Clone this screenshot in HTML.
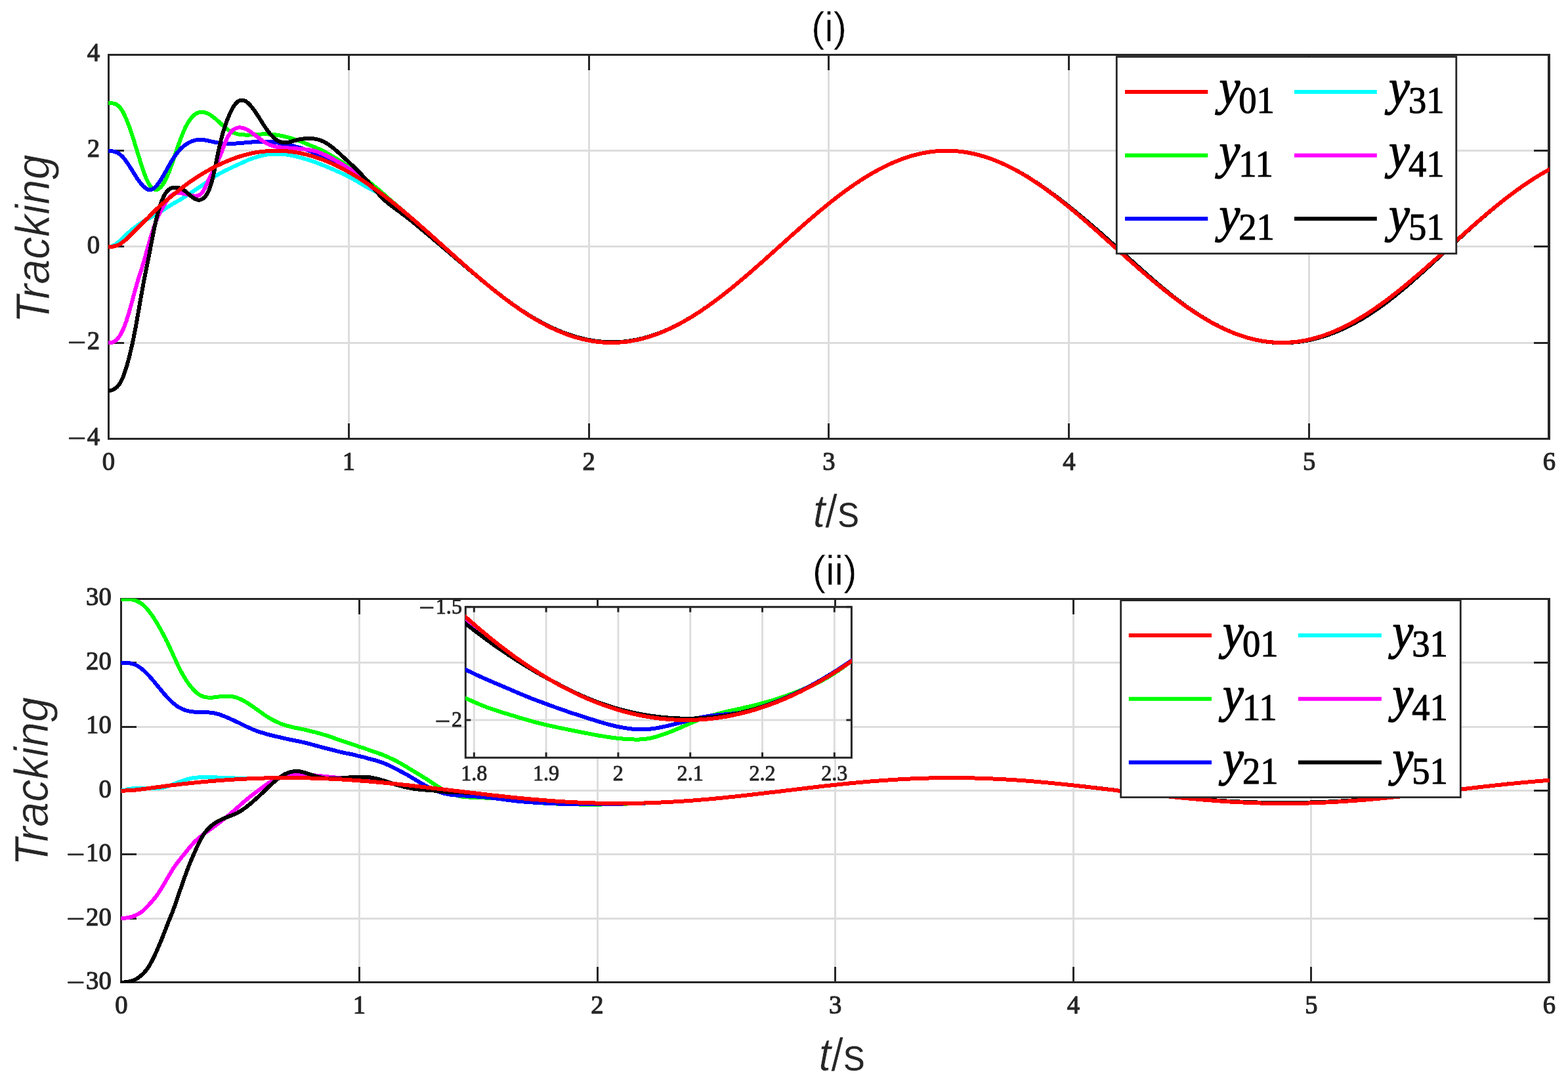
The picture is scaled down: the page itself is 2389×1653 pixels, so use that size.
<!DOCTYPE html>
<html lang="en"><head><meta charset="utf-8"><title>Tracking</title>
<style>html,body{margin:0;padding:0;background:#fff;}svg{display:block;}text{white-space:pre;}</style></head><body>
<svg xmlns="http://www.w3.org/2000/svg" width="2389" height="1653" viewBox="0 0 2389 1653">
<rect width="2389" height="1653" fill="#fff"/>
<defs>
<clipPath id="c1"><rect x="165.1" y="83.1" width="2195.7" height="585.5"/></clipPath>
<clipPath id="c2"><rect x="184.4" y="911.8000000000001" width="2176.5" height="585.4"/></clipPath>
<clipPath id="c3"><rect x="708.9" y="924.3000000000001" width="588.9" height="230.4"/></clipPath>
</defs>
<g id="ax1" shape-rendering="crispEdges">
<g stroke="#dddddd" stroke-width="3.0" fill="none">
<line x1="531.5" y1="83.5" x2="531.5" y2="668.5"/>
<line x1="897.5" y1="83.5" x2="897.5" y2="668.5"/>
<line x1="1262.5" y1="83.5" x2="1262.5" y2="668.5"/>
<line x1="1628.5" y1="83.5" x2="1628.5" y2="668.5"/>
<line x1="1994.5" y1="83.5" x2="1994.5" y2="668.5"/>
<line x1="165.5" y1="522.5" x2="2360.5" y2="522.5"/>
<line x1="165.5" y1="375.5" x2="2360.5" y2="375.5"/>
<line x1="165.5" y1="229.5" x2="2360.5" y2="229.5"/>
</g>
<g stroke="#262626" stroke-width="3.0" fill="none">
<line x1="531.5" y1="668.5" x2="531.5" y2="645.0"/>
<line x1="531.5" y1="83.5" x2="531.5" y2="107.0"/>
<line x1="897.5" y1="668.5" x2="897.5" y2="645.0"/>
<line x1="897.5" y1="83.5" x2="897.5" y2="107.0"/>
<line x1="1262.5" y1="668.5" x2="1262.5" y2="645.0"/>
<line x1="1262.5" y1="83.5" x2="1262.5" y2="107.0"/>
<line x1="1628.5" y1="668.5" x2="1628.5" y2="645.0"/>
<line x1="1628.5" y1="83.5" x2="1628.5" y2="107.0"/>
<line x1="1994.5" y1="668.5" x2="1994.5" y2="645.0"/>
<line x1="1994.5" y1="83.5" x2="1994.5" y2="107.0"/>
<line x1="165.5" y1="522.5" x2="189.0" y2="522.5"/>
<line x1="2360.5" y1="522.5" x2="2337.0" y2="522.5"/>
<line x1="165.5" y1="375.5" x2="189.0" y2="375.5"/>
<line x1="2360.5" y1="375.5" x2="2337.0" y2="375.5"/>
<line x1="165.5" y1="229.5" x2="189.0" y2="229.5"/>
<line x1="2360.5" y1="229.5" x2="2337.0" y2="229.5"/>
<rect x="165.5" y="83.5" width="2195.0" height="585.0"/>
<line x1="2358.5" y1="82.0" x2="2358.5" y2="670.0" stroke-width="1"/>
</g>
</g>
<g id="cv1" clip-path="url(#c1)" fill="none" stroke-width="6.0" stroke-linejoin="round" stroke-linecap="square" shape-rendering="crispEdges">
<polyline stroke="#00ff00" points="165.5,157.3 167.1,157.4 168.6,157.4 170.2,157.4 171.8,157.5 173.3,157.7 174.9,158.1 176.5,158.7 178.1,159.6 179.6,160.7 181.2,162.1 182.8,163.8 184.3,165.8 185.9,168.2 187.5,170.9 189.0,174.0 190.6,177.4 192.2,181.0 193.7,184.8 195.3,188.8 196.9,192.9 198.4,197.3 200.0,201.8 201.6,206.6 203.2,211.4 204.7,216.5 206.3,221.6 207.9,226.7 209.4,231.9 211.0,237.1 212.6,242.2 214.1,247.2 215.7,252.2 217.3,256.9 218.8,261.5 220.4,265.8 222.0,269.8 223.5,273.6 225.1,276.9 226.7,279.8 228.3,282.3 229.8,284.3 231.4,286.0 233.0,287.3 234.5,288.3 236.1,288.8 237.7,289.0 239.2,288.8 240.8,288.2 242.4,287.2 243.9,285.9 245.5,284.3 247.1,282.4 248.7,280.1 250.2,277.6 251.8,274.7 253.4,271.6 254.9,268.1 256.5,264.5 258.1,260.5 259.6,256.4 261.2,252.1 262.8,247.6 264.3,243.1 265.9,238.4 267.5,233.8 269.0,229.1 270.6,224.4 272.2,219.9 273.8,215.5 275.3,211.2 276.9,207.1 278.5,203.2 280.0,199.5 281.6,196.0 283.2,192.8 284.7,189.9 286.3,187.2 287.9,184.6 289.4,182.3 291.0,180.2 292.6,178.3 294.2,176.6 295.7,175.2 297.3,174.0 298.9,173.0 300.4,172.2 302.0,171.5 303.6,171.1 305.1,170.8 306.7,170.7 308.3,170.7 309.8,170.8 311.4,171.1 313.0,171.5 314.5,172.1 316.1,172.7 317.7,173.5 319.3,174.4 320.8,175.4 322.4,176.5 324.0,177.6 325.5,178.8 327.1,180.1 328.7,181.4 330.2,182.7 331.8,184.1 333.4,185.5 334.9,187.0 336.5,188.4 338.1,189.9 339.6,191.3 341.2,192.7 342.8,194.1 344.4,195.4 345.9,196.6 347.5,197.8 349.1,198.8 350.6,199.8 352.2,200.7 353.8,201.5 355.3,202.2 356.9,202.8 358.5,203.3 360.0,203.8 361.6,204.2 363.2,204.5 364.8,204.8 366.3,205.0 367.9,205.2 369.5,205.3 371.0,205.4 372.6,205.5 374.2,205.6 375.7,205.6 377.3,205.5 378.9,205.5 380.4,205.5 382.0,205.4 383.6,205.3 385.1,205.2 386.7,205.1 388.3,205.0 389.9,204.9 391.4,204.8 393.0,204.7 394.6,204.6 396.1,204.6 397.7,204.5 399.3,204.4 400.8,204.4 402.4,204.4 404.0,204.4 405.5,204.4 407.1,204.4 408.7,204.5 410.2,204.6 411.8,204.6 413.4,204.8 415.0,204.9 416.5,205.0 418.1,205.2 419.7,205.4 421.2,205.6 422.8,205.9 424.4,206.1 425.9,206.4 427.5,206.7 429.1,207.0 430.6,207.3 432.2,207.6 433.8,208.0 435.4,208.4 436.9,208.8 438.5,209.2 440.1,209.6 441.6,210.1 443.2,210.5 444.8,211.0 446.3,211.5 447.9,211.9 449.5,212.4 451.0,213.0 452.6,213.5 454.2,214.0 455.7,214.6 457.3,215.2 458.9,215.8 460.5,216.4 462.0,217.1 463.6,217.7 465.2,218.3 466.7,219.0 468.3,219.6 469.9,220.3 471.4,220.9 473.0,221.6 474.6,222.2 476.1,222.9 477.7,223.5 479.3,224.2 480.9,224.9 482.4,225.5 484.0,226.2 485.6,226.9 487.1,227.6 488.7,228.3 490.3,229.1 491.8,229.8 493.4,230.7 495.0,231.5 496.5,232.4 498.1,233.2 499.7,234.1 501.2,235.0 502.8,235.9 504.4,236.8 506.0,237.8 507.5,238.7 509.1,239.7 510.7,240.6 512.2,241.6 513.8,242.5 515.4,243.5 516.9,244.5 518.5,245.5 520.1,246.5 521.6,247.5 523.2,248.5 524.8,249.6 526.3,250.6 527.9,251.7 529.5,252.7 531.1,253.8 532.6,254.9 534.2,256.0 535.8,257.1 537.3,258.2 538.9,259.3 540.5,260.4 542.0,261.6 543.6,262.7 545.2,263.9 546.7,265.0 548.3,266.2 549.9,267.4 551.5,268.6 553.0,269.8 554.6,271.0 556.2,272.2 557.7,273.5 559.3,274.7 560.9,276.0 562.4,277.2 564.0,278.5 565.6,279.7 567.1,281.0 568.7,282.3 570.3,283.6 571.8,284.9 573.4,286.2 575.0,287.5 576.6,288.8 578.1,290.2 579.7,291.5 581.3,292.9 582.8,294.2 584.4,295.6 586.0,297.0 587.5,298.3 589.1,299.7 590.7,301.1 592.2,302.5 593.8,303.8 595.4,305.2 596.9,306.6 598.5,307.9 600.1,309.3 601.7,310.6 603.2,312.0 604.8,313.3 606.4,314.7 607.9,316.0 609.5,317.3 611.1,318.7 612.6,320.0 614.2,321.3 615.8,322.7 617.3,324.0 618.9,325.3 620.5,326.7 622.1,328.0 623.6,329.3 625.2,330.7 626.8,332.0 628.3,333.4 629.9,334.7 631.5,336.1 633.0,337.4 634.6,338.8 636.2,340.2 637.7,341.5 639.3,342.9 640.9,344.3 642.4,345.7 644.0,347.0 645.6,348.4 647.2,349.8 648.7,351.2 650.3,352.6 651.9,354.0 653.4,355.4 655.0,356.8 656.6,358.2 658.1,359.6 659.7,361.0 661.3,362.4 662.8,363.8 664.4,365.2 666.0,366.6 667.6,368.0 669.1,369.4 670.7,370.8 672.3,372.2 673.8,373.6 675.4,375.1 677.0,376.5 678.5,377.9 680.1,379.3 681.7,380.7 683.2,382.1 684.8,383.5 686.4,384.9 687.9,386.3 689.5,387.7 691.1,389.1 692.7,390.5 694.2,392.0 695.8,393.4 697.4,394.8 698.9,396.1 700.5,397.5 702.1,398.9 703.6,400.3 705.2,401.7 706.8,403.1 708.3,404.5 709.9,405.9 711.5,407.3 713.0,408.6 714.6,410.0 716.2,411.4 717.8,412.7 719.3,414.1 720.9,415.5 722.5,416.8 724.0,418.2 725.6,419.5 727.2,420.9 728.7,422.2 730.3,423.5 731.9,424.9 733.4,426.2 735.0,427.5 736.6,428.8 738.2,430.1 739.7,431.5 741.3,432.8 742.9,434.1 744.4,435.3 746.0,436.6 747.6,437.9 749.1,439.2 750.7,440.5 752.3,441.7 753.8,443.0 755.4,444.2 757.0,445.5 758.5,446.7 760.1,447.9 761.7,449.2 763.3,450.4 764.8,451.6 766.4,452.8 768.0,454.0 769.5,455.2 771.1,456.3 772.7,457.5 774.2,458.7 775.8,459.8 777.4,461.0 778.9,462.1 780.5,463.3 782.1,464.4 783.6,465.5 785.2,466.6 786.8,467.7 788.4,468.8 789.9,469.9 791.5,471.0 793.1,472.0 794.6,473.1 796.2,474.2 797.8,475.2 799.3,476.2 800.9,477.2 802.5,478.3 804.0,479.3 805.6,480.3 807.2,481.2 808.8,482.2 810.3,483.2 811.9,484.1 813.5,485.1 815.0,486.0 816.6,486.9 818.2,487.8 819.7,488.7 821.3,489.6 822.9,490.5 824.4,491.4 826.0,492.2 827.6,493.1 829.1,493.9 830.7,494.7 832.3,495.6 833.9,496.4 835.4,497.2 837.0,497.9 838.6,498.7 840.1,499.5 841.7,500.2 843.3,500.9 844.8,501.7 846.4,502.4 848.0,503.1 849.5,503.8 851.1,504.4 852.7,505.1 854.2,505.8 855.8,506.4 857.4,507.0 859.0,507.7 860.5,508.3 862.1,508.8 863.7,509.4 865.2,510.0 866.8,510.5 868.4,511.1 869.9,511.6 871.5,512.1 873.1,512.6 874.6,513.1 876.2,513.6 877.8,514.1 879.4,514.5 880.9,515.0 882.5,515.4 884.1,515.8 885.6,516.2 887.2,516.6 888.8,517.0 890.3,517.3 891.9,517.7 893.5,518.0 895.0,518.3 896.6,518.6 898.2,518.9 899.7,519.2 901.3,519.5 902.9,519.7 904.5,520.0 906.0,520.2 907.6,520.4 909.2,520.6 910.7,520.8 912.3,521.0 913.9,521.2 915.4,521.3 917.0,521.4 918.6,521.6 920.1,521.7 921.7,521.8 923.3,521.8 924.9,521.9 926.4,521.9 928.0,522.0 929.6,522.0 931.1,522.0 932.7,522.0 934.3,522.0 935.8,522.0 937.4,521.9 939.0,521.9 940.5,521.8 942.1,521.7 943.7,521.6 945.2,521.5 946.8,521.4 948.4,521.3 950.0,521.1 951.5,520.9 953.1,520.8 954.7,520.6 956.2,520.4 957.8,520.1 959.4,519.9 960.9,519.7 962.5,519.4 964.1,519.1 965.6,518.8 967.2,518.5 968.8,518.2 970.3,517.9 971.9,517.6 973.5,517.2 975.1,516.9 976.6,516.5 978.2,516.1 979.8,515.7 981.3,515.3 982.9,514.8 984.5,514.4 986.0,513.9 987.6,513.5 989.2,513.0 990.7,512.5 992.3,512.0 993.9,511.5 995.5,510.9 997.0,510.4 998.6,509.8 1000.2,509.2 1001.7,508.7 1003.3,508.1 1004.9,507.5 1006.4,506.8 1008.0,506.2 1009.6,505.6 1011.1,504.9 1012.7,504.2 1014.3,503.6 1015.8,502.9 1017.4,502.2 1019.0,501.4 1020.6,500.7 1022.1,500.0 1023.7,499.2 1025.3,498.5 1026.8,497.7 1028.4,496.9 1030.0,496.1 1031.5,495.3 1033.1,494.5 1034.7,493.7 1036.2,492.8 1037.8,492.0 1039.4,491.1 1040.9,490.2 1042.5,489.3 1044.1,488.4 1045.7,487.5 1047.2,486.6 1048.8,485.7 1050.4,484.8 1051.9,483.8 1053.5,482.9 1055.1,481.9 1056.6,480.9 1058.2,479.9 1059.8,478.9 1061.3,477.9 1062.9,476.9 1064.5,475.9 1066.1,474.9 1067.6,473.8 1069.2,472.8 1070.8,471.7 1072.3,470.6 1073.9,469.6 1075.5,468.5 1077.0,467.4 1078.6,466.3 1080.2,465.2 1081.7,464.0 1083.3,462.9 1084.9,461.8 1086.4,460.6 1088.0,459.5 1089.6,458.3 1091.2,457.2 1092.7,456.0 1094.3,454.8 1095.9,453.6 1097.4,452.4 1099.0,451.2 1100.6,450.0 1102.1,448.8 1103.7,447.5 1105.3,446.3 1106.8,445.1 1108.4,443.8 1110.0,442.6 1111.6,441.3 1113.1,440.1 1114.7,438.8 1116.3,437.5 1117.8,436.2 1119.4,434.9 1121.0,433.6 1122.5,432.3 1124.1,431.0 1125.7,429.7 1127.2,428.4 1128.8,427.1 1130.4,425.8 1131.9,424.5 1133.5,423.1 1135.1,421.8 1136.7,420.4 1138.2,419.1 1139.8,417.7 1141.4,416.4 1142.9,415.0 1144.5,413.7 1146.1,412.3 1147.6,410.9 1149.2,409.6 1150.8,408.2 1152.3,406.8 1153.9,405.4 1155.5,404.1 1157.0,402.7 1158.6,401.3 1160.2,399.9 1161.8,398.5 1163.3,397.1 1164.9,395.7 1166.5,394.3 1168.0,392.9 1169.6,391.5 1171.2,390.1 1172.7,388.7 1174.3,387.3 1175.9,385.9 1177.4,384.5 1179.0,383.1 1180.6,381.7 1182.2,380.3 1183.7,378.8 1185.3,377.4 1186.9,376.0 1188.4,374.6 1190.0,373.2 1191.6,371.8 1193.1,370.4 1194.7,369.0 1196.3,367.6 1197.8,366.2 1199.4,364.8 1201.0,363.3 1202.5,361.9 1204.1,360.5 1205.7,359.1 1207.3,357.7 1208.8,356.3 1210.4,354.9 1212.0,353.5 1213.5,352.2 1215.1,350.8 1216.7,349.4 1218.2,348.0 1219.8,346.6 1221.4,345.2 1222.9,343.8 1224.5,342.5 1226.1,341.1 1227.6,339.7 1229.2,338.4 1230.8,337.0 1232.4,335.6 1233.9,334.3 1235.5,332.9 1237.1,331.6 1238.6,330.3 1240.2,328.9 1241.8,327.6 1243.3,326.3 1244.9,324.9 1246.5,323.6 1248.0,322.3 1249.6,321.0 1251.2,319.7 1252.8,318.4 1254.3,317.1 1255.9,315.8 1257.5,314.5 1259.0,313.2 1260.6,312.0 1262.2,310.7 1263.7,309.4 1265.3,308.2 1266.9,306.9 1268.4,305.7 1270.0,304.5 1271.6,303.2 1273.1,302.0 1274.7,300.8 1276.3,299.6 1277.9,298.4 1279.4,297.2 1281.0,296.0 1282.6,294.8 1284.1,293.7 1285.7,292.5 1287.3,291.3 1288.8,290.2 1290.4,289.1 1292.0,287.9 1293.5,286.8 1295.1,285.7 1296.7,284.6 1298.3,283.5 1299.8,282.4 1301.4,281.3 1303.0,280.2 1304.5,279.2 1306.1,278.1 1307.7,277.1 1309.2,276.1 1310.8,275.0 1312.4,274.0 1313.9,273.0 1315.5,272.0 1317.1,271.0 1318.6,270.0 1320.2,269.1 1321.8,268.1 1323.4,267.2 1324.9,266.2 1326.5,265.3 1328.1,264.4 1329.6,263.5 1331.2,262.6 1332.8,261.7 1334.3,260.8 1335.9,260.0 1337.5,259.1 1339.0,258.3 1340.6,257.4 1342.2,256.6 1343.7,255.8 1345.3,255.0 1346.9,254.2 1348.5,253.4 1350.0,252.7 1351.6,251.9 1353.2,251.2 1354.7,250.4 1356.3,249.7 1357.9,249.0 1359.4,248.3 1361.0,247.6 1362.6,247.0 1364.1,246.3 1365.7,245.7 1367.3,245.0 1368.9,244.4 1370.4,243.8 1372.0,243.2 1373.6,242.6 1375.1,242.0 1376.7,241.5 1378.3,240.9 1379.8,240.4 1381.4,239.9 1383.0,239.3 1384.5,238.8 1386.1,238.4 1387.7,237.9 1389.2,237.4 1390.8,237.0 1392.4,236.5 1394.0,236.1 1395.5,235.7 1397.1,235.3 1398.7,234.9 1400.2,234.6 1401.8,234.2 1403.4,233.9 1404.9,233.5 1406.5,233.2 1408.1,232.9 1409.6,232.6 1411.2,232.4 1412.8,232.1 1414.3,231.9 1415.9,231.6 1417.5,231.4 1419.1,231.2 1420.6,231.0 1422.2,230.8 1423.8,230.6 1425.3,230.5 1426.9,230.3 1428.5,230.2 1430.0,230.1 1431.6,230.0 1433.2,229.9 1434.7,229.8 1436.3,229.8 1437.9,229.7 1439.5,229.7 1441.0,229.7 1442.6,229.7 1444.2,229.7 1445.7,229.7 1447.3,229.7 1448.9,229.8 1450.4,229.9 1452.0,229.9 1453.6,230.0 1455.1,230.1 1456.7,230.2 1458.3,230.4 1459.8,230.5 1461.4,230.7 1463.0,230.8 1464.6,231.0 1466.1,231.2 1467.7,231.4 1469.3,231.7 1470.8,231.9 1472.4,232.1 1474.0,232.4 1475.5,232.7 1477.1,233.0 1478.7,233.3 1480.2,233.6 1481.8,233.9 1483.4,234.3 1485.0,234.6 1486.5,235.0 1488.1,235.4 1489.7,235.8 1491.2,236.2 1492.8,236.6 1494.4,237.1 1495.9,237.5 1497.5,238.0 1499.1,238.5 1500.6,238.9 1502.2,239.4 1503.8,240.0 1505.3,240.5 1506.9,241.0 1508.5,241.6 1510.1,242.1 1511.6,242.7 1513.2,243.3 1514.8,243.9 1516.3,244.5 1517.9,245.1 1519.5,245.8 1521.0,246.4 1522.6,247.1 1524.2,247.8 1525.7,248.4 1527.3,249.1 1528.9,249.9 1530.4,250.6 1532.0,251.3 1533.6,252.0 1535.2,252.8 1536.7,253.6 1538.3,254.4 1539.9,255.1 1541.4,255.9 1543.0,256.8 1544.6,257.6 1546.1,258.4 1547.7,259.3 1549.3,260.1 1550.8,261.0 1552.4,261.9 1554.0,262.7 1555.6,263.6 1557.1,264.6 1558.7,265.5 1560.3,266.4 1561.8,267.3 1563.4,268.3 1565.0,269.3 1566.5,270.2 1568.1,271.2 1569.7,272.2 1571.2,273.2 1572.8,274.2 1574.4,275.2 1575.9,276.2 1577.5,277.3 1579.1,278.3 1580.7,279.4 1582.2,280.5 1583.8,281.5 1585.4,282.6 1586.9,283.7 1588.5,284.8 1590.1,285.9 1591.6,287.0 1593.2,288.1 1594.8,289.3 1596.3,290.4 1597.9,291.6 1599.5,292.7 1601.0,293.9 1602.6,295.1 1604.2,296.2 1605.8,297.4 1607.3,298.6 1608.9,299.8 1610.5,301.0 1612.0,302.2 1613.6,303.5 1615.2,304.7 1616.7,305.9 1618.3,307.2 1619.9,308.4 1621.4,309.7 1623.0,310.9 1624.6,312.2 1626.2,313.5 1627.7,314.8 1629.3,316.0 1630.9,317.3 1632.4,318.6 1634.0,319.9 1635.6,321.2 1637.1,322.5 1638.7,323.9 1640.3,325.2 1641.8,326.5 1643.4,327.8 1645.0,329.2 1646.5,330.5 1648.1,331.8 1649.7,333.2 1651.3,334.5 1652.8,335.9 1654.4,337.3 1656.0,338.6 1657.5,340.0 1659.1,341.4 1660.7,342.7 1662.2,344.1 1663.8,345.5 1665.4,346.9 1666.9,348.2 1668.5,349.6 1670.1,351.0 1671.7,352.4 1673.2,353.8 1674.8,355.2 1676.4,356.6 1677.9,358.0 1679.5,359.4 1681.1,360.8 1682.6,362.2 1684.2,363.6 1685.8,365.0 1687.3,366.4 1688.9,367.8 1690.5,369.2 1692.0,370.7 1693.6,372.1 1695.2,373.5 1696.8,374.9 1698.3,376.3 1699.9,377.7 1701.5,379.1 1703.0,380.5 1704.6,381.9 1706.2,383.3 1707.7,384.8 1709.3,386.2 1710.9,387.6 1712.4,389.0 1714.0,390.4 1715.6,391.8 1717.1,393.2 1718.7,394.6 1720.3,396.0 1721.9,397.4 1723.4,398.8 1725.0,400.2 1726.6,401.5 1728.1,402.9 1729.7,404.3 1731.3,405.7 1732.8,407.1 1734.4,408.5 1736.0,409.8 1737.5,411.2 1739.1,412.6 1740.7,413.9 1742.3,415.3 1743.8,416.6 1745.4,418.0 1747.0,419.4 1748.5,420.7 1750.1,422.0 1751.7,423.4 1753.2,424.7 1754.8,426.0 1756.4,427.4 1757.9,428.7 1759.5,430.0 1761.1,431.3 1762.6,432.6 1764.2,433.9 1765.8,435.2 1767.4,436.5 1768.9,437.7 1770.5,439.0 1772.1,440.3 1773.6,441.6 1775.2,442.8 1776.8,444.1 1778.3,445.3 1779.9,446.5 1781.5,447.8 1783.0,449.0 1784.6,450.2 1786.2,451.4 1787.7,452.6 1789.3,453.8 1790.9,455.0 1792.5,456.2 1794.0,457.4 1795.6,458.5 1797.2,459.7 1798.7,460.9 1800.3,462.0 1801.9,463.1 1803.4,464.3 1805.0,465.4 1806.6,466.5 1808.1,467.6 1809.7,468.7 1811.3,469.8 1812.9,470.8 1814.4,471.9 1816.0,473.0 1817.6,474.0 1819.1,475.1 1820.7,476.1 1822.3,477.1 1823.8,478.1 1825.4,479.1 1827.0,480.1 1828.5,481.1 1830.1,482.1 1831.7,483.0 1833.2,484.0 1834.8,484.9 1836.4,485.9 1838.0,486.8 1839.5,487.7 1841.1,488.6 1842.7,489.5 1844.2,490.4 1845.8,491.3 1847.4,492.1 1848.9,493.0 1850.5,493.8 1852.1,494.6 1853.6,495.5 1855.2,496.3 1856.8,497.1 1858.3,497.8 1859.9,498.6 1861.5,499.4 1863.1,500.1 1864.6,500.9 1866.2,501.6 1867.8,502.3 1869.3,503.0 1870.9,503.7 1872.5,504.4 1874.0,505.0 1875.6,505.7 1877.2,506.3 1878.7,507.0 1880.3,507.6 1881.9,508.2 1883.5,508.8 1885.0,509.4 1886.6,509.9 1888.2,510.5 1889.7,511.0 1891.3,511.6 1892.9,512.1 1894.4,512.6 1896.0,513.1 1897.6,513.5 1899.1,514.0 1900.7,514.5 1902.3,514.9 1903.8,515.3 1905.4,515.8 1907.0,516.2 1908.6,516.5 1910.1,516.9 1911.7,517.3 1913.3,517.6 1914.8,518.0 1916.4,518.3 1918.0,518.6 1919.5,518.9 1921.1,519.2 1922.7,519.5 1924.2,519.7 1925.8,520.0 1927.4,520.2 1929.0,520.4 1930.5,520.6 1932.1,520.8 1933.7,521.0 1935.2,521.1 1936.8,521.3 1938.4,521.4 1939.9,521.5 1941.5,521.6 1943.1,521.7 1944.6,521.8 1946.2,521.9 1947.8,521.9 1949.3,522.0 1950.9,522.0 1952.5,522.0 1954.1,522.0 1955.6,522.0 1957.2,522.0 1958.8,521.9 1960.3,521.9 1961.9,521.8 1963.5,521.7 1965.0,521.6 1966.6,521.5 1968.2,521.4 1969.7,521.3 1971.3,521.1 1972.9,521.0 1974.4,520.8 1976.0,520.6 1977.6,520.4 1979.2,520.2 1980.7,519.9 1982.3,519.7 1983.9,519.4 1985.4,519.2 1987.0,518.9 1988.6,518.6 1990.1,518.3 1991.7,517.9 1993.3,517.6 1994.8,517.3 1996.4,516.9 1998.0,516.5 1999.6,516.1 2001.1,515.7 2002.7,515.3 2004.3,514.9 2005.8,514.4 2007.4,514.0 2009.0,513.5 2010.5,513.0 2012.1,512.5 2013.7,512.0 2015.2,511.5 2016.8,511.0 2018.4,510.4 2019.9,509.9 2021.5,509.3 2023.1,508.7 2024.7,508.1 2026.2,507.5 2027.8,506.9 2029.4,506.3 2030.9,505.6 2032.5,505.0 2034.1,504.3 2035.6,503.6 2037.2,503.0 2038.8,502.2 2040.3,501.5 2041.9,500.8 2043.5,500.1 2045.0,499.3 2046.6,498.6 2048.2,497.8 2049.8,497.0 2051.3,496.2 2052.9,495.4 2054.5,494.6 2056.0,493.8 2057.6,492.9 2059.2,492.1 2060.7,491.2 2062.3,490.3 2063.9,489.5 2065.4,488.6 2067.0,487.7 2068.6,486.7 2070.2,485.8 2071.7,484.9 2073.3,483.9 2074.9,483.0 2076.4,482.0 2078.0,481.0 2079.6,480.1 2081.1,479.1 2082.7,478.1 2084.3,477.1 2085.8,476.0 2087.4,475.0 2089.0,474.0 2090.5,472.9 2092.1,471.8 2093.7,470.8 2095.3,469.7 2096.8,468.6 2098.4,467.5 2100.0,466.4 2101.5,465.3 2103.1,464.2 2104.7,463.1 2106.2,461.9 2107.8,460.8 2109.4,459.6 2110.9,458.5 2112.5,457.3 2114.1,456.1 2115.7,454.9 2117.2,453.8 2118.8,452.6 2120.4,451.4 2121.9,450.1 2123.5,448.9 2125.1,447.7 2126.6,446.5 2128.2,445.2 2129.8,444.0 2131.3,442.7 2132.9,441.5 2134.5,440.2 2136.0,438.9 2137.6,437.7 2139.2,436.4 2140.8,435.1 2142.3,433.8 2143.9,432.5 2145.5,431.2 2147.0,429.9 2148.6,428.6 2150.2,427.3 2151.7,425.9 2153.3,424.6 2154.9,423.3 2156.4,421.9 2158.0,420.6 2159.6,419.3 2161.1,417.9 2162.7,416.6 2164.3,415.2 2165.9,413.8 2167.4,412.5 2169.0,411.1 2170.6,409.7 2172.1,408.4 2173.7,407.0 2175.3,405.6 2176.8,404.2 2178.4,402.8 2180.0,401.5 2181.5,400.1 2183.1,398.7 2184.7,397.3 2186.3,395.9 2187.8,394.5 2189.4,393.1 2191.0,391.7 2192.5,390.3 2194.1,388.9 2195.7,387.5 2197.2,386.1 2198.8,384.7 2200.4,383.2 2201.9,381.8 2203.5,380.4 2205.1,379.0 2206.6,377.6 2208.2,376.2 2209.8,374.8 2211.4,373.4 2212.9,372.0 2214.5,370.6 2216.1,369.1 2217.6,367.7 2219.2,366.3 2220.8,364.9 2222.3,363.5 2223.9,362.1 2225.5,360.7 2227.0,359.3 2228.6,357.9 2230.2,356.5 2231.7,355.1 2233.3,353.7 2234.9,352.3 2236.5,350.9 2238.0,349.5 2239.6,348.2 2241.2,346.8 2242.7,345.4 2244.3,344.0 2245.9,342.6 2247.4,341.3 2249.0,339.9 2250.6,338.5 2252.1,337.2 2253.7,335.8 2255.3,334.5 2256.9,333.1 2258.4,331.8 2260.0,330.4 2261.6,329.1 2263.1,327.7 2264.7,326.4 2266.3,325.1 2267.8,323.8 2269.4,322.5 2271.0,321.1 2272.5,319.8 2274.1,318.5 2275.7,317.2 2277.2,316.0 2278.8,314.7 2280.4,313.4 2282.0,312.1 2283.5,310.9 2285.1,309.6 2286.7,308.3 2288.2,307.1 2289.8,305.8 2291.4,304.6 2292.9,303.4 2294.5,302.2 2296.1,300.9 2297.6,299.7 2299.2,298.5 2300.8,297.3 2302.4,296.2 2303.9,295.0 2305.5,293.8 2307.1,292.6 2308.6,291.5 2310.2,290.3 2311.8,289.2 2313.3,288.1 2314.9,286.9 2316.5,285.8 2318.0,284.7 2319.6,283.6 2321.2,282.5 2322.7,281.5 2324.3,280.4 2325.9,279.3 2327.5,278.3 2329.0,277.2 2330.6,276.2 2332.2,275.2 2333.7,274.1 2335.3,273.1 2336.9,272.1 2338.4,271.1 2340.0,270.2 2341.6,269.2 2343.1,268.2 2344.7,267.3 2346.3,266.3 2347.8,265.4 2349.4,264.5 2351.0,263.6 2352.6,262.7 2354.1,261.8 2355.7,260.9 2357.3,260.1 2358.8,259.2 2360.4,258.4"/>
<polyline stroke="#0000ff" points="165.5,230.1 167.1,230.1 168.6,230.2 170.2,230.3 171.8,230.5 173.3,230.7 174.9,231.1 176.5,231.7 178.1,232.4 179.6,233.2 181.2,234.1 182.8,235.3 184.3,236.6 185.9,238.0 187.5,239.6 189.0,241.5 190.6,243.5 192.2,245.6 193.7,247.9 195.3,250.1 196.9,252.5 198.4,254.9 200.0,257.4 201.6,260.0 203.2,262.6 204.7,265.1 206.3,267.6 207.9,270.1 209.4,272.5 211.0,274.7 212.6,276.9 214.1,278.9 215.7,280.8 217.3,282.5 218.8,284.1 220.4,285.5 222.0,286.8 223.5,287.8 225.1,288.6 226.7,289.0 228.3,289.1 229.8,288.9 231.4,288.5 233.0,287.7 234.5,286.7 236.1,285.4 237.7,283.8 239.2,282.0 240.8,280.0 242.4,277.9 243.9,275.6 245.5,273.1 247.1,270.6 248.7,267.9 250.2,265.2 251.8,262.4 253.4,259.6 254.9,256.7 256.5,253.9 258.1,251.2 259.6,248.4 261.2,245.8 262.8,243.3 264.3,240.8 265.9,238.5 267.5,236.3 269.0,234.1 270.6,232.2 272.2,230.3 273.8,228.5 275.3,226.8 276.9,225.3 278.5,223.8 280.0,222.5 281.6,221.3 283.2,220.2 284.7,219.2 286.3,218.2 287.9,217.4 289.4,216.6 291.0,215.8 292.6,215.2 294.2,214.6 295.7,214.1 297.3,213.7 298.9,213.3 300.4,213.1 302.0,212.9 303.6,212.8 305.1,212.8 306.7,212.8 308.3,212.9 309.8,213.1 311.4,213.3 313.0,213.6 314.5,213.8 316.1,214.2 317.7,214.5 319.3,214.9 320.8,215.2 322.4,215.6 324.0,215.9 325.5,216.3 327.1,216.6 328.7,216.9 330.2,217.2 331.8,217.5 333.4,217.7 334.9,218.0 336.5,218.2 338.1,218.3 339.6,218.5 341.2,218.6 342.8,218.7 344.4,218.8 345.9,218.8 347.5,218.9 349.1,218.9 350.6,218.9 352.2,218.8 353.8,218.8 355.3,218.7 356.9,218.7 358.5,218.6 360.0,218.5 361.6,218.4 363.2,218.3 364.8,218.1 366.3,218.0 367.9,217.9 369.5,217.7 371.0,217.6 372.6,217.4 374.2,217.3 375.7,217.1 377.3,217.0 378.9,216.9 380.4,216.7 382.0,216.6 383.6,216.5 385.1,216.4 386.7,216.3 388.3,216.2 389.9,216.1 391.4,216.1 393.0,216.0 394.6,215.9 396.1,215.9 397.7,215.9 399.3,215.8 400.8,215.8 402.4,215.8 404.0,215.8 405.5,215.8 407.1,215.9 408.7,215.9 410.2,216.0 411.8,216.1 413.4,216.2 415.0,216.3 416.5,216.5 418.1,216.7 419.7,216.9 421.2,217.1 422.8,217.4 424.4,217.7 425.9,218.0 427.5,218.3 429.1,218.6 430.6,218.9 432.2,219.3 433.8,219.6 435.4,219.9 436.9,220.3 438.5,220.6 440.1,220.9 441.6,221.3 443.2,221.6 444.8,221.9 446.3,222.3 447.9,222.7 449.5,223.1 451.0,223.5 452.6,223.9 454.2,224.3 455.7,224.7 457.3,225.2 458.9,225.7 460.5,226.1 462.0,226.6 463.6,227.1 465.2,227.6 466.7,228.2 468.3,228.7 469.9,229.3 471.4,229.8 473.0,230.4 474.6,231.1 476.1,231.8 477.7,232.6 479.3,233.4 480.9,234.3 482.4,235.3 484.0,236.4 485.6,237.4 487.1,238.4 488.7,239.4 490.3,240.4 491.8,241.2 493.4,242.1 495.0,242.8 496.5,243.6 498.1,244.3 499.7,245.0 501.2,245.7 502.8,246.4 504.4,247.2 506.0,247.9 507.5,248.7 509.1,249.4 510.7,250.2 512.2,251.0 513.8,251.8 515.4,252.6 516.9,253.4 518.5,254.3 520.1,255.1 521.6,256.0 523.2,256.9 524.8,257.8 526.3,258.7 527.9,259.6 529.5,260.5 531.1,261.5 532.6,262.4 534.2,263.3 535.8,264.3 537.3,265.3 538.9,266.2 540.5,267.2 542.0,268.2 543.6,269.2 545.2,270.2 546.7,271.2 548.3,272.2 549.9,273.3 551.5,274.3 553.0,275.3 554.6,276.4 556.2,277.4 557.7,278.5 559.3,279.5 560.9,280.6 562.4,281.7 564.0,282.7 565.6,283.8 567.1,284.9 568.7,286.0 570.3,287.2 571.8,288.3 573.4,289.4 575.0,290.6 576.6,291.7 578.1,292.9 579.7,294.0 581.3,295.2 582.8,296.4 584.4,297.6 586.0,298.8 587.5,300.0 589.1,301.2 590.7,302.4 592.2,303.6 593.8,304.8 595.4,306.1 596.9,307.3 598.5,308.6 600.1,309.8 601.7,311.1 603.2,312.4 604.8,313.6 606.4,314.9 607.9,316.2 609.5,317.5 611.1,318.8 612.6,320.1 614.2,321.4 615.8,322.7 617.3,324.0 618.9,325.3 620.5,326.7 622.1,328.0 623.6,329.3 625.2,330.7 626.8,332.0 628.3,333.4 629.9,334.7 631.5,336.1 633.0,337.4 634.6,338.8 636.2,340.2 637.7,341.5 639.3,342.9 640.9,344.3 642.4,345.7 644.0,347.0 645.6,348.4 647.2,349.8 648.7,351.2 650.3,352.6 651.9,354.0 653.4,355.4 655.0,356.8 656.6,358.2 658.1,359.6 659.7,361.0 661.3,362.4 662.8,363.8 664.4,365.2 666.0,366.6 667.6,368.0 669.1,369.4 670.7,370.8 672.3,372.2 673.8,373.6 675.4,375.1 677.0,376.5 678.5,377.9 680.1,379.3 681.7,380.7 683.2,382.1 684.8,383.5 686.4,384.9 687.9,386.3 689.5,387.7 691.1,389.1 692.7,390.5 694.2,392.0 695.8,393.4 697.4,394.8 698.9,396.1 700.5,397.5 702.1,398.9 703.6,400.3 705.2,401.7 706.8,403.1 708.3,404.5 709.9,405.9 711.5,407.3 713.0,408.6 714.6,410.0 716.2,411.4 717.8,412.7 719.3,414.1 720.9,415.5 722.5,416.8 724.0,418.2 725.6,419.5 727.2,420.9 728.7,422.2 730.3,423.5 731.9,424.9 733.4,426.2 735.0,427.5 736.6,428.8 738.2,430.1 739.7,431.5 741.3,432.8 742.9,434.1 744.4,435.3 746.0,436.6 747.6,437.9 749.1,439.2 750.7,440.5 752.3,441.7 753.8,443.0 755.4,444.2 757.0,445.5 758.5,446.7 760.1,447.9 761.7,449.2 763.3,450.4 764.8,451.6 766.4,452.8 768.0,454.0 769.5,455.2 771.1,456.3 772.7,457.5 774.2,458.7 775.8,459.8 777.4,461.0 778.9,462.1 780.5,463.3 782.1,464.4 783.6,465.5 785.2,466.6 786.8,467.7 788.4,468.8 789.9,469.9 791.5,471.0 793.1,472.0 794.6,473.1 796.2,474.2 797.8,475.2 799.3,476.2 800.9,477.2 802.5,478.3 804.0,479.3 805.6,480.3 807.2,481.2 808.8,482.2 810.3,483.2 811.9,484.1 813.5,485.1 815.0,486.0 816.6,486.9 818.2,487.8 819.7,488.7 821.3,489.6 822.9,490.5 824.4,491.4 826.0,492.2 827.6,493.1 829.1,493.9 830.7,494.7 832.3,495.6 833.9,496.4 835.4,497.2 837.0,497.9 838.6,498.7 840.1,499.5 841.7,500.2 843.3,500.9 844.8,501.7 846.4,502.4 848.0,503.1 849.5,503.8 851.1,504.4 852.7,505.1 854.2,505.8 855.8,506.4 857.4,507.0 859.0,507.7 860.5,508.3 862.1,508.8 863.7,509.4 865.2,510.0 866.8,510.5 868.4,511.1 869.9,511.6 871.5,512.1 873.1,512.6 874.6,513.1 876.2,513.6 877.8,514.1 879.4,514.5 880.9,515.0 882.5,515.4 884.1,515.8 885.6,516.2 887.2,516.6 888.8,517.0 890.3,517.3 891.9,517.7 893.5,518.0 895.0,518.3 896.6,518.6 898.2,518.9 899.7,519.2 901.3,519.5 902.9,519.7 904.5,520.0 906.0,520.2 907.6,520.4 909.2,520.6 910.7,520.8 912.3,521.0 913.9,521.2 915.4,521.3 917.0,521.4 918.6,521.6 920.1,521.7 921.7,521.8 923.3,521.8 924.9,521.9 926.4,521.9 928.0,522.0 929.6,522.0 931.1,522.0 932.7,522.0 934.3,522.0 935.8,522.0 937.4,521.9 939.0,521.9 940.5,521.8 942.1,521.7 943.7,521.6 945.2,521.5 946.8,521.4 948.4,521.3 950.0,521.1 951.5,520.9 953.1,520.8 954.7,520.6 956.2,520.4 957.8,520.1 959.4,519.9 960.9,519.7 962.5,519.4 964.1,519.1 965.6,518.8 967.2,518.5 968.8,518.2 970.3,517.9 971.9,517.6 973.5,517.2 975.1,516.9 976.6,516.5 978.2,516.1 979.8,515.7 981.3,515.3 982.9,514.8 984.5,514.4 986.0,513.9 987.6,513.5 989.2,513.0 990.7,512.5 992.3,512.0 993.9,511.5 995.5,510.9 997.0,510.4 998.6,509.8 1000.2,509.2 1001.7,508.7 1003.3,508.1 1004.9,507.5 1006.4,506.8 1008.0,506.2 1009.6,505.6 1011.1,504.9 1012.7,504.2 1014.3,503.6 1015.8,502.9 1017.4,502.2 1019.0,501.4 1020.6,500.7 1022.1,500.0 1023.7,499.2 1025.3,498.5 1026.8,497.7 1028.4,496.9 1030.0,496.1 1031.5,495.3 1033.1,494.5 1034.7,493.7 1036.2,492.8 1037.8,492.0 1039.4,491.1 1040.9,490.2 1042.5,489.3 1044.1,488.4 1045.7,487.5 1047.2,486.6 1048.8,485.7 1050.4,484.8 1051.9,483.8 1053.5,482.9 1055.1,481.9 1056.6,480.9 1058.2,479.9 1059.8,478.9 1061.3,477.9 1062.9,476.9 1064.5,475.9 1066.1,474.9 1067.6,473.8 1069.2,472.8 1070.8,471.7 1072.3,470.6 1073.9,469.6 1075.5,468.5 1077.0,467.4 1078.6,466.3 1080.2,465.2 1081.7,464.0 1083.3,462.9 1084.9,461.8 1086.4,460.6 1088.0,459.5 1089.6,458.3 1091.2,457.2 1092.7,456.0 1094.3,454.8 1095.9,453.6 1097.4,452.4 1099.0,451.2 1100.6,450.0 1102.1,448.8 1103.7,447.5 1105.3,446.3 1106.8,445.1 1108.4,443.8 1110.0,442.6 1111.6,441.3 1113.1,440.1 1114.7,438.8 1116.3,437.5 1117.8,436.2 1119.4,434.9 1121.0,433.6 1122.5,432.3 1124.1,431.0 1125.7,429.7 1127.2,428.4 1128.8,427.1 1130.4,425.8 1131.9,424.5 1133.5,423.1 1135.1,421.8 1136.7,420.4 1138.2,419.1 1139.8,417.7 1141.4,416.4 1142.9,415.0 1144.5,413.7 1146.1,412.3 1147.6,410.9 1149.2,409.6 1150.8,408.2 1152.3,406.8 1153.9,405.4 1155.5,404.1 1157.0,402.7 1158.6,401.3 1160.2,399.9 1161.8,398.5 1163.3,397.1 1164.9,395.7 1166.5,394.3 1168.0,392.9 1169.6,391.5 1171.2,390.1 1172.7,388.7 1174.3,387.3 1175.9,385.9 1177.4,384.5 1179.0,383.1 1180.6,381.7 1182.2,380.3 1183.7,378.8 1185.3,377.4 1186.9,376.0 1188.4,374.6 1190.0,373.2 1191.6,371.8 1193.1,370.4 1194.7,369.0 1196.3,367.6 1197.8,366.2 1199.4,364.8 1201.0,363.3 1202.5,361.9 1204.1,360.5 1205.7,359.1 1207.3,357.7 1208.8,356.3 1210.4,354.9 1212.0,353.5 1213.5,352.2 1215.1,350.8 1216.7,349.4 1218.2,348.0 1219.8,346.6 1221.4,345.2 1222.9,343.8 1224.5,342.5 1226.1,341.1 1227.6,339.7 1229.2,338.4 1230.8,337.0 1232.4,335.6 1233.9,334.3 1235.5,332.9 1237.1,331.6 1238.6,330.3 1240.2,328.9 1241.8,327.6 1243.3,326.3 1244.9,324.9 1246.5,323.6 1248.0,322.3 1249.6,321.0 1251.2,319.7 1252.8,318.4 1254.3,317.1 1255.9,315.8 1257.5,314.5 1259.0,313.2 1260.6,312.0 1262.2,310.7 1263.7,309.4 1265.3,308.2 1266.9,306.9 1268.4,305.7 1270.0,304.5 1271.6,303.2 1273.1,302.0 1274.7,300.8 1276.3,299.6 1277.9,298.4 1279.4,297.2 1281.0,296.0 1282.6,294.8 1284.1,293.7 1285.7,292.5 1287.3,291.3 1288.8,290.2 1290.4,289.1 1292.0,287.9 1293.5,286.8 1295.1,285.7 1296.7,284.6 1298.3,283.5 1299.8,282.4 1301.4,281.3 1303.0,280.2 1304.5,279.2 1306.1,278.1 1307.7,277.1 1309.2,276.1 1310.8,275.0 1312.4,274.0 1313.9,273.0 1315.5,272.0 1317.1,271.0 1318.6,270.0 1320.2,269.1 1321.8,268.1 1323.4,267.2 1324.9,266.2 1326.5,265.3 1328.1,264.4 1329.6,263.5 1331.2,262.6 1332.8,261.7 1334.3,260.8 1335.9,260.0 1337.5,259.1 1339.0,258.3 1340.6,257.4 1342.2,256.6 1343.7,255.8 1345.3,255.0 1346.9,254.2 1348.5,253.4 1350.0,252.7 1351.6,251.9 1353.2,251.2 1354.7,250.4 1356.3,249.7 1357.9,249.0 1359.4,248.3 1361.0,247.6 1362.6,247.0 1364.1,246.3 1365.7,245.7 1367.3,245.0 1368.9,244.4 1370.4,243.8 1372.0,243.2 1373.6,242.6 1375.1,242.0 1376.7,241.5 1378.3,240.9 1379.8,240.4 1381.4,239.9 1383.0,239.3 1384.5,238.8 1386.1,238.4 1387.7,237.9 1389.2,237.4 1390.8,237.0 1392.4,236.5 1394.0,236.1 1395.5,235.7 1397.1,235.3 1398.7,234.9 1400.2,234.6 1401.8,234.2 1403.4,233.9 1404.9,233.5 1406.5,233.2 1408.1,232.9 1409.6,232.6 1411.2,232.4 1412.8,232.1 1414.3,231.9 1415.9,231.6 1417.5,231.4 1419.1,231.2 1420.6,231.0 1422.2,230.8 1423.8,230.6 1425.3,230.5 1426.9,230.3 1428.5,230.2 1430.0,230.1 1431.6,230.0 1433.2,229.9 1434.7,229.8 1436.3,229.8 1437.9,229.7 1439.5,229.7 1441.0,229.7 1442.6,229.7 1444.2,229.7 1445.7,229.7 1447.3,229.7 1448.9,229.8 1450.4,229.9 1452.0,229.9 1453.6,230.0 1455.1,230.1 1456.7,230.2 1458.3,230.4 1459.8,230.5 1461.4,230.7 1463.0,230.8 1464.6,231.0 1466.1,231.2 1467.7,231.4 1469.3,231.7 1470.8,231.9 1472.4,232.1 1474.0,232.4 1475.5,232.7 1477.1,233.0 1478.7,233.3 1480.2,233.6 1481.8,233.9 1483.4,234.3 1485.0,234.6 1486.5,235.0 1488.1,235.4 1489.7,235.8 1491.2,236.2 1492.8,236.6 1494.4,237.1 1495.9,237.5 1497.5,238.0 1499.1,238.5 1500.6,238.9 1502.2,239.4 1503.8,240.0 1505.3,240.5 1506.9,241.0 1508.5,241.6 1510.1,242.1 1511.6,242.7 1513.2,243.3 1514.8,243.9 1516.3,244.5 1517.9,245.1 1519.5,245.8 1521.0,246.4 1522.6,247.1 1524.2,247.8 1525.7,248.4 1527.3,249.1 1528.9,249.9 1530.4,250.6 1532.0,251.3 1533.6,252.0 1535.2,252.8 1536.7,253.6 1538.3,254.4 1539.9,255.1 1541.4,255.9 1543.0,256.8 1544.6,257.6 1546.1,258.4 1547.7,259.3 1549.3,260.1 1550.8,261.0 1552.4,261.9 1554.0,262.7 1555.6,263.6 1557.1,264.6 1558.7,265.5 1560.3,266.4 1561.8,267.3 1563.4,268.3 1565.0,269.3 1566.5,270.2 1568.1,271.2 1569.7,272.2 1571.2,273.2 1572.8,274.2 1574.4,275.2 1575.9,276.2 1577.5,277.3 1579.1,278.3 1580.7,279.4 1582.2,280.5 1583.8,281.5 1585.4,282.6 1586.9,283.7 1588.5,284.8 1590.1,285.9 1591.6,287.0 1593.2,288.1 1594.8,289.3 1596.3,290.4 1597.9,291.6 1599.5,292.7 1601.0,293.9 1602.6,295.1 1604.2,296.2 1605.8,297.4 1607.3,298.6 1608.9,299.8 1610.5,301.0 1612.0,302.2 1613.6,303.5 1615.2,304.7 1616.7,305.9 1618.3,307.2 1619.9,308.4 1621.4,309.7 1623.0,310.9 1624.6,312.2 1626.2,313.5 1627.7,314.8 1629.3,316.0 1630.9,317.3 1632.4,318.6 1634.0,319.9 1635.6,321.2 1637.1,322.5 1638.7,323.9 1640.3,325.2 1641.8,326.5 1643.4,327.8 1645.0,329.2 1646.5,330.5 1648.1,331.8 1649.7,333.2 1651.3,334.5 1652.8,335.9 1654.4,337.3 1656.0,338.6 1657.5,340.0 1659.1,341.4 1660.7,342.7 1662.2,344.1 1663.8,345.5 1665.4,346.9 1666.9,348.2 1668.5,349.6 1670.1,351.0 1671.7,352.4 1673.2,353.8 1674.8,355.2 1676.4,356.6 1677.9,358.0 1679.5,359.4 1681.1,360.8 1682.6,362.2 1684.2,363.6 1685.8,365.0 1687.3,366.4 1688.9,367.8 1690.5,369.2 1692.0,370.7 1693.6,372.1 1695.2,373.5 1696.8,374.9 1698.3,376.3 1699.9,377.7 1701.5,379.1 1703.0,380.5 1704.6,381.9 1706.2,383.3 1707.7,384.8 1709.3,386.2 1710.9,387.6 1712.4,389.0 1714.0,390.4 1715.6,391.8 1717.1,393.2 1718.7,394.6 1720.3,396.0 1721.9,397.4 1723.4,398.8 1725.0,400.2 1726.6,401.5 1728.1,402.9 1729.7,404.3 1731.3,405.7 1732.8,407.1 1734.4,408.5 1736.0,409.8 1737.5,411.2 1739.1,412.6 1740.7,413.9 1742.3,415.3 1743.8,416.6 1745.4,418.0 1747.0,419.4 1748.5,420.7 1750.1,422.0 1751.7,423.4 1753.2,424.7 1754.8,426.0 1756.4,427.4 1757.9,428.7 1759.5,430.0 1761.1,431.3 1762.6,432.6 1764.2,433.9 1765.8,435.2 1767.4,436.5 1768.9,437.7 1770.5,439.0 1772.1,440.3 1773.6,441.6 1775.2,442.8 1776.8,444.1 1778.3,445.3 1779.9,446.5 1781.5,447.8 1783.0,449.0 1784.6,450.2 1786.2,451.4 1787.7,452.6 1789.3,453.8 1790.9,455.0 1792.5,456.2 1794.0,457.4 1795.6,458.5 1797.2,459.7 1798.7,460.9 1800.3,462.0 1801.9,463.1 1803.4,464.3 1805.0,465.4 1806.6,466.5 1808.1,467.6 1809.7,468.7 1811.3,469.8 1812.9,470.8 1814.4,471.9 1816.0,473.0 1817.6,474.0 1819.1,475.1 1820.7,476.1 1822.3,477.1 1823.8,478.1 1825.4,479.1 1827.0,480.1 1828.5,481.1 1830.1,482.1 1831.7,483.0 1833.2,484.0 1834.8,484.9 1836.4,485.9 1838.0,486.8 1839.5,487.7 1841.1,488.6 1842.7,489.5 1844.2,490.4 1845.8,491.3 1847.4,492.1 1848.9,493.0 1850.5,493.8 1852.1,494.6 1853.6,495.5 1855.2,496.3 1856.8,497.1 1858.3,497.8 1859.9,498.6 1861.5,499.4 1863.1,500.1 1864.6,500.9 1866.2,501.6 1867.8,502.3 1869.3,503.0 1870.9,503.7 1872.5,504.4 1874.0,505.0 1875.6,505.7 1877.2,506.3 1878.7,507.0 1880.3,507.6 1881.9,508.2 1883.5,508.8 1885.0,509.4 1886.6,509.9 1888.2,510.5 1889.7,511.0 1891.3,511.6 1892.9,512.1 1894.4,512.6 1896.0,513.1 1897.6,513.5 1899.1,514.0 1900.7,514.5 1902.3,514.9 1903.8,515.3 1905.4,515.8 1907.0,516.2 1908.6,516.5 1910.1,516.9 1911.7,517.3 1913.3,517.6 1914.8,518.0 1916.4,518.3 1918.0,518.6 1919.5,518.9 1921.1,519.2 1922.7,519.5 1924.2,519.7 1925.8,520.0 1927.4,520.2 1929.0,520.4 1930.5,520.6 1932.1,520.8 1933.7,521.0 1935.2,521.1 1936.8,521.3 1938.4,521.4 1939.9,521.5 1941.5,521.6 1943.1,521.7 1944.6,521.8 1946.2,521.9 1947.8,521.9 1949.3,522.0 1950.9,522.0 1952.5,522.0 1954.1,522.0 1955.6,522.0 1957.2,522.0 1958.8,521.9 1960.3,521.9 1961.9,521.8 1963.5,521.7 1965.0,521.6 1966.6,521.5 1968.2,521.4 1969.7,521.3 1971.3,521.1 1972.9,521.0 1974.4,520.8 1976.0,520.6 1977.6,520.4 1979.2,520.2 1980.7,519.9 1982.3,519.7 1983.9,519.4 1985.4,519.2 1987.0,518.9 1988.6,518.6 1990.1,518.3 1991.7,517.9 1993.3,517.6 1994.8,517.3 1996.4,516.9 1998.0,516.5 1999.6,516.1 2001.1,515.7 2002.7,515.3 2004.3,514.9 2005.8,514.4 2007.4,514.0 2009.0,513.5 2010.5,513.0 2012.1,512.5 2013.7,512.0 2015.2,511.5 2016.8,511.0 2018.4,510.4 2019.9,509.9 2021.5,509.3 2023.1,508.7 2024.7,508.1 2026.2,507.5 2027.8,506.9 2029.4,506.3 2030.9,505.6 2032.5,505.0 2034.1,504.3 2035.6,503.6 2037.2,503.0 2038.8,502.2 2040.3,501.5 2041.9,500.8 2043.5,500.1 2045.0,499.3 2046.6,498.6 2048.2,497.8 2049.8,497.0 2051.3,496.2 2052.9,495.4 2054.5,494.6 2056.0,493.8 2057.6,492.9 2059.2,492.1 2060.7,491.2 2062.3,490.3 2063.9,489.5 2065.4,488.6 2067.0,487.7 2068.6,486.7 2070.2,485.8 2071.7,484.9 2073.3,483.9 2074.9,483.0 2076.4,482.0 2078.0,481.0 2079.6,480.1 2081.1,479.1 2082.7,478.1 2084.3,477.1 2085.8,476.0 2087.4,475.0 2089.0,474.0 2090.5,472.9 2092.1,471.8 2093.7,470.8 2095.3,469.7 2096.8,468.6 2098.4,467.5 2100.0,466.4 2101.5,465.3 2103.1,464.2 2104.7,463.1 2106.2,461.9 2107.8,460.8 2109.4,459.6 2110.9,458.5 2112.5,457.3 2114.1,456.1 2115.7,454.9 2117.2,453.8 2118.8,452.6 2120.4,451.4 2121.9,450.1 2123.5,448.9 2125.1,447.7 2126.6,446.5 2128.2,445.2 2129.8,444.0 2131.3,442.7 2132.9,441.5 2134.5,440.2 2136.0,438.9 2137.6,437.7 2139.2,436.4 2140.8,435.1 2142.3,433.8 2143.9,432.5 2145.5,431.2 2147.0,429.9 2148.6,428.6 2150.2,427.3 2151.7,425.9 2153.3,424.6 2154.9,423.3 2156.4,421.9 2158.0,420.6 2159.6,419.3 2161.1,417.9 2162.7,416.6 2164.3,415.2 2165.9,413.8 2167.4,412.5 2169.0,411.1 2170.6,409.7 2172.1,408.4 2173.7,407.0 2175.3,405.6 2176.8,404.2 2178.4,402.8 2180.0,401.5 2181.5,400.1 2183.1,398.7 2184.7,397.3 2186.3,395.9 2187.8,394.5 2189.4,393.1 2191.0,391.7 2192.5,390.3 2194.1,388.9 2195.7,387.5 2197.2,386.1 2198.8,384.7 2200.4,383.2 2201.9,381.8 2203.5,380.4 2205.1,379.0 2206.6,377.6 2208.2,376.2 2209.8,374.8 2211.4,373.4 2212.9,372.0 2214.5,370.6 2216.1,369.1 2217.6,367.7 2219.2,366.3 2220.8,364.9 2222.3,363.5 2223.9,362.1 2225.5,360.7 2227.0,359.3 2228.6,357.9 2230.2,356.5 2231.7,355.1 2233.3,353.7 2234.9,352.3 2236.5,350.9 2238.0,349.5 2239.6,348.2 2241.2,346.8 2242.7,345.4 2244.3,344.0 2245.9,342.6 2247.4,341.3 2249.0,339.9 2250.6,338.5 2252.1,337.2 2253.7,335.8 2255.3,334.5 2256.9,333.1 2258.4,331.8 2260.0,330.4 2261.6,329.1 2263.1,327.7 2264.7,326.4 2266.3,325.1 2267.8,323.8 2269.4,322.5 2271.0,321.1 2272.5,319.8 2274.1,318.5 2275.7,317.2 2277.2,316.0 2278.8,314.7 2280.4,313.4 2282.0,312.1 2283.5,310.9 2285.1,309.6 2286.7,308.3 2288.2,307.1 2289.8,305.8 2291.4,304.6 2292.9,303.4 2294.5,302.2 2296.1,300.9 2297.6,299.7 2299.2,298.5 2300.8,297.3 2302.4,296.2 2303.9,295.0 2305.5,293.8 2307.1,292.6 2308.6,291.5 2310.2,290.3 2311.8,289.2 2313.3,288.1 2314.9,286.9 2316.5,285.8 2318.0,284.7 2319.6,283.6 2321.2,282.5 2322.7,281.5 2324.3,280.4 2325.9,279.3 2327.5,278.3 2329.0,277.2 2330.6,276.2 2332.2,275.2 2333.7,274.1 2335.3,273.1 2336.9,272.1 2338.4,271.1 2340.0,270.2 2341.6,269.2 2343.1,268.2 2344.7,267.3 2346.3,266.3 2347.8,265.4 2349.4,264.5 2351.0,263.6 2352.6,262.7 2354.1,261.8 2355.7,260.9 2357.3,260.1 2358.8,259.2 2360.4,258.4"/>
<polyline stroke="#00ffff" points="165.5,375.9 167.1,375.9 168.6,375.7 170.2,375.2 171.8,374.6 173.3,373.8 174.9,372.9 176.5,372.0 178.1,370.8 179.6,369.5 181.2,368.1 182.8,366.6 184.3,365.1 185.9,363.6 187.5,362.1 189.0,360.6 190.6,359.2 192.2,357.8 193.7,356.3 195.3,354.8 196.9,353.4 198.4,351.9 200.0,350.6 201.6,349.3 203.2,348.1 204.7,346.9 206.3,345.7 207.9,344.6 209.4,343.5 211.0,342.4 212.6,341.3 214.1,340.2 215.7,339.2 217.3,338.2 218.8,337.2 220.4,336.3 222.0,335.4 223.5,334.6 225.1,333.8 226.7,332.9 228.3,332.0 229.8,331.1 231.4,330.2 233.0,329.4 234.5,328.6 236.1,327.7 237.7,326.9 239.2,326.0 240.8,325.0 242.4,324.1 243.9,323.1 245.5,322.1 247.1,321.1 248.7,320.1 250.2,319.0 251.8,318.0 253.4,317.0 254.9,315.9 256.5,314.9 258.1,313.9 259.6,312.8 261.2,311.9 262.8,310.9 264.3,310.0 265.9,309.1 267.5,308.2 269.0,307.4 270.6,306.5 272.2,305.7 273.8,304.8 275.3,303.9 276.9,302.9 278.5,301.9 280.0,300.9 281.6,299.9 283.2,298.9 284.7,297.8 286.3,296.8 287.9,295.7 289.4,294.7 291.0,293.6 292.6,292.6 294.2,291.5 295.7,290.5 297.3,289.4 298.9,288.4 300.4,287.3 302.0,286.3 303.6,285.3 305.1,284.2 306.7,283.2 308.3,282.1 309.8,281.1 311.4,280.0 313.0,278.9 314.5,277.8 316.1,276.7 317.7,275.6 319.3,274.5 320.8,273.4 322.4,272.3 324.0,271.2 325.5,270.1 327.1,269.1 328.7,268.0 330.2,267.1 331.8,266.1 333.4,265.2 334.9,264.3 336.5,263.4 338.1,262.6 339.6,261.8 341.2,261.0 342.8,260.2 344.4,259.4 345.9,258.7 347.5,257.9 349.1,257.1 350.6,256.4 352.2,255.6 353.8,254.9 355.3,254.1 356.9,253.4 358.5,252.7 360.0,252.0 361.6,251.2 363.2,250.5 364.8,249.8 366.3,249.1 367.9,248.4 369.5,247.7 371.0,247.0 372.6,246.3 374.2,245.6 375.7,244.9 377.3,244.2 378.9,243.5 380.4,242.9 382.0,242.3 383.6,241.7 385.1,241.2 386.7,240.6 388.3,240.1 389.9,239.6 391.4,239.1 393.0,238.6 394.6,238.2 396.1,237.8 397.7,237.4 399.3,237.0 400.8,236.7 402.4,236.3 404.0,236.0 405.5,235.8 407.1,235.5 408.7,235.3 410.2,235.1 411.8,235.0 413.4,234.8 415.0,234.7 416.5,234.6 418.1,234.5 419.7,234.5 421.2,234.5 422.8,234.5 424.4,234.5 425.9,234.5 427.5,234.6 429.1,234.7 430.6,234.8 432.2,235.0 433.8,235.2 435.4,235.4 436.9,235.6 438.5,235.9 440.1,236.1 441.6,236.4 443.2,236.7 444.8,237.0 446.3,237.3 447.9,237.7 449.5,238.0 451.0,238.4 452.6,238.8 454.2,239.2 455.7,239.6 457.3,240.0 458.9,240.4 460.5,240.9 462.0,241.3 463.6,241.8 465.2,242.3 466.7,242.7 468.3,243.2 469.9,243.7 471.4,244.2 473.0,244.7 474.6,245.2 476.1,245.7 477.7,246.3 479.3,246.8 480.9,247.4 482.4,248.0 484.0,248.6 485.6,249.2 487.1,249.8 488.7,250.4 490.3,251.0 491.8,251.6 493.4,252.2 495.0,252.8 496.5,253.5 498.1,254.1 499.7,254.8 501.2,255.4 502.8,256.1 504.4,256.8 506.0,257.5 507.5,258.2 509.1,258.9 510.7,259.6 512.2,260.3 513.8,261.0 515.4,261.7 516.9,262.4 518.5,263.1 520.1,263.8 521.6,264.5 523.2,265.2 524.8,265.9 526.3,266.7 527.9,267.4 529.5,268.2 531.1,269.0 532.6,269.8 534.2,270.7 535.8,271.6 537.3,272.4 538.9,273.3 540.5,274.2 542.0,275.2 543.6,276.1 545.2,277.0 546.7,278.0 548.3,278.9 549.9,279.8 551.5,280.8 553.0,281.7 554.6,282.6 556.2,283.5 557.7,284.4 559.3,285.3 560.9,286.1 562.4,287.0 564.0,287.8 565.6,288.6 567.1,289.3 568.7,290.1 570.3,290.9 571.8,291.7 573.4,292.5 575.0,293.4 576.6,294.2 578.1,295.1 579.7,295.9 581.3,296.8 582.8,297.8 584.4,298.7 586.0,299.7 587.5,300.7 589.1,301.8 590.7,302.9 592.2,304.0 593.8,305.1 595.4,306.3 596.9,307.4 598.5,308.6 600.1,309.9 601.7,311.1 603.2,312.4 604.8,313.6 606.4,314.9 607.9,316.2 609.5,317.5 611.1,318.8 612.6,320.1 614.2,321.4 615.8,322.7 617.3,324.0 618.9,325.3 620.5,326.7 622.1,328.0 623.6,329.3 625.2,330.7 626.8,332.0 628.3,333.4 629.9,334.7 631.5,336.1 633.0,337.4 634.6,338.8 636.2,340.2 637.7,341.5 639.3,342.9 640.9,344.3 642.4,345.7 644.0,347.0 645.6,348.4 647.2,349.8 648.7,351.2 650.3,352.6 651.9,354.0 653.4,355.4 655.0,356.8 656.6,358.2 658.1,359.6 659.7,361.0 661.3,362.4 662.8,363.8 664.4,365.2 666.0,366.6 667.6,368.0 669.1,369.4 670.7,370.8 672.3,372.2 673.8,373.6 675.4,375.1 677.0,376.5 678.5,377.9 680.1,379.3 681.7,380.7 683.2,382.1 684.8,383.5 686.4,384.9 687.9,386.3 689.5,387.7 691.1,389.1 692.7,390.5 694.2,392.0 695.8,393.4 697.4,394.8 698.9,396.1 700.5,397.5 702.1,398.9 703.6,400.3 705.2,401.7 706.8,403.1 708.3,404.5 709.9,405.9 711.5,407.3 713.0,408.6 714.6,410.0 716.2,411.4 717.8,412.7 719.3,414.1 720.9,415.5 722.5,416.8 724.0,418.2 725.6,419.5 727.2,420.9 728.7,422.2 730.3,423.5 731.9,424.9 733.4,426.2 735.0,427.5 736.6,428.8 738.2,430.1 739.7,431.5 741.3,432.8 742.9,434.1 744.4,435.3 746.0,436.6 747.6,437.9 749.1,439.2 750.7,440.5 752.3,441.7 753.8,443.0 755.4,444.2 757.0,445.5 758.5,446.7 760.1,447.9 761.7,449.2 763.3,450.4 764.8,451.6 766.4,452.8 768.0,454.0 769.5,455.2 771.1,456.3 772.7,457.5 774.2,458.7 775.8,459.8 777.4,461.0 778.9,462.1 780.5,463.3 782.1,464.4 783.6,465.5 785.2,466.6 786.8,467.7 788.4,468.8 789.9,469.9 791.5,471.0 793.1,472.0 794.6,473.1 796.2,474.2 797.8,475.2 799.3,476.2 800.9,477.2 802.5,478.3 804.0,479.3 805.6,480.3 807.2,481.2 808.8,482.2 810.3,483.2 811.9,484.1 813.5,485.1 815.0,486.0 816.6,486.9 818.2,487.8 819.7,488.7 821.3,489.6 822.9,490.5 824.4,491.4 826.0,492.2 827.6,493.1 829.1,493.9 830.7,494.7 832.3,495.6 833.9,496.4 835.4,497.2 837.0,497.9 838.6,498.7 840.1,499.5 841.7,500.2 843.3,500.9 844.8,501.7 846.4,502.4 848.0,503.1 849.5,503.8 851.1,504.4 852.7,505.1 854.2,505.8 855.8,506.4 857.4,507.0 859.0,507.7 860.5,508.3 862.1,508.8 863.7,509.4 865.2,510.0 866.8,510.5 868.4,511.1 869.9,511.6 871.5,512.1 873.1,512.6 874.6,513.1 876.2,513.6 877.8,514.1 879.4,514.5 880.9,515.0 882.5,515.4 884.1,515.8 885.6,516.2 887.2,516.6 888.8,517.0 890.3,517.3 891.9,517.7 893.5,518.0 895.0,518.3 896.6,518.6 898.2,518.9 899.7,519.2 901.3,519.5 902.9,519.7 904.5,520.0 906.0,520.2 907.6,520.4 909.2,520.6 910.7,520.8 912.3,521.0 913.9,521.2 915.4,521.3 917.0,521.4 918.6,521.6 920.1,521.7 921.7,521.8 923.3,521.8 924.9,521.9 926.4,521.9 928.0,522.0 929.6,522.0 931.1,522.0 932.7,522.0 934.3,522.0 935.8,522.0 937.4,521.9 939.0,521.9 940.5,521.8 942.1,521.7 943.7,521.6 945.2,521.5 946.8,521.4 948.4,521.3 950.0,521.1 951.5,520.9 953.1,520.8 954.7,520.6 956.2,520.4 957.8,520.1 959.4,519.9 960.9,519.7 962.5,519.4 964.1,519.1 965.6,518.8 967.2,518.5 968.8,518.2 970.3,517.9 971.9,517.6 973.5,517.2 975.1,516.9 976.6,516.5 978.2,516.1 979.8,515.7 981.3,515.3 982.9,514.8 984.5,514.4 986.0,513.9 987.6,513.5 989.2,513.0 990.7,512.5 992.3,512.0 993.9,511.5 995.5,510.9 997.0,510.4 998.6,509.8 1000.2,509.2 1001.7,508.7 1003.3,508.1 1004.9,507.5 1006.4,506.8 1008.0,506.2 1009.6,505.6 1011.1,504.9 1012.7,504.2 1014.3,503.6 1015.8,502.9 1017.4,502.2 1019.0,501.4 1020.6,500.7 1022.1,500.0 1023.7,499.2 1025.3,498.5 1026.8,497.7 1028.4,496.9 1030.0,496.1 1031.5,495.3 1033.1,494.5 1034.7,493.7 1036.2,492.8 1037.8,492.0 1039.4,491.1 1040.9,490.2 1042.5,489.3 1044.1,488.4 1045.7,487.5 1047.2,486.6 1048.8,485.7 1050.4,484.8 1051.9,483.8 1053.5,482.9 1055.1,481.9 1056.6,480.9 1058.2,479.9 1059.8,478.9 1061.3,477.9 1062.9,476.9 1064.5,475.9 1066.1,474.9 1067.6,473.8 1069.2,472.8 1070.8,471.7 1072.3,470.6 1073.9,469.6 1075.5,468.5 1077.0,467.4 1078.6,466.3 1080.2,465.2 1081.7,464.0 1083.3,462.9 1084.9,461.8 1086.4,460.6 1088.0,459.5 1089.6,458.3 1091.2,457.2 1092.7,456.0 1094.3,454.8 1095.9,453.6 1097.4,452.4 1099.0,451.2 1100.6,450.0 1102.1,448.8 1103.7,447.5 1105.3,446.3 1106.8,445.1 1108.4,443.8 1110.0,442.6 1111.6,441.3 1113.1,440.1 1114.7,438.8 1116.3,437.5 1117.8,436.2 1119.4,434.9 1121.0,433.6 1122.5,432.3 1124.1,431.0 1125.7,429.7 1127.2,428.4 1128.8,427.1 1130.4,425.8 1131.9,424.5 1133.5,423.1 1135.1,421.8 1136.7,420.4 1138.2,419.1 1139.8,417.7 1141.4,416.4 1142.9,415.0 1144.5,413.7 1146.1,412.3 1147.6,410.9 1149.2,409.6 1150.8,408.2 1152.3,406.8 1153.9,405.4 1155.5,404.1 1157.0,402.7 1158.6,401.3 1160.2,399.9 1161.8,398.5 1163.3,397.1 1164.9,395.7 1166.5,394.3 1168.0,392.9 1169.6,391.5 1171.2,390.1 1172.7,388.7 1174.3,387.3 1175.9,385.9 1177.4,384.5 1179.0,383.1 1180.6,381.7 1182.2,380.3 1183.7,378.8 1185.3,377.4 1186.9,376.0 1188.4,374.6 1190.0,373.2 1191.6,371.8 1193.1,370.4 1194.7,369.0 1196.3,367.6 1197.8,366.2 1199.4,364.8 1201.0,363.3 1202.5,361.9 1204.1,360.5 1205.7,359.1 1207.3,357.7 1208.8,356.3 1210.4,354.9 1212.0,353.5 1213.5,352.2 1215.1,350.8 1216.7,349.4 1218.2,348.0 1219.8,346.6 1221.4,345.2 1222.9,343.8 1224.5,342.5 1226.1,341.1 1227.6,339.7 1229.2,338.4 1230.8,337.0 1232.4,335.6 1233.9,334.3 1235.5,332.9 1237.1,331.6 1238.6,330.3 1240.2,328.9 1241.8,327.6 1243.3,326.3 1244.9,324.9 1246.5,323.6 1248.0,322.3 1249.6,321.0 1251.2,319.7 1252.8,318.4 1254.3,317.1 1255.9,315.8 1257.5,314.5 1259.0,313.2 1260.6,312.0 1262.2,310.7 1263.7,309.4 1265.3,308.2 1266.9,306.9 1268.4,305.7 1270.0,304.5 1271.6,303.2 1273.1,302.0 1274.7,300.8 1276.3,299.6 1277.9,298.4 1279.4,297.2 1281.0,296.0 1282.6,294.8 1284.1,293.7 1285.7,292.5 1287.3,291.3 1288.8,290.2 1290.4,289.1 1292.0,287.9 1293.5,286.8 1295.1,285.7 1296.7,284.6 1298.3,283.5 1299.8,282.4 1301.4,281.3 1303.0,280.2 1304.5,279.2 1306.1,278.1 1307.7,277.1 1309.2,276.1 1310.8,275.0 1312.4,274.0 1313.9,273.0 1315.5,272.0 1317.1,271.0 1318.6,270.0 1320.2,269.1 1321.8,268.1 1323.4,267.2 1324.9,266.2 1326.5,265.3 1328.1,264.4 1329.6,263.5 1331.2,262.6 1332.8,261.7 1334.3,260.8 1335.9,260.0 1337.5,259.1 1339.0,258.3 1340.6,257.4 1342.2,256.6 1343.7,255.8 1345.3,255.0 1346.9,254.2 1348.5,253.4 1350.0,252.7 1351.6,251.9 1353.2,251.2 1354.7,250.4 1356.3,249.7 1357.9,249.0 1359.4,248.3 1361.0,247.6 1362.6,247.0 1364.1,246.3 1365.7,245.7 1367.3,245.0 1368.9,244.4 1370.4,243.8 1372.0,243.2 1373.6,242.6 1375.1,242.0 1376.7,241.5 1378.3,240.9 1379.8,240.4 1381.4,239.9 1383.0,239.3 1384.5,238.8 1386.1,238.4 1387.7,237.9 1389.2,237.4 1390.8,237.0 1392.4,236.5 1394.0,236.1 1395.5,235.7 1397.1,235.3 1398.7,234.9 1400.2,234.6 1401.8,234.2 1403.4,233.9 1404.9,233.5 1406.5,233.2 1408.1,232.9 1409.6,232.6 1411.2,232.4 1412.8,232.1 1414.3,231.9 1415.9,231.6 1417.5,231.4 1419.1,231.2 1420.6,231.0 1422.2,230.8 1423.8,230.6 1425.3,230.5 1426.9,230.3 1428.5,230.2 1430.0,230.1 1431.6,230.0 1433.2,229.9 1434.7,229.8 1436.3,229.8 1437.9,229.7 1439.5,229.7 1441.0,229.7 1442.6,229.7 1444.2,229.7 1445.7,229.7 1447.3,229.7 1448.9,229.8 1450.4,229.9 1452.0,229.9 1453.6,230.0 1455.1,230.1 1456.7,230.2 1458.3,230.4 1459.8,230.5 1461.4,230.7 1463.0,230.8 1464.6,231.0 1466.1,231.2 1467.7,231.4 1469.3,231.7 1470.8,231.9 1472.4,232.1 1474.0,232.4 1475.5,232.7 1477.1,233.0 1478.7,233.3 1480.2,233.6 1481.8,233.9 1483.4,234.3 1485.0,234.6 1486.5,235.0 1488.1,235.4 1489.7,235.8 1491.2,236.2 1492.8,236.6 1494.4,237.1 1495.9,237.5 1497.5,238.0 1499.1,238.5 1500.6,238.9 1502.2,239.4 1503.8,240.0 1505.3,240.5 1506.9,241.0 1508.5,241.6 1510.1,242.1 1511.6,242.7 1513.2,243.3 1514.8,243.9 1516.3,244.5 1517.9,245.1 1519.5,245.8 1521.0,246.4 1522.6,247.1 1524.2,247.8 1525.7,248.4 1527.3,249.1 1528.9,249.9 1530.4,250.6 1532.0,251.3 1533.6,252.0 1535.2,252.8 1536.7,253.6 1538.3,254.4 1539.9,255.1 1541.4,255.9 1543.0,256.8 1544.6,257.6 1546.1,258.4 1547.7,259.3 1549.3,260.1 1550.8,261.0 1552.4,261.9 1554.0,262.7 1555.6,263.6 1557.1,264.6 1558.7,265.5 1560.3,266.4 1561.8,267.3 1563.4,268.3 1565.0,269.3 1566.5,270.2 1568.1,271.2 1569.7,272.2 1571.2,273.2 1572.8,274.2 1574.4,275.2 1575.9,276.2 1577.5,277.3 1579.1,278.3 1580.7,279.4 1582.2,280.5 1583.8,281.5 1585.4,282.6 1586.9,283.7 1588.5,284.8 1590.1,285.9 1591.6,287.0 1593.2,288.1 1594.8,289.3 1596.3,290.4 1597.9,291.6 1599.5,292.7 1601.0,293.9 1602.6,295.1 1604.2,296.2 1605.8,297.4 1607.3,298.6 1608.9,299.8 1610.5,301.0 1612.0,302.2 1613.6,303.5 1615.2,304.7 1616.7,305.9 1618.3,307.2 1619.9,308.4 1621.4,309.7 1623.0,310.9 1624.6,312.2 1626.2,313.5 1627.7,314.8 1629.3,316.0 1630.9,317.3 1632.4,318.6 1634.0,319.9 1635.6,321.2 1637.1,322.5 1638.7,323.9 1640.3,325.2 1641.8,326.5 1643.4,327.8 1645.0,329.2 1646.5,330.5 1648.1,331.8 1649.7,333.2 1651.3,334.5 1652.8,335.9 1654.4,337.3 1656.0,338.6 1657.5,340.0 1659.1,341.4 1660.7,342.7 1662.2,344.1 1663.8,345.5 1665.4,346.9 1666.9,348.2 1668.5,349.6 1670.1,351.0 1671.7,352.4 1673.2,353.8 1674.8,355.2 1676.4,356.6 1677.9,358.0 1679.5,359.4 1681.1,360.8 1682.6,362.2 1684.2,363.6 1685.8,365.0 1687.3,366.4 1688.9,367.8 1690.5,369.2 1692.0,370.7 1693.6,372.1 1695.2,373.5 1696.8,374.9 1698.3,376.3 1699.9,377.7 1701.5,379.1 1703.0,380.5 1704.6,381.9 1706.2,383.3 1707.7,384.8 1709.3,386.2 1710.9,387.6 1712.4,389.0 1714.0,390.4 1715.6,391.8 1717.1,393.2 1718.7,394.6 1720.3,396.0 1721.9,397.4 1723.4,398.8 1725.0,400.2 1726.6,401.5 1728.1,402.9 1729.7,404.3 1731.3,405.7 1732.8,407.1 1734.4,408.5 1736.0,409.8 1737.5,411.2 1739.1,412.6 1740.7,413.9 1742.3,415.3 1743.8,416.6 1745.4,418.0 1747.0,419.4 1748.5,420.7 1750.1,422.0 1751.7,423.4 1753.2,424.7 1754.8,426.0 1756.4,427.4 1757.9,428.7 1759.5,430.0 1761.1,431.3 1762.6,432.6 1764.2,433.9 1765.8,435.2 1767.4,436.5 1768.9,437.7 1770.5,439.0 1772.1,440.3 1773.6,441.6 1775.2,442.8 1776.8,444.1 1778.3,445.3 1779.9,446.5 1781.5,447.8 1783.0,449.0 1784.6,450.2 1786.2,451.4 1787.7,452.6 1789.3,453.8 1790.9,455.0 1792.5,456.2 1794.0,457.4 1795.6,458.5 1797.2,459.7 1798.7,460.9 1800.3,462.0 1801.9,463.1 1803.4,464.3 1805.0,465.4 1806.6,466.5 1808.1,467.6 1809.7,468.7 1811.3,469.8 1812.9,470.8 1814.4,471.9 1816.0,473.0 1817.6,474.0 1819.1,475.1 1820.7,476.1 1822.3,477.1 1823.8,478.1 1825.4,479.1 1827.0,480.1 1828.5,481.1 1830.1,482.1 1831.7,483.0 1833.2,484.0 1834.8,484.9 1836.4,485.9 1838.0,486.8 1839.5,487.7 1841.1,488.6 1842.7,489.5 1844.2,490.4 1845.8,491.3 1847.4,492.1 1848.9,493.0 1850.5,493.8 1852.1,494.6 1853.6,495.5 1855.2,496.3 1856.8,497.1 1858.3,497.8 1859.9,498.6 1861.5,499.4 1863.1,500.1 1864.6,500.9 1866.2,501.6 1867.8,502.3 1869.3,503.0 1870.9,503.7 1872.5,504.4 1874.0,505.0 1875.6,505.7 1877.2,506.3 1878.7,507.0 1880.3,507.6 1881.9,508.2 1883.5,508.8 1885.0,509.4 1886.6,509.9 1888.2,510.5 1889.7,511.0 1891.3,511.6 1892.9,512.1 1894.4,512.6 1896.0,513.1 1897.6,513.5 1899.1,514.0 1900.7,514.5 1902.3,514.9 1903.8,515.3 1905.4,515.8 1907.0,516.2 1908.6,516.5 1910.1,516.9 1911.7,517.3 1913.3,517.6 1914.8,518.0 1916.4,518.3 1918.0,518.6 1919.5,518.9 1921.1,519.2 1922.7,519.5 1924.2,519.7 1925.8,520.0 1927.4,520.2 1929.0,520.4 1930.5,520.6 1932.1,520.8 1933.7,521.0 1935.2,521.1 1936.8,521.3 1938.4,521.4 1939.9,521.5 1941.5,521.6 1943.1,521.7 1944.6,521.8 1946.2,521.9 1947.8,521.9 1949.3,522.0 1950.9,522.0 1952.5,522.0 1954.1,522.0 1955.6,522.0 1957.2,522.0 1958.8,521.9 1960.3,521.9 1961.9,521.8 1963.5,521.7 1965.0,521.6 1966.6,521.5 1968.2,521.4 1969.7,521.3 1971.3,521.1 1972.9,521.0 1974.4,520.8 1976.0,520.6 1977.6,520.4 1979.2,520.2 1980.7,519.9 1982.3,519.7 1983.9,519.4 1985.4,519.2 1987.0,518.9 1988.6,518.6 1990.1,518.3 1991.7,517.9 1993.3,517.6 1994.8,517.3 1996.4,516.9 1998.0,516.5 1999.6,516.1 2001.1,515.7 2002.7,515.3 2004.3,514.9 2005.8,514.4 2007.4,514.0 2009.0,513.5 2010.5,513.0 2012.1,512.5 2013.7,512.0 2015.2,511.5 2016.8,511.0 2018.4,510.4 2019.9,509.9 2021.5,509.3 2023.1,508.7 2024.7,508.1 2026.2,507.5 2027.8,506.9 2029.4,506.3 2030.9,505.6 2032.5,505.0 2034.1,504.3 2035.6,503.6 2037.2,503.0 2038.8,502.2 2040.3,501.5 2041.9,500.8 2043.5,500.1 2045.0,499.3 2046.6,498.6 2048.2,497.8 2049.8,497.0 2051.3,496.2 2052.9,495.4 2054.5,494.6 2056.0,493.8 2057.6,492.9 2059.2,492.1 2060.7,491.2 2062.3,490.3 2063.9,489.5 2065.4,488.6 2067.0,487.7 2068.6,486.7 2070.2,485.8 2071.7,484.9 2073.3,483.9 2074.9,483.0 2076.4,482.0 2078.0,481.0 2079.6,480.1 2081.1,479.1 2082.7,478.1 2084.3,477.1 2085.8,476.0 2087.4,475.0 2089.0,474.0 2090.5,472.9 2092.1,471.8 2093.7,470.8 2095.3,469.7 2096.8,468.6 2098.4,467.5 2100.0,466.4 2101.5,465.3 2103.1,464.2 2104.7,463.1 2106.2,461.9 2107.8,460.8 2109.4,459.6 2110.9,458.5 2112.5,457.3 2114.1,456.1 2115.7,454.9 2117.2,453.8 2118.8,452.6 2120.4,451.4 2121.9,450.1 2123.5,448.9 2125.1,447.7 2126.6,446.5 2128.2,445.2 2129.8,444.0 2131.3,442.7 2132.9,441.5 2134.5,440.2 2136.0,438.9 2137.6,437.7 2139.2,436.4 2140.8,435.1 2142.3,433.8 2143.9,432.5 2145.5,431.2 2147.0,429.9 2148.6,428.6 2150.2,427.3 2151.7,425.9 2153.3,424.6 2154.9,423.3 2156.4,421.9 2158.0,420.6 2159.6,419.3 2161.1,417.9 2162.7,416.6 2164.3,415.2 2165.9,413.8 2167.4,412.5 2169.0,411.1 2170.6,409.7 2172.1,408.4 2173.7,407.0 2175.3,405.6 2176.8,404.2 2178.4,402.8 2180.0,401.5 2181.5,400.1 2183.1,398.7 2184.7,397.3 2186.3,395.9 2187.8,394.5 2189.4,393.1 2191.0,391.7 2192.5,390.3 2194.1,388.9 2195.7,387.5 2197.2,386.1 2198.8,384.7 2200.4,383.2 2201.9,381.8 2203.5,380.4 2205.1,379.0 2206.6,377.6 2208.2,376.2 2209.8,374.8 2211.4,373.4 2212.9,372.0 2214.5,370.6 2216.1,369.1 2217.6,367.7 2219.2,366.3 2220.8,364.9 2222.3,363.5 2223.9,362.1 2225.5,360.7 2227.0,359.3 2228.6,357.9 2230.2,356.5 2231.7,355.1 2233.3,353.7 2234.9,352.3 2236.5,350.9 2238.0,349.5 2239.6,348.2 2241.2,346.8 2242.7,345.4 2244.3,344.0 2245.9,342.6 2247.4,341.3 2249.0,339.9 2250.6,338.5 2252.1,337.2 2253.7,335.8 2255.3,334.5 2256.9,333.1 2258.4,331.8 2260.0,330.4 2261.6,329.1 2263.1,327.7 2264.7,326.4 2266.3,325.1 2267.8,323.8 2269.4,322.5 2271.0,321.1 2272.5,319.8 2274.1,318.5 2275.7,317.2 2277.2,316.0 2278.8,314.7 2280.4,313.4 2282.0,312.1 2283.5,310.9 2285.1,309.6 2286.7,308.3 2288.2,307.1 2289.8,305.8 2291.4,304.6 2292.9,303.4 2294.5,302.2 2296.1,300.9 2297.6,299.7 2299.2,298.5 2300.8,297.3 2302.4,296.2 2303.9,295.0 2305.5,293.8 2307.1,292.6 2308.6,291.5 2310.2,290.3 2311.8,289.2 2313.3,288.1 2314.9,286.9 2316.5,285.8 2318.0,284.7 2319.6,283.6 2321.2,282.5 2322.7,281.5 2324.3,280.4 2325.9,279.3 2327.5,278.3 2329.0,277.2 2330.6,276.2 2332.2,275.2 2333.7,274.1 2335.3,273.1 2336.9,272.1 2338.4,271.1 2340.0,270.2 2341.6,269.2 2343.1,268.2 2344.7,267.3 2346.3,266.3 2347.8,265.4 2349.4,264.5 2351.0,263.6 2352.6,262.7 2354.1,261.8 2355.7,260.9 2357.3,260.1 2358.8,259.2 2360.4,258.4"/>
<polyline stroke="#ff00ff" points="165.5,522.3 167.1,522.3 168.6,522.2 170.2,521.9 171.8,521.4 173.3,520.7 174.9,519.8 176.5,518.7 178.1,517.2 179.6,515.4 181.2,513.4 182.8,511.0 184.3,508.4 185.9,505.4 187.5,502.1 189.0,498.4 190.6,494.4 192.2,490.1 193.7,485.4 195.3,480.4 196.9,475.0 198.4,469.5 200.0,463.8 201.6,457.9 203.2,452.1 204.7,446.2 206.3,440.5 207.9,434.9 209.4,429.5 211.0,424.3 212.6,419.3 214.1,414.4 215.7,409.5 217.3,404.5 218.8,399.4 220.4,394.0 222.0,388.4 223.5,382.7 225.1,377.0 226.7,371.5 228.3,366.2 229.8,360.9 231.4,355.8 233.0,350.8 234.5,345.9 236.1,341.4 237.7,337.2 239.2,333.4 240.8,330.0 242.4,326.7 243.9,323.6 245.5,320.7 247.1,317.8 248.7,315.0 250.2,312.3 251.8,309.7 253.4,307.2 254.9,304.9 256.5,302.8 258.1,301.0 259.6,299.3 261.2,297.9 262.8,296.8 264.3,295.8 265.9,295.1 267.5,294.6 269.0,294.3 270.6,294.1 272.2,294.0 273.8,294.0 275.3,294.2 276.9,294.4 278.5,294.7 280.0,295.0 281.6,295.3 283.2,295.7 284.7,296.1 286.3,296.5 287.9,296.9 289.4,297.3 291.0,297.6 292.6,298.0 294.2,298.3 295.7,298.5 297.3,298.6 298.9,298.6 300.4,298.4 302.0,298.0 303.6,297.3 305.1,296.2 306.7,294.8 308.3,293.0 309.8,290.7 311.4,288.1 313.0,285.0 314.5,281.7 316.1,278.2 317.7,274.7 319.3,271.3 320.8,268.0 322.4,264.8 324.0,261.6 325.5,258.4 327.1,255.3 328.7,252.1 330.2,248.8 331.8,245.5 333.4,242.0 334.9,238.4 336.5,234.6 338.1,230.6 339.6,226.4 341.2,222.2 342.8,218.1 344.4,214.3 345.9,210.8 347.5,207.7 349.1,205.1 350.6,202.8 352.2,200.8 353.8,199.2 355.3,197.8 356.9,196.7 358.5,195.9 360.0,195.2 361.6,194.8 363.2,194.5 364.8,194.4 366.3,194.4 367.9,194.6 369.5,194.9 371.0,195.3 372.6,195.8 374.2,196.4 375.7,197.2 377.3,198.0 378.9,198.9 380.4,199.9 382.0,201.0 383.6,202.1 385.1,203.2 386.7,204.4 388.3,205.6 389.9,206.8 391.4,208.0 393.0,209.3 394.6,210.5 396.1,211.7 397.7,212.9 399.3,214.0 400.8,215.1 402.4,216.1 404.0,217.1 405.5,218.0 407.1,218.8 408.7,219.6 410.2,220.3 411.8,221.0 413.4,221.6 415.0,222.1 416.5,222.6 418.1,223.0 419.7,223.4 421.2,223.7 422.8,223.9 424.4,224.2 425.9,224.4 427.5,224.5 429.1,224.7 430.6,224.8 432.2,225.0 433.8,225.1 435.4,225.2 436.9,225.3 438.5,225.4 440.1,225.5 441.6,225.6 443.2,225.7 444.8,225.8 446.3,225.9 447.9,226.0 449.5,226.1 451.0,226.2 452.6,226.4 454.2,226.5 455.7,226.6 457.3,226.8 458.9,226.9 460.5,227.1 462.0,227.2 463.6,227.4 465.2,227.6 466.7,227.8 468.3,228.0 469.9,228.2 471.4,228.4 473.0,228.6 474.6,228.9 476.1,229.2 477.7,229.5 479.3,229.9 480.9,230.4 482.4,230.9 484.0,231.4 485.6,232.0 487.1,232.7 488.7,233.3 490.3,234.0 491.8,234.7 493.4,235.4 495.0,236.1 496.5,236.8 498.1,237.5 499.7,238.3 501.2,239.1 502.8,239.9 504.4,240.7 506.0,241.5 507.5,242.3 509.1,243.2 510.7,244.1 512.2,244.9 513.8,245.8 515.4,246.7 516.9,247.7 518.5,248.6 520.1,249.5 521.6,250.4 523.2,251.4 524.8,252.3 526.3,253.3 527.9,254.3 529.5,255.2 531.1,256.2 532.6,257.2 534.2,258.2 535.8,259.2 537.3,260.3 538.9,261.3 540.5,262.3 542.0,263.4 543.6,264.5 545.2,265.6 546.7,266.8 548.3,268.0 549.9,269.2 551.5,270.5 553.0,271.9 554.6,273.3 556.2,274.8 557.7,276.4 559.3,278.0 560.9,279.6 562.4,281.2 564.0,282.8 565.6,284.4 567.1,286.0 568.7,287.5 570.3,289.0 571.8,290.4 573.4,291.7 575.0,293.0 576.6,294.3 578.1,295.5 579.7,296.6 581.3,297.7 582.8,298.8 584.4,299.9 586.0,301.0 587.5,302.0 589.1,303.0 590.7,304.1 592.2,305.1 593.8,306.1 595.4,307.2 596.9,308.3 598.5,309.4 600.1,310.5 601.7,311.6 603.2,312.7 604.8,313.9 606.4,315.1 607.9,316.3 609.5,317.6 611.1,318.8 612.6,320.1 614.2,321.4 615.8,322.7 617.3,324.0 618.9,325.3 620.5,326.7 622.1,328.0 623.6,329.3 625.2,330.7 626.8,332.0 628.3,333.4 629.9,334.7 631.5,336.1 633.0,337.4 634.6,338.8 636.2,340.2 637.7,341.5 639.3,342.9 640.9,344.3 642.4,345.7 644.0,347.0 645.6,348.4 647.2,349.8 648.7,351.2 650.3,352.6 651.9,354.0 653.4,355.4 655.0,356.8 656.6,358.2 658.1,359.6 659.7,361.0 661.3,362.4 662.8,363.8 664.4,365.2 666.0,366.6 667.6,368.0 669.1,369.4 670.7,370.8 672.3,372.2 673.8,373.6 675.4,375.1 677.0,376.5 678.5,377.9 680.1,379.3 681.7,380.7 683.2,382.1 684.8,383.5 686.4,384.9 687.9,386.3 689.5,387.7 691.1,389.1 692.7,390.5 694.2,392.0 695.8,393.4 697.4,394.8 698.9,396.1 700.5,397.5 702.1,398.9 703.6,400.3 705.2,401.7 706.8,403.1 708.3,404.5 709.9,405.9 711.5,407.3 713.0,408.6 714.6,410.0 716.2,411.4 717.8,412.7 719.3,414.1 720.9,415.5 722.5,416.8 724.0,418.2 725.6,419.5 727.2,420.9 728.7,422.2 730.3,423.5 731.9,424.9 733.4,426.2 735.0,427.5 736.6,428.8 738.2,430.1 739.7,431.5 741.3,432.8 742.9,434.1 744.4,435.3 746.0,436.6 747.6,437.9 749.1,439.2 750.7,440.5 752.3,441.7 753.8,443.0 755.4,444.2 757.0,445.5 758.5,446.7 760.1,447.9 761.7,449.2 763.3,450.4 764.8,451.6 766.4,452.8 768.0,454.0 769.5,455.2 771.1,456.3 772.7,457.5 774.2,458.7 775.8,459.8 777.4,461.0 778.9,462.1 780.5,463.3 782.1,464.4 783.6,465.5 785.2,466.6 786.8,467.7 788.4,468.8 789.9,469.9 791.5,471.0 793.1,472.0 794.6,473.1 796.2,474.2 797.8,475.2 799.3,476.2 800.9,477.2 802.5,478.3 804.0,479.3 805.6,480.3 807.2,481.2 808.8,482.2 810.3,483.2 811.9,484.1 813.5,485.1 815.0,486.0 816.6,486.9 818.2,487.8 819.7,488.7 821.3,489.6 822.9,490.5 824.4,491.4 826.0,492.2 827.6,493.1 829.1,493.9 830.7,494.7 832.3,495.6 833.9,496.4 835.4,497.2 837.0,497.9 838.6,498.7 840.1,499.5 841.7,500.2 843.3,500.9 844.8,501.7 846.4,502.4 848.0,503.1 849.5,503.8 851.1,504.4 852.7,505.1 854.2,505.8 855.8,506.4 857.4,507.0 859.0,507.7 860.5,508.3 862.1,508.8 863.7,509.4 865.2,510.0 866.8,510.5 868.4,511.1 869.9,511.6 871.5,512.1 873.1,512.6 874.6,513.1 876.2,513.6 877.8,514.1 879.4,514.5 880.9,515.0 882.5,515.4 884.1,515.8 885.6,516.2 887.2,516.6 888.8,517.0 890.3,517.3 891.9,517.7 893.5,518.0 895.0,518.3 896.6,518.6 898.2,518.9 899.7,519.2 901.3,519.5 902.9,519.7 904.5,520.0 906.0,520.2 907.6,520.4 909.2,520.6 910.7,520.8 912.3,521.0 913.9,521.2 915.4,521.3 917.0,521.4 918.6,521.6 920.1,521.7 921.7,521.8 923.3,521.8 924.9,521.9 926.4,521.9 928.0,522.0 929.6,522.0 931.1,522.0 932.7,522.0 934.3,522.0 935.8,522.0 937.4,521.9 939.0,521.9 940.5,521.8 942.1,521.7 943.7,521.6 945.2,521.5 946.8,521.4 948.4,521.3 950.0,521.1 951.5,520.9 953.1,520.8 954.7,520.6 956.2,520.4 957.8,520.1 959.4,519.9 960.9,519.7 962.5,519.4 964.1,519.1 965.6,518.8 967.2,518.5 968.8,518.2 970.3,517.9 971.9,517.6 973.5,517.2 975.1,516.9 976.6,516.5 978.2,516.1 979.8,515.7 981.3,515.3 982.9,514.8 984.5,514.4 986.0,513.9 987.6,513.5 989.2,513.0 990.7,512.5 992.3,512.0 993.9,511.5 995.5,510.9 997.0,510.4 998.6,509.8 1000.2,509.2 1001.7,508.7 1003.3,508.1 1004.9,507.5 1006.4,506.8 1008.0,506.2 1009.6,505.6 1011.1,504.9 1012.7,504.2 1014.3,503.6 1015.8,502.9 1017.4,502.2 1019.0,501.4 1020.6,500.7 1022.1,500.0 1023.7,499.2 1025.3,498.5 1026.8,497.7 1028.4,496.9 1030.0,496.1 1031.5,495.3 1033.1,494.5 1034.7,493.7 1036.2,492.8 1037.8,492.0 1039.4,491.1 1040.9,490.2 1042.5,489.3 1044.1,488.4 1045.7,487.5 1047.2,486.6 1048.8,485.7 1050.4,484.8 1051.9,483.8 1053.5,482.9 1055.1,481.9 1056.6,480.9 1058.2,479.9 1059.8,478.9 1061.3,477.9 1062.9,476.9 1064.5,475.9 1066.1,474.9 1067.6,473.8 1069.2,472.8 1070.8,471.7 1072.3,470.6 1073.9,469.6 1075.5,468.5 1077.0,467.4 1078.6,466.3 1080.2,465.2 1081.7,464.0 1083.3,462.9 1084.9,461.8 1086.4,460.6 1088.0,459.5 1089.6,458.3 1091.2,457.2 1092.7,456.0 1094.3,454.8 1095.9,453.6 1097.4,452.4 1099.0,451.2 1100.6,450.0 1102.1,448.8 1103.7,447.5 1105.3,446.3 1106.8,445.1 1108.4,443.8 1110.0,442.6 1111.6,441.3 1113.1,440.1 1114.7,438.8 1116.3,437.5 1117.8,436.2 1119.4,434.9 1121.0,433.6 1122.5,432.3 1124.1,431.0 1125.7,429.7 1127.2,428.4 1128.8,427.1 1130.4,425.8 1131.9,424.5 1133.5,423.1 1135.1,421.8 1136.7,420.4 1138.2,419.1 1139.8,417.7 1141.4,416.4 1142.9,415.0 1144.5,413.7 1146.1,412.3 1147.6,410.9 1149.2,409.6 1150.8,408.2 1152.3,406.8 1153.9,405.4 1155.5,404.1 1157.0,402.7 1158.6,401.3 1160.2,399.9 1161.8,398.5 1163.3,397.1 1164.9,395.7 1166.5,394.3 1168.0,392.9 1169.6,391.5 1171.2,390.1 1172.7,388.7 1174.3,387.3 1175.9,385.9 1177.4,384.5 1179.0,383.1 1180.6,381.7 1182.2,380.3 1183.7,378.8 1185.3,377.4 1186.9,376.0 1188.4,374.6 1190.0,373.2 1191.6,371.8 1193.1,370.4 1194.7,369.0 1196.3,367.6 1197.8,366.2 1199.4,364.8 1201.0,363.3 1202.5,361.9 1204.1,360.5 1205.7,359.1 1207.3,357.7 1208.8,356.3 1210.4,354.9 1212.0,353.5 1213.5,352.2 1215.1,350.8 1216.7,349.4 1218.2,348.0 1219.8,346.6 1221.4,345.2 1222.9,343.8 1224.5,342.5 1226.1,341.1 1227.6,339.7 1229.2,338.4 1230.8,337.0 1232.4,335.6 1233.9,334.3 1235.5,332.9 1237.1,331.6 1238.6,330.3 1240.2,328.9 1241.8,327.6 1243.3,326.3 1244.9,324.9 1246.5,323.6 1248.0,322.3 1249.6,321.0 1251.2,319.7 1252.8,318.4 1254.3,317.1 1255.9,315.8 1257.5,314.5 1259.0,313.2 1260.6,312.0 1262.2,310.7 1263.7,309.4 1265.3,308.2 1266.9,306.9 1268.4,305.7 1270.0,304.5 1271.6,303.2 1273.1,302.0 1274.7,300.8 1276.3,299.6 1277.9,298.4 1279.4,297.2 1281.0,296.0 1282.6,294.8 1284.1,293.7 1285.7,292.5 1287.3,291.3 1288.8,290.2 1290.4,289.1 1292.0,287.9 1293.5,286.8 1295.1,285.7 1296.7,284.6 1298.3,283.5 1299.8,282.4 1301.4,281.3 1303.0,280.2 1304.5,279.2 1306.1,278.1 1307.7,277.1 1309.2,276.1 1310.8,275.0 1312.4,274.0 1313.9,273.0 1315.5,272.0 1317.1,271.0 1318.6,270.0 1320.2,269.1 1321.8,268.1 1323.4,267.2 1324.9,266.2 1326.5,265.3 1328.1,264.4 1329.6,263.5 1331.2,262.6 1332.8,261.7 1334.3,260.8 1335.9,260.0 1337.5,259.1 1339.0,258.3 1340.6,257.4 1342.2,256.6 1343.7,255.8 1345.3,255.0 1346.9,254.2 1348.5,253.4 1350.0,252.7 1351.6,251.9 1353.2,251.2 1354.7,250.4 1356.3,249.7 1357.9,249.0 1359.4,248.3 1361.0,247.6 1362.6,247.0 1364.1,246.3 1365.7,245.7 1367.3,245.0 1368.9,244.4 1370.4,243.8 1372.0,243.2 1373.6,242.6 1375.1,242.0 1376.7,241.5 1378.3,240.9 1379.8,240.4 1381.4,239.9 1383.0,239.3 1384.5,238.8 1386.1,238.4 1387.7,237.9 1389.2,237.4 1390.8,237.0 1392.4,236.5 1394.0,236.1 1395.5,235.7 1397.1,235.3 1398.7,234.9 1400.2,234.6 1401.8,234.2 1403.4,233.9 1404.9,233.5 1406.5,233.2 1408.1,232.9 1409.6,232.6 1411.2,232.4 1412.8,232.1 1414.3,231.9 1415.9,231.6 1417.5,231.4 1419.1,231.2 1420.6,231.0 1422.2,230.8 1423.8,230.6 1425.3,230.5 1426.9,230.3 1428.5,230.2 1430.0,230.1 1431.6,230.0 1433.2,229.9 1434.7,229.8 1436.3,229.8 1437.9,229.7 1439.5,229.7 1441.0,229.7 1442.6,229.7 1444.2,229.7 1445.7,229.7 1447.3,229.7 1448.9,229.8 1450.4,229.9 1452.0,229.9 1453.6,230.0 1455.1,230.1 1456.7,230.2 1458.3,230.4 1459.8,230.5 1461.4,230.7 1463.0,230.8 1464.6,231.0 1466.1,231.2 1467.7,231.4 1469.3,231.7 1470.8,231.9 1472.4,232.1 1474.0,232.4 1475.5,232.7 1477.1,233.0 1478.7,233.3 1480.2,233.6 1481.8,233.9 1483.4,234.3 1485.0,234.6 1486.5,235.0 1488.1,235.4 1489.7,235.8 1491.2,236.2 1492.8,236.6 1494.4,237.1 1495.9,237.5 1497.5,238.0 1499.1,238.5 1500.6,238.9 1502.2,239.4 1503.8,240.0 1505.3,240.5 1506.9,241.0 1508.5,241.6 1510.1,242.1 1511.6,242.7 1513.2,243.3 1514.8,243.9 1516.3,244.5 1517.9,245.1 1519.5,245.8 1521.0,246.4 1522.6,247.1 1524.2,247.8 1525.7,248.4 1527.3,249.1 1528.9,249.9 1530.4,250.6 1532.0,251.3 1533.6,252.0 1535.2,252.8 1536.7,253.6 1538.3,254.4 1539.9,255.1 1541.4,255.9 1543.0,256.8 1544.6,257.6 1546.1,258.4 1547.7,259.3 1549.3,260.1 1550.8,261.0 1552.4,261.9 1554.0,262.7 1555.6,263.6 1557.1,264.6 1558.7,265.5 1560.3,266.4 1561.8,267.3 1563.4,268.3 1565.0,269.3 1566.5,270.2 1568.1,271.2 1569.7,272.2 1571.2,273.2 1572.8,274.2 1574.4,275.2 1575.9,276.2 1577.5,277.3 1579.1,278.3 1580.7,279.4 1582.2,280.5 1583.8,281.5 1585.4,282.6 1586.9,283.7 1588.5,284.8 1590.1,285.9 1591.6,287.0 1593.2,288.1 1594.8,289.3 1596.3,290.4 1597.9,291.6 1599.5,292.7 1601.0,293.9 1602.6,295.1 1604.2,296.2 1605.8,297.4 1607.3,298.6 1608.9,299.8 1610.5,301.0 1612.0,302.2 1613.6,303.5 1615.2,304.7 1616.7,305.9 1618.3,307.2 1619.9,308.4 1621.4,309.7 1623.0,310.9 1624.6,312.2 1626.2,313.5 1627.7,314.8 1629.3,316.0 1630.9,317.3 1632.4,318.6 1634.0,319.9 1635.6,321.2 1637.1,322.5 1638.7,323.9 1640.3,325.2 1641.8,326.5 1643.4,327.8 1645.0,329.2 1646.5,330.5 1648.1,331.8 1649.7,333.2 1651.3,334.5 1652.8,335.9 1654.4,337.3 1656.0,338.6 1657.5,340.0 1659.1,341.4 1660.7,342.7 1662.2,344.1 1663.8,345.5 1665.4,346.9 1666.9,348.2 1668.5,349.6 1670.1,351.0 1671.7,352.4 1673.2,353.8 1674.8,355.2 1676.4,356.6 1677.9,358.0 1679.5,359.4 1681.1,360.8 1682.6,362.2 1684.2,363.6 1685.8,365.0 1687.3,366.4 1688.9,367.8 1690.5,369.2 1692.0,370.7 1693.6,372.1 1695.2,373.5 1696.8,374.9 1698.3,376.3 1699.9,377.7 1701.5,379.1 1703.0,380.5 1704.6,381.9 1706.2,383.3 1707.7,384.8 1709.3,386.2 1710.9,387.6 1712.4,389.0 1714.0,390.4 1715.6,391.8 1717.1,393.2 1718.7,394.6 1720.3,396.0 1721.9,397.4 1723.4,398.8 1725.0,400.2 1726.6,401.5 1728.1,402.9 1729.7,404.3 1731.3,405.7 1732.8,407.1 1734.4,408.5 1736.0,409.8 1737.5,411.2 1739.1,412.6 1740.7,413.9 1742.3,415.3 1743.8,416.6 1745.4,418.0 1747.0,419.4 1748.5,420.7 1750.1,422.0 1751.7,423.4 1753.2,424.7 1754.8,426.0 1756.4,427.4 1757.9,428.7 1759.5,430.0 1761.1,431.3 1762.6,432.6 1764.2,433.9 1765.8,435.2 1767.4,436.5 1768.9,437.7 1770.5,439.0 1772.1,440.3 1773.6,441.6 1775.2,442.8 1776.8,444.1 1778.3,445.3 1779.9,446.5 1781.5,447.8 1783.0,449.0 1784.6,450.2 1786.2,451.4 1787.7,452.6 1789.3,453.8 1790.9,455.0 1792.5,456.2 1794.0,457.4 1795.6,458.5 1797.2,459.7 1798.7,460.9 1800.3,462.0 1801.9,463.1 1803.4,464.3 1805.0,465.4 1806.6,466.5 1808.1,467.6 1809.7,468.7 1811.3,469.8 1812.9,470.8 1814.4,471.9 1816.0,473.0 1817.6,474.0 1819.1,475.1 1820.7,476.1 1822.3,477.1 1823.8,478.1 1825.4,479.1 1827.0,480.1 1828.5,481.1 1830.1,482.1 1831.7,483.0 1833.2,484.0 1834.8,484.9 1836.4,485.9 1838.0,486.8 1839.5,487.7 1841.1,488.6 1842.7,489.5 1844.2,490.4 1845.8,491.3 1847.4,492.1 1848.9,493.0 1850.5,493.8 1852.1,494.6 1853.6,495.5 1855.2,496.3 1856.8,497.1 1858.3,497.8 1859.9,498.6 1861.5,499.4 1863.1,500.1 1864.6,500.9 1866.2,501.6 1867.8,502.3 1869.3,503.0 1870.9,503.7 1872.5,504.4 1874.0,505.0 1875.6,505.7 1877.2,506.3 1878.7,507.0 1880.3,507.6 1881.9,508.2 1883.5,508.8 1885.0,509.4 1886.6,509.9 1888.2,510.5 1889.7,511.0 1891.3,511.6 1892.9,512.1 1894.4,512.6 1896.0,513.1 1897.6,513.5 1899.1,514.0 1900.7,514.5 1902.3,514.9 1903.8,515.3 1905.4,515.8 1907.0,516.2 1908.6,516.5 1910.1,516.9 1911.7,517.3 1913.3,517.6 1914.8,518.0 1916.4,518.3 1918.0,518.6 1919.5,518.9 1921.1,519.2 1922.7,519.5 1924.2,519.7 1925.8,520.0 1927.4,520.2 1929.0,520.4 1930.5,520.6 1932.1,520.8 1933.7,521.0 1935.2,521.1 1936.8,521.3 1938.4,521.4 1939.9,521.5 1941.5,521.6 1943.1,521.7 1944.6,521.8 1946.2,521.9 1947.8,521.9 1949.3,522.0 1950.9,522.0 1952.5,522.0 1954.1,522.0 1955.6,522.0 1957.2,522.0 1958.8,521.9 1960.3,521.9 1961.9,521.8 1963.5,521.7 1965.0,521.6 1966.6,521.5 1968.2,521.4 1969.7,521.3 1971.3,521.1 1972.9,521.0 1974.4,520.8 1976.0,520.6 1977.6,520.4 1979.2,520.2 1980.7,519.9 1982.3,519.7 1983.9,519.4 1985.4,519.2 1987.0,518.9 1988.6,518.6 1990.1,518.3 1991.7,517.9 1993.3,517.6 1994.8,517.3 1996.4,516.9 1998.0,516.5 1999.6,516.1 2001.1,515.7 2002.7,515.3 2004.3,514.9 2005.8,514.4 2007.4,514.0 2009.0,513.5 2010.5,513.0 2012.1,512.5 2013.7,512.0 2015.2,511.5 2016.8,511.0 2018.4,510.4 2019.9,509.9 2021.5,509.3 2023.1,508.7 2024.7,508.1 2026.2,507.5 2027.8,506.9 2029.4,506.3 2030.9,505.6 2032.5,505.0 2034.1,504.3 2035.6,503.6 2037.2,503.0 2038.8,502.2 2040.3,501.5 2041.9,500.8 2043.5,500.1 2045.0,499.3 2046.6,498.6 2048.2,497.8 2049.8,497.0 2051.3,496.2 2052.9,495.4 2054.5,494.6 2056.0,493.8 2057.6,492.9 2059.2,492.1 2060.7,491.2 2062.3,490.3 2063.9,489.5 2065.4,488.6 2067.0,487.7 2068.6,486.7 2070.2,485.8 2071.7,484.9 2073.3,483.9 2074.9,483.0 2076.4,482.0 2078.0,481.0 2079.6,480.1 2081.1,479.1 2082.7,478.1 2084.3,477.1 2085.8,476.0 2087.4,475.0 2089.0,474.0 2090.5,472.9 2092.1,471.8 2093.7,470.8 2095.3,469.7 2096.8,468.6 2098.4,467.5 2100.0,466.4 2101.5,465.3 2103.1,464.2 2104.7,463.1 2106.2,461.9 2107.8,460.8 2109.4,459.6 2110.9,458.5 2112.5,457.3 2114.1,456.1 2115.7,454.9 2117.2,453.8 2118.8,452.6 2120.4,451.4 2121.9,450.1 2123.5,448.9 2125.1,447.7 2126.6,446.5 2128.2,445.2 2129.8,444.0 2131.3,442.7 2132.9,441.5 2134.5,440.2 2136.0,438.9 2137.6,437.7 2139.2,436.4 2140.8,435.1 2142.3,433.8 2143.9,432.5 2145.5,431.2 2147.0,429.9 2148.6,428.6 2150.2,427.3 2151.7,425.9 2153.3,424.6 2154.9,423.3 2156.4,421.9 2158.0,420.6 2159.6,419.3 2161.1,417.9 2162.7,416.6 2164.3,415.2 2165.9,413.8 2167.4,412.5 2169.0,411.1 2170.6,409.7 2172.1,408.4 2173.7,407.0 2175.3,405.6 2176.8,404.2 2178.4,402.8 2180.0,401.5 2181.5,400.1 2183.1,398.7 2184.7,397.3 2186.3,395.9 2187.8,394.5 2189.4,393.1 2191.0,391.7 2192.5,390.3 2194.1,388.9 2195.7,387.5 2197.2,386.1 2198.8,384.7 2200.4,383.2 2201.9,381.8 2203.5,380.4 2205.1,379.0 2206.6,377.6 2208.2,376.2 2209.8,374.8 2211.4,373.4 2212.9,372.0 2214.5,370.6 2216.1,369.1 2217.6,367.7 2219.2,366.3 2220.8,364.9 2222.3,363.5 2223.9,362.1 2225.5,360.7 2227.0,359.3 2228.6,357.9 2230.2,356.5 2231.7,355.1 2233.3,353.7 2234.9,352.3 2236.5,350.9 2238.0,349.5 2239.6,348.2 2241.2,346.8 2242.7,345.4 2244.3,344.0 2245.9,342.6 2247.4,341.3 2249.0,339.9 2250.6,338.5 2252.1,337.2 2253.7,335.8 2255.3,334.5 2256.9,333.1 2258.4,331.8 2260.0,330.4 2261.6,329.1 2263.1,327.7 2264.7,326.4 2266.3,325.1 2267.8,323.8 2269.4,322.5 2271.0,321.1 2272.5,319.8 2274.1,318.5 2275.7,317.2 2277.2,316.0 2278.8,314.7 2280.4,313.4 2282.0,312.1 2283.5,310.9 2285.1,309.6 2286.7,308.3 2288.2,307.1 2289.8,305.8 2291.4,304.6 2292.9,303.4 2294.5,302.2 2296.1,300.9 2297.6,299.7 2299.2,298.5 2300.8,297.3 2302.4,296.2 2303.9,295.0 2305.5,293.8 2307.1,292.6 2308.6,291.5 2310.2,290.3 2311.8,289.2 2313.3,288.1 2314.9,286.9 2316.5,285.8 2318.0,284.7 2319.6,283.6 2321.2,282.5 2322.7,281.5 2324.3,280.4 2325.9,279.3 2327.5,278.3 2329.0,277.2 2330.6,276.2 2332.2,275.2 2333.7,274.1 2335.3,273.1 2336.9,272.1 2338.4,271.1 2340.0,270.2 2341.6,269.2 2343.1,268.2 2344.7,267.3 2346.3,266.3 2347.8,265.4 2349.4,264.5 2351.0,263.6 2352.6,262.7 2354.1,261.8 2355.7,260.9 2357.3,260.1 2358.8,259.2 2360.4,258.4"/>
<polyline stroke="#000000" points="165.5,595.0 167.1,595.0 168.6,594.8 170.2,594.5 171.8,593.9 173.3,593.1 174.9,592.1 176.5,591.0 178.1,589.7 179.6,588.1 181.2,586.2 182.8,583.9 184.3,581.2 185.9,578.0 187.5,574.2 189.0,570.1 190.6,565.6 192.2,560.8 193.7,555.6 195.3,549.9 196.9,543.9 198.4,537.5 200.0,530.9 201.6,523.9 203.2,516.5 204.7,508.7 206.3,500.5 207.9,491.9 209.4,483.1 211.0,474.1 212.6,465.1 214.1,456.1 215.7,447.3 217.3,438.7 218.8,430.3 220.4,422.2 222.0,414.4 223.5,406.7 225.1,399.0 226.7,391.1 228.3,382.9 229.8,374.6 231.4,366.4 233.0,358.4 234.5,350.5 236.1,343.0 237.7,336.0 239.2,329.4 240.8,323.3 242.4,317.8 243.9,312.8 245.5,308.3 247.1,304.3 248.7,300.8 250.2,297.7 251.8,295.1 253.4,292.8 254.9,290.9 256.5,289.4 258.1,288.1 259.6,287.2 261.2,286.5 262.8,286.0 264.3,285.7 265.9,285.6 267.5,285.6 269.0,285.7 270.6,285.9 272.2,286.2 273.8,286.6 275.3,287.2 276.9,287.8 278.5,288.6 280.0,289.6 281.6,290.7 283.2,291.9 284.7,293.2 286.3,294.6 287.9,296.0 289.4,297.4 291.0,298.7 292.6,300.0 294.2,301.2 295.7,302.2 297.3,303.1 298.9,303.8 300.4,304.3 302.0,304.6 303.6,304.6 305.1,304.5 306.7,304.0 308.3,303.3 309.8,302.3 311.4,301.0 313.0,299.2 314.5,297.0 316.1,294.4 317.7,291.2 319.3,287.4 320.8,283.0 322.4,277.8 324.0,271.9 325.5,265.2 327.1,258.0 328.7,250.5 330.2,242.8 331.8,235.1 333.4,227.7 334.9,220.7 336.5,214.1 338.1,208.0 339.6,202.4 341.2,197.2 342.8,192.4 344.4,187.9 345.9,183.6 347.5,179.6 349.1,175.8 350.6,172.2 352.2,168.9 353.8,165.9 355.3,163.2 356.9,160.7 358.5,158.6 360.0,156.8 361.6,155.4 363.2,154.2 364.8,153.4 366.3,152.8 367.9,152.5 369.5,152.6 371.0,152.8 372.6,153.4 374.2,154.2 375.7,155.2 377.3,156.4 378.9,157.8 380.4,159.4 382.0,161.2 383.6,163.1 385.1,165.1 386.7,167.2 388.3,169.5 389.9,171.7 391.4,174.1 393.0,176.5 394.6,179.0 396.1,181.4 397.7,183.9 399.3,186.4 400.8,188.9 402.4,191.3 404.0,193.6 405.5,195.9 407.1,198.1 408.7,200.2 410.2,202.2 411.8,204.2 413.4,206.0 415.0,207.7 416.5,209.3 418.1,210.7 419.7,212.0 421.2,213.2 422.8,214.2 424.4,215.1 425.9,215.8 427.5,216.3 429.1,216.8 430.6,217.1 432.2,217.3 433.8,217.3 435.4,217.3 436.9,217.2 438.5,216.9 440.1,216.6 441.6,216.3 443.2,215.9 444.8,215.4 446.3,215.0 447.9,214.5 449.5,214.0 451.0,213.6 452.6,213.2 454.2,212.8 455.7,212.4 457.3,212.1 458.9,211.9 460.5,211.7 462.0,211.5 463.6,211.4 465.2,211.3 466.7,211.2 468.3,211.1 469.9,211.1 471.4,211.1 473.0,211.1 474.6,211.2 476.1,211.2 477.7,211.4 479.3,211.5 480.9,211.8 482.4,212.1 484.0,212.5 485.6,212.9 487.1,213.4 488.7,213.9 490.3,214.6 491.8,215.3 493.4,216.0 495.0,216.9 496.5,217.7 498.1,218.7 499.7,219.7 501.2,220.7 502.8,221.8 504.4,223.0 506.0,224.2 507.5,225.4 509.1,226.7 510.7,228.0 512.2,229.4 513.8,230.8 515.4,232.2 516.9,233.6 518.5,235.1 520.1,236.5 521.6,238.0 523.2,239.4 524.8,240.8 526.3,242.3 527.9,243.7 529.5,245.2 531.1,246.6 532.6,248.1 534.2,249.6 535.8,251.0 537.3,252.5 538.9,254.1 540.5,255.6 542.0,257.2 543.6,258.7 545.2,260.3 546.7,261.9 548.3,263.4 549.9,265.0 551.5,266.7 553.0,268.3 554.6,270.0 556.2,271.7 557.7,273.4 559.3,275.2 560.9,277.0 562.4,278.8 564.0,280.6 565.6,282.4 567.1,284.3 568.7,286.1 570.3,288.0 571.8,289.8 573.4,291.6 575.0,293.4 576.6,295.2 578.1,296.9 579.7,298.6 581.3,300.2 582.8,301.8 584.4,303.4 586.0,304.9 587.5,306.3 589.1,307.7 590.7,309.0 592.2,310.3 593.8,311.6 595.4,312.8 596.9,313.9 598.5,315.1 600.1,316.3 601.7,317.4 603.2,318.6 604.8,319.8 606.4,320.9 607.9,322.1 609.5,323.2 611.1,324.4 612.6,325.6 614.2,326.8 615.8,327.9 617.3,329.1 618.9,330.3 620.5,331.5 622.1,332.8 623.6,334.0 625.2,335.2 626.8,336.5 628.3,337.8 629.9,339.1 631.5,340.3 633.0,341.6 634.6,342.9 636.2,344.2 637.7,345.5 639.3,346.8 640.9,348.1 642.4,349.4 644.0,350.7 645.6,352.0 647.2,353.3 648.7,354.7 650.3,356.0 651.9,357.3 653.4,358.6 655.0,359.9 656.6,361.3 658.1,362.6 659.7,363.9 661.3,365.2 662.8,366.6 664.4,367.9 666.0,369.2 667.6,370.6 669.1,371.9 670.7,373.2 672.3,374.5 673.8,375.9 675.4,377.2 677.0,378.5 678.5,379.9 680.1,381.2 681.7,382.5 683.2,383.9 684.8,385.2 686.4,386.6 687.9,387.9 689.5,389.2 691.1,390.6 692.7,391.9 694.2,393.2 695.8,394.6 697.4,395.9 698.9,397.2 700.5,398.6 702.1,399.9 703.6,401.2 705.2,402.6 706.8,403.9 708.3,405.2 709.9,406.6 711.5,407.9 713.0,409.2 714.6,410.6 716.2,411.9 717.8,413.2 719.3,414.5 720.9,415.9 722.5,417.2 724.0,418.5 725.6,419.8 727.2,421.1 728.7,422.4 730.3,423.7 731.9,425.1 733.4,426.4 735.0,427.7 736.6,428.9 738.2,430.2 739.7,431.5 741.3,432.8 742.9,434.1 744.4,435.4 746.0,436.6 747.6,437.9 749.1,439.2 750.7,440.4 752.3,441.7 753.8,442.9 755.4,444.2 757.0,445.4 758.5,446.6 760.1,447.8 761.7,449.1 763.3,450.3 764.8,451.5 766.4,452.7 768.0,453.9 769.5,455.0 771.1,456.2 772.7,457.4 774.2,458.5 775.8,459.7 777.4,460.8 778.9,462.0 780.5,463.1 782.1,464.2 783.6,465.3 785.2,466.4 786.8,467.5 788.4,468.6 789.9,469.7 791.5,470.8 793.1,471.8 794.6,472.9 796.2,473.9 797.8,474.9 799.3,475.9 800.9,477.0 802.5,478.0 804.0,478.9 805.6,479.9 807.2,480.9 808.8,481.9 810.3,482.8 811.9,483.8 813.5,484.7 815.0,485.6 816.6,486.5 818.2,487.4 819.7,488.3 821.3,489.2 822.9,490.0 824.4,490.9 826.0,491.8 827.6,492.6 829.1,493.4 830.7,494.2 832.3,495.0 833.9,495.8 835.4,496.6 837.0,497.4 838.6,498.1 840.1,498.9 841.7,499.6 843.3,500.3 844.8,501.0 846.4,501.7 848.0,502.4 849.5,503.1 851.1,503.8 852.7,504.4 854.2,505.1 855.8,505.7 857.4,506.3 859.0,506.9 860.5,507.5 862.1,508.1 863.7,508.7 865.2,509.2 866.8,509.8 868.4,510.3 869.9,510.8 871.5,511.3 873.1,511.8 874.6,512.3 876.2,512.8 877.8,513.2 879.4,513.7 880.9,514.1 882.5,514.5 884.1,514.9 885.6,515.3 887.2,515.7 888.8,516.1 890.3,516.5 891.9,516.8 893.5,517.1 895.0,517.5 896.6,517.8 898.2,518.1 899.7,518.3 901.3,518.6 902.9,518.9 904.5,519.1 906.0,519.3 907.6,519.6 909.2,519.8 910.7,520.0 912.3,520.1 913.9,520.3 915.4,520.5 917.0,520.6 918.6,520.7 920.1,520.8 921.7,520.9 923.3,521.0 924.9,521.1 926.4,521.2 928.0,521.2 929.6,521.2 931.1,521.3 932.7,521.3 934.3,521.3 935.8,521.2 937.4,521.2 939.0,521.2 940.5,521.1 942.1,521.0 943.7,520.9 945.2,520.9 946.8,520.7 948.4,520.6 950.0,520.5 951.5,520.3 953.1,520.2 954.7,520.0 956.2,519.8 957.8,519.6 959.4,519.4 960.9,519.1 962.5,518.9 964.1,518.6 965.6,518.3 967.2,518.1 968.8,517.8 970.3,517.4 971.9,517.1 973.5,516.8 975.1,516.4 976.6,516.1 978.2,515.7 979.8,515.3 981.3,514.9 982.9,514.5 984.5,514.0 986.0,513.6 987.6,513.1 989.2,512.7 990.7,512.2 992.3,511.7 993.9,511.2 995.5,510.6 997.0,510.1 998.6,509.6 1000.2,509.0 1001.7,508.4 1003.3,507.8 1004.9,507.2 1006.4,506.6 1008.0,506.0 1009.6,505.4 1011.1,504.7 1012.7,504.1 1014.3,503.4 1015.8,502.7 1017.4,502.0 1019.0,501.3 1020.6,500.6 1022.1,499.8 1023.7,499.1 1025.3,498.3 1026.8,497.6 1028.4,496.8 1030.0,496.0 1031.5,495.2 1033.1,494.4 1034.7,493.6 1036.2,492.7 1037.8,491.9 1039.4,491.0 1040.9,490.2 1042.5,489.3 1044.1,488.4 1045.7,487.5 1047.2,486.6 1048.8,485.6 1050.4,484.7 1051.9,483.8 1053.5,482.8 1055.1,481.9 1056.6,480.9 1058.2,479.9 1059.8,478.9 1061.3,477.9 1062.9,476.9 1064.5,475.9 1066.1,474.8 1067.6,473.8 1069.2,472.8 1070.8,471.7 1072.3,470.6 1073.9,469.5 1075.5,468.5 1077.0,467.4 1078.6,466.3 1080.2,465.2 1081.7,464.0 1083.3,462.9 1084.9,461.8 1086.4,460.6 1088.0,459.5 1089.6,458.3 1091.2,457.1 1092.7,456.0 1094.3,454.8 1095.9,453.6 1097.4,452.4 1099.0,451.2 1100.6,450.0 1102.1,448.8 1103.7,447.5 1105.3,446.3 1106.8,445.1 1108.4,443.8 1110.0,442.6 1111.6,441.3 1113.1,440.1 1114.7,438.8 1116.3,437.5 1117.8,436.2 1119.4,434.9 1121.0,433.6 1122.5,432.3 1124.1,431.0 1125.7,429.7 1127.2,428.4 1128.8,427.1 1130.4,425.8 1131.9,424.5 1133.5,423.1 1135.1,421.8 1136.7,420.4 1138.2,419.1 1139.8,417.7 1141.4,416.4 1142.9,415.0 1144.5,413.7 1146.1,412.3 1147.6,410.9 1149.2,409.6 1150.8,408.2 1152.3,406.8 1153.9,405.4 1155.5,404.1 1157.0,402.7 1158.6,401.3 1160.2,399.9 1161.8,398.5 1163.3,397.1 1164.9,395.7 1166.5,394.3 1168.0,392.9 1169.6,391.5 1171.2,390.1 1172.7,388.7 1174.3,387.3 1175.9,385.9 1177.4,384.5 1179.0,383.1 1180.6,381.7 1182.2,380.3 1183.7,378.8 1185.3,377.4 1186.9,376.0 1188.4,374.6 1190.0,373.2 1191.6,371.8 1193.1,370.4 1194.7,369.0 1196.3,367.6 1197.8,366.2 1199.4,364.8 1201.0,363.3 1202.5,361.9 1204.1,360.5 1205.7,359.1 1207.3,357.7 1208.8,356.3 1210.4,354.9 1212.0,353.5 1213.5,352.2 1215.1,350.8 1216.7,349.4 1218.2,348.0 1219.8,346.6 1221.4,345.2 1222.9,343.8 1224.5,342.5 1226.1,341.1 1227.6,339.7 1229.2,338.4 1230.8,337.0 1232.4,335.6 1233.9,334.3 1235.5,332.9 1237.1,331.6 1238.6,330.3 1240.2,328.9 1241.8,327.6 1243.3,326.3 1244.9,324.9 1246.5,323.6 1248.0,322.3 1249.6,321.0 1251.2,319.7 1252.8,318.4 1254.3,317.1 1255.9,315.8 1257.5,314.5 1259.0,313.2 1260.6,312.0 1262.2,310.7 1263.7,309.4 1265.3,308.2 1266.9,306.9 1268.4,305.7 1270.0,304.5 1271.6,303.2 1273.1,302.0 1274.7,300.8 1276.3,299.6 1277.9,298.4 1279.4,297.2 1281.0,296.0 1282.6,294.8 1284.1,293.7 1285.7,292.5 1287.3,291.3 1288.8,290.2 1290.4,289.1 1292.0,287.9 1293.5,286.8 1295.1,285.7 1296.7,284.6 1298.3,283.5 1299.8,282.4 1301.4,281.3 1303.0,280.2 1304.5,279.2 1306.1,278.1 1307.7,277.1 1309.2,276.1 1310.8,275.0 1312.4,274.0 1313.9,273.0 1315.5,272.0 1317.1,271.0 1318.6,270.0 1320.2,269.1 1321.8,268.1 1323.4,267.2 1324.9,266.2 1326.5,265.3 1328.1,264.4 1329.6,263.5 1331.2,262.6 1332.8,261.7 1334.3,260.8 1335.9,260.0 1337.5,259.1 1339.0,258.3 1340.6,257.4 1342.2,256.6 1343.7,255.8 1345.3,255.0 1346.9,254.2 1348.5,253.4 1350.0,252.7 1351.6,251.9 1353.2,251.2 1354.7,250.4 1356.3,249.7 1357.9,249.0 1359.4,248.3 1361.0,247.6 1362.6,247.0 1364.1,246.3 1365.7,245.7 1367.3,245.0 1368.9,244.4 1370.4,243.8 1372.0,243.2 1373.6,242.6 1375.1,242.0 1376.7,241.5 1378.3,240.9 1379.8,240.4 1381.4,239.9 1383.0,239.3 1384.5,238.8 1386.1,238.4 1387.7,237.9 1389.2,237.4 1390.8,237.0 1392.4,236.5 1394.0,236.1 1395.5,235.7 1397.1,235.3 1398.7,234.9 1400.2,234.6 1401.8,234.2 1403.4,233.9 1404.9,233.5 1406.5,233.2 1408.1,232.9 1409.6,232.6 1411.2,232.4 1412.8,232.1 1414.3,231.9 1415.9,231.6 1417.5,231.4 1419.1,231.2 1420.6,231.0 1422.2,230.8 1423.8,230.6 1425.3,230.5 1426.9,230.3 1428.5,230.2 1430.0,230.1 1431.6,230.0 1433.2,229.9 1434.7,229.8 1436.3,229.8 1437.9,229.7 1439.5,229.7 1441.0,229.7 1442.6,229.7 1444.2,229.7 1445.7,229.7 1447.3,229.7 1448.9,229.8 1450.4,229.9 1452.0,229.9 1453.6,230.0 1455.1,230.1 1456.7,230.2 1458.3,230.4 1459.8,230.5 1461.4,230.7 1463.0,230.8 1464.6,231.0 1466.1,231.2 1467.7,231.4 1469.3,231.7 1470.8,231.9 1472.4,232.1 1474.0,232.4 1475.5,232.7 1477.1,233.0 1478.7,233.3 1480.2,233.6 1481.8,233.9 1483.4,234.3 1485.0,234.6 1486.5,235.0 1488.1,235.4 1489.7,235.8 1491.2,236.2 1492.8,236.6 1494.4,237.1 1495.9,237.5 1497.5,238.0 1499.1,238.4 1500.6,238.9 1502.2,239.4 1503.8,239.9 1505.3,240.5 1506.9,241.0 1508.5,241.6 1510.1,242.1 1511.6,242.7 1513.2,243.3 1514.8,243.9 1516.3,244.5 1517.9,245.1 1519.5,245.8 1521.0,246.4 1522.6,247.1 1524.2,247.7 1525.7,248.4 1527.3,249.1 1528.9,249.8 1530.4,250.5 1532.0,251.3 1533.6,252.0 1535.2,252.8 1536.7,253.5 1538.3,254.3 1539.9,255.1 1541.4,255.9 1543.0,256.7 1544.6,257.5 1546.1,258.4 1547.7,259.2 1549.3,260.1 1550.8,260.9 1552.4,261.8 1554.0,262.7 1555.6,263.6 1557.1,264.5 1558.7,265.4 1560.3,266.3 1561.8,267.2 1563.4,268.2 1565.0,269.1 1566.5,270.1 1568.1,271.1 1569.7,272.0 1571.2,273.0 1572.8,274.0 1574.4,275.0 1575.9,276.1 1577.5,277.1 1579.1,278.1 1580.7,279.2 1582.2,280.2 1583.8,281.3 1585.4,282.3 1586.9,283.4 1588.5,284.5 1590.1,285.6 1591.6,286.7 1593.2,287.8 1594.8,288.9 1596.3,290.0 1597.9,291.2 1599.5,292.3 1601.0,293.4 1602.6,294.6 1604.2,295.7 1605.8,296.9 1607.3,298.1 1608.9,299.2 1610.5,300.4 1612.0,301.6 1613.6,302.8 1615.2,304.0 1616.7,305.2 1618.3,306.4 1619.9,307.6 1621.4,308.9 1623.0,310.1 1624.6,311.3 1626.2,312.6 1627.7,313.8 1629.3,315.1 1630.9,316.3 1632.4,317.6 1634.0,318.8 1635.6,320.1 1637.1,321.4 1638.7,322.7 1640.3,324.0 1641.8,325.2 1643.4,326.5 1645.0,327.8 1646.5,329.1 1648.1,330.4 1649.7,331.8 1651.3,333.1 1652.8,334.4 1654.4,335.7 1656.0,337.0 1657.5,338.4 1659.1,339.7 1660.7,341.0 1662.2,342.4 1663.8,343.7 1665.4,345.1 1666.9,346.4 1668.5,347.8 1670.1,349.1 1671.7,350.5 1673.2,351.9 1674.8,353.2 1676.4,354.6 1677.9,356.0 1679.5,357.4 1681.1,358.8 1682.6,360.1 1684.2,361.5 1685.8,362.9 1687.3,364.3 1688.9,365.7 1690.5,367.1 1692.0,368.5 1693.6,369.9 1695.2,371.3 1696.8,372.7 1698.3,374.1 1699.9,375.5 1701.5,376.9 1703.0,378.3 1704.6,379.7 1706.2,381.2 1707.7,382.6 1709.3,384.0 1710.9,385.4 1712.4,386.8 1714.0,388.2 1715.6,389.6 1717.1,391.1 1718.7,392.5 1720.3,393.9 1721.9,395.3 1723.4,396.7 1725.0,398.1 1726.6,399.6 1728.1,401.0 1729.7,402.4 1731.3,403.8 1732.8,405.2 1734.4,406.6 1736.0,408.0 1737.5,409.4 1739.1,410.8 1740.7,412.2 1742.3,413.6 1743.8,415.0 1745.4,416.4 1747.0,417.7 1748.5,419.1 1750.1,420.5 1751.7,421.9 1753.2,423.2 1754.8,424.6 1756.4,426.0 1757.9,427.3 1759.5,428.7 1761.1,430.0 1762.6,431.4 1764.2,432.7 1765.8,434.0 1767.4,435.3 1768.9,436.7 1770.5,438.0 1772.1,439.3 1773.6,440.6 1775.2,441.9 1776.8,443.1 1778.3,444.4 1779.9,445.7 1781.5,447.0 1783.0,448.2 1784.6,449.5 1786.2,450.7 1787.7,451.9 1789.3,453.2 1790.9,454.4 1792.5,455.6 1794.0,456.8 1795.6,458.0 1797.2,459.2 1798.7,460.3 1800.3,461.5 1801.9,462.7 1803.4,463.8 1805.0,465.0 1806.6,466.1 1808.1,467.2 1809.7,468.3 1811.3,469.4 1812.9,470.5 1814.4,471.6 1816.0,472.7 1817.6,473.7 1819.1,474.8 1820.7,475.8 1822.3,476.9 1823.8,477.9 1825.4,478.9 1827.0,479.9 1828.5,480.9 1830.1,481.9 1831.7,482.9 1833.2,483.9 1834.8,484.8 1836.4,485.7 1838.0,486.7 1839.5,487.6 1841.1,488.5 1842.7,489.4 1844.2,490.3 1845.8,491.2 1847.4,492.0 1848.9,492.9 1850.5,493.7 1852.1,494.6 1853.6,495.4 1855.2,496.2 1856.8,497.0 1858.3,497.8 1859.9,498.6 1861.5,499.3 1863.1,500.1 1864.6,500.8 1866.2,501.6 1867.8,502.3 1869.3,503.0 1870.9,503.7 1872.5,504.3 1874.0,505.0 1875.6,505.7 1877.2,506.3 1878.7,506.9 1880.3,507.6 1881.9,508.2 1883.5,508.8 1885.0,509.4 1886.6,509.9 1888.2,510.5 1889.7,511.0 1891.3,511.6 1892.9,512.1 1894.4,512.6 1896.0,513.1 1897.6,513.6 1899.1,514.0 1900.7,514.5 1902.3,514.9 1903.8,515.4 1905.4,515.8 1907.0,516.2 1908.6,516.6 1910.1,517.0 1911.7,517.3 1913.3,517.7 1914.8,518.0 1916.4,518.3 1918.0,518.7 1919.5,519.0 1921.1,519.2 1922.7,519.5 1924.2,519.8 1925.8,520.0 1927.4,520.3 1929.0,520.5 1930.5,520.7 1932.1,520.9 1933.7,521.1 1935.2,521.2 1936.8,521.4 1938.4,521.5 1939.9,521.7 1941.5,521.8 1943.1,521.9 1944.6,522.0 1946.2,522.1 1947.8,522.1 1949.3,522.2 1950.9,522.2 1952.5,522.2 1954.1,522.2 1955.6,522.2 1957.2,522.2 1958.8,522.2 1960.3,522.2 1961.9,522.1 1963.5,522.0 1965.0,522.0 1966.6,521.9 1968.2,521.8 1969.7,521.6 1971.3,521.5 1972.9,521.4 1974.4,521.2 1976.0,521.0 1977.6,520.9 1979.2,520.7 1980.7,520.5 1982.3,520.2 1983.9,520.0 1985.4,519.8 1987.0,519.5 1988.6,519.2 1990.1,519.0 1991.7,518.7 1993.3,518.4 1994.8,518.0 1996.4,517.7 1998.0,517.4 1999.6,517.0 2001.1,516.6 2002.7,516.3 2004.3,515.9 2005.8,515.5 2007.4,515.1 2009.0,514.6 2010.5,514.2 2012.1,513.7 2013.7,513.3 2015.2,512.8 2016.8,512.3 2018.4,511.8 2019.9,511.3 2021.5,510.8 2023.1,510.2 2024.7,509.7 2026.2,509.1 2027.8,508.5 2029.4,508.0 2030.9,507.4 2032.5,506.8 2034.1,506.1 2035.6,505.5 2037.2,504.9 2038.8,504.2 2040.3,503.6 2041.9,502.9 2043.5,502.2 2045.0,501.5 2046.6,500.8 2048.2,500.0 2049.8,499.3 2051.3,498.6 2052.9,497.8 2054.5,497.0 2056.0,496.2 2057.6,495.5 2059.2,494.6 2060.7,493.8 2062.3,493.0 2063.9,492.2 2065.4,491.3 2067.0,490.4 2068.6,489.6 2070.2,488.7 2071.7,487.8 2073.3,486.9 2074.9,486.0 2076.4,485.0 2078.0,484.1 2079.6,483.1 2081.1,482.2 2082.7,481.2 2084.3,480.2 2085.8,479.2 2087.4,478.2 2089.0,477.2 2090.5,476.1 2092.1,475.1 2093.7,474.0 2095.3,473.0 2096.8,471.9 2098.4,470.8 2100.0,469.7 2101.5,468.6 2103.1,467.5 2104.7,466.3 2106.2,465.2 2107.8,464.1 2109.4,462.9 2110.9,461.7 2112.5,460.6 2114.1,459.4 2115.7,458.2 2117.2,457.0 2118.8,455.8 2120.4,454.5 2121.9,453.3 2123.5,452.1 2125.1,450.8 2126.6,449.6 2128.2,448.3 2129.8,447.0 2131.3,445.7 2132.9,444.5 2134.5,443.2 2136.0,441.9 2137.6,440.5 2139.2,439.2 2140.8,437.9 2142.3,436.6 2143.9,435.2 2145.5,433.9 2147.0,432.5 2148.6,431.2 2150.2,429.8 2151.7,428.5 2153.3,427.1 2154.9,425.7 2156.4,424.3 2158.0,422.9 2159.6,421.5 2161.1,420.1 2162.7,418.7 2164.3,417.3 2165.9,415.9 2167.4,414.5 2169.0,413.1 2170.6,411.7 2172.1,410.3 2173.7,408.8 2175.3,407.4 2176.8,406.0 2178.4,404.6 2180.0,403.1 2181.5,401.7 2183.1,400.2 2184.7,398.8 2186.3,397.4 2187.8,395.9 2189.4,394.5 2191.0,393.0 2192.5,391.6 2194.1,390.1 2195.7,388.7 2197.2,387.2 2198.8,385.8 2200.4,384.3 2201.9,382.9 2203.5,381.4 2205.1,380.0 2206.6,378.6 2208.2,377.1 2209.8,375.7 2211.4,374.2 2212.9,372.8 2214.5,371.3 2216.1,369.9 2217.6,368.4 2219.2,367.0 2220.8,365.6 2222.3,364.1 2223.9,362.7 2225.5,361.3 2227.0,359.9 2228.6,358.4 2230.2,357.0 2231.7,355.6 2233.3,354.2 2234.9,352.8 2236.5,351.3 2238.0,349.9 2239.6,348.5 2241.2,347.1 2242.7,345.7 2244.3,344.3 2245.9,342.9 2247.4,341.6 2249.0,340.2 2250.6,338.8 2252.1,337.4 2253.7,336.0 2255.3,334.7 2256.9,333.3 2258.4,332.0 2260.0,330.6 2261.6,329.2 2263.1,327.9 2264.7,326.6 2266.3,325.2 2267.8,323.9 2269.4,322.6 2271.0,321.3 2272.5,319.9 2274.1,318.6 2275.7,317.3 2277.2,316.0 2278.8,314.8 2280.4,313.5 2282.0,312.2 2283.5,310.9 2285.1,309.7 2286.7,308.4 2288.2,307.1 2289.8,305.9 2291.4,304.7 2292.9,303.4 2294.5,302.2 2296.1,301.0 2297.6,299.8 2299.2,298.6 2300.8,297.4 2302.4,296.2 2303.9,295.0 2305.5,293.8 2307.1,292.7 2308.6,291.5 2310.2,290.4 2311.8,289.2 2313.3,288.1 2314.9,287.0 2316.5,285.8 2318.0,284.7 2319.6,283.6 2321.2,282.5 2322.7,281.5 2324.3,280.4 2325.9,279.3 2327.5,278.3 2329.0,277.2 2330.6,276.2 2332.2,275.2 2333.7,274.1 2335.3,273.1 2336.9,272.1 2338.4,271.1 2340.0,270.2 2341.6,269.2 2343.1,268.2 2344.7,267.3 2346.3,266.3 2347.8,265.4 2349.4,264.5 2351.0,263.6 2352.6,262.7 2354.1,261.8 2355.7,260.9 2357.3,260.1 2358.8,259.2 2360.4,258.4"/>
<polyline stroke="#ff0000" points="165.5,375.9 167.1,375.9 168.6,375.9 170.2,375.8 171.8,375.6 173.3,375.3 174.9,375.0 176.5,374.6 178.1,374.1 179.6,373.5 181.2,372.7 182.8,371.8 184.3,370.8 185.9,369.7 187.5,368.5 189.0,367.3 190.6,366.1 192.2,364.8 193.7,363.3 195.3,361.8 196.9,360.2 198.4,358.6 200.0,357.0 201.6,355.4 203.2,353.8 204.7,352.2 206.3,350.7 207.9,349.1 209.4,347.5 211.0,346.0 212.6,344.4 214.1,342.9 215.7,341.3 217.3,339.8 218.8,338.3 220.4,336.7 222.0,335.3 223.5,333.7 225.1,332.2 226.7,330.6 228.3,328.9 229.8,327.2 231.4,325.6 233.0,324.0 234.5,322.5 236.1,320.9 237.7,319.4 239.2,317.9 240.8,316.5 242.4,315.0 243.9,313.6 245.5,312.2 247.1,310.8 248.7,309.5 250.2,308.2 251.8,306.8 253.4,305.5 254.9,304.2 256.5,302.9 258.1,301.6 259.6,300.3 261.2,299.1 262.8,297.8 264.3,296.5 265.9,295.2 267.5,294.0 269.0,292.7 270.6,291.5 272.2,290.2 273.8,289.0 275.3,287.7 276.9,286.5 278.5,285.3 280.0,284.0 281.6,282.9 283.2,281.7 284.7,280.5 286.3,279.4 287.9,278.2 289.4,277.1 291.0,276.0 292.6,274.9 294.2,273.8 295.7,272.8 297.3,271.7 298.9,270.7 300.4,269.7 302.0,268.7 303.6,267.7 305.1,266.7 306.7,265.8 308.3,264.8 309.8,263.9 311.4,263.0 313.0,262.0 314.5,261.1 316.1,260.2 317.7,259.4 319.3,258.5 320.8,257.6 322.4,256.8 324.0,256.0 325.5,255.1 327.1,254.3 328.7,253.5 330.2,252.7 331.8,252.0 333.4,251.2 334.9,250.5 336.5,249.7 338.1,249.0 339.6,248.3 341.2,247.6 342.8,246.9 344.4,246.2 345.9,245.6 347.5,244.9 349.1,244.3 350.6,243.7 352.2,243.0 353.8,242.4 355.3,241.8 356.9,241.3 358.5,240.7 360.0,240.1 361.6,239.6 363.2,239.1 364.8,238.6 366.3,238.0 367.9,237.6 369.5,237.1 371.0,236.6 372.6,236.2 374.2,235.8 375.7,235.3 377.3,234.9 378.9,234.6 380.4,234.2 382.0,233.8 383.6,233.5 385.1,233.2 386.7,232.9 388.3,232.6 389.9,232.3 391.4,232.1 393.0,231.8 394.6,231.6 396.1,231.4 397.7,231.2 399.3,231.0 400.8,230.8 402.4,230.6 404.0,230.5 405.5,230.3 407.1,230.2 408.7,230.1 410.2,230.0 411.8,229.9 413.4,229.8 415.0,229.8 416.5,229.7 418.1,229.7 419.7,229.7 421.2,229.7 422.8,229.7 424.4,229.7 425.9,229.7 427.5,229.8 429.1,229.9 430.6,229.9 432.2,230.0 433.8,230.1 435.4,230.3 436.9,230.4 438.5,230.5 440.1,230.7 441.6,230.9 443.2,231.0 444.8,231.2 446.3,231.5 447.9,231.7 449.5,231.9 451.0,232.2 452.6,232.4 454.2,232.7 455.7,233.0 457.3,233.3 458.9,233.6 460.5,234.0 462.0,234.3 463.6,234.7 465.2,235.1 466.7,235.4 468.3,235.8 469.9,236.3 471.4,236.7 473.0,237.1 474.6,237.6 476.1,238.0 477.7,238.5 479.3,239.0 480.9,239.5 482.4,240.0 484.0,240.5 485.6,241.1 487.1,241.6 488.7,242.2 490.3,242.8 491.8,243.4 493.4,244.0 495.0,244.6 496.5,245.2 498.1,245.9 499.7,246.5 501.2,247.2 502.8,247.8 504.4,248.5 506.0,249.2 507.5,249.9 509.1,250.7 510.7,251.4 512.2,252.1 513.8,252.9 515.4,253.7 516.9,254.4 518.5,255.2 520.1,256.0 521.6,256.9 523.2,257.7 524.8,258.5 526.3,259.4 527.9,260.2 529.5,261.1 531.1,262.0 532.6,262.9 534.2,263.8 535.8,264.7 537.3,265.6 538.9,266.5 540.5,267.5 542.0,268.4 543.6,269.4 545.2,270.3 546.7,271.3 548.3,272.3 549.9,273.3 551.5,274.3 553.0,275.3 554.6,276.4 556.2,277.4 557.7,278.5 559.3,279.5 560.9,280.6 562.4,281.7 564.0,282.7 565.6,283.8 567.1,284.9 568.7,286.0 570.3,287.2 571.8,288.3 573.4,289.4 575.0,290.6 576.6,291.7 578.1,292.9 579.7,294.0 581.3,295.2 582.8,296.4 584.4,297.6 586.0,298.8 587.5,300.0 589.1,301.2 590.7,302.4 592.2,303.6 593.8,304.8 595.4,306.1 596.9,307.3 598.5,308.6 600.1,309.8 601.7,311.1 603.2,312.4 604.8,313.6 606.4,314.9 607.9,316.2 609.5,317.5 611.1,318.8 612.6,320.1 614.2,321.4 615.8,322.7 617.3,324.0 618.9,325.3 620.5,326.7 622.1,328.0 623.6,329.3 625.2,330.7 626.8,332.0 628.3,333.4 629.9,334.7 631.5,336.1 633.0,337.4 634.6,338.8 636.2,340.2 637.7,341.5 639.3,342.9 640.9,344.3 642.4,345.7 644.0,347.0 645.6,348.4 647.2,349.8 648.7,351.2 650.3,352.6 651.9,354.0 653.4,355.4 655.0,356.8 656.6,358.2 658.1,359.6 659.7,361.0 661.3,362.4 662.8,363.8 664.4,365.2 666.0,366.6 667.6,368.0 669.1,369.4 670.7,370.8 672.3,372.2 673.8,373.6 675.4,375.1 677.0,376.5 678.5,377.9 680.1,379.3 681.7,380.7 683.2,382.1 684.8,383.5 686.4,384.9 687.9,386.3 689.5,387.7 691.1,389.1 692.7,390.5 694.2,392.0 695.8,393.4 697.4,394.8 698.9,396.1 700.5,397.5 702.1,398.9 703.6,400.3 705.2,401.7 706.8,403.1 708.3,404.5 709.9,405.9 711.5,407.3 713.0,408.6 714.6,410.0 716.2,411.4 717.8,412.7 719.3,414.1 720.9,415.5 722.5,416.8 724.0,418.2 725.6,419.5 727.2,420.9 728.7,422.2 730.3,423.5 731.9,424.9 733.4,426.2 735.0,427.5 736.6,428.8 738.2,430.1 739.7,431.5 741.3,432.8 742.9,434.1 744.4,435.3 746.0,436.6 747.6,437.9 749.1,439.2 750.7,440.5 752.3,441.7 753.8,443.0 755.4,444.2 757.0,445.5 758.5,446.7 760.1,447.9 761.7,449.2 763.3,450.4 764.8,451.6 766.4,452.8 768.0,454.0 769.5,455.2 771.1,456.3 772.7,457.5 774.2,458.7 775.8,459.8 777.4,461.0 778.9,462.1 780.5,463.3 782.1,464.4 783.6,465.5 785.2,466.6 786.8,467.7 788.4,468.8 789.9,469.9 791.5,471.0 793.1,472.0 794.6,473.1 796.2,474.2 797.8,475.2 799.3,476.2 800.9,477.2 802.5,478.3 804.0,479.3 805.6,480.3 807.2,481.2 808.8,482.2 810.3,483.2 811.9,484.1 813.5,485.1 815.0,486.0 816.6,486.9 818.2,487.8 819.7,488.7 821.3,489.6 822.9,490.5 824.4,491.4 826.0,492.2 827.6,493.1 829.1,493.9 830.7,494.7 832.3,495.6 833.9,496.4 835.4,497.2 837.0,497.9 838.6,498.7 840.1,499.5 841.7,500.2 843.3,500.9 844.8,501.7 846.4,502.4 848.0,503.1 849.5,503.8 851.1,504.4 852.7,505.1 854.2,505.8 855.8,506.4 857.4,507.0 859.0,507.7 860.5,508.3 862.1,508.8 863.7,509.4 865.2,510.0 866.8,510.5 868.4,511.1 869.9,511.6 871.5,512.1 873.1,512.6 874.6,513.1 876.2,513.6 877.8,514.1 879.4,514.5 880.9,515.0 882.5,515.4 884.1,515.8 885.6,516.2 887.2,516.6 888.8,517.0 890.3,517.3 891.9,517.7 893.5,518.0 895.0,518.3 896.6,518.6 898.2,518.9 899.7,519.2 901.3,519.5 902.9,519.7 904.5,520.0 906.0,520.2 907.6,520.4 909.2,520.6 910.7,520.8 912.3,521.0 913.9,521.2 915.4,521.3 917.0,521.4 918.6,521.6 920.1,521.7 921.7,521.8 923.3,521.8 924.9,521.9 926.4,521.9 928.0,522.0 929.6,522.0 931.1,522.0 932.7,522.0 934.3,522.0 935.8,522.0 937.4,521.9 939.0,521.9 940.5,521.8 942.1,521.7 943.7,521.6 945.2,521.5 946.8,521.4 948.4,521.3 950.0,521.1 951.5,520.9 953.1,520.8 954.7,520.6 956.2,520.4 957.8,520.1 959.4,519.9 960.9,519.7 962.5,519.4 964.1,519.1 965.6,518.8 967.2,518.5 968.8,518.2 970.3,517.9 971.9,517.6 973.5,517.2 975.1,516.9 976.6,516.5 978.2,516.1 979.8,515.7 981.3,515.3 982.9,514.8 984.5,514.4 986.0,513.9 987.6,513.5 989.2,513.0 990.7,512.5 992.3,512.0 993.9,511.5 995.5,510.9 997.0,510.4 998.6,509.8 1000.2,509.2 1001.7,508.7 1003.3,508.1 1004.9,507.5 1006.4,506.8 1008.0,506.2 1009.6,505.6 1011.1,504.9 1012.7,504.2 1014.3,503.6 1015.8,502.9 1017.4,502.2 1019.0,501.4 1020.6,500.7 1022.1,500.0 1023.7,499.2 1025.3,498.5 1026.8,497.7 1028.4,496.9 1030.0,496.1 1031.5,495.3 1033.1,494.5 1034.7,493.7 1036.2,492.8 1037.8,492.0 1039.4,491.1 1040.9,490.2 1042.5,489.3 1044.1,488.4 1045.7,487.5 1047.2,486.6 1048.8,485.7 1050.4,484.8 1051.9,483.8 1053.5,482.9 1055.1,481.9 1056.6,480.9 1058.2,479.9 1059.8,478.9 1061.3,477.9 1062.9,476.9 1064.5,475.9 1066.1,474.9 1067.6,473.8 1069.2,472.8 1070.8,471.7 1072.3,470.6 1073.9,469.6 1075.5,468.5 1077.0,467.4 1078.6,466.3 1080.2,465.2 1081.7,464.0 1083.3,462.9 1084.9,461.8 1086.4,460.6 1088.0,459.5 1089.6,458.3 1091.2,457.2 1092.7,456.0 1094.3,454.8 1095.9,453.6 1097.4,452.4 1099.0,451.2 1100.6,450.0 1102.1,448.8 1103.7,447.5 1105.3,446.3 1106.8,445.1 1108.4,443.8 1110.0,442.6 1111.6,441.3 1113.1,440.1 1114.7,438.8 1116.3,437.5 1117.8,436.2 1119.4,434.9 1121.0,433.6 1122.5,432.3 1124.1,431.0 1125.7,429.7 1127.2,428.4 1128.8,427.1 1130.4,425.8 1131.9,424.5 1133.5,423.1 1135.1,421.8 1136.7,420.4 1138.2,419.1 1139.8,417.7 1141.4,416.4 1142.9,415.0 1144.5,413.7 1146.1,412.3 1147.6,410.9 1149.2,409.6 1150.8,408.2 1152.3,406.8 1153.9,405.4 1155.5,404.1 1157.0,402.7 1158.6,401.3 1160.2,399.9 1161.8,398.5 1163.3,397.1 1164.9,395.7 1166.5,394.3 1168.0,392.9 1169.6,391.5 1171.2,390.1 1172.7,388.7 1174.3,387.3 1175.9,385.9 1177.4,384.5 1179.0,383.1 1180.6,381.7 1182.2,380.3 1183.7,378.8 1185.3,377.4 1186.9,376.0 1188.4,374.6 1190.0,373.2 1191.6,371.8 1193.1,370.4 1194.7,369.0 1196.3,367.6 1197.8,366.2 1199.4,364.8 1201.0,363.3 1202.5,361.9 1204.1,360.5 1205.7,359.1 1207.3,357.7 1208.8,356.3 1210.4,354.9 1212.0,353.5 1213.5,352.2 1215.1,350.8 1216.7,349.4 1218.2,348.0 1219.8,346.6 1221.4,345.2 1222.9,343.8 1224.5,342.5 1226.1,341.1 1227.6,339.7 1229.2,338.4 1230.8,337.0 1232.4,335.6 1233.9,334.3 1235.5,332.9 1237.1,331.6 1238.6,330.3 1240.2,328.9 1241.8,327.6 1243.3,326.3 1244.9,324.9 1246.5,323.6 1248.0,322.3 1249.6,321.0 1251.2,319.7 1252.8,318.4 1254.3,317.1 1255.9,315.8 1257.5,314.5 1259.0,313.2 1260.6,312.0 1262.2,310.7 1263.7,309.4 1265.3,308.2 1266.9,306.9 1268.4,305.7 1270.0,304.5 1271.6,303.2 1273.1,302.0 1274.7,300.8 1276.3,299.6 1277.9,298.4 1279.4,297.2 1281.0,296.0 1282.6,294.8 1284.1,293.7 1285.7,292.5 1287.3,291.3 1288.8,290.2 1290.4,289.1 1292.0,287.9 1293.5,286.8 1295.1,285.7 1296.7,284.6 1298.3,283.5 1299.8,282.4 1301.4,281.3 1303.0,280.2 1304.5,279.2 1306.1,278.1 1307.7,277.1 1309.2,276.1 1310.8,275.0 1312.4,274.0 1313.9,273.0 1315.5,272.0 1317.1,271.0 1318.6,270.0 1320.2,269.1 1321.8,268.1 1323.4,267.2 1324.9,266.2 1326.5,265.3 1328.1,264.4 1329.6,263.5 1331.2,262.6 1332.8,261.7 1334.3,260.8 1335.9,260.0 1337.5,259.1 1339.0,258.3 1340.6,257.4 1342.2,256.6 1343.7,255.8 1345.3,255.0 1346.9,254.2 1348.5,253.4 1350.0,252.7 1351.6,251.9 1353.2,251.2 1354.7,250.4 1356.3,249.7 1357.9,249.0 1359.4,248.3 1361.0,247.6 1362.6,247.0 1364.1,246.3 1365.7,245.7 1367.3,245.0 1368.9,244.4 1370.4,243.8 1372.0,243.2 1373.6,242.6 1375.1,242.0 1376.7,241.5 1378.3,240.9 1379.8,240.4 1381.4,239.9 1383.0,239.3 1384.5,238.8 1386.1,238.4 1387.7,237.9 1389.2,237.4 1390.8,237.0 1392.4,236.5 1394.0,236.1 1395.5,235.7 1397.1,235.3 1398.7,234.9 1400.2,234.6 1401.8,234.2 1403.4,233.9 1404.9,233.5 1406.5,233.2 1408.1,232.9 1409.6,232.6 1411.2,232.4 1412.8,232.1 1414.3,231.9 1415.9,231.6 1417.5,231.4 1419.1,231.2 1420.6,231.0 1422.2,230.8 1423.8,230.6 1425.3,230.5 1426.9,230.3 1428.5,230.2 1430.0,230.1 1431.6,230.0 1433.2,229.9 1434.7,229.8 1436.3,229.8 1437.9,229.7 1439.5,229.7 1441.0,229.7 1442.6,229.7 1444.2,229.7 1445.7,229.7 1447.3,229.7 1448.9,229.8 1450.4,229.9 1452.0,229.9 1453.6,230.0 1455.1,230.1 1456.7,230.2 1458.3,230.4 1459.8,230.5 1461.4,230.7 1463.0,230.8 1464.6,231.0 1466.1,231.2 1467.7,231.4 1469.3,231.7 1470.8,231.9 1472.4,232.1 1474.0,232.4 1475.5,232.7 1477.1,233.0 1478.7,233.3 1480.2,233.6 1481.8,233.9 1483.4,234.3 1485.0,234.6 1486.5,235.0 1488.1,235.4 1489.7,235.8 1491.2,236.2 1492.8,236.6 1494.4,237.1 1495.9,237.5 1497.5,238.0 1499.1,238.5 1500.6,238.9 1502.2,239.4 1503.8,240.0 1505.3,240.5 1506.9,241.0 1508.5,241.6 1510.1,242.1 1511.6,242.7 1513.2,243.3 1514.8,243.9 1516.3,244.5 1517.9,245.1 1519.5,245.8 1521.0,246.4 1522.6,247.1 1524.2,247.8 1525.7,248.4 1527.3,249.1 1528.9,249.9 1530.4,250.6 1532.0,251.3 1533.6,252.0 1535.2,252.8 1536.7,253.6 1538.3,254.4 1539.9,255.1 1541.4,255.9 1543.0,256.8 1544.6,257.6 1546.1,258.4 1547.7,259.3 1549.3,260.1 1550.8,261.0 1552.4,261.9 1554.0,262.7 1555.6,263.6 1557.1,264.6 1558.7,265.5 1560.3,266.4 1561.8,267.3 1563.4,268.3 1565.0,269.3 1566.5,270.2 1568.1,271.2 1569.7,272.2 1571.2,273.2 1572.8,274.2 1574.4,275.2 1575.9,276.2 1577.5,277.3 1579.1,278.3 1580.7,279.4 1582.2,280.5 1583.8,281.5 1585.4,282.6 1586.9,283.7 1588.5,284.8 1590.1,285.9 1591.6,287.0 1593.2,288.1 1594.8,289.3 1596.3,290.4 1597.9,291.6 1599.5,292.7 1601.0,293.9 1602.6,295.1 1604.2,296.2 1605.8,297.4 1607.3,298.6 1608.9,299.8 1610.5,301.0 1612.0,302.2 1613.6,303.5 1615.2,304.7 1616.7,305.9 1618.3,307.2 1619.9,308.4 1621.4,309.7 1623.0,310.9 1624.6,312.2 1626.2,313.5 1627.7,314.8 1629.3,316.0 1630.9,317.3 1632.4,318.6 1634.0,319.9 1635.6,321.2 1637.1,322.5 1638.7,323.9 1640.3,325.2 1641.8,326.5 1643.4,327.8 1645.0,329.2 1646.5,330.5 1648.1,331.8 1649.7,333.2 1651.3,334.5 1652.8,335.9 1654.4,337.3 1656.0,338.6 1657.5,340.0 1659.1,341.4 1660.7,342.7 1662.2,344.1 1663.8,345.5 1665.4,346.9 1666.9,348.2 1668.5,349.6 1670.1,351.0 1671.7,352.4 1673.2,353.8 1674.8,355.2 1676.4,356.6 1677.9,358.0 1679.5,359.4 1681.1,360.8 1682.6,362.2 1684.2,363.6 1685.8,365.0 1687.3,366.4 1688.9,367.8 1690.5,369.2 1692.0,370.7 1693.6,372.1 1695.2,373.5 1696.8,374.9 1698.3,376.3 1699.9,377.7 1701.5,379.1 1703.0,380.5 1704.6,381.9 1706.2,383.3 1707.7,384.8 1709.3,386.2 1710.9,387.6 1712.4,389.0 1714.0,390.4 1715.6,391.8 1717.1,393.2 1718.7,394.6 1720.3,396.0 1721.9,397.4 1723.4,398.8 1725.0,400.2 1726.6,401.5 1728.1,402.9 1729.7,404.3 1731.3,405.7 1732.8,407.1 1734.4,408.5 1736.0,409.8 1737.5,411.2 1739.1,412.6 1740.7,413.9 1742.3,415.3 1743.8,416.6 1745.4,418.0 1747.0,419.4 1748.5,420.7 1750.1,422.0 1751.7,423.4 1753.2,424.7 1754.8,426.0 1756.4,427.4 1757.9,428.7 1759.5,430.0 1761.1,431.3 1762.6,432.6 1764.2,433.9 1765.8,435.2 1767.4,436.5 1768.9,437.7 1770.5,439.0 1772.1,440.3 1773.6,441.6 1775.2,442.8 1776.8,444.1 1778.3,445.3 1779.9,446.5 1781.5,447.8 1783.0,449.0 1784.6,450.2 1786.2,451.4 1787.7,452.6 1789.3,453.8 1790.9,455.0 1792.5,456.2 1794.0,457.4 1795.6,458.5 1797.2,459.7 1798.7,460.9 1800.3,462.0 1801.9,463.1 1803.4,464.3 1805.0,465.4 1806.6,466.5 1808.1,467.6 1809.7,468.7 1811.3,469.8 1812.9,470.8 1814.4,471.9 1816.0,473.0 1817.6,474.0 1819.1,475.1 1820.7,476.1 1822.3,477.1 1823.8,478.1 1825.4,479.1 1827.0,480.1 1828.5,481.1 1830.1,482.1 1831.7,483.0 1833.2,484.0 1834.8,484.9 1836.4,485.9 1838.0,486.8 1839.5,487.7 1841.1,488.6 1842.7,489.5 1844.2,490.4 1845.8,491.3 1847.4,492.1 1848.9,493.0 1850.5,493.8 1852.1,494.6 1853.6,495.5 1855.2,496.3 1856.8,497.1 1858.3,497.8 1859.9,498.6 1861.5,499.4 1863.1,500.1 1864.6,500.9 1866.2,501.6 1867.8,502.3 1869.3,503.0 1870.9,503.7 1872.5,504.4 1874.0,505.0 1875.6,505.7 1877.2,506.3 1878.7,507.0 1880.3,507.6 1881.9,508.2 1883.5,508.8 1885.0,509.4 1886.6,509.9 1888.2,510.5 1889.7,511.0 1891.3,511.6 1892.9,512.1 1894.4,512.6 1896.0,513.1 1897.6,513.5 1899.1,514.0 1900.7,514.5 1902.3,514.9 1903.8,515.3 1905.4,515.8 1907.0,516.2 1908.6,516.5 1910.1,516.9 1911.7,517.3 1913.3,517.6 1914.8,518.0 1916.4,518.3 1918.0,518.6 1919.5,518.9 1921.1,519.2 1922.7,519.5 1924.2,519.7 1925.8,520.0 1927.4,520.2 1929.0,520.4 1930.5,520.6 1932.1,520.8 1933.7,521.0 1935.2,521.1 1936.8,521.3 1938.4,521.4 1939.9,521.5 1941.5,521.6 1943.1,521.7 1944.6,521.8 1946.2,521.9 1947.8,521.9 1949.3,522.0 1950.9,522.0 1952.5,522.0 1954.1,522.0 1955.6,522.0 1957.2,522.0 1958.8,521.9 1960.3,521.9 1961.9,521.8 1963.5,521.7 1965.0,521.6 1966.6,521.5 1968.2,521.4 1969.7,521.3 1971.3,521.1 1972.9,521.0 1974.4,520.8 1976.0,520.6 1977.6,520.4 1979.2,520.2 1980.7,519.9 1982.3,519.7 1983.9,519.4 1985.4,519.2 1987.0,518.9 1988.6,518.6 1990.1,518.3 1991.7,517.9 1993.3,517.6 1994.8,517.3 1996.4,516.9 1998.0,516.5 1999.6,516.1 2001.1,515.7 2002.7,515.3 2004.3,514.9 2005.8,514.4 2007.4,514.0 2009.0,513.5 2010.5,513.0 2012.1,512.5 2013.7,512.0 2015.2,511.5 2016.8,511.0 2018.4,510.4 2019.9,509.9 2021.5,509.3 2023.1,508.7 2024.7,508.1 2026.2,507.5 2027.8,506.9 2029.4,506.3 2030.9,505.6 2032.5,505.0 2034.1,504.3 2035.6,503.6 2037.2,503.0 2038.8,502.2 2040.3,501.5 2041.9,500.8 2043.5,500.1 2045.0,499.3 2046.6,498.6 2048.2,497.8 2049.8,497.0 2051.3,496.2 2052.9,495.4 2054.5,494.6 2056.0,493.8 2057.6,492.9 2059.2,492.1 2060.7,491.2 2062.3,490.3 2063.9,489.5 2065.4,488.6 2067.0,487.7 2068.6,486.7 2070.2,485.8 2071.7,484.9 2073.3,483.9 2074.9,483.0 2076.4,482.0 2078.0,481.0 2079.6,480.1 2081.1,479.1 2082.7,478.1 2084.3,477.1 2085.8,476.0 2087.4,475.0 2089.0,474.0 2090.5,472.9 2092.1,471.8 2093.7,470.8 2095.3,469.7 2096.8,468.6 2098.4,467.5 2100.0,466.4 2101.5,465.3 2103.1,464.2 2104.7,463.1 2106.2,461.9 2107.8,460.8 2109.4,459.6 2110.9,458.5 2112.5,457.3 2114.1,456.1 2115.7,454.9 2117.2,453.8 2118.8,452.6 2120.4,451.4 2121.9,450.1 2123.5,448.9 2125.1,447.7 2126.6,446.5 2128.2,445.2 2129.8,444.0 2131.3,442.7 2132.9,441.5 2134.5,440.2 2136.0,438.9 2137.6,437.7 2139.2,436.4 2140.8,435.1 2142.3,433.8 2143.9,432.5 2145.5,431.2 2147.0,429.9 2148.6,428.6 2150.2,427.3 2151.7,425.9 2153.3,424.6 2154.9,423.3 2156.4,421.9 2158.0,420.6 2159.6,419.3 2161.1,417.9 2162.7,416.6 2164.3,415.2 2165.9,413.8 2167.4,412.5 2169.0,411.1 2170.6,409.7 2172.1,408.4 2173.7,407.0 2175.3,405.6 2176.8,404.2 2178.4,402.8 2180.0,401.5 2181.5,400.1 2183.1,398.7 2184.7,397.3 2186.3,395.9 2187.8,394.5 2189.4,393.1 2191.0,391.7 2192.5,390.3 2194.1,388.9 2195.7,387.5 2197.2,386.1 2198.8,384.7 2200.4,383.2 2201.9,381.8 2203.5,380.4 2205.1,379.0 2206.6,377.6 2208.2,376.2 2209.8,374.8 2211.4,373.4 2212.9,372.0 2214.5,370.6 2216.1,369.1 2217.6,367.7 2219.2,366.3 2220.8,364.9 2222.3,363.5 2223.9,362.1 2225.5,360.7 2227.0,359.3 2228.6,357.9 2230.2,356.5 2231.7,355.1 2233.3,353.7 2234.9,352.3 2236.5,350.9 2238.0,349.5 2239.6,348.2 2241.2,346.8 2242.7,345.4 2244.3,344.0 2245.9,342.6 2247.4,341.3 2249.0,339.9 2250.6,338.5 2252.1,337.2 2253.7,335.8 2255.3,334.5 2256.9,333.1 2258.4,331.8 2260.0,330.4 2261.6,329.1 2263.1,327.7 2264.7,326.4 2266.3,325.1 2267.8,323.8 2269.4,322.5 2271.0,321.1 2272.5,319.8 2274.1,318.5 2275.7,317.2 2277.2,316.0 2278.8,314.7 2280.4,313.4 2282.0,312.1 2283.5,310.9 2285.1,309.6 2286.7,308.3 2288.2,307.1 2289.8,305.8 2291.4,304.6 2292.9,303.4 2294.5,302.2 2296.1,300.9 2297.6,299.7 2299.2,298.5 2300.8,297.3 2302.4,296.2 2303.9,295.0 2305.5,293.8 2307.1,292.6 2308.6,291.5 2310.2,290.3 2311.8,289.2 2313.3,288.1 2314.9,286.9 2316.5,285.8 2318.0,284.7 2319.6,283.6 2321.2,282.5 2322.7,281.5 2324.3,280.4 2325.9,279.3 2327.5,278.3 2329.0,277.2 2330.6,276.2 2332.2,275.2 2333.7,274.1 2335.3,273.1 2336.9,272.1 2338.4,271.1 2340.0,270.2 2341.6,269.2 2343.1,268.2 2344.7,267.3 2346.3,266.3 2347.8,265.4 2349.4,264.5 2351.0,263.6 2352.6,262.7 2354.1,261.8 2355.7,260.9 2357.3,260.1 2358.8,259.2 2360.4,258.4"/>
</g>
<text transform="translate(152.0,677.8) scale(0.960,1.000)" text-anchor="end" font-family="'Liberation Serif','DejaVu Serif',serif" font-size="40.3" fill="#262626" stroke="#262626" stroke-width="1.2" stroke-linejoin="round">4</text>
<text transform="translate(102.9,680.8) scale(1.239,1.000)" text-anchor="start" font-family="'Liberation Serif','DejaVu Serif',serif" font-size="40.3" fill="#262626" stroke="#262626" stroke-width="0.9" stroke-linejoin="round">−</text>
<text transform="translate(152.0,531.6) scale(0.960,1.000)" text-anchor="end" font-family="'Liberation Serif','DejaVu Serif',serif" font-size="40.3" fill="#262626" stroke="#262626" stroke-width="1.2" stroke-linejoin="round">2</text>
<text transform="translate(102.9,534.6) scale(1.239,1.000)" text-anchor="start" font-family="'Liberation Serif','DejaVu Serif',serif" font-size="40.3" fill="#262626" stroke="#262626" stroke-width="0.9" stroke-linejoin="round">−</text>
<text transform="translate(152.0,385.5) scale(0.960,1.000)" text-anchor="end" font-family="'Liberation Serif','DejaVu Serif',serif" font-size="40.3" fill="#262626" stroke="#262626" stroke-width="1.2" stroke-linejoin="round">0</text>
<text transform="translate(152.0,239.3) scale(0.960,1.000)" text-anchor="end" font-family="'Liberation Serif','DejaVu Serif',serif" font-size="40.3" fill="#262626" stroke="#262626" stroke-width="1.2" stroke-linejoin="round">2</text>
<text transform="translate(152.0,93.1) scale(0.960,1.000)" text-anchor="end" font-family="'Liberation Serif','DejaVu Serif',serif" font-size="40.3" fill="#262626" stroke="#262626" stroke-width="1.2" stroke-linejoin="round">4</text>
<text transform="translate(165.5,716.0) scale(0.960,1.000)" text-anchor="middle" font-family="'Liberation Serif','DejaVu Serif',serif" font-size="40.3" fill="#262626" stroke="#262626" stroke-width="1.2" stroke-linejoin="round">0</text>
<text transform="translate(531.3,716.0) scale(0.960,1.000)" text-anchor="middle" font-family="'Liberation Serif','DejaVu Serif',serif" font-size="40.3" fill="#262626" stroke="#262626" stroke-width="1.2" stroke-linejoin="round">1</text>
<text transform="translate(897.1,716.0) scale(0.960,1.000)" text-anchor="middle" font-family="'Liberation Serif','DejaVu Serif',serif" font-size="40.3" fill="#262626" stroke="#262626" stroke-width="1.2" stroke-linejoin="round">2</text>
<text transform="translate(1263.0,716.0) scale(0.960,1.000)" text-anchor="middle" font-family="'Liberation Serif','DejaVu Serif',serif" font-size="40.3" fill="#262626" stroke="#262626" stroke-width="1.2" stroke-linejoin="round">3</text>
<text transform="translate(1628.8,716.0) scale(0.960,1.000)" text-anchor="middle" font-family="'Liberation Serif','DejaVu Serif',serif" font-size="40.3" fill="#262626" stroke="#262626" stroke-width="1.2" stroke-linejoin="round">4</text>
<text transform="translate(1994.6,716.0) scale(0.960,1.000)" text-anchor="middle" font-family="'Liberation Serif','DejaVu Serif',serif" font-size="40.3" fill="#262626" stroke="#262626" stroke-width="1.2" stroke-linejoin="round">5</text>
<text transform="translate(2360.4,716.0) scale(0.960,1.000)" text-anchor="middle" font-family="'Liberation Serif','DejaVu Serif',serif" font-size="40.3" fill="#262626" stroke="#262626" stroke-width="1.2" stroke-linejoin="round">6</text>
<text transform="translate(1263.0,62.7) scale(0.960,1.000)" text-anchor="middle" font-family="'Liberation Sans','DejaVu Sans',sans-serif" font-size="63.6" fill="#000" stroke="#fff" stroke-width="0.6" stroke-linejoin="round">(i)</text>
<text transform="translate(1274.1,803.0) scale(0.950,1.000)" text-anchor="middle" font-family="'Liberation Sans','DejaVu Sans',sans-serif" font-size="70.6" fill="#262626" stroke="#fff" stroke-width="0.7" stroke-linejoin="round"><tspan font-style="italic">t</tspan>/s</text>
<text transform="translate(75.4,364.0) rotate(-90) scale(0.955,1.000)" text-anchor="middle" font-family="'Liberation Sans','DejaVu Sans',sans-serif" font-size="71.6" font-style="italic" fill="#262626" stroke="#fff" stroke-width="0.7" stroke-linejoin="round">Tracking</text>
<rect x="1701.3" y="86.5" width="517.5" height="299.8" fill="#fff" stroke="#262626" stroke-width="2.8"/>
<line x1="1714" y1="140.0" x2="1840.3" y2="140.0" stroke="#ff0000" stroke-width="5.9"/>
<text transform="translate(1857.4,159.4) scale(0.930,1.000)" text-anchor="start" font-family="'Liberation Serif','DejaVu Serif',serif" font-size="77" font-style="italic" fill="#000" stroke="#000" stroke-width="1.3" stroke-linejoin="round">y</text>
<text transform="translate(1887.3,172.0) scale(0.950,1.000)" text-anchor="start" font-family="'Liberation Serif','DejaVu Serif',serif" font-size="57.5" fill="#000" stroke="#000" stroke-width="1.1" stroke-linejoin="round">01</text>
<line x1="1714" y1="236.7" x2="1840.3" y2="236.7" stroke="#00ff00" stroke-width="5.9"/>
<text transform="translate(1857.4,256.1) scale(0.930,1.000)" text-anchor="start" font-family="'Liberation Serif','DejaVu Serif',serif" font-size="77" font-style="italic" fill="#000" stroke="#000" stroke-width="1.3" stroke-linejoin="round">y</text>
<text transform="translate(1887.3,268.7) scale(0.950,1.000)" text-anchor="start" font-family="'Liberation Serif','DejaVu Serif',serif" font-size="57.5" fill="#000" stroke="#000" stroke-width="1.1" stroke-linejoin="round">11</text>
<line x1="1714" y1="333.2" x2="1840.3" y2="333.2" stroke="#0000ff" stroke-width="5.9"/>
<text transform="translate(1857.4,352.6) scale(0.930,1.000)" text-anchor="start" font-family="'Liberation Serif','DejaVu Serif',serif" font-size="77" font-style="italic" fill="#000" stroke="#000" stroke-width="1.3" stroke-linejoin="round">y</text>
<text transform="translate(1887.3,365.2) scale(0.950,1.000)" text-anchor="start" font-family="'Liberation Serif','DejaVu Serif',serif" font-size="57.5" fill="#000" stroke="#000" stroke-width="1.1" stroke-linejoin="round">21</text>
<line x1="1972" y1="140.0" x2="2097.8" y2="140.0" stroke="#00ffff" stroke-width="5.9"/>
<text transform="translate(2116.1,159.4) scale(0.930,1.000)" text-anchor="start" font-family="'Liberation Serif','DejaVu Serif',serif" font-size="77" font-style="italic" fill="#000" stroke="#000" stroke-width="1.3" stroke-linejoin="round">y</text>
<text transform="translate(2146.0,172.0) scale(0.950,1.000)" text-anchor="start" font-family="'Liberation Serif','DejaVu Serif',serif" font-size="57.5" fill="#000" stroke="#000" stroke-width="1.1" stroke-linejoin="round">31</text>
<line x1="1972" y1="236.7" x2="2097.8" y2="236.7" stroke="#ff00ff" stroke-width="5.9"/>
<text transform="translate(2116.1,256.1) scale(0.930,1.000)" text-anchor="start" font-family="'Liberation Serif','DejaVu Serif',serif" font-size="77" font-style="italic" fill="#000" stroke="#000" stroke-width="1.3" stroke-linejoin="round">y</text>
<text transform="translate(2146.0,268.7) scale(0.950,1.000)" text-anchor="start" font-family="'Liberation Serif','DejaVu Serif',serif" font-size="57.5" fill="#000" stroke="#000" stroke-width="1.1" stroke-linejoin="round">41</text>
<line x1="1972" y1="333.2" x2="2097.8" y2="333.2" stroke="#000000" stroke-width="5.9"/>
<text transform="translate(2116.1,352.6) scale(0.930,1.000)" text-anchor="start" font-family="'Liberation Serif','DejaVu Serif',serif" font-size="77" font-style="italic" fill="#000" stroke="#000" stroke-width="1.3" stroke-linejoin="round">y</text>
<text transform="translate(2146.0,365.2) scale(0.950,1.000)" text-anchor="start" font-family="'Liberation Serif','DejaVu Serif',serif" font-size="57.5" fill="#000" stroke="#000" stroke-width="1.1" stroke-linejoin="round">51</text>
<g id="ax2" shape-rendering="crispEdges">
<g stroke="#dddddd" stroke-width="3.0" fill="none">
<line x1="547.5" y1="912.5" x2="547.5" y2="1496.5"/>
<line x1="910.5" y1="912.5" x2="910.5" y2="1496.5"/>
<line x1="1272.5" y1="912.5" x2="1272.5" y2="1496.5"/>
<line x1="1635.5" y1="912.5" x2="1635.5" y2="1496.5"/>
<line x1="1997.5" y1="912.5" x2="1997.5" y2="1496.5"/>
<line x1="184.5" y1="1399.5" x2="2360.5" y2="1399.5"/>
<line x1="184.5" y1="1301.5" x2="2360.5" y2="1301.5"/>
<line x1="184.5" y1="1204.5" x2="2360.5" y2="1204.5"/>
<line x1="184.5" y1="1107.5" x2="2360.5" y2="1107.5"/>
<line x1="184.5" y1="1009.5" x2="2360.5" y2="1009.5"/>
</g>
<g stroke="#262626" stroke-width="3.0" fill="none">
<line x1="547.5" y1="1496.5" x2="547.5" y2="1473.0"/>
<line x1="547.5" y1="912.5" x2="547.5" y2="936.0"/>
<line x1="910.5" y1="1496.5" x2="910.5" y2="1473.0"/>
<line x1="910.5" y1="912.5" x2="910.5" y2="936.0"/>
<line x1="1272.5" y1="1496.5" x2="1272.5" y2="1473.0"/>
<line x1="1272.5" y1="912.5" x2="1272.5" y2="936.0"/>
<line x1="1635.5" y1="1496.5" x2="1635.5" y2="1473.0"/>
<line x1="1635.5" y1="912.5" x2="1635.5" y2="936.0"/>
<line x1="1997.5" y1="1496.5" x2="1997.5" y2="1473.0"/>
<line x1="1997.5" y1="912.5" x2="1997.5" y2="936.0"/>
<line x1="184.5" y1="1399.5" x2="208.0" y2="1399.5"/>
<line x1="2360.5" y1="1399.5" x2="2337.0" y2="1399.5"/>
<line x1="184.5" y1="1301.5" x2="208.0" y2="1301.5"/>
<line x1="2360.5" y1="1301.5" x2="2337.0" y2="1301.5"/>
<line x1="184.5" y1="1204.5" x2="208.0" y2="1204.5"/>
<line x1="2360.5" y1="1204.5" x2="2337.0" y2="1204.5"/>
<line x1="184.5" y1="1107.5" x2="208.0" y2="1107.5"/>
<line x1="2360.5" y1="1107.5" x2="2337.0" y2="1107.5"/>
<line x1="184.5" y1="1009.5" x2="208.0" y2="1009.5"/>
<line x1="2360.5" y1="1009.5" x2="2337.0" y2="1009.5"/>
<rect x="184.5" y="912.5" width="2176.0" height="584.0"/>
<line x1="2358.5" y1="911.0" x2="2358.5" y2="1498.0" stroke-width="1"/>
</g>
</g>
<g id="cv2" clip-path="url(#c2)" fill="none" stroke-width="6.0" stroke-linejoin="round" stroke-linecap="square" shape-rendering="crispEdges">
<polyline stroke="#00ff00" points="184.8,912.5 186.4,912.5 187.9,912.5 189.5,912.5 191.0,912.5 192.6,912.6 194.1,912.7 195.7,912.8 197.2,913.0 198.8,913.2 200.4,913.4 201.9,913.7 203.5,914.0 205.0,914.5 206.6,915.0 208.1,915.6 209.7,916.3 211.2,917.0 212.8,917.9 214.3,918.9 215.9,920.0 217.5,921.2 219.0,922.6 220.6,924.0 222.1,925.6 223.7,927.3 225.2,929.1 226.8,931.0 228.3,933.0 229.9,935.1 231.5,937.3 233.0,939.6 234.6,941.9 236.1,944.4 237.7,946.9 239.2,949.4 240.8,952.1 242.3,954.8 243.9,957.5 245.5,960.3 247.0,963.2 248.6,966.1 250.1,969.0 251.7,972.1 253.2,975.2 254.8,978.3 256.3,981.5 257.9,984.8 259.4,988.1 261.0,991.5 262.6,994.9 264.1,998.3 265.7,1001.7 267.2,1005.1 268.8,1008.5 270.3,1011.8 271.9,1015.0 273.4,1018.2 275.0,1021.3 276.6,1024.3 278.1,1027.1 279.7,1029.8 281.2,1032.5 282.8,1035.0 284.3,1037.4 285.9,1039.6 287.4,1041.8 289.0,1043.9 290.6,1045.9 292.1,1047.7 293.7,1049.5 295.2,1051.2 296.8,1052.8 298.3,1054.3 299.9,1055.6 301.4,1056.8 303.0,1057.9 304.5,1058.9 306.1,1059.7 307.7,1060.4 309.2,1061.0 310.8,1061.5 312.3,1061.9 313.9,1062.2 315.4,1062.4 317.0,1062.6 318.5,1062.7 320.1,1062.7 321.7,1062.7 323.2,1062.6 324.8,1062.5 326.3,1062.3 327.9,1062.2 329.4,1062.0 331.0,1061.8 332.5,1061.6 334.1,1061.4 335.7,1061.2 337.2,1061.0 338.8,1060.8 340.3,1060.7 341.9,1060.6 343.4,1060.5 345.0,1060.5 346.5,1060.5 348.1,1060.6 349.6,1060.6 351.2,1060.8 352.8,1061.0 354.3,1061.3 355.9,1061.6 357.4,1062.0 359.0,1062.4 360.5,1062.9 362.1,1063.4 363.6,1064.0 365.2,1064.7 366.8,1065.4 368.3,1066.1 369.9,1066.9 371.4,1067.8 373.0,1068.6 374.5,1069.5 376.1,1070.5 377.6,1071.4 379.2,1072.5 380.8,1073.5 382.3,1074.5 383.9,1075.6 385.4,1076.7 387.0,1077.8 388.5,1078.9 390.1,1080.0 391.6,1081.1 393.2,1082.2 394.7,1083.3 396.3,1084.4 397.9,1085.5 399.4,1086.6 401.0,1087.7 402.5,1088.8 404.1,1089.8 405.6,1090.9 407.2,1091.9 408.7,1092.8 410.3,1093.8 411.9,1094.7 413.4,1095.6 415.0,1096.5 416.5,1097.3 418.1,1098.1 419.6,1098.9 421.2,1099.6 422.7,1100.3 424.3,1101.0 425.9,1101.7 427.4,1102.3 429.0,1102.9 430.5,1103.5 432.1,1104.0 433.6,1104.6 435.2,1105.0 436.7,1105.5 438.3,1106.0 439.8,1106.4 441.4,1106.8 443.0,1107.2 444.5,1107.5 446.1,1107.9 447.6,1108.2 449.2,1108.6 450.7,1108.9 452.3,1109.2 453.8,1109.6 455.4,1109.9 457.0,1110.2 458.5,1110.5 460.1,1110.9 461.6,1111.2 463.2,1111.5 464.7,1111.9 466.3,1112.2 467.8,1112.6 469.4,1113.0 471.0,1113.3 472.5,1113.7 474.1,1114.1 475.6,1114.5 477.2,1114.9 478.7,1115.2 480.3,1115.6 481.8,1116.1 483.4,1116.5 485.0,1116.9 486.5,1117.3 488.1,1117.8 489.6,1118.2 491.2,1118.7 492.7,1119.1 494.3,1119.6 495.8,1120.1 497.4,1120.6 498.9,1121.1 500.5,1121.6 502.1,1122.1 503.6,1122.6 505.2,1123.2 506.7,1123.7 508.3,1124.2 509.8,1124.8 511.4,1125.3 512.9,1125.9 514.5,1126.4 516.1,1127.0 517.6,1127.5 519.2,1128.1 520.7,1128.6 522.3,1129.1 523.8,1129.7 525.4,1130.2 526.9,1130.7 528.5,1131.2 530.1,1131.7 531.6,1132.2 533.2,1132.7 534.7,1133.2 536.3,1133.7 537.8,1134.2 539.4,1134.7 540.9,1135.3 542.5,1135.9 544.0,1136.5 545.6,1137.0 547.2,1137.6 548.7,1138.1 550.3,1138.6 551.8,1139.1 553.4,1139.6 554.9,1140.1 556.5,1140.6 558.0,1141.2 559.6,1141.7 561.2,1142.3 562.7,1142.8 564.3,1143.3 565.8,1143.8 567.4,1144.4 568.9,1144.9 570.5,1145.4 572.0,1146.0 573.6,1146.5 575.2,1147.0 576.7,1147.6 578.3,1148.2 579.8,1148.8 581.4,1149.3 582.9,1150.0 584.5,1150.6 586.0,1151.2 587.6,1151.9 589.1,1152.5 590.7,1153.2 592.3,1153.9 593.8,1154.6 595.4,1155.3 596.9,1156.0 598.5,1156.8 600.0,1157.6 601.6,1158.3 603.1,1159.1 604.7,1159.9 606.3,1160.8 607.8,1161.6 609.4,1162.5 610.9,1163.4 612.5,1164.2 614.0,1165.2 615.6,1166.1 617.1,1167.0 618.7,1167.9 620.3,1168.9 621.8,1169.8 623.4,1170.8 624.9,1171.7 626.5,1172.7 628.0,1173.6 629.6,1174.5 631.1,1175.5 632.7,1176.4 634.2,1177.3 635.8,1178.3 637.4,1179.2 638.9,1180.1 640.5,1181.1 642.0,1182.0 643.6,1183.0 645.1,1184.0 646.7,1185.0 648.2,1185.9 649.8,1186.9 651.4,1188.0 652.9,1189.0 654.5,1190.0 656.0,1191.0 657.6,1192.0 659.1,1193.1 660.7,1194.1 662.2,1195.1 663.8,1196.1 665.4,1197.1 666.9,1198.1 668.5,1199.1 670.0,1200.1 671.6,1201.0 673.1,1202.0 674.7,1202.9 676.2,1203.8 677.8,1204.6 679.3,1205.5 680.9,1206.3 682.5,1207.0 684.0,1207.8 685.6,1208.5 687.1,1209.1 688.7,1209.7 690.2,1210.3 691.8,1210.8 693.3,1211.3 694.9,1211.7 696.5,1212.1 698.0,1212.5 699.6,1212.8 701.1,1213.1 702.7,1213.3 704.2,1213.6 705.8,1213.8 707.3,1214.0 708.9,1214.1 710.5,1214.3 712.0,1214.4 713.6,1214.5 715.1,1214.6 716.7,1214.7 718.2,1214.8 719.8,1214.9 721.3,1215.0 722.9,1215.0 724.4,1215.1 726.0,1215.1 727.6,1215.1 729.1,1215.2 730.7,1215.2 732.2,1215.3 733.8,1215.3 735.3,1215.4 736.9,1215.4 738.4,1215.5 740.0,1215.5 741.6,1215.6 743.1,1215.7 744.7,1215.7 746.2,1215.8 747.8,1215.9 749.3,1216.0 750.9,1216.1 752.4,1216.2 754.0,1216.4 755.6,1216.5 757.1,1216.6 758.7,1216.8 760.2,1216.9 761.8,1217.1 763.3,1217.2 764.9,1217.4 766.4,1217.6 768.0,1217.7 769.5,1217.9 771.1,1218.1 772.7,1218.2 774.2,1218.4 775.8,1218.6 777.3,1218.7 778.9,1218.9 780.4,1219.1 782.0,1219.3 783.5,1219.5 785.1,1219.7 786.7,1219.9 788.2,1220.1 789.8,1220.2 791.3,1220.4 792.9,1220.6 794.4,1220.8 796.0,1221.0 797.5,1221.2 799.1,1221.3 800.7,1221.5 802.2,1221.6 803.8,1221.8 805.3,1221.9 806.9,1222.1 808.4,1222.2 810.0,1222.3 811.5,1222.4 813.1,1222.6 814.6,1222.7 816.2,1222.8 817.8,1222.9 819.3,1223.0 820.9,1223.1 822.4,1223.2 824.0,1223.3 825.5,1223.4 827.1,1223.5 828.6,1223.6 830.2,1223.6 831.8,1223.7 833.3,1223.8 834.9,1223.9 836.4,1224.0 838.0,1224.1 839.5,1224.1 841.1,1224.2 842.6,1224.3 844.2,1224.3 845.8,1224.4 847.3,1224.5 848.9,1224.5 850.4,1224.6 852.0,1224.7 853.5,1224.7 855.1,1224.8 856.6,1224.8 858.2,1224.9 859.7,1224.9 861.3,1225.0 862.9,1225.0 864.4,1225.1 866.0,1225.1 867.5,1225.2 869.1,1225.2 870.6,1225.2 872.2,1225.3 873.7,1225.3 875.3,1225.3 876.9,1225.4 878.4,1225.4 880.0,1225.4 881.5,1225.5 883.1,1225.5 884.6,1225.5 886.2,1225.5 887.7,1225.5 889.3,1225.5 890.9,1225.6 892.4,1225.6 894.0,1225.6 895.5,1225.6 897.1,1225.6 898.6,1225.6 900.2,1225.6 901.7,1225.6 903.3,1225.6 904.8,1225.6 906.4,1225.6 908.0,1225.6 909.5,1225.6 911.1,1225.5 912.6,1225.5 914.2,1225.5 915.7,1225.5 917.3,1225.5 918.8,1225.4 920.4,1225.4 922.0,1225.4 923.5,1225.4 925.1,1225.3 926.6,1225.3 928.2,1225.3 929.7,1225.2 931.3,1225.2 932.8,1225.1 934.4,1225.1 936.0,1225.1 937.5,1225.0 939.1,1225.0 940.6,1224.9 942.2,1224.9 943.7,1224.9 945.3,1224.8 946.8,1224.8 948.4,1224.7 949.9,1224.7 951.5,1224.6 953.1,1224.6 954.6,1224.5 956.2,1224.5 957.7,1224.4 959.3,1224.4 960.8,1224.3 962.4,1224.3 963.9,1224.2 965.5,1224.2 967.1,1224.1 968.6,1224.1 970.2,1224.0 971.7,1224.0 973.3,1223.9 974.8,1223.8 976.4,1223.8 977.9,1223.7 979.5,1223.7 981.1,1223.6 982.6,1223.6 984.2,1223.5 985.7,1223.4 987.3,1223.4 988.8,1223.3 990.4,1223.3 991.9,1223.2 993.5,1223.1 995.0,1223.1 996.6,1223.0 998.2,1222.9 999.7,1222.9 1001.3,1222.8 1002.8,1222.7 1004.4,1222.7 1005.9,1222.6 1007.5,1222.5 1009.0,1222.4 1010.6,1222.4 1012.2,1222.3 1013.7,1222.2 1015.3,1222.1 1016.8,1222.0 1018.4,1222.0 1019.9,1221.9 1021.5,1221.8 1023.0,1221.7 1024.6,1221.6 1026.2,1221.5 1027.7,1221.4 1029.3,1221.3 1030.8,1221.2 1032.4,1221.1 1033.9,1221.0 1035.5,1220.9 1037.0,1220.8 1038.6,1220.7 1040.2,1220.6 1041.7,1220.5 1043.3,1220.4 1044.8,1220.3 1046.4,1220.2 1047.9,1220.1 1049.5,1220.0 1051.0,1219.9 1052.6,1219.7 1054.1,1219.6 1055.7,1219.5 1057.3,1219.4 1058.8,1219.3 1060.4,1219.1 1061.9,1219.0 1063.5,1218.9 1065.0,1218.8 1066.6,1218.6 1068.1,1218.5 1069.7,1218.4 1071.3,1218.2 1072.8,1218.1 1074.4,1218.0 1075.9,1217.8 1077.5,1217.7 1079.0,1217.6 1080.6,1217.4 1082.1,1217.3 1083.7,1217.1 1085.3,1217.0 1086.8,1216.8 1088.4,1216.7 1089.9,1216.6 1091.5,1216.4 1093.0,1216.3 1094.6,1216.1 1096.1,1216.0 1097.7,1215.8 1099.2,1215.6 1100.8,1215.5 1102.4,1215.3 1103.9,1215.2 1105.5,1215.0 1107.0,1214.9 1108.6,1214.7 1110.1,1214.5 1111.7,1214.4 1113.2,1214.2 1114.8,1214.1 1116.4,1213.9 1117.9,1213.7 1119.5,1213.6 1121.0,1213.4 1122.6,1213.2 1124.1,1213.1 1125.7,1212.9 1127.2,1212.7 1128.8,1212.5 1130.4,1212.4 1131.9,1212.2 1133.5,1212.0 1135.0,1211.9 1136.6,1211.7 1138.1,1211.5 1139.7,1211.3 1141.2,1211.2 1142.8,1211.0 1144.3,1210.8 1145.9,1210.6 1147.5,1210.4 1149.0,1210.3 1150.6,1210.1 1152.1,1209.9 1153.7,1209.7 1155.2,1209.5 1156.8,1209.4 1158.3,1209.2 1159.9,1209.0 1161.5,1208.8 1163.0,1208.6 1164.6,1208.4 1166.1,1208.3 1167.7,1208.1 1169.2,1207.9 1170.8,1207.7 1172.3,1207.5 1173.9,1207.3 1175.5,1207.1 1177.0,1207.0 1178.6,1206.8 1180.1,1206.6 1181.7,1206.4 1183.2,1206.2 1184.8,1206.0 1186.3,1205.8 1187.9,1205.7 1189.4,1205.5 1191.0,1205.3 1192.6,1205.1 1194.1,1204.9 1195.7,1204.7 1197.2,1204.5 1198.8,1204.3 1200.3,1204.1 1201.9,1204.0 1203.4,1203.8 1205.0,1203.6 1206.6,1203.4 1208.1,1203.2 1209.7,1203.0 1211.2,1202.8 1212.8,1202.6 1214.3,1202.5 1215.9,1202.3 1217.4,1202.1 1219.0,1201.9 1220.6,1201.7 1222.1,1201.5 1223.7,1201.3 1225.2,1201.2 1226.8,1201.0 1228.3,1200.8 1229.9,1200.6 1231.4,1200.4 1233.0,1200.2 1234.5,1200.0 1236.1,1199.9 1237.7,1199.7 1239.2,1199.5 1240.8,1199.3 1242.3,1199.1 1243.9,1199.0 1245.4,1198.8 1247.0,1198.6 1248.5,1198.4 1250.1,1198.2 1251.7,1198.1 1253.2,1197.9 1254.8,1197.7 1256.3,1197.5 1257.9,1197.4 1259.4,1197.2 1261.0,1197.0 1262.5,1196.8 1264.1,1196.7 1265.7,1196.5 1267.2,1196.3 1268.8,1196.2 1270.3,1196.0 1271.9,1195.8 1273.4,1195.6 1275.0,1195.5 1276.5,1195.3 1278.1,1195.1 1279.6,1195.0 1281.2,1194.8 1282.8,1194.7 1284.3,1194.5 1285.9,1194.3 1287.4,1194.2 1289.0,1194.0 1290.5,1193.9 1292.1,1193.7 1293.6,1193.5 1295.2,1193.4 1296.8,1193.2 1298.3,1193.1 1299.9,1192.9 1301.4,1192.8 1303.0,1192.6 1304.5,1192.5 1306.1,1192.3 1307.6,1192.2 1309.2,1192.0 1310.8,1191.9 1312.3,1191.8 1313.9,1191.6 1315.4,1191.5 1317.0,1191.3 1318.5,1191.2 1320.1,1191.1 1321.6,1190.9 1323.2,1190.8 1324.7,1190.7 1326.3,1190.5 1327.9,1190.4 1329.4,1190.3 1331.0,1190.1 1332.5,1190.0 1334.1,1189.9 1335.6,1189.8 1337.2,1189.6 1338.7,1189.5 1340.3,1189.4 1341.9,1189.3 1343.4,1189.2 1345.0,1189.0 1346.5,1188.9 1348.1,1188.8 1349.6,1188.7 1351.2,1188.6 1352.7,1188.5 1354.3,1188.4 1355.9,1188.3 1357.4,1188.2 1359.0,1188.1 1360.5,1188.0 1362.1,1187.9 1363.6,1187.8 1365.2,1187.7 1366.7,1187.6 1368.3,1187.5 1369.8,1187.4 1371.4,1187.3 1373.0,1187.2 1374.5,1187.1 1376.1,1187.1 1377.6,1187.0 1379.2,1186.9 1380.7,1186.8 1382.3,1186.7 1383.8,1186.7 1385.4,1186.6 1387.0,1186.5 1388.5,1186.4 1390.1,1186.4 1391.6,1186.3 1393.2,1186.2 1394.7,1186.2 1396.3,1186.1 1397.8,1186.0 1399.4,1186.0 1401.0,1185.9 1402.5,1185.9 1404.1,1185.8 1405.6,1185.8 1407.2,1185.7 1408.7,1185.7 1410.3,1185.6 1411.8,1185.6 1413.4,1185.5 1414.9,1185.5 1416.5,1185.4 1418.1,1185.4 1419.6,1185.4 1421.2,1185.3 1422.7,1185.3 1424.3,1185.3 1425.8,1185.2 1427.4,1185.2 1428.9,1185.2 1430.5,1185.2 1432.1,1185.1 1433.6,1185.1 1435.2,1185.1 1436.7,1185.1 1438.3,1185.1 1439.8,1185.1 1441.4,1185.0 1442.9,1185.0 1444.5,1185.0 1446.1,1185.0 1447.6,1185.0 1449.2,1185.0 1450.7,1185.0 1452.3,1185.0 1453.8,1185.0 1455.4,1185.0 1456.9,1185.0 1458.5,1185.0 1460.0,1185.0 1461.6,1185.1 1463.2,1185.1 1464.7,1185.1 1466.3,1185.1 1467.8,1185.1 1469.4,1185.1 1470.9,1185.2 1472.5,1185.2 1474.0,1185.2 1475.6,1185.2 1477.2,1185.3 1478.7,1185.3 1480.3,1185.3 1481.8,1185.4 1483.4,1185.4 1484.9,1185.5 1486.5,1185.5 1488.0,1185.5 1489.6,1185.6 1491.2,1185.6 1492.7,1185.7 1494.3,1185.7 1495.8,1185.8 1497.4,1185.8 1498.9,1185.9 1500.5,1185.9 1502.0,1186.0 1503.6,1186.1 1505.1,1186.1 1506.7,1186.2 1508.3,1186.2 1509.8,1186.3 1511.4,1186.4 1512.9,1186.5 1514.5,1186.5 1516.0,1186.6 1517.6,1186.7 1519.1,1186.8 1520.7,1186.8 1522.3,1186.9 1523.8,1187.0 1525.4,1187.1 1526.9,1187.2 1528.5,1187.2 1530.0,1187.3 1531.6,1187.4 1533.1,1187.5 1534.7,1187.6 1536.3,1187.7 1537.8,1187.8 1539.4,1187.9 1540.9,1188.0 1542.5,1188.1 1544.0,1188.2 1545.6,1188.3 1547.1,1188.4 1548.7,1188.5 1550.3,1188.6 1551.8,1188.7 1553.4,1188.8 1554.9,1189.0 1556.5,1189.1 1558.0,1189.2 1559.6,1189.3 1561.1,1189.4 1562.7,1189.5 1564.2,1189.7 1565.8,1189.8 1567.4,1189.9 1568.9,1190.0 1570.5,1190.2 1572.0,1190.3 1573.6,1190.4 1575.1,1190.5 1576.7,1190.7 1578.2,1190.8 1579.8,1190.9 1581.4,1191.1 1582.9,1191.2 1584.5,1191.4 1586.0,1191.5 1587.6,1191.6 1589.1,1191.8 1590.7,1191.9 1592.2,1192.1 1593.8,1192.2 1595.4,1192.4 1596.9,1192.5 1598.5,1192.7 1600.0,1192.8 1601.6,1193.0 1603.1,1193.1 1604.7,1193.3 1606.2,1193.4 1607.8,1193.6 1609.3,1193.7 1610.9,1193.9 1612.5,1194.0 1614.0,1194.2 1615.6,1194.4 1617.1,1194.5 1618.7,1194.7 1620.2,1194.9 1621.8,1195.0 1623.3,1195.2 1624.9,1195.3 1626.5,1195.5 1628.0,1195.7 1629.6,1195.8 1631.1,1196.0 1632.7,1196.2 1634.2,1196.4 1635.8,1196.5 1637.3,1196.7 1638.9,1196.9 1640.5,1197.0 1642.0,1197.2 1643.6,1197.4 1645.1,1197.6 1646.7,1197.7 1648.2,1197.9 1649.8,1198.1 1651.3,1198.3 1652.9,1198.5 1654.4,1198.6 1656.0,1198.8 1657.6,1199.0 1659.1,1199.2 1660.7,1199.4 1662.2,1199.5 1663.8,1199.7 1665.3,1199.9 1666.9,1200.1 1668.4,1200.3 1670.0,1200.5 1671.6,1200.6 1673.1,1200.8 1674.7,1201.0 1676.2,1201.2 1677.8,1201.4 1679.3,1201.6 1680.9,1201.7 1682.4,1201.9 1684.0,1202.1 1685.6,1202.3 1687.1,1202.5 1688.7,1202.7 1690.2,1202.9 1691.8,1203.1 1693.3,1203.2 1694.9,1203.4 1696.4,1203.6 1698.0,1203.8 1699.5,1204.0 1701.1,1204.2 1702.7,1204.4 1704.2,1204.6 1705.8,1204.7 1707.3,1204.9 1708.9,1205.1 1710.4,1205.3 1712.0,1205.5 1713.5,1205.7 1715.1,1205.9 1716.7,1206.1 1718.2,1206.2 1719.8,1206.4 1721.3,1206.6 1722.9,1206.8 1724.4,1207.0 1726.0,1207.2 1727.5,1207.4 1729.1,1207.6 1730.7,1207.7 1732.2,1207.9 1733.8,1208.1 1735.3,1208.3 1736.9,1208.5 1738.4,1208.7 1740.0,1208.8 1741.5,1209.0 1743.1,1209.2 1744.6,1209.4 1746.2,1209.6 1747.8,1209.8 1749.3,1209.9 1750.9,1210.1 1752.4,1210.3 1754.0,1210.5 1755.5,1210.7 1757.1,1210.8 1758.6,1211.0 1760.2,1211.2 1761.8,1211.4 1763.3,1211.5 1764.9,1211.7 1766.4,1211.9 1768.0,1212.1 1769.5,1212.2 1771.1,1212.4 1772.6,1212.6 1774.2,1212.8 1775.8,1212.9 1777.3,1213.1 1778.9,1213.3 1780.4,1213.4 1782.0,1213.6 1783.5,1213.8 1785.1,1213.9 1786.6,1214.1 1788.2,1214.3 1789.7,1214.4 1791.3,1214.6 1792.9,1214.7 1794.4,1214.9 1796.0,1215.1 1797.5,1215.2 1799.1,1215.4 1800.6,1215.5 1802.2,1215.7 1803.7,1215.8 1805.3,1216.0 1806.9,1216.1 1808.4,1216.3 1810.0,1216.4 1811.5,1216.6 1813.1,1216.7 1814.6,1216.9 1816.2,1217.0 1817.7,1217.2 1819.3,1217.3 1820.9,1217.4 1822.4,1217.6 1824.0,1217.7 1825.5,1217.9 1827.1,1218.0 1828.6,1218.1 1830.2,1218.3 1831.7,1218.4 1833.3,1218.5 1834.8,1218.7 1836.4,1218.8 1838.0,1218.9 1839.5,1219.0 1841.1,1219.2 1842.6,1219.3 1844.2,1219.4 1845.7,1219.5 1847.3,1219.7 1848.8,1219.8 1850.4,1219.9 1852.0,1220.0 1853.5,1220.1 1855.1,1220.2 1856.6,1220.3 1858.2,1220.4 1859.7,1220.6 1861.3,1220.7 1862.8,1220.8 1864.4,1220.9 1866.0,1221.0 1867.5,1221.1 1869.1,1221.2 1870.6,1221.3 1872.2,1221.4 1873.7,1221.5 1875.3,1221.5 1876.8,1221.6 1878.4,1221.7 1879.9,1221.8 1881.5,1221.9 1883.1,1222.0 1884.6,1222.1 1886.2,1222.1 1887.7,1222.2 1889.3,1222.3 1890.8,1222.4 1892.4,1222.4 1893.9,1222.5 1895.5,1222.6 1897.1,1222.7 1898.6,1222.7 1900.2,1222.8 1901.7,1222.9 1903.3,1222.9 1904.8,1223.0 1906.4,1223.0 1907.9,1223.1 1909.5,1223.2 1911.1,1223.2 1912.6,1223.3 1914.2,1223.3 1915.7,1223.4 1917.3,1223.4 1918.8,1223.4 1920.4,1223.5 1921.9,1223.5 1923.5,1223.6 1925.0,1223.6 1926.6,1223.6 1928.2,1223.7 1929.7,1223.7 1931.3,1223.7 1932.8,1223.8 1934.4,1223.8 1935.9,1223.8 1937.5,1223.8 1939.0,1223.9 1940.6,1223.9 1942.2,1223.9 1943.7,1223.9 1945.3,1223.9 1946.8,1223.9 1948.4,1224.0 1949.9,1224.0 1951.5,1224.0 1953.0,1224.0 1954.6,1224.0 1956.2,1224.0 1957.7,1224.0 1959.3,1224.0 1960.8,1224.0 1962.4,1224.0 1963.9,1224.0 1965.5,1224.0 1967.0,1223.9 1968.6,1223.9 1970.1,1223.9 1971.7,1223.9 1973.3,1223.9 1974.8,1223.9 1976.4,1223.8 1977.9,1223.8 1979.5,1223.8 1981.0,1223.8 1982.6,1223.7 1984.1,1223.7 1985.7,1223.7 1987.3,1223.6 1988.8,1223.6 1990.4,1223.6 1991.9,1223.5 1993.5,1223.5 1995.0,1223.4 1996.6,1223.4 1998.1,1223.4 1999.7,1223.3 2001.3,1223.3 2002.8,1223.2 2004.4,1223.1 2005.9,1223.1 2007.5,1223.0 2009.0,1223.0 2010.6,1222.9 2012.1,1222.9 2013.7,1222.8 2015.2,1222.7 2016.8,1222.7 2018.4,1222.6 2019.9,1222.5 2021.5,1222.4 2023.0,1222.4 2024.6,1222.3 2026.1,1222.2 2027.7,1222.1 2029.2,1222.1 2030.8,1222.0 2032.4,1221.9 2033.9,1221.8 2035.5,1221.7 2037.0,1221.6 2038.6,1221.5 2040.1,1221.4 2041.7,1221.4 2043.2,1221.3 2044.8,1221.2 2046.4,1221.1 2047.9,1221.0 2049.5,1220.9 2051.0,1220.8 2052.6,1220.7 2054.1,1220.5 2055.7,1220.4 2057.2,1220.3 2058.8,1220.2 2060.3,1220.1 2061.9,1220.0 2063.5,1219.9 2065.0,1219.8 2066.6,1219.6 2068.1,1219.5 2069.7,1219.4 2071.2,1219.3 2072.8,1219.2 2074.3,1219.0 2075.9,1218.9 2077.5,1218.8 2079.0,1218.7 2080.6,1218.5 2082.1,1218.4 2083.7,1218.3 2085.2,1218.1 2086.8,1218.0 2088.3,1217.9 2089.9,1217.7 2091.5,1217.6 2093.0,1217.4 2094.6,1217.3 2096.1,1217.2 2097.7,1217.0 2099.2,1216.9 2100.8,1216.7 2102.3,1216.6 2103.9,1216.4 2105.5,1216.3 2107.0,1216.1 2108.6,1216.0 2110.1,1215.8 2111.7,1215.7 2113.2,1215.5 2114.8,1215.4 2116.3,1215.2 2117.9,1215.0 2119.4,1214.9 2121.0,1214.7 2122.6,1214.6 2124.1,1214.4 2125.7,1214.2 2127.2,1214.1 2128.8,1213.9 2130.3,1213.7 2131.9,1213.6 2133.4,1213.4 2135.0,1213.2 2136.6,1213.1 2138.1,1212.9 2139.7,1212.7 2141.2,1212.6 2142.8,1212.4 2144.3,1212.2 2145.9,1212.1 2147.4,1211.9 2149.0,1211.7 2150.6,1211.5 2152.1,1211.4 2153.7,1211.2 2155.2,1211.0 2156.8,1210.8 2158.3,1210.6 2159.9,1210.5 2161.4,1210.3 2163.0,1210.1 2164.5,1209.9 2166.1,1209.7 2167.7,1209.6 2169.2,1209.4 2170.8,1209.2 2172.3,1209.0 2173.9,1208.8 2175.4,1208.7 2177.0,1208.5 2178.5,1208.3 2180.1,1208.1 2181.7,1207.9 2183.2,1207.7 2184.8,1207.5 2186.3,1207.4 2187.9,1207.2 2189.4,1207.0 2191.0,1206.8 2192.5,1206.6 2194.1,1206.4 2195.7,1206.2 2197.2,1206.0 2198.8,1205.9 2200.3,1205.7 2201.9,1205.5 2203.4,1205.3 2205.0,1205.1 2206.5,1204.9 2208.1,1204.7 2209.6,1204.5 2211.2,1204.4 2212.8,1204.2 2214.3,1204.0 2215.9,1203.8 2217.4,1203.6 2219.0,1203.4 2220.5,1203.2 2222.1,1203.0 2223.6,1202.9 2225.2,1202.7 2226.8,1202.5 2228.3,1202.3 2229.9,1202.1 2231.4,1201.9 2233.0,1201.7 2234.5,1201.5 2236.1,1201.4 2237.6,1201.2 2239.2,1201.0 2240.8,1200.8 2242.3,1200.6 2243.9,1200.4 2245.4,1200.3 2247.0,1200.1 2248.5,1199.9 2250.1,1199.7 2251.6,1199.5 2253.2,1199.3 2254.7,1199.2 2256.3,1199.0 2257.9,1198.8 2259.4,1198.6 2261.0,1198.4 2262.5,1198.3 2264.1,1198.1 2265.6,1197.9 2267.2,1197.7 2268.7,1197.6 2270.3,1197.4 2271.9,1197.2 2273.4,1197.0 2275.0,1196.9 2276.5,1196.7 2278.1,1196.5 2279.6,1196.3 2281.2,1196.2 2282.7,1196.0 2284.3,1195.8 2285.9,1195.7 2287.4,1195.5 2289.0,1195.3 2290.5,1195.2 2292.1,1195.0 2293.6,1194.8 2295.2,1194.7 2296.7,1194.5 2298.3,1194.4 2299.8,1194.2 2301.4,1194.0 2303.0,1193.9 2304.5,1193.7 2306.1,1193.6 2307.6,1193.4 2309.2,1193.3 2310.7,1193.1 2312.3,1192.9 2313.8,1192.8 2315.4,1192.6 2317.0,1192.5 2318.5,1192.4 2320.1,1192.2 2321.6,1192.1 2323.2,1191.9 2324.7,1191.8 2326.3,1191.6 2327.8,1191.5 2329.4,1191.4 2331.0,1191.2 2332.5,1191.1 2334.1,1190.9 2335.6,1190.8 2337.2,1190.7 2338.7,1190.5 2340.3,1190.4 2341.8,1190.3 2343.4,1190.2 2344.9,1190.0 2346.5,1189.9 2348.1,1189.8 2349.6,1189.7 2351.2,1189.5 2352.7,1189.4 2354.3,1189.3 2355.8,1189.2 2357.4,1189.1 2358.9,1188.9 2360.5,1188.8"/>
<polyline stroke="#0000ff" points="184.8,1009.7 186.4,1009.7 187.9,1009.7 189.5,1009.7 191.0,1009.7 192.6,1009.8 194.1,1009.9 195.7,1010.0 197.2,1010.3 198.8,1010.5 200.4,1010.9 201.9,1011.3 203.5,1011.8 205.0,1012.4 206.6,1013.1 208.1,1013.9 209.7,1014.7 211.2,1015.7 212.8,1016.7 214.3,1017.8 215.9,1019.0 217.5,1020.3 219.0,1021.6 220.6,1023.0 222.1,1024.5 223.7,1026.1 225.2,1027.7 226.8,1029.4 228.3,1031.1 229.9,1032.9 231.5,1034.6 233.0,1036.5 234.6,1038.3 236.1,1040.2 237.7,1042.1 239.2,1043.9 240.8,1045.8 242.3,1047.7 243.9,1049.6 245.5,1051.5 247.0,1053.4 248.6,1055.2 250.1,1057.0 251.7,1058.8 253.2,1060.5 254.8,1062.2 256.3,1063.9 257.9,1065.5 259.4,1067.0 261.0,1068.5 262.6,1070.0 264.1,1071.3 265.7,1072.6 267.2,1073.8 268.8,1075.0 270.3,1076.1 271.9,1077.1 273.4,1078.0 275.0,1078.8 276.6,1079.6 278.1,1080.4 279.7,1081.0 281.2,1081.6 282.8,1082.1 284.3,1082.6 285.9,1083.0 287.4,1083.4 289.0,1083.7 290.6,1084.0 292.1,1084.2 293.7,1084.4 295.2,1084.5 296.8,1084.6 298.3,1084.7 299.9,1084.8 301.4,1084.8 303.0,1084.9 304.5,1084.9 306.1,1084.9 307.7,1085.0 309.2,1085.0 310.8,1085.0 312.3,1085.1 313.9,1085.2 315.4,1085.2 317.0,1085.3 318.5,1085.5 320.1,1085.6 321.7,1085.8 323.2,1086.0 324.8,1086.3 326.3,1086.5 327.9,1086.9 329.4,1087.2 331.0,1087.6 332.5,1088.0 334.1,1088.5 335.7,1089.0 337.2,1089.6 338.8,1090.1 340.3,1090.7 341.9,1091.3 343.4,1092.0 345.0,1092.6 346.5,1093.3 348.1,1094.0 349.6,1094.7 351.2,1095.4 352.8,1096.1 354.3,1096.8 355.9,1097.5 357.4,1098.2 359.0,1098.9 360.5,1099.7 362.1,1100.4 363.6,1101.2 365.2,1101.9 366.8,1102.7 368.3,1103.5 369.9,1104.2 371.4,1105.0 373.0,1105.7 374.5,1106.5 376.1,1107.2 377.6,1107.9 379.2,1108.6 380.8,1109.3 382.3,1110.0 383.9,1110.7 385.4,1111.4 387.0,1112.0 388.5,1112.6 390.1,1113.2 391.6,1113.8 393.2,1114.3 394.7,1114.8 396.3,1115.4 397.9,1115.9 399.4,1116.3 401.0,1116.8 402.5,1117.3 404.1,1117.7 405.6,1118.1 407.2,1118.6 408.7,1119.0 410.3,1119.4 411.9,1119.8 413.4,1120.2 415.0,1120.6 416.5,1120.9 418.1,1121.3 419.6,1121.7 421.2,1122.1 422.7,1122.4 424.3,1122.8 425.9,1123.2 427.4,1123.5 429.0,1123.9 430.5,1124.3 432.1,1124.6 433.6,1125.0 435.2,1125.3 436.7,1125.7 438.3,1126.0 439.8,1126.3 441.4,1126.7 443.0,1127.0 444.5,1127.3 446.1,1127.6 447.6,1127.9 449.2,1128.2 450.7,1128.5 452.3,1128.8 453.8,1129.2 455.4,1129.5 457.0,1129.8 458.5,1130.2 460.1,1130.5 461.6,1130.9 463.2,1131.2 464.7,1131.6 466.3,1132.0 467.8,1132.4 469.4,1132.8 471.0,1133.2 472.5,1133.6 474.1,1134.0 475.6,1134.4 477.2,1134.9 478.7,1135.3 480.3,1135.7 481.8,1136.1 483.4,1136.5 485.0,1137.0 486.5,1137.4 488.1,1137.8 489.6,1138.2 491.2,1138.6 492.7,1139.0 494.3,1139.4 495.8,1139.8 497.4,1140.2 498.9,1140.6 500.5,1141.0 502.1,1141.4 503.6,1141.8 505.2,1142.2 506.7,1142.6 508.3,1143.0 509.8,1143.4 511.4,1143.8 512.9,1144.2 514.5,1144.6 516.1,1145.0 517.6,1145.4 519.2,1145.7 520.7,1146.1 522.3,1146.5 523.8,1146.8 525.4,1147.2 526.9,1147.5 528.5,1147.7 530.1,1148.0 531.6,1148.3 533.2,1148.6 534.7,1148.8 536.3,1149.2 537.8,1149.5 539.4,1149.9 540.9,1150.3 542.5,1150.8 544.0,1151.2 545.6,1151.7 547.2,1152.0 548.7,1152.4 550.3,1152.7 551.8,1153.0 553.4,1153.4 554.9,1153.7 556.5,1154.1 558.0,1154.6 559.6,1155.1 561.2,1155.6 562.7,1156.0 564.3,1156.5 565.8,1156.9 567.4,1157.3 568.9,1157.6 570.5,1158.0 572.0,1158.4 573.6,1158.8 575.2,1159.3 576.7,1159.8 578.3,1160.3 579.8,1160.8 581.4,1161.4 582.9,1162.0 584.5,1162.6 586.0,1163.2 587.6,1163.9 589.1,1164.6 590.7,1165.3 592.3,1166.0 593.8,1166.7 595.4,1167.5 596.9,1168.2 598.5,1169.0 600.0,1169.8 601.6,1170.6 603.1,1171.3 604.7,1172.1 606.3,1172.9 607.8,1173.8 609.4,1174.6 610.9,1175.4 612.5,1176.2 614.0,1177.1 615.6,1177.9 617.1,1178.8 618.7,1179.6 620.3,1180.5 621.8,1181.3 623.4,1182.2 624.9,1183.1 626.5,1184.0 628.0,1185.0 629.6,1185.9 631.1,1186.8 632.7,1187.8 634.2,1188.7 635.8,1189.6 637.4,1190.6 638.9,1191.5 640.5,1192.4 642.0,1193.3 643.6,1194.2 645.1,1195.1 646.7,1196.0 648.2,1196.8 649.8,1197.6 651.4,1198.5 652.9,1199.2 654.5,1200.0 656.0,1200.8 657.6,1201.5 659.1,1202.2 660.7,1202.9 662.2,1203.6 663.8,1204.3 665.4,1204.9 666.9,1205.5 668.5,1206.1 670.0,1206.7 671.6,1207.2 673.1,1207.7 674.7,1208.2 676.2,1208.6 677.8,1209.0 679.3,1209.4 680.9,1209.7 682.5,1210.0 684.0,1210.2 685.6,1210.5 687.1,1210.7 688.7,1210.9 690.2,1211.1 691.8,1211.2 693.3,1211.4 694.9,1211.5 696.5,1211.7 698.0,1211.8 699.6,1211.9 701.1,1212.0 702.7,1212.1 704.2,1212.2 705.8,1212.3 707.3,1212.4 708.9,1212.5 710.5,1212.6 712.0,1212.7 713.6,1212.8 715.1,1212.9 716.7,1213.0 718.2,1213.1 719.8,1213.2 721.3,1213.3 722.9,1213.4 724.4,1213.4 726.0,1213.5 727.6,1213.6 729.1,1213.7 730.7,1213.8 732.2,1213.9 733.8,1214.1 735.3,1214.2 736.9,1214.3 738.4,1214.4 740.0,1214.6 741.6,1214.8 743.1,1214.9 744.7,1215.1 746.2,1215.3 747.8,1215.4 749.3,1215.6 750.9,1215.8 752.4,1216.0 754.0,1216.2 755.6,1216.4 757.1,1216.6 758.7,1216.8 760.2,1217.0 761.8,1217.2 763.3,1217.4 764.9,1217.7 766.4,1217.9 768.0,1218.1 769.5,1218.3 771.1,1218.5 772.7,1218.7 774.2,1218.9 775.8,1219.1 777.3,1219.3 778.9,1219.5 780.4,1219.7 782.0,1219.9 783.5,1220.0 785.1,1220.2 786.7,1220.4 788.2,1220.6 789.8,1220.7 791.3,1220.9 792.9,1221.1 794.4,1221.2 796.0,1221.4 797.5,1221.5 799.1,1221.6 800.7,1221.7 802.2,1221.9 803.8,1222.0 805.3,1222.1 806.9,1222.2 808.4,1222.3 810.0,1222.4 811.5,1222.5 813.1,1222.6 814.6,1222.7 816.2,1222.8 817.8,1222.9 819.3,1223.0 820.9,1223.1 822.4,1223.2 824.0,1223.3 825.5,1223.4 827.1,1223.4 828.6,1223.5 830.2,1223.6 831.8,1223.7 833.3,1223.8 834.9,1223.8 836.4,1223.9 838.0,1224.0 839.5,1224.1 841.1,1224.1 842.6,1224.2 844.2,1224.3 845.8,1224.3 847.3,1224.4 848.9,1224.4 850.4,1224.5 852.0,1224.5 853.5,1224.6 855.1,1224.7 856.6,1224.7 858.2,1224.8 859.7,1224.8 861.3,1224.8 862.9,1224.9 864.4,1224.9 866.0,1225.0 867.5,1225.0 869.1,1225.0 870.6,1225.1 872.2,1225.1 873.7,1225.1 875.3,1225.2 876.9,1225.2 878.4,1225.2 880.0,1225.2 881.5,1225.3 883.1,1225.3 884.6,1225.3 886.2,1225.3 887.7,1225.3 889.3,1225.3 890.9,1225.4 892.4,1225.4 894.0,1225.4 895.5,1225.4 897.1,1225.4 898.6,1225.4 900.2,1225.4 901.7,1225.4 903.3,1225.4 904.8,1225.4 906.4,1225.3 908.0,1225.3 909.5,1225.3 911.1,1225.3 912.6,1225.3 914.2,1225.3 915.7,1225.2 917.3,1225.2 918.8,1225.2 920.4,1225.2 922.0,1225.1 923.5,1225.1 925.1,1225.1 926.6,1225.0 928.2,1225.0 929.7,1225.0 931.3,1224.9 932.8,1224.9 934.4,1224.9 936.0,1224.8 937.5,1224.8 939.1,1224.8 940.6,1224.7 942.2,1224.7 943.7,1224.7 945.3,1224.6 946.8,1224.6 948.4,1224.5 949.9,1224.5 951.5,1224.4 953.1,1224.4 954.6,1224.4 956.2,1224.3 957.7,1224.3 959.3,1224.2 960.8,1224.2 962.4,1224.1 963.9,1224.1 965.5,1224.0 967.1,1224.0 968.6,1224.0 970.2,1223.9 971.7,1223.9 973.3,1223.8 974.8,1223.8 976.4,1223.7 977.9,1223.7 979.5,1223.6 981.1,1223.6 982.6,1223.5 984.2,1223.4 985.7,1223.4 987.3,1223.3 988.8,1223.3 990.4,1223.2 991.9,1223.2 993.5,1223.1 995.0,1223.0 996.6,1223.0 998.2,1222.9 999.7,1222.8 1001.3,1222.8 1002.8,1222.7 1004.4,1222.6 1005.9,1222.6 1007.5,1222.5 1009.0,1222.4 1010.6,1222.4 1012.2,1222.3 1013.7,1222.2 1015.3,1222.1 1016.8,1222.0 1018.4,1222.0 1019.9,1221.9 1021.5,1221.8 1023.0,1221.7 1024.6,1221.6 1026.2,1221.5 1027.7,1221.4 1029.3,1221.3 1030.8,1221.2 1032.4,1221.1 1033.9,1221.0 1035.5,1220.9 1037.0,1220.8 1038.6,1220.7 1040.2,1220.6 1041.7,1220.5 1043.3,1220.4 1044.8,1220.3 1046.4,1220.2 1047.9,1220.1 1049.5,1220.0 1051.0,1219.9 1052.6,1219.7 1054.1,1219.6 1055.7,1219.5 1057.3,1219.4 1058.8,1219.3 1060.4,1219.1 1061.9,1219.0 1063.5,1218.9 1065.0,1218.8 1066.6,1218.6 1068.1,1218.5 1069.7,1218.4 1071.3,1218.2 1072.8,1218.1 1074.4,1218.0 1075.9,1217.8 1077.5,1217.7 1079.0,1217.6 1080.6,1217.4 1082.1,1217.3 1083.7,1217.1 1085.3,1217.0 1086.8,1216.8 1088.4,1216.7 1089.9,1216.6 1091.5,1216.4 1093.0,1216.3 1094.6,1216.1 1096.1,1216.0 1097.7,1215.8 1099.2,1215.6 1100.8,1215.5 1102.4,1215.3 1103.9,1215.2 1105.5,1215.0 1107.0,1214.9 1108.6,1214.7 1110.1,1214.5 1111.7,1214.4 1113.2,1214.2 1114.8,1214.1 1116.4,1213.9 1117.9,1213.7 1119.5,1213.6 1121.0,1213.4 1122.6,1213.2 1124.1,1213.1 1125.7,1212.9 1127.2,1212.7 1128.8,1212.5 1130.4,1212.4 1131.9,1212.2 1133.5,1212.0 1135.0,1211.9 1136.6,1211.7 1138.1,1211.5 1139.7,1211.3 1141.2,1211.2 1142.8,1211.0 1144.3,1210.8 1145.9,1210.6 1147.5,1210.4 1149.0,1210.3 1150.6,1210.1 1152.1,1209.9 1153.7,1209.7 1155.2,1209.5 1156.8,1209.4 1158.3,1209.2 1159.9,1209.0 1161.5,1208.8 1163.0,1208.6 1164.6,1208.4 1166.1,1208.3 1167.7,1208.1 1169.2,1207.9 1170.8,1207.7 1172.3,1207.5 1173.9,1207.3 1175.5,1207.1 1177.0,1207.0 1178.6,1206.8 1180.1,1206.6 1181.7,1206.4 1183.2,1206.2 1184.8,1206.0 1186.3,1205.8 1187.9,1205.7 1189.4,1205.5 1191.0,1205.3 1192.6,1205.1 1194.1,1204.9 1195.7,1204.7 1197.2,1204.5 1198.8,1204.3 1200.3,1204.1 1201.9,1204.0 1203.4,1203.8 1205.0,1203.6 1206.6,1203.4 1208.1,1203.2 1209.7,1203.0 1211.2,1202.8 1212.8,1202.6 1214.3,1202.5 1215.9,1202.3 1217.4,1202.1 1219.0,1201.9 1220.6,1201.7 1222.1,1201.5 1223.7,1201.3 1225.2,1201.2 1226.8,1201.0 1228.3,1200.8 1229.9,1200.6 1231.4,1200.4 1233.0,1200.2 1234.5,1200.0 1236.1,1199.9 1237.7,1199.7 1239.2,1199.5 1240.8,1199.3 1242.3,1199.1 1243.9,1199.0 1245.4,1198.8 1247.0,1198.6 1248.5,1198.4 1250.1,1198.2 1251.7,1198.1 1253.2,1197.9 1254.8,1197.7 1256.3,1197.5 1257.9,1197.4 1259.4,1197.2 1261.0,1197.0 1262.5,1196.8 1264.1,1196.7 1265.7,1196.5 1267.2,1196.3 1268.8,1196.2 1270.3,1196.0 1271.9,1195.8 1273.4,1195.6 1275.0,1195.5 1276.5,1195.3 1278.1,1195.1 1279.6,1195.0 1281.2,1194.8 1282.8,1194.7 1284.3,1194.5 1285.9,1194.3 1287.4,1194.2 1289.0,1194.0 1290.5,1193.9 1292.1,1193.7 1293.6,1193.5 1295.2,1193.4 1296.8,1193.2 1298.3,1193.1 1299.9,1192.9 1301.4,1192.8 1303.0,1192.6 1304.5,1192.5 1306.1,1192.3 1307.6,1192.2 1309.2,1192.0 1310.8,1191.9 1312.3,1191.8 1313.9,1191.6 1315.4,1191.5 1317.0,1191.3 1318.5,1191.2 1320.1,1191.1 1321.6,1190.9 1323.2,1190.8 1324.7,1190.7 1326.3,1190.5 1327.9,1190.4 1329.4,1190.3 1331.0,1190.1 1332.5,1190.0 1334.1,1189.9 1335.6,1189.8 1337.2,1189.6 1338.7,1189.5 1340.3,1189.4 1341.9,1189.3 1343.4,1189.2 1345.0,1189.0 1346.5,1188.9 1348.1,1188.8 1349.6,1188.7 1351.2,1188.6 1352.7,1188.5 1354.3,1188.4 1355.9,1188.3 1357.4,1188.2 1359.0,1188.1 1360.5,1188.0 1362.1,1187.9 1363.6,1187.8 1365.2,1187.7 1366.7,1187.6 1368.3,1187.5 1369.8,1187.4 1371.4,1187.3 1373.0,1187.2 1374.5,1187.1 1376.1,1187.1 1377.6,1187.0 1379.2,1186.9 1380.7,1186.8 1382.3,1186.7 1383.8,1186.7 1385.4,1186.6 1387.0,1186.5 1388.5,1186.4 1390.1,1186.4 1391.6,1186.3 1393.2,1186.2 1394.7,1186.2 1396.3,1186.1 1397.8,1186.0 1399.4,1186.0 1401.0,1185.9 1402.5,1185.9 1404.1,1185.8 1405.6,1185.8 1407.2,1185.7 1408.7,1185.7 1410.3,1185.6 1411.8,1185.6 1413.4,1185.5 1414.9,1185.5 1416.5,1185.4 1418.1,1185.4 1419.6,1185.4 1421.2,1185.3 1422.7,1185.3 1424.3,1185.3 1425.8,1185.2 1427.4,1185.2 1428.9,1185.2 1430.5,1185.2 1432.1,1185.1 1433.6,1185.1 1435.2,1185.1 1436.7,1185.1 1438.3,1185.1 1439.8,1185.1 1441.4,1185.0 1442.9,1185.0 1444.5,1185.0 1446.1,1185.0 1447.6,1185.0 1449.2,1185.0 1450.7,1185.0 1452.3,1185.0 1453.8,1185.0 1455.4,1185.0 1456.9,1185.0 1458.5,1185.0 1460.0,1185.0 1461.6,1185.1 1463.2,1185.1 1464.7,1185.1 1466.3,1185.1 1467.8,1185.1 1469.4,1185.1 1470.9,1185.2 1472.5,1185.2 1474.0,1185.2 1475.6,1185.2 1477.2,1185.3 1478.7,1185.3 1480.3,1185.3 1481.8,1185.4 1483.4,1185.4 1484.9,1185.5 1486.5,1185.5 1488.0,1185.5 1489.6,1185.6 1491.2,1185.6 1492.7,1185.7 1494.3,1185.7 1495.8,1185.8 1497.4,1185.8 1498.9,1185.9 1500.5,1185.9 1502.0,1186.0 1503.6,1186.1 1505.1,1186.1 1506.7,1186.2 1508.3,1186.2 1509.8,1186.3 1511.4,1186.4 1512.9,1186.5 1514.5,1186.5 1516.0,1186.6 1517.6,1186.7 1519.1,1186.8 1520.7,1186.8 1522.3,1186.9 1523.8,1187.0 1525.4,1187.1 1526.9,1187.2 1528.5,1187.2 1530.0,1187.3 1531.6,1187.4 1533.1,1187.5 1534.7,1187.6 1536.3,1187.7 1537.8,1187.8 1539.4,1187.9 1540.9,1188.0 1542.5,1188.1 1544.0,1188.2 1545.6,1188.3 1547.1,1188.4 1548.7,1188.5 1550.3,1188.6 1551.8,1188.7 1553.4,1188.8 1554.9,1189.0 1556.5,1189.1 1558.0,1189.2 1559.6,1189.3 1561.1,1189.4 1562.7,1189.5 1564.2,1189.7 1565.8,1189.8 1567.4,1189.9 1568.9,1190.0 1570.5,1190.2 1572.0,1190.3 1573.6,1190.4 1575.1,1190.5 1576.7,1190.7 1578.2,1190.8 1579.8,1190.9 1581.4,1191.1 1582.9,1191.2 1584.5,1191.4 1586.0,1191.5 1587.6,1191.6 1589.1,1191.8 1590.7,1191.9 1592.2,1192.1 1593.8,1192.2 1595.4,1192.4 1596.9,1192.5 1598.5,1192.7 1600.0,1192.8 1601.6,1193.0 1603.1,1193.1 1604.7,1193.3 1606.2,1193.4 1607.8,1193.6 1609.3,1193.7 1610.9,1193.9 1612.5,1194.0 1614.0,1194.2 1615.6,1194.4 1617.1,1194.5 1618.7,1194.7 1620.2,1194.9 1621.8,1195.0 1623.3,1195.2 1624.9,1195.3 1626.5,1195.5 1628.0,1195.7 1629.6,1195.8 1631.1,1196.0 1632.7,1196.2 1634.2,1196.4 1635.8,1196.5 1637.3,1196.7 1638.9,1196.9 1640.5,1197.0 1642.0,1197.2 1643.6,1197.4 1645.1,1197.6 1646.7,1197.7 1648.2,1197.9 1649.8,1198.1 1651.3,1198.3 1652.9,1198.5 1654.4,1198.6 1656.0,1198.8 1657.6,1199.0 1659.1,1199.2 1660.7,1199.4 1662.2,1199.5 1663.8,1199.7 1665.3,1199.9 1666.9,1200.1 1668.4,1200.3 1670.0,1200.5 1671.6,1200.6 1673.1,1200.8 1674.7,1201.0 1676.2,1201.2 1677.8,1201.4 1679.3,1201.6 1680.9,1201.7 1682.4,1201.9 1684.0,1202.1 1685.6,1202.3 1687.1,1202.5 1688.7,1202.7 1690.2,1202.9 1691.8,1203.1 1693.3,1203.2 1694.9,1203.4 1696.4,1203.6 1698.0,1203.8 1699.5,1204.0 1701.1,1204.2 1702.7,1204.4 1704.2,1204.6 1705.8,1204.7 1707.3,1204.9 1708.9,1205.1 1710.4,1205.3 1712.0,1205.5 1713.5,1205.7 1715.1,1205.9 1716.7,1206.1 1718.2,1206.2 1719.8,1206.4 1721.3,1206.6 1722.9,1206.8 1724.4,1207.0 1726.0,1207.2 1727.5,1207.4 1729.1,1207.6 1730.7,1207.7 1732.2,1207.9 1733.8,1208.1 1735.3,1208.3 1736.9,1208.5 1738.4,1208.7 1740.0,1208.8 1741.5,1209.0 1743.1,1209.2 1744.6,1209.4 1746.2,1209.6 1747.8,1209.8 1749.3,1209.9 1750.9,1210.1 1752.4,1210.3 1754.0,1210.5 1755.5,1210.7 1757.1,1210.8 1758.6,1211.0 1760.2,1211.2 1761.8,1211.4 1763.3,1211.5 1764.9,1211.7 1766.4,1211.9 1768.0,1212.1 1769.5,1212.2 1771.1,1212.4 1772.6,1212.6 1774.2,1212.8 1775.8,1212.9 1777.3,1213.1 1778.9,1213.3 1780.4,1213.4 1782.0,1213.6 1783.5,1213.8 1785.1,1213.9 1786.6,1214.1 1788.2,1214.3 1789.7,1214.4 1791.3,1214.6 1792.9,1214.7 1794.4,1214.9 1796.0,1215.1 1797.5,1215.2 1799.1,1215.4 1800.6,1215.5 1802.2,1215.7 1803.7,1215.8 1805.3,1216.0 1806.9,1216.1 1808.4,1216.3 1810.0,1216.4 1811.5,1216.6 1813.1,1216.7 1814.6,1216.9 1816.2,1217.0 1817.7,1217.2 1819.3,1217.3 1820.9,1217.4 1822.4,1217.6 1824.0,1217.7 1825.5,1217.9 1827.1,1218.0 1828.6,1218.1 1830.2,1218.3 1831.7,1218.4 1833.3,1218.5 1834.8,1218.7 1836.4,1218.8 1838.0,1218.9 1839.5,1219.0 1841.1,1219.2 1842.6,1219.3 1844.2,1219.4 1845.7,1219.5 1847.3,1219.7 1848.8,1219.8 1850.4,1219.9 1852.0,1220.0 1853.5,1220.1 1855.1,1220.2 1856.6,1220.3 1858.2,1220.4 1859.7,1220.6 1861.3,1220.7 1862.8,1220.8 1864.4,1220.9 1866.0,1221.0 1867.5,1221.1 1869.1,1221.2 1870.6,1221.3 1872.2,1221.4 1873.7,1221.5 1875.3,1221.5 1876.8,1221.6 1878.4,1221.7 1879.9,1221.8 1881.5,1221.9 1883.1,1222.0 1884.6,1222.1 1886.2,1222.1 1887.7,1222.2 1889.3,1222.3 1890.8,1222.4 1892.4,1222.4 1893.9,1222.5 1895.5,1222.6 1897.1,1222.7 1898.6,1222.7 1900.2,1222.8 1901.7,1222.9 1903.3,1222.9 1904.8,1223.0 1906.4,1223.0 1907.9,1223.1 1909.5,1223.2 1911.1,1223.2 1912.6,1223.3 1914.2,1223.3 1915.7,1223.4 1917.3,1223.4 1918.8,1223.4 1920.4,1223.5 1921.9,1223.5 1923.5,1223.6 1925.0,1223.6 1926.6,1223.6 1928.2,1223.7 1929.7,1223.7 1931.3,1223.7 1932.8,1223.8 1934.4,1223.8 1935.9,1223.8 1937.5,1223.8 1939.0,1223.9 1940.6,1223.9 1942.2,1223.9 1943.7,1223.9 1945.3,1223.9 1946.8,1223.9 1948.4,1224.0 1949.9,1224.0 1951.5,1224.0 1953.0,1224.0 1954.6,1224.0 1956.2,1224.0 1957.7,1224.0 1959.3,1224.0 1960.8,1224.0 1962.4,1224.0 1963.9,1224.0 1965.5,1224.0 1967.0,1223.9 1968.6,1223.9 1970.1,1223.9 1971.7,1223.9 1973.3,1223.9 1974.8,1223.9 1976.4,1223.8 1977.9,1223.8 1979.5,1223.8 1981.0,1223.8 1982.6,1223.7 1984.1,1223.7 1985.7,1223.7 1987.3,1223.6 1988.8,1223.6 1990.4,1223.6 1991.9,1223.5 1993.5,1223.5 1995.0,1223.4 1996.6,1223.4 1998.1,1223.4 1999.7,1223.3 2001.3,1223.3 2002.8,1223.2 2004.4,1223.1 2005.9,1223.1 2007.5,1223.0 2009.0,1223.0 2010.6,1222.9 2012.1,1222.9 2013.7,1222.8 2015.2,1222.7 2016.8,1222.7 2018.4,1222.6 2019.9,1222.5 2021.5,1222.4 2023.0,1222.4 2024.6,1222.3 2026.1,1222.2 2027.7,1222.1 2029.2,1222.1 2030.8,1222.0 2032.4,1221.9 2033.9,1221.8 2035.5,1221.7 2037.0,1221.6 2038.6,1221.5 2040.1,1221.4 2041.7,1221.4 2043.2,1221.3 2044.8,1221.2 2046.4,1221.1 2047.9,1221.0 2049.5,1220.9 2051.0,1220.8 2052.6,1220.7 2054.1,1220.5 2055.7,1220.4 2057.2,1220.3 2058.8,1220.2 2060.3,1220.1 2061.9,1220.0 2063.5,1219.9 2065.0,1219.8 2066.6,1219.6 2068.1,1219.5 2069.7,1219.4 2071.2,1219.3 2072.8,1219.2 2074.3,1219.0 2075.9,1218.9 2077.5,1218.8 2079.0,1218.7 2080.6,1218.5 2082.1,1218.4 2083.7,1218.3 2085.2,1218.1 2086.8,1218.0 2088.3,1217.9 2089.9,1217.7 2091.5,1217.6 2093.0,1217.4 2094.6,1217.3 2096.1,1217.2 2097.7,1217.0 2099.2,1216.9 2100.8,1216.7 2102.3,1216.6 2103.9,1216.4 2105.5,1216.3 2107.0,1216.1 2108.6,1216.0 2110.1,1215.8 2111.7,1215.7 2113.2,1215.5 2114.8,1215.4 2116.3,1215.2 2117.9,1215.0 2119.4,1214.9 2121.0,1214.7 2122.6,1214.6 2124.1,1214.4 2125.7,1214.2 2127.2,1214.1 2128.8,1213.9 2130.3,1213.7 2131.9,1213.6 2133.4,1213.4 2135.0,1213.2 2136.6,1213.1 2138.1,1212.9 2139.7,1212.7 2141.2,1212.6 2142.8,1212.4 2144.3,1212.2 2145.9,1212.1 2147.4,1211.9 2149.0,1211.7 2150.6,1211.5 2152.1,1211.4 2153.7,1211.2 2155.2,1211.0 2156.8,1210.8 2158.3,1210.6 2159.9,1210.5 2161.4,1210.3 2163.0,1210.1 2164.5,1209.9 2166.1,1209.7 2167.7,1209.6 2169.2,1209.4 2170.8,1209.2 2172.3,1209.0 2173.9,1208.8 2175.4,1208.7 2177.0,1208.5 2178.5,1208.3 2180.1,1208.1 2181.7,1207.9 2183.2,1207.7 2184.8,1207.5 2186.3,1207.4 2187.9,1207.2 2189.4,1207.0 2191.0,1206.8 2192.5,1206.6 2194.1,1206.4 2195.7,1206.2 2197.2,1206.0 2198.8,1205.9 2200.3,1205.7 2201.9,1205.5 2203.4,1205.3 2205.0,1205.1 2206.5,1204.9 2208.1,1204.7 2209.6,1204.5 2211.2,1204.4 2212.8,1204.2 2214.3,1204.0 2215.9,1203.8 2217.4,1203.6 2219.0,1203.4 2220.5,1203.2 2222.1,1203.0 2223.6,1202.9 2225.2,1202.7 2226.8,1202.5 2228.3,1202.3 2229.9,1202.1 2231.4,1201.9 2233.0,1201.7 2234.5,1201.5 2236.1,1201.4 2237.6,1201.2 2239.2,1201.0 2240.8,1200.8 2242.3,1200.6 2243.9,1200.4 2245.4,1200.3 2247.0,1200.1 2248.5,1199.9 2250.1,1199.7 2251.6,1199.5 2253.2,1199.3 2254.7,1199.2 2256.3,1199.0 2257.9,1198.8 2259.4,1198.6 2261.0,1198.4 2262.5,1198.3 2264.1,1198.1 2265.6,1197.9 2267.2,1197.7 2268.7,1197.6 2270.3,1197.4 2271.9,1197.2 2273.4,1197.0 2275.0,1196.9 2276.5,1196.7 2278.1,1196.5 2279.6,1196.3 2281.2,1196.2 2282.7,1196.0 2284.3,1195.8 2285.9,1195.7 2287.4,1195.5 2289.0,1195.3 2290.5,1195.2 2292.1,1195.0 2293.6,1194.8 2295.2,1194.7 2296.7,1194.5 2298.3,1194.4 2299.8,1194.2 2301.4,1194.0 2303.0,1193.9 2304.5,1193.7 2306.1,1193.6 2307.6,1193.4 2309.2,1193.3 2310.7,1193.1 2312.3,1192.9 2313.8,1192.8 2315.4,1192.6 2317.0,1192.5 2318.5,1192.4 2320.1,1192.2 2321.6,1192.1 2323.2,1191.9 2324.7,1191.8 2326.3,1191.6 2327.8,1191.5 2329.4,1191.4 2331.0,1191.2 2332.5,1191.1 2334.1,1190.9 2335.6,1190.8 2337.2,1190.7 2338.7,1190.5 2340.3,1190.4 2341.8,1190.3 2343.4,1190.2 2344.9,1190.0 2346.5,1189.9 2348.1,1189.8 2349.6,1189.7 2351.2,1189.5 2352.7,1189.4 2354.3,1189.3 2355.8,1189.2 2357.4,1189.1 2358.9,1188.9 2360.5,1188.8"/>
<polyline stroke="#00ffff" points="184.8,1204.5 186.4,1204.4 187.9,1204.1 189.5,1203.9 191.0,1203.5 192.6,1203.1 194.1,1202.7 195.7,1202.3 197.2,1202.0 198.8,1201.7 200.4,1201.4 201.9,1201.3 203.5,1201.1 205.0,1201.0 206.6,1201.0 208.1,1200.9 209.7,1200.9 211.2,1200.9 212.8,1200.9 214.3,1200.9 215.9,1200.9 217.5,1200.9 219.0,1200.8 220.6,1200.8 222.1,1200.8 223.7,1200.8 225.2,1200.8 226.8,1200.8 228.3,1200.7 229.9,1200.7 231.5,1200.7 233.0,1200.7 234.6,1200.7 236.1,1200.7 237.7,1200.7 239.2,1200.7 240.8,1200.7 242.3,1200.6 243.9,1200.5 245.5,1200.3 247.0,1200.1 248.6,1199.8 250.1,1199.5 251.7,1199.1 253.2,1198.7 254.8,1198.2 256.3,1197.7 257.9,1197.2 259.4,1196.6 261.0,1196.0 262.6,1195.4 264.1,1194.8 265.7,1194.2 267.2,1193.6 268.8,1193.0 270.3,1192.4 271.9,1191.8 273.4,1191.2 275.0,1190.6 276.6,1190.1 278.1,1189.5 279.7,1189.0 281.2,1188.5 282.8,1188.0 284.3,1187.5 285.9,1187.1 287.4,1186.7 289.0,1186.3 290.6,1185.9 292.1,1185.6 293.7,1185.3 295.2,1185.1 296.8,1184.9 298.3,1184.7 299.9,1184.6 301.4,1184.5 303.0,1184.4 304.5,1184.3 306.1,1184.2 307.7,1184.2 309.2,1184.2 310.8,1184.1 312.3,1184.1 313.9,1184.1 315.4,1184.1 317.0,1184.1 318.5,1184.1 320.1,1184.2 321.7,1184.2 323.2,1184.2 324.8,1184.3 326.3,1184.3 327.9,1184.4 329.4,1184.4 331.0,1184.5 332.5,1184.5 334.1,1184.6 335.7,1184.6 337.2,1184.7 338.8,1184.8 340.3,1184.8 341.9,1184.9 343.4,1185.0 345.0,1185.0 346.5,1185.1 348.1,1185.2 349.6,1185.2 351.2,1185.3 352.8,1185.3 354.3,1185.4 355.9,1185.4 357.4,1185.5 359.0,1185.5 360.5,1185.6 362.1,1185.6 363.6,1185.6 365.2,1185.6 366.8,1185.7 368.3,1185.7 369.9,1185.7 371.4,1185.7 373.0,1185.7 374.5,1185.7 376.1,1185.8 377.6,1185.8 379.2,1185.8 380.8,1185.8 382.3,1185.8 383.9,1185.8 385.4,1185.7 387.0,1185.7 388.5,1185.7 390.1,1185.7 391.6,1185.7 393.2,1185.6 394.7,1185.6 396.3,1185.6 397.9,1185.6 399.4,1185.5 401.0,1185.5 402.5,1185.5 404.1,1185.4 405.6,1185.4 407.2,1185.4 408.7,1185.3 410.3,1185.3 411.9,1185.3 413.4,1185.2 415.0,1185.2 416.5,1185.2 418.1,1185.2 419.6,1185.1 421.2,1185.1 422.7,1185.1 424.3,1185.1 425.9,1185.1 427.4,1185.1 429.0,1185.0 430.5,1185.0 432.1,1185.0 433.6,1185.0 435.2,1185.0 436.7,1185.0 438.3,1185.0 439.8,1185.0 441.4,1185.0 443.0,1185.0 444.5,1185.0 446.1,1185.0 447.6,1185.0 449.2,1185.1 450.7,1185.1 452.3,1185.1 453.8,1185.1 455.4,1185.1 457.0,1185.1 458.5,1185.2 460.1,1185.2 461.6,1185.2 463.2,1185.3 464.7,1185.3 466.3,1185.3 467.8,1185.3 469.4,1185.4 471.0,1185.4 472.5,1185.5 474.1,1185.5 475.6,1185.5 477.2,1185.6 478.7,1185.6 480.3,1185.7 481.8,1185.7 483.4,1185.8 485.0,1185.8 486.5,1185.9 488.1,1185.9 489.6,1186.0 491.2,1186.1 492.7,1186.1 494.3,1186.2 495.8,1186.3 497.4,1186.3 498.9,1186.4 500.5,1186.5 502.1,1186.5 503.6,1186.6 505.2,1186.7 506.7,1186.8 508.3,1186.8 509.8,1186.9 511.4,1187.0 512.9,1187.1 514.5,1187.2 516.1,1187.3 517.6,1187.3 519.2,1187.4 520.7,1187.5 522.3,1187.6 523.8,1187.7 525.4,1187.8 526.9,1187.9 528.5,1188.0 530.1,1188.1 531.6,1188.2 533.2,1188.3 534.7,1188.4 536.3,1188.5 537.8,1188.6 539.4,1188.7 540.9,1188.9 542.5,1189.0 544.0,1189.1 545.6,1189.2 547.2,1189.3 548.7,1189.4 550.3,1189.6 551.8,1189.7 553.4,1189.8 554.9,1189.9 556.5,1190.1 558.0,1190.2 559.6,1190.3 561.2,1190.4 562.7,1190.6 564.3,1190.7 565.8,1190.8 567.4,1191.0 568.9,1191.1 570.5,1191.2 572.0,1191.4 573.6,1191.5 575.2,1191.7 576.7,1191.8 578.3,1191.9 579.8,1192.1 581.4,1192.2 582.9,1192.4 584.5,1192.5 586.0,1192.7 587.6,1192.8 589.1,1193.0 590.7,1193.1 592.3,1193.3 593.8,1193.4 595.4,1193.6 596.9,1193.7 598.5,1193.9 600.0,1194.1 601.6,1194.2 603.1,1194.4 604.7,1194.5 606.3,1194.7 607.8,1194.9 609.4,1195.0 610.9,1195.2 612.5,1195.4 614.0,1195.5 615.6,1195.7 617.1,1195.9 618.7,1196.0 620.3,1196.2 621.8,1196.4 623.4,1196.5 624.9,1196.7 626.5,1196.9 628.0,1197.1 629.6,1197.2 631.1,1197.4 632.7,1197.6 634.2,1197.8 635.8,1197.9 637.4,1198.1 638.9,1198.3 640.5,1198.5 642.0,1198.7 643.6,1198.8 645.1,1199.0 646.7,1199.2 648.2,1199.4 649.8,1199.6 651.4,1199.7 652.9,1199.9 654.5,1200.1 656.0,1200.3 657.6,1200.5 659.1,1200.7 660.7,1200.8 662.2,1201.0 663.8,1201.2 665.4,1201.4 666.9,1201.6 668.5,1201.8 670.0,1202.0 671.6,1202.1 673.1,1202.3 674.7,1202.5 676.2,1202.7 677.8,1202.9 679.3,1203.1 680.9,1203.3 682.5,1203.5 684.0,1203.6 685.6,1203.8 687.1,1204.0 688.7,1204.2 690.2,1204.4 691.8,1204.6 693.3,1204.8 694.9,1205.0 696.5,1205.1 698.0,1205.3 699.6,1205.5 701.1,1205.7 702.7,1205.9 704.2,1206.1 705.8,1206.3 707.3,1206.5 708.9,1206.6 710.5,1206.8 712.0,1207.0 713.6,1207.2 715.1,1207.4 716.7,1207.6 718.2,1207.8 719.8,1207.9 721.3,1208.1 722.9,1208.3 724.4,1208.5 726.0,1208.7 727.6,1208.9 729.1,1209.1 730.7,1209.2 732.2,1209.4 733.8,1209.6 735.3,1209.8 736.9,1210.0 738.4,1210.1 740.0,1210.3 741.6,1210.5 743.1,1210.7 744.7,1210.9 746.2,1211.0 747.8,1211.2 749.3,1211.4 750.9,1211.6 752.4,1211.7 754.0,1211.9 755.6,1212.1 757.1,1212.3 758.7,1212.4 760.2,1212.6 761.8,1212.8 763.3,1212.9 764.9,1213.1 766.4,1213.3 768.0,1213.4 769.5,1213.6 771.1,1213.8 772.7,1213.9 774.2,1214.1 775.8,1214.3 777.3,1214.4 778.9,1214.6 780.4,1214.8 782.0,1214.9 783.5,1215.1 785.1,1215.2 786.7,1215.4 788.2,1215.5 789.8,1215.7 791.3,1215.9 792.9,1216.0 794.4,1216.2 796.0,1216.3 797.5,1216.5 799.1,1216.6 800.7,1216.7 802.2,1216.9 803.8,1217.0 805.3,1217.2 806.9,1217.3 808.4,1217.5 810.0,1217.6 811.5,1217.7 813.1,1217.9 814.6,1218.0 816.2,1218.2 817.8,1218.3 819.3,1218.4 820.9,1218.5 822.4,1218.7 824.0,1218.8 825.5,1218.9 827.1,1219.1 828.6,1219.2 830.2,1219.3 831.8,1219.4 833.3,1219.5 834.9,1219.7 836.4,1219.8 838.0,1219.9 839.5,1220.0 841.1,1220.1 842.6,1220.2 844.2,1220.3 845.8,1220.5 847.3,1220.6 848.9,1220.7 850.4,1220.8 852.0,1220.9 853.5,1221.0 855.1,1221.1 856.6,1221.2 858.2,1221.3 859.7,1221.4 861.3,1221.5 862.9,1221.6 864.4,1221.6 866.0,1221.7 867.5,1221.8 869.1,1221.9 870.6,1222.0 872.2,1222.1 873.7,1222.2 875.3,1222.2 876.9,1222.3 878.4,1222.4 880.0,1222.5 881.5,1222.5 883.1,1222.6 884.6,1222.7 886.2,1222.7 887.7,1222.8 889.3,1222.9 890.9,1222.9 892.4,1223.0 894.0,1223.0 895.5,1223.1 897.1,1223.2 898.6,1223.2 900.2,1223.3 901.7,1223.3 903.3,1223.4 904.8,1223.4 906.4,1223.5 908.0,1223.5 909.5,1223.5 911.1,1223.6 912.6,1223.6 914.2,1223.6 915.7,1223.7 917.3,1223.7 918.8,1223.7 920.4,1223.8 922.0,1223.8 923.5,1223.8 925.1,1223.8 926.6,1223.9 928.2,1223.9 929.7,1223.9 931.3,1223.9 932.8,1223.9 934.4,1224.0 936.0,1224.0 937.5,1224.0 939.1,1224.0 940.6,1224.0 942.2,1224.0 943.7,1224.0 945.3,1224.0 946.8,1224.0 948.4,1224.0 949.9,1224.0 951.5,1224.0 953.1,1224.0 954.6,1223.9 956.2,1223.9 957.7,1223.9 959.3,1223.9 960.8,1223.9 962.4,1223.9 963.9,1223.8 965.5,1223.8 967.1,1223.8 968.6,1223.8 970.2,1223.7 971.7,1223.7 973.3,1223.7 974.8,1223.6 976.4,1223.6 977.9,1223.6 979.5,1223.5 981.1,1223.5 982.6,1223.4 984.2,1223.4 985.7,1223.3 987.3,1223.3 988.8,1223.2 990.4,1223.2 991.9,1223.1 993.5,1223.1 995.0,1223.0 996.6,1223.0 998.2,1222.9 999.7,1222.8 1001.3,1222.8 1002.8,1222.7 1004.4,1222.6 1005.9,1222.6 1007.5,1222.5 1009.0,1222.4 1010.6,1222.4 1012.2,1222.3 1013.7,1222.2 1015.3,1222.1 1016.8,1222.0 1018.4,1222.0 1019.9,1221.9 1021.5,1221.8 1023.0,1221.7 1024.6,1221.6 1026.2,1221.5 1027.7,1221.4 1029.3,1221.3 1030.8,1221.2 1032.4,1221.1 1033.9,1221.0 1035.5,1220.9 1037.0,1220.8 1038.6,1220.7 1040.2,1220.6 1041.7,1220.5 1043.3,1220.4 1044.8,1220.3 1046.4,1220.2 1047.9,1220.1 1049.5,1220.0 1051.0,1219.9 1052.6,1219.7 1054.1,1219.6 1055.7,1219.5 1057.3,1219.4 1058.8,1219.3 1060.4,1219.1 1061.9,1219.0 1063.5,1218.9 1065.0,1218.8 1066.6,1218.6 1068.1,1218.5 1069.7,1218.4 1071.3,1218.2 1072.8,1218.1 1074.4,1218.0 1075.9,1217.8 1077.5,1217.7 1079.0,1217.6 1080.6,1217.4 1082.1,1217.3 1083.7,1217.1 1085.3,1217.0 1086.8,1216.8 1088.4,1216.7 1089.9,1216.6 1091.5,1216.4 1093.0,1216.3 1094.6,1216.1 1096.1,1216.0 1097.7,1215.8 1099.2,1215.6 1100.8,1215.5 1102.4,1215.3 1103.9,1215.2 1105.5,1215.0 1107.0,1214.9 1108.6,1214.7 1110.1,1214.5 1111.7,1214.4 1113.2,1214.2 1114.8,1214.1 1116.4,1213.9 1117.9,1213.7 1119.5,1213.6 1121.0,1213.4 1122.6,1213.2 1124.1,1213.1 1125.7,1212.9 1127.2,1212.7 1128.8,1212.5 1130.4,1212.4 1131.9,1212.2 1133.5,1212.0 1135.0,1211.9 1136.6,1211.7 1138.1,1211.5 1139.7,1211.3 1141.2,1211.2 1142.8,1211.0 1144.3,1210.8 1145.9,1210.6 1147.5,1210.4 1149.0,1210.3 1150.6,1210.1 1152.1,1209.9 1153.7,1209.7 1155.2,1209.5 1156.8,1209.4 1158.3,1209.2 1159.9,1209.0 1161.5,1208.8 1163.0,1208.6 1164.6,1208.4 1166.1,1208.3 1167.7,1208.1 1169.2,1207.9 1170.8,1207.7 1172.3,1207.5 1173.9,1207.3 1175.5,1207.1 1177.0,1207.0 1178.6,1206.8 1180.1,1206.6 1181.7,1206.4 1183.2,1206.2 1184.8,1206.0 1186.3,1205.8 1187.9,1205.7 1189.4,1205.5 1191.0,1205.3 1192.6,1205.1 1194.1,1204.9 1195.7,1204.7 1197.2,1204.5 1198.8,1204.3 1200.3,1204.1 1201.9,1204.0 1203.4,1203.8 1205.0,1203.6 1206.6,1203.4 1208.1,1203.2 1209.7,1203.0 1211.2,1202.8 1212.8,1202.6 1214.3,1202.5 1215.9,1202.3 1217.4,1202.1 1219.0,1201.9 1220.6,1201.7 1222.1,1201.5 1223.7,1201.3 1225.2,1201.2 1226.8,1201.0 1228.3,1200.8 1229.9,1200.6 1231.4,1200.4 1233.0,1200.2 1234.5,1200.0 1236.1,1199.9 1237.7,1199.7 1239.2,1199.5 1240.8,1199.3 1242.3,1199.1 1243.9,1199.0 1245.4,1198.8 1247.0,1198.6 1248.5,1198.4 1250.1,1198.2 1251.7,1198.1 1253.2,1197.9 1254.8,1197.7 1256.3,1197.5 1257.9,1197.4 1259.4,1197.2 1261.0,1197.0 1262.5,1196.8 1264.1,1196.7 1265.7,1196.5 1267.2,1196.3 1268.8,1196.2 1270.3,1196.0 1271.9,1195.8 1273.4,1195.6 1275.0,1195.5 1276.5,1195.3 1278.1,1195.1 1279.6,1195.0 1281.2,1194.8 1282.8,1194.7 1284.3,1194.5 1285.9,1194.3 1287.4,1194.2 1289.0,1194.0 1290.5,1193.9 1292.1,1193.7 1293.6,1193.5 1295.2,1193.4 1296.8,1193.2 1298.3,1193.1 1299.9,1192.9 1301.4,1192.8 1303.0,1192.6 1304.5,1192.5 1306.1,1192.3 1307.6,1192.2 1309.2,1192.0 1310.8,1191.9 1312.3,1191.8 1313.9,1191.6 1315.4,1191.5 1317.0,1191.3 1318.5,1191.2 1320.1,1191.1 1321.6,1190.9 1323.2,1190.8 1324.7,1190.7 1326.3,1190.5 1327.9,1190.4 1329.4,1190.3 1331.0,1190.1 1332.5,1190.0 1334.1,1189.9 1335.6,1189.8 1337.2,1189.6 1338.7,1189.5 1340.3,1189.4 1341.9,1189.3 1343.4,1189.2 1345.0,1189.0 1346.5,1188.9 1348.1,1188.8 1349.6,1188.7 1351.2,1188.6 1352.7,1188.5 1354.3,1188.4 1355.9,1188.3 1357.4,1188.2 1359.0,1188.1 1360.5,1188.0 1362.1,1187.9 1363.6,1187.8 1365.2,1187.7 1366.7,1187.6 1368.3,1187.5 1369.8,1187.4 1371.4,1187.3 1373.0,1187.2 1374.5,1187.1 1376.1,1187.1 1377.6,1187.0 1379.2,1186.9 1380.7,1186.8 1382.3,1186.7 1383.8,1186.7 1385.4,1186.6 1387.0,1186.5 1388.5,1186.4 1390.1,1186.4 1391.6,1186.3 1393.2,1186.2 1394.7,1186.2 1396.3,1186.1 1397.8,1186.0 1399.4,1186.0 1401.0,1185.9 1402.5,1185.9 1404.1,1185.8 1405.6,1185.8 1407.2,1185.7 1408.7,1185.7 1410.3,1185.6 1411.8,1185.6 1413.4,1185.5 1414.9,1185.5 1416.5,1185.4 1418.1,1185.4 1419.6,1185.4 1421.2,1185.3 1422.7,1185.3 1424.3,1185.3 1425.8,1185.2 1427.4,1185.2 1428.9,1185.2 1430.5,1185.2 1432.1,1185.1 1433.6,1185.1 1435.2,1185.1 1436.7,1185.1 1438.3,1185.1 1439.8,1185.1 1441.4,1185.0 1442.9,1185.0 1444.5,1185.0 1446.1,1185.0 1447.6,1185.0 1449.2,1185.0 1450.7,1185.0 1452.3,1185.0 1453.8,1185.0 1455.4,1185.0 1456.9,1185.0 1458.5,1185.0 1460.0,1185.0 1461.6,1185.1 1463.2,1185.1 1464.7,1185.1 1466.3,1185.1 1467.8,1185.1 1469.4,1185.1 1470.9,1185.2 1472.5,1185.2 1474.0,1185.2 1475.6,1185.2 1477.2,1185.3 1478.7,1185.3 1480.3,1185.3 1481.8,1185.4 1483.4,1185.4 1484.9,1185.5 1486.5,1185.5 1488.0,1185.5 1489.6,1185.6 1491.2,1185.6 1492.7,1185.7 1494.3,1185.7 1495.8,1185.8 1497.4,1185.8 1498.9,1185.9 1500.5,1185.9 1502.0,1186.0 1503.6,1186.1 1505.1,1186.1 1506.7,1186.2 1508.3,1186.2 1509.8,1186.3 1511.4,1186.4 1512.9,1186.5 1514.5,1186.5 1516.0,1186.6 1517.6,1186.7 1519.1,1186.8 1520.7,1186.8 1522.3,1186.9 1523.8,1187.0 1525.4,1187.1 1526.9,1187.2 1528.5,1187.2 1530.0,1187.3 1531.6,1187.4 1533.1,1187.5 1534.7,1187.6 1536.3,1187.7 1537.8,1187.8 1539.4,1187.9 1540.9,1188.0 1542.5,1188.1 1544.0,1188.2 1545.6,1188.3 1547.1,1188.4 1548.7,1188.5 1550.3,1188.6 1551.8,1188.7 1553.4,1188.8 1554.9,1189.0 1556.5,1189.1 1558.0,1189.2 1559.6,1189.3 1561.1,1189.4 1562.7,1189.5 1564.2,1189.7 1565.8,1189.8 1567.4,1189.9 1568.9,1190.0 1570.5,1190.2 1572.0,1190.3 1573.6,1190.4 1575.1,1190.5 1576.7,1190.7 1578.2,1190.8 1579.8,1190.9 1581.4,1191.1 1582.9,1191.2 1584.5,1191.4 1586.0,1191.5 1587.6,1191.6 1589.1,1191.8 1590.7,1191.9 1592.2,1192.1 1593.8,1192.2 1595.4,1192.4 1596.9,1192.5 1598.5,1192.7 1600.0,1192.8 1601.6,1193.0 1603.1,1193.1 1604.7,1193.3 1606.2,1193.4 1607.8,1193.6 1609.3,1193.7 1610.9,1193.9 1612.5,1194.0 1614.0,1194.2 1615.6,1194.4 1617.1,1194.5 1618.7,1194.7 1620.2,1194.9 1621.8,1195.0 1623.3,1195.2 1624.9,1195.3 1626.5,1195.5 1628.0,1195.7 1629.6,1195.8 1631.1,1196.0 1632.7,1196.2 1634.2,1196.4 1635.8,1196.5 1637.3,1196.7 1638.9,1196.9 1640.5,1197.0 1642.0,1197.2 1643.6,1197.4 1645.1,1197.6 1646.7,1197.7 1648.2,1197.9 1649.8,1198.1 1651.3,1198.3 1652.9,1198.5 1654.4,1198.6 1656.0,1198.8 1657.6,1199.0 1659.1,1199.2 1660.7,1199.4 1662.2,1199.5 1663.8,1199.7 1665.3,1199.9 1666.9,1200.1 1668.4,1200.3 1670.0,1200.5 1671.6,1200.6 1673.1,1200.8 1674.7,1201.0 1676.2,1201.2 1677.8,1201.4 1679.3,1201.6 1680.9,1201.7 1682.4,1201.9 1684.0,1202.1 1685.6,1202.3 1687.1,1202.5 1688.7,1202.7 1690.2,1202.9 1691.8,1203.1 1693.3,1203.2 1694.9,1203.4 1696.4,1203.6 1698.0,1203.8 1699.5,1204.0 1701.1,1204.2 1702.7,1204.4 1704.2,1204.6 1705.8,1204.7 1707.3,1204.9 1708.9,1205.1 1710.4,1205.3 1712.0,1205.5 1713.5,1205.7 1715.1,1205.9 1716.7,1206.1 1718.2,1206.2 1719.8,1206.4 1721.3,1206.6 1722.9,1206.8 1724.4,1207.0 1726.0,1207.2 1727.5,1207.4 1729.1,1207.6 1730.7,1207.7 1732.2,1207.9 1733.8,1208.1 1735.3,1208.3 1736.9,1208.5 1738.4,1208.7 1740.0,1208.8 1741.5,1209.0 1743.1,1209.2 1744.6,1209.4 1746.2,1209.6 1747.8,1209.8 1749.3,1209.9 1750.9,1210.1 1752.4,1210.3 1754.0,1210.5 1755.5,1210.7 1757.1,1210.8 1758.6,1211.0 1760.2,1211.2 1761.8,1211.4 1763.3,1211.5 1764.9,1211.7 1766.4,1211.9 1768.0,1212.1 1769.5,1212.2 1771.1,1212.4 1772.6,1212.6 1774.2,1212.8 1775.8,1212.9 1777.3,1213.1 1778.9,1213.3 1780.4,1213.4 1782.0,1213.6 1783.5,1213.8 1785.1,1213.9 1786.6,1214.1 1788.2,1214.3 1789.7,1214.4 1791.3,1214.6 1792.9,1214.7 1794.4,1214.9 1796.0,1215.1 1797.5,1215.2 1799.1,1215.4 1800.6,1215.5 1802.2,1215.7 1803.7,1215.8 1805.3,1216.0 1806.9,1216.1 1808.4,1216.3 1810.0,1216.4 1811.5,1216.6 1813.1,1216.7 1814.6,1216.9 1816.2,1217.0 1817.7,1217.2 1819.3,1217.3 1820.9,1217.4 1822.4,1217.6 1824.0,1217.7 1825.5,1217.9 1827.1,1218.0 1828.6,1218.1 1830.2,1218.3 1831.7,1218.4 1833.3,1218.5 1834.8,1218.7 1836.4,1218.8 1838.0,1218.9 1839.5,1219.0 1841.1,1219.2 1842.6,1219.3 1844.2,1219.4 1845.7,1219.5 1847.3,1219.7 1848.8,1219.8 1850.4,1219.9 1852.0,1220.0 1853.5,1220.1 1855.1,1220.2 1856.6,1220.3 1858.2,1220.4 1859.7,1220.6 1861.3,1220.7 1862.8,1220.8 1864.4,1220.9 1866.0,1221.0 1867.5,1221.1 1869.1,1221.2 1870.6,1221.3 1872.2,1221.4 1873.7,1221.5 1875.3,1221.5 1876.8,1221.6 1878.4,1221.7 1879.9,1221.8 1881.5,1221.9 1883.1,1222.0 1884.6,1222.1 1886.2,1222.1 1887.7,1222.2 1889.3,1222.3 1890.8,1222.4 1892.4,1222.4 1893.9,1222.5 1895.5,1222.6 1897.1,1222.7 1898.6,1222.7 1900.2,1222.8 1901.7,1222.9 1903.3,1222.9 1904.8,1223.0 1906.4,1223.0 1907.9,1223.1 1909.5,1223.2 1911.1,1223.2 1912.6,1223.3 1914.2,1223.3 1915.7,1223.4 1917.3,1223.4 1918.8,1223.4 1920.4,1223.5 1921.9,1223.5 1923.5,1223.6 1925.0,1223.6 1926.6,1223.6 1928.2,1223.7 1929.7,1223.7 1931.3,1223.7 1932.8,1223.8 1934.4,1223.8 1935.9,1223.8 1937.5,1223.8 1939.0,1223.9 1940.6,1223.9 1942.2,1223.9 1943.7,1223.9 1945.3,1223.9 1946.8,1223.9 1948.4,1224.0 1949.9,1224.0 1951.5,1224.0 1953.0,1224.0 1954.6,1224.0 1956.2,1224.0 1957.7,1224.0 1959.3,1224.0 1960.8,1224.0 1962.4,1224.0 1963.9,1224.0 1965.5,1224.0 1967.0,1223.9 1968.6,1223.9 1970.1,1223.9 1971.7,1223.9 1973.3,1223.9 1974.8,1223.9 1976.4,1223.8 1977.9,1223.8 1979.5,1223.8 1981.0,1223.8 1982.6,1223.7 1984.1,1223.7 1985.7,1223.7 1987.3,1223.6 1988.8,1223.6 1990.4,1223.6 1991.9,1223.5 1993.5,1223.5 1995.0,1223.4 1996.6,1223.4 1998.1,1223.4 1999.7,1223.3 2001.3,1223.3 2002.8,1223.2 2004.4,1223.1 2005.9,1223.1 2007.5,1223.0 2009.0,1223.0 2010.6,1222.9 2012.1,1222.9 2013.7,1222.8 2015.2,1222.7 2016.8,1222.7 2018.4,1222.6 2019.9,1222.5 2021.5,1222.4 2023.0,1222.4 2024.6,1222.3 2026.1,1222.2 2027.7,1222.1 2029.2,1222.1 2030.8,1222.0 2032.4,1221.9 2033.9,1221.8 2035.5,1221.7 2037.0,1221.6 2038.6,1221.5 2040.1,1221.4 2041.7,1221.4 2043.2,1221.3 2044.8,1221.2 2046.4,1221.1 2047.9,1221.0 2049.5,1220.9 2051.0,1220.8 2052.6,1220.7 2054.1,1220.5 2055.7,1220.4 2057.2,1220.3 2058.8,1220.2 2060.3,1220.1 2061.9,1220.0 2063.5,1219.9 2065.0,1219.8 2066.6,1219.6 2068.1,1219.5 2069.7,1219.4 2071.2,1219.3 2072.8,1219.2 2074.3,1219.0 2075.9,1218.9 2077.5,1218.8 2079.0,1218.7 2080.6,1218.5 2082.1,1218.4 2083.7,1218.3 2085.2,1218.1 2086.8,1218.0 2088.3,1217.9 2089.9,1217.7 2091.5,1217.6 2093.0,1217.4 2094.6,1217.3 2096.1,1217.2 2097.7,1217.0 2099.2,1216.9 2100.8,1216.7 2102.3,1216.6 2103.9,1216.4 2105.5,1216.3 2107.0,1216.1 2108.6,1216.0 2110.1,1215.8 2111.7,1215.7 2113.2,1215.5 2114.8,1215.4 2116.3,1215.2 2117.9,1215.0 2119.4,1214.9 2121.0,1214.7 2122.6,1214.6 2124.1,1214.4 2125.7,1214.2 2127.2,1214.1 2128.8,1213.9 2130.3,1213.7 2131.9,1213.6 2133.4,1213.4 2135.0,1213.2 2136.6,1213.1 2138.1,1212.9 2139.7,1212.7 2141.2,1212.6 2142.8,1212.4 2144.3,1212.2 2145.9,1212.1 2147.4,1211.9 2149.0,1211.7 2150.6,1211.5 2152.1,1211.4 2153.7,1211.2 2155.2,1211.0 2156.8,1210.8 2158.3,1210.6 2159.9,1210.5 2161.4,1210.3 2163.0,1210.1 2164.5,1209.9 2166.1,1209.7 2167.7,1209.6 2169.2,1209.4 2170.8,1209.2 2172.3,1209.0 2173.9,1208.8 2175.4,1208.7 2177.0,1208.5 2178.5,1208.3 2180.1,1208.1 2181.7,1207.9 2183.2,1207.7 2184.8,1207.5 2186.3,1207.4 2187.9,1207.2 2189.4,1207.0 2191.0,1206.8 2192.5,1206.6 2194.1,1206.4 2195.7,1206.2 2197.2,1206.0 2198.8,1205.9 2200.3,1205.7 2201.9,1205.5 2203.4,1205.3 2205.0,1205.1 2206.5,1204.9 2208.1,1204.7 2209.6,1204.5 2211.2,1204.4 2212.8,1204.2 2214.3,1204.0 2215.9,1203.8 2217.4,1203.6 2219.0,1203.4 2220.5,1203.2 2222.1,1203.0 2223.6,1202.9 2225.2,1202.7 2226.8,1202.5 2228.3,1202.3 2229.9,1202.1 2231.4,1201.9 2233.0,1201.7 2234.5,1201.5 2236.1,1201.4 2237.6,1201.2 2239.2,1201.0 2240.8,1200.8 2242.3,1200.6 2243.9,1200.4 2245.4,1200.3 2247.0,1200.1 2248.5,1199.9 2250.1,1199.7 2251.6,1199.5 2253.2,1199.3 2254.7,1199.2 2256.3,1199.0 2257.9,1198.8 2259.4,1198.6 2261.0,1198.4 2262.5,1198.3 2264.1,1198.1 2265.6,1197.9 2267.2,1197.7 2268.7,1197.6 2270.3,1197.4 2271.9,1197.2 2273.4,1197.0 2275.0,1196.9 2276.5,1196.7 2278.1,1196.5 2279.6,1196.3 2281.2,1196.2 2282.7,1196.0 2284.3,1195.8 2285.9,1195.7 2287.4,1195.5 2289.0,1195.3 2290.5,1195.2 2292.1,1195.0 2293.6,1194.8 2295.2,1194.7 2296.7,1194.5 2298.3,1194.4 2299.8,1194.2 2301.4,1194.0 2303.0,1193.9 2304.5,1193.7 2306.1,1193.6 2307.6,1193.4 2309.2,1193.3 2310.7,1193.1 2312.3,1192.9 2313.8,1192.8 2315.4,1192.6 2317.0,1192.5 2318.5,1192.4 2320.1,1192.2 2321.6,1192.1 2323.2,1191.9 2324.7,1191.8 2326.3,1191.6 2327.8,1191.5 2329.4,1191.4 2331.0,1191.2 2332.5,1191.1 2334.1,1190.9 2335.6,1190.8 2337.2,1190.7 2338.7,1190.5 2340.3,1190.4 2341.8,1190.3 2343.4,1190.2 2344.9,1190.0 2346.5,1189.9 2348.1,1189.8 2349.6,1189.7 2351.2,1189.5 2352.7,1189.4 2354.3,1189.3 2355.8,1189.2 2357.4,1189.1 2358.9,1188.9 2360.5,1188.8"/>
<polyline stroke="#ff00ff" points="184.8,1398.8 186.4,1398.8 187.9,1398.7 189.5,1398.7 191.0,1398.6 192.6,1398.4 194.1,1398.2 195.7,1397.9 197.2,1397.6 198.8,1397.2 200.4,1396.8 201.9,1396.3 203.5,1395.7 205.0,1395.0 206.6,1394.4 208.1,1393.6 209.7,1392.9 211.2,1392.0 212.8,1391.1 214.3,1390.1 215.9,1389.0 217.5,1387.8 219.0,1386.4 220.6,1384.9 222.1,1383.4 223.7,1381.8 225.2,1380.1 226.8,1378.5 228.3,1376.8 229.9,1375.1 231.5,1373.3 233.0,1371.6 234.6,1369.7 236.1,1367.8 237.7,1365.8 239.2,1363.7 240.8,1361.5 242.3,1359.2 243.9,1356.8 245.5,1354.3 247.0,1351.8 248.6,1349.2 250.1,1346.6 251.7,1343.9 253.2,1341.2 254.8,1338.5 256.3,1335.8 257.9,1333.1 259.4,1330.5 261.0,1327.9 262.6,1325.4 264.1,1323.0 265.7,1320.7 267.2,1318.5 268.8,1316.3 270.3,1314.2 271.9,1312.2 273.4,1310.2 275.0,1308.3 276.6,1306.3 278.1,1304.4 279.7,1302.5 281.2,1300.6 282.8,1298.7 284.3,1296.7 285.9,1294.8 287.4,1292.9 289.0,1291.0 290.6,1289.2 292.1,1287.4 293.7,1285.7 295.2,1284.0 296.8,1282.4 298.3,1280.9 299.9,1279.5 301.4,1278.1 303.0,1276.8 304.5,1275.5 306.1,1274.2 307.7,1272.9 309.2,1271.7 310.8,1270.5 312.3,1269.4 313.9,1268.2 315.4,1267.1 317.0,1266.0 318.5,1264.9 320.1,1263.8 321.7,1262.7 323.2,1261.5 324.8,1260.4 326.3,1259.3 327.9,1258.1 329.4,1257.0 331.0,1255.8 332.5,1254.6 334.1,1253.5 335.7,1252.3 337.2,1251.0 338.8,1249.8 340.3,1248.6 341.9,1247.3 343.4,1246.1 345.0,1244.8 346.5,1243.5 348.1,1242.2 349.6,1240.9 351.2,1239.6 352.8,1238.2 354.3,1236.9 355.9,1235.5 357.4,1234.2 359.0,1232.8 360.5,1231.4 362.1,1230.0 363.6,1228.7 365.2,1227.3 366.8,1225.9 368.3,1224.5 369.9,1223.1 371.4,1221.8 373.0,1220.4 374.5,1219.1 376.1,1217.8 377.6,1216.5 379.2,1215.3 380.8,1214.0 382.3,1212.8 383.9,1211.6 385.4,1210.5 387.0,1209.3 388.5,1208.1 390.1,1207.0 391.6,1205.8 393.2,1204.7 394.7,1203.5 396.3,1202.3 397.9,1201.1 399.4,1200.0 401.0,1198.8 402.5,1197.7 404.1,1196.5 405.6,1195.4 407.2,1194.3 408.7,1193.2 410.3,1192.2 411.9,1191.2 413.4,1190.2 415.0,1189.3 416.5,1188.4 418.1,1187.6 419.6,1186.8 421.2,1186.1 422.7,1185.4 424.3,1184.8 425.9,1184.2 427.4,1183.7 429.0,1183.2 430.5,1182.7 432.1,1182.3 433.6,1181.8 435.2,1181.5 436.7,1181.1 438.3,1180.8 439.8,1180.5 441.4,1180.2 443.0,1180.0 444.5,1179.8 446.1,1179.6 447.6,1179.4 449.2,1179.3 450.7,1179.3 452.3,1179.2 453.8,1179.2 455.4,1179.2 457.0,1179.3 458.5,1179.4 460.1,1179.5 461.6,1179.6 463.2,1179.7 464.7,1179.9 466.3,1180.0 467.8,1180.2 469.4,1180.4 471.0,1180.5 472.5,1180.7 474.1,1180.8 475.6,1181.0 477.2,1181.2 478.7,1181.3 480.3,1181.5 481.8,1181.6 483.4,1181.8 485.0,1182.0 486.5,1182.1 488.1,1182.3 489.6,1182.4 491.2,1182.6 492.7,1182.7 494.3,1182.9 495.8,1183.0 497.4,1183.2 498.9,1183.4 500.5,1183.5 502.1,1183.7 503.6,1183.8 505.2,1184.0 506.7,1184.1 508.3,1184.3 509.8,1184.4 511.4,1184.6 512.9,1184.8 514.5,1184.9 516.1,1185.1 517.6,1185.2 519.2,1185.4 520.7,1185.5 522.3,1185.7 523.8,1185.8 525.4,1186.0 526.9,1186.2 528.5,1186.3 530.1,1186.5 531.6,1186.6 533.2,1186.8 534.7,1186.9 536.3,1187.1 537.8,1187.2 539.4,1187.4 540.9,1187.6 542.5,1187.7 544.0,1187.9 545.6,1188.0 547.2,1188.2 548.7,1188.4 550.3,1188.5 551.8,1188.7 553.4,1188.9 554.9,1189.0 556.5,1189.2 558.0,1189.4 559.6,1189.6 561.2,1189.8 562.7,1189.9 564.3,1190.1 565.8,1190.3 567.4,1190.5 568.9,1190.7 570.5,1190.8 572.0,1191.0 573.6,1191.2 575.2,1191.4 576.7,1191.6 578.3,1191.7 579.8,1191.9 581.4,1192.1 582.9,1192.2 584.5,1192.4 586.0,1192.6 587.6,1192.8 589.1,1192.9 590.7,1193.1 592.3,1193.2 593.8,1193.4 595.4,1193.6 596.9,1193.7 598.5,1193.9 600.0,1194.1 601.6,1194.2 603.1,1194.4 604.7,1194.5 606.3,1194.7 607.8,1194.9 609.4,1195.0 610.9,1195.2 612.5,1195.4 614.0,1195.5 615.6,1195.7 617.1,1195.9 618.7,1196.0 620.3,1196.2 621.8,1196.4 623.4,1196.5 624.9,1196.7 626.5,1196.9 628.0,1197.1 629.6,1197.2 631.1,1197.4 632.7,1197.6 634.2,1197.8 635.8,1197.9 637.4,1198.1 638.9,1198.3 640.5,1198.5 642.0,1198.7 643.6,1198.8 645.1,1199.0 646.7,1199.2 648.2,1199.4 649.8,1199.6 651.4,1199.7 652.9,1199.9 654.5,1200.1 656.0,1200.3 657.6,1200.5 659.1,1200.7 660.7,1200.8 662.2,1201.0 663.8,1201.2 665.4,1201.4 666.9,1201.6 668.5,1201.8 670.0,1202.0 671.6,1202.1 673.1,1202.3 674.7,1202.5 676.2,1202.7 677.8,1202.9 679.3,1203.1 680.9,1203.3 682.5,1203.5 684.0,1203.6 685.6,1203.8 687.1,1204.0 688.7,1204.2 690.2,1204.4 691.8,1204.6 693.3,1204.8 694.9,1205.0 696.5,1205.1 698.0,1205.3 699.6,1205.5 701.1,1205.7 702.7,1205.9 704.2,1206.1 705.8,1206.3 707.3,1206.5 708.9,1206.6 710.5,1206.8 712.0,1207.0 713.6,1207.2 715.1,1207.4 716.7,1207.6 718.2,1207.8 719.8,1207.9 721.3,1208.1 722.9,1208.3 724.4,1208.5 726.0,1208.7 727.6,1208.9 729.1,1209.1 730.7,1209.2 732.2,1209.4 733.8,1209.6 735.3,1209.8 736.9,1210.0 738.4,1210.1 740.0,1210.3 741.6,1210.5 743.1,1210.7 744.7,1210.9 746.2,1211.0 747.8,1211.2 749.3,1211.4 750.9,1211.6 752.4,1211.7 754.0,1211.9 755.6,1212.1 757.1,1212.3 758.7,1212.4 760.2,1212.6 761.8,1212.8 763.3,1212.9 764.9,1213.1 766.4,1213.3 768.0,1213.4 769.5,1213.6 771.1,1213.8 772.7,1213.9 774.2,1214.1 775.8,1214.3 777.3,1214.4 778.9,1214.6 780.4,1214.8 782.0,1214.9 783.5,1215.1 785.1,1215.2 786.7,1215.4 788.2,1215.5 789.8,1215.7 791.3,1215.9 792.9,1216.0 794.4,1216.2 796.0,1216.3 797.5,1216.5 799.1,1216.6 800.7,1216.7 802.2,1216.9 803.8,1217.0 805.3,1217.2 806.9,1217.3 808.4,1217.5 810.0,1217.6 811.5,1217.7 813.1,1217.9 814.6,1218.0 816.2,1218.2 817.8,1218.3 819.3,1218.4 820.9,1218.5 822.4,1218.7 824.0,1218.8 825.5,1218.9 827.1,1219.1 828.6,1219.2 830.2,1219.3 831.8,1219.4 833.3,1219.5 834.9,1219.7 836.4,1219.8 838.0,1219.9 839.5,1220.0 841.1,1220.1 842.6,1220.2 844.2,1220.3 845.8,1220.5 847.3,1220.6 848.9,1220.7 850.4,1220.8 852.0,1220.9 853.5,1221.0 855.1,1221.1 856.6,1221.2 858.2,1221.3 859.7,1221.4 861.3,1221.5 862.9,1221.6 864.4,1221.6 866.0,1221.7 867.5,1221.8 869.1,1221.9 870.6,1222.0 872.2,1222.1 873.7,1222.2 875.3,1222.2 876.9,1222.3 878.4,1222.4 880.0,1222.5 881.5,1222.5 883.1,1222.6 884.6,1222.7 886.2,1222.7 887.7,1222.8 889.3,1222.9 890.9,1222.9 892.4,1223.0 894.0,1223.0 895.5,1223.1 897.1,1223.2 898.6,1223.2 900.2,1223.3 901.7,1223.3 903.3,1223.4 904.8,1223.4 906.4,1223.5 908.0,1223.5 909.5,1223.5 911.1,1223.6 912.6,1223.6 914.2,1223.6 915.7,1223.7 917.3,1223.7 918.8,1223.7 920.4,1223.8 922.0,1223.8 923.5,1223.8 925.1,1223.8 926.6,1223.9 928.2,1223.9 929.7,1223.9 931.3,1223.9 932.8,1223.9 934.4,1224.0 936.0,1224.0 937.5,1224.0 939.1,1224.0 940.6,1224.0 942.2,1224.0 943.7,1224.0 945.3,1224.0 946.8,1224.0 948.4,1224.0 949.9,1224.0 951.5,1224.0 953.1,1224.0 954.6,1223.9 956.2,1223.9 957.7,1223.9 959.3,1223.9 960.8,1223.9 962.4,1223.9 963.9,1223.8 965.5,1223.8 967.1,1223.8 968.6,1223.8 970.2,1223.7 971.7,1223.7 973.3,1223.7 974.8,1223.6 976.4,1223.6 977.9,1223.6 979.5,1223.5 981.1,1223.5 982.6,1223.4 984.2,1223.4 985.7,1223.3 987.3,1223.3 988.8,1223.2 990.4,1223.2 991.9,1223.1 993.5,1223.1 995.0,1223.0 996.6,1223.0 998.2,1222.9 999.7,1222.8 1001.3,1222.8 1002.8,1222.7 1004.4,1222.6 1005.9,1222.6 1007.5,1222.5 1009.0,1222.4 1010.6,1222.4 1012.2,1222.3 1013.7,1222.2 1015.3,1222.1 1016.8,1222.0 1018.4,1222.0 1019.9,1221.9 1021.5,1221.8 1023.0,1221.7 1024.6,1221.6 1026.2,1221.5 1027.7,1221.4 1029.3,1221.3 1030.8,1221.2 1032.4,1221.1 1033.9,1221.0 1035.5,1220.9 1037.0,1220.8 1038.6,1220.7 1040.2,1220.6 1041.7,1220.5 1043.3,1220.4 1044.8,1220.3 1046.4,1220.2 1047.9,1220.1 1049.5,1220.0 1051.0,1219.9 1052.6,1219.7 1054.1,1219.6 1055.7,1219.5 1057.3,1219.4 1058.8,1219.3 1060.4,1219.1 1061.9,1219.0 1063.5,1218.9 1065.0,1218.8 1066.6,1218.6 1068.1,1218.5 1069.7,1218.4 1071.3,1218.2 1072.8,1218.1 1074.4,1218.0 1075.9,1217.8 1077.5,1217.7 1079.0,1217.6 1080.6,1217.4 1082.1,1217.3 1083.7,1217.1 1085.3,1217.0 1086.8,1216.8 1088.4,1216.7 1089.9,1216.6 1091.5,1216.4 1093.0,1216.3 1094.6,1216.1 1096.1,1216.0 1097.7,1215.8 1099.2,1215.6 1100.8,1215.5 1102.4,1215.3 1103.9,1215.2 1105.5,1215.0 1107.0,1214.9 1108.6,1214.7 1110.1,1214.5 1111.7,1214.4 1113.2,1214.2 1114.8,1214.1 1116.4,1213.9 1117.9,1213.7 1119.5,1213.6 1121.0,1213.4 1122.6,1213.2 1124.1,1213.1 1125.7,1212.9 1127.2,1212.7 1128.8,1212.5 1130.4,1212.4 1131.9,1212.2 1133.5,1212.0 1135.0,1211.9 1136.6,1211.7 1138.1,1211.5 1139.7,1211.3 1141.2,1211.2 1142.8,1211.0 1144.3,1210.8 1145.9,1210.6 1147.5,1210.4 1149.0,1210.3 1150.6,1210.1 1152.1,1209.9 1153.7,1209.7 1155.2,1209.5 1156.8,1209.4 1158.3,1209.2 1159.9,1209.0 1161.5,1208.8 1163.0,1208.6 1164.6,1208.4 1166.1,1208.3 1167.7,1208.1 1169.2,1207.9 1170.8,1207.7 1172.3,1207.5 1173.9,1207.3 1175.5,1207.1 1177.0,1207.0 1178.6,1206.8 1180.1,1206.6 1181.7,1206.4 1183.2,1206.2 1184.8,1206.0 1186.3,1205.8 1187.9,1205.7 1189.4,1205.5 1191.0,1205.3 1192.6,1205.1 1194.1,1204.9 1195.7,1204.7 1197.2,1204.5 1198.8,1204.3 1200.3,1204.1 1201.9,1204.0 1203.4,1203.8 1205.0,1203.6 1206.6,1203.4 1208.1,1203.2 1209.7,1203.0 1211.2,1202.8 1212.8,1202.6 1214.3,1202.5 1215.9,1202.3 1217.4,1202.1 1219.0,1201.9 1220.6,1201.7 1222.1,1201.5 1223.7,1201.3 1225.2,1201.2 1226.8,1201.0 1228.3,1200.8 1229.9,1200.6 1231.4,1200.4 1233.0,1200.2 1234.5,1200.0 1236.1,1199.9 1237.7,1199.7 1239.2,1199.5 1240.8,1199.3 1242.3,1199.1 1243.9,1199.0 1245.4,1198.8 1247.0,1198.6 1248.5,1198.4 1250.1,1198.2 1251.7,1198.1 1253.2,1197.9 1254.8,1197.7 1256.3,1197.5 1257.9,1197.4 1259.4,1197.2 1261.0,1197.0 1262.5,1196.8 1264.1,1196.7 1265.7,1196.5 1267.2,1196.3 1268.8,1196.2 1270.3,1196.0 1271.9,1195.8 1273.4,1195.6 1275.0,1195.5 1276.5,1195.3 1278.1,1195.1 1279.6,1195.0 1281.2,1194.8 1282.8,1194.7 1284.3,1194.5 1285.9,1194.3 1287.4,1194.2 1289.0,1194.0 1290.5,1193.9 1292.1,1193.7 1293.6,1193.5 1295.2,1193.4 1296.8,1193.2 1298.3,1193.1 1299.9,1192.9 1301.4,1192.8 1303.0,1192.6 1304.5,1192.5 1306.1,1192.3 1307.6,1192.2 1309.2,1192.0 1310.8,1191.9 1312.3,1191.8 1313.9,1191.6 1315.4,1191.5 1317.0,1191.3 1318.5,1191.2 1320.1,1191.1 1321.6,1190.9 1323.2,1190.8 1324.7,1190.7 1326.3,1190.5 1327.9,1190.4 1329.4,1190.3 1331.0,1190.1 1332.5,1190.0 1334.1,1189.9 1335.6,1189.8 1337.2,1189.6 1338.7,1189.5 1340.3,1189.4 1341.9,1189.3 1343.4,1189.2 1345.0,1189.0 1346.5,1188.9 1348.1,1188.8 1349.6,1188.7 1351.2,1188.6 1352.7,1188.5 1354.3,1188.4 1355.9,1188.3 1357.4,1188.2 1359.0,1188.1 1360.5,1188.0 1362.1,1187.9 1363.6,1187.8 1365.2,1187.7 1366.7,1187.6 1368.3,1187.5 1369.8,1187.4 1371.4,1187.3 1373.0,1187.2 1374.5,1187.1 1376.1,1187.1 1377.6,1187.0 1379.2,1186.9 1380.7,1186.8 1382.3,1186.7 1383.8,1186.7 1385.4,1186.6 1387.0,1186.5 1388.5,1186.4 1390.1,1186.4 1391.6,1186.3 1393.2,1186.2 1394.7,1186.2 1396.3,1186.1 1397.8,1186.0 1399.4,1186.0 1401.0,1185.9 1402.5,1185.9 1404.1,1185.8 1405.6,1185.8 1407.2,1185.7 1408.7,1185.7 1410.3,1185.6 1411.8,1185.6 1413.4,1185.5 1414.9,1185.5 1416.5,1185.4 1418.1,1185.4 1419.6,1185.4 1421.2,1185.3 1422.7,1185.3 1424.3,1185.3 1425.8,1185.2 1427.4,1185.2 1428.9,1185.2 1430.5,1185.2 1432.1,1185.1 1433.6,1185.1 1435.2,1185.1 1436.7,1185.1 1438.3,1185.1 1439.8,1185.1 1441.4,1185.0 1442.9,1185.0 1444.5,1185.0 1446.1,1185.0 1447.6,1185.0 1449.2,1185.0 1450.7,1185.0 1452.3,1185.0 1453.8,1185.0 1455.4,1185.0 1456.9,1185.0 1458.5,1185.0 1460.0,1185.0 1461.6,1185.1 1463.2,1185.1 1464.7,1185.1 1466.3,1185.1 1467.8,1185.1 1469.4,1185.1 1470.9,1185.2 1472.5,1185.2 1474.0,1185.2 1475.6,1185.2 1477.2,1185.3 1478.7,1185.3 1480.3,1185.3 1481.8,1185.4 1483.4,1185.4 1484.9,1185.5 1486.5,1185.5 1488.0,1185.5 1489.6,1185.6 1491.2,1185.6 1492.7,1185.7 1494.3,1185.7 1495.8,1185.8 1497.4,1185.8 1498.9,1185.9 1500.5,1185.9 1502.0,1186.0 1503.6,1186.1 1505.1,1186.1 1506.7,1186.2 1508.3,1186.2 1509.8,1186.3 1511.4,1186.4 1512.9,1186.5 1514.5,1186.5 1516.0,1186.6 1517.6,1186.7 1519.1,1186.8 1520.7,1186.8 1522.3,1186.9 1523.8,1187.0 1525.4,1187.1 1526.9,1187.2 1528.5,1187.2 1530.0,1187.3 1531.6,1187.4 1533.1,1187.5 1534.7,1187.6 1536.3,1187.7 1537.8,1187.8 1539.4,1187.9 1540.9,1188.0 1542.5,1188.1 1544.0,1188.2 1545.6,1188.3 1547.1,1188.4 1548.7,1188.5 1550.3,1188.6 1551.8,1188.7 1553.4,1188.8 1554.9,1189.0 1556.5,1189.1 1558.0,1189.2 1559.6,1189.3 1561.1,1189.4 1562.7,1189.5 1564.2,1189.7 1565.8,1189.8 1567.4,1189.9 1568.9,1190.0 1570.5,1190.2 1572.0,1190.3 1573.6,1190.4 1575.1,1190.5 1576.7,1190.7 1578.2,1190.8 1579.8,1190.9 1581.4,1191.1 1582.9,1191.2 1584.5,1191.4 1586.0,1191.5 1587.6,1191.6 1589.1,1191.8 1590.7,1191.9 1592.2,1192.1 1593.8,1192.2 1595.4,1192.4 1596.9,1192.5 1598.5,1192.7 1600.0,1192.8 1601.6,1193.0 1603.1,1193.1 1604.7,1193.3 1606.2,1193.4 1607.8,1193.6 1609.3,1193.7 1610.9,1193.9 1612.5,1194.0 1614.0,1194.2 1615.6,1194.4 1617.1,1194.5 1618.7,1194.7 1620.2,1194.9 1621.8,1195.0 1623.3,1195.2 1624.9,1195.3 1626.5,1195.5 1628.0,1195.7 1629.6,1195.8 1631.1,1196.0 1632.7,1196.2 1634.2,1196.4 1635.8,1196.5 1637.3,1196.7 1638.9,1196.9 1640.5,1197.0 1642.0,1197.2 1643.6,1197.4 1645.1,1197.6 1646.7,1197.7 1648.2,1197.9 1649.8,1198.1 1651.3,1198.3 1652.9,1198.5 1654.4,1198.6 1656.0,1198.8 1657.6,1199.0 1659.1,1199.2 1660.7,1199.4 1662.2,1199.5 1663.8,1199.7 1665.3,1199.9 1666.9,1200.1 1668.4,1200.3 1670.0,1200.5 1671.6,1200.6 1673.1,1200.8 1674.7,1201.0 1676.2,1201.2 1677.8,1201.4 1679.3,1201.6 1680.9,1201.7 1682.4,1201.9 1684.0,1202.1 1685.6,1202.3 1687.1,1202.5 1688.7,1202.7 1690.2,1202.9 1691.8,1203.1 1693.3,1203.2 1694.9,1203.4 1696.4,1203.6 1698.0,1203.8 1699.5,1204.0 1701.1,1204.2 1702.7,1204.4 1704.2,1204.6 1705.8,1204.7 1707.3,1204.9 1708.9,1205.1 1710.4,1205.3 1712.0,1205.5 1713.5,1205.7 1715.1,1205.9 1716.7,1206.1 1718.2,1206.2 1719.8,1206.4 1721.3,1206.6 1722.9,1206.8 1724.4,1207.0 1726.0,1207.2 1727.5,1207.4 1729.1,1207.6 1730.7,1207.7 1732.2,1207.9 1733.8,1208.1 1735.3,1208.3 1736.9,1208.5 1738.4,1208.7 1740.0,1208.8 1741.5,1209.0 1743.1,1209.2 1744.6,1209.4 1746.2,1209.6 1747.8,1209.8 1749.3,1209.9 1750.9,1210.1 1752.4,1210.3 1754.0,1210.5 1755.5,1210.7 1757.1,1210.8 1758.6,1211.0 1760.2,1211.2 1761.8,1211.4 1763.3,1211.5 1764.9,1211.7 1766.4,1211.9 1768.0,1212.1 1769.5,1212.2 1771.1,1212.4 1772.6,1212.6 1774.2,1212.8 1775.8,1212.9 1777.3,1213.1 1778.9,1213.3 1780.4,1213.4 1782.0,1213.6 1783.5,1213.8 1785.1,1213.9 1786.6,1214.1 1788.2,1214.3 1789.7,1214.4 1791.3,1214.6 1792.9,1214.7 1794.4,1214.9 1796.0,1215.1 1797.5,1215.2 1799.1,1215.4 1800.6,1215.5 1802.2,1215.7 1803.7,1215.8 1805.3,1216.0 1806.9,1216.1 1808.4,1216.3 1810.0,1216.4 1811.5,1216.6 1813.1,1216.7 1814.6,1216.9 1816.2,1217.0 1817.7,1217.2 1819.3,1217.3 1820.9,1217.4 1822.4,1217.6 1824.0,1217.7 1825.5,1217.9 1827.1,1218.0 1828.6,1218.1 1830.2,1218.3 1831.7,1218.4 1833.3,1218.5 1834.8,1218.7 1836.4,1218.8 1838.0,1218.9 1839.5,1219.0 1841.1,1219.2 1842.6,1219.3 1844.2,1219.4 1845.7,1219.5 1847.3,1219.7 1848.8,1219.8 1850.4,1219.9 1852.0,1220.0 1853.5,1220.1 1855.1,1220.2 1856.6,1220.3 1858.2,1220.4 1859.7,1220.6 1861.3,1220.7 1862.8,1220.8 1864.4,1220.9 1866.0,1221.0 1867.5,1221.1 1869.1,1221.2 1870.6,1221.3 1872.2,1221.4 1873.7,1221.5 1875.3,1221.5 1876.8,1221.6 1878.4,1221.7 1879.9,1221.8 1881.5,1221.9 1883.1,1222.0 1884.6,1222.1 1886.2,1222.1 1887.7,1222.2 1889.3,1222.3 1890.8,1222.4 1892.4,1222.4 1893.9,1222.5 1895.5,1222.6 1897.1,1222.7 1898.6,1222.7 1900.2,1222.8 1901.7,1222.9 1903.3,1222.9 1904.8,1223.0 1906.4,1223.0 1907.9,1223.1 1909.5,1223.2 1911.1,1223.2 1912.6,1223.3 1914.2,1223.3 1915.7,1223.4 1917.3,1223.4 1918.8,1223.4 1920.4,1223.5 1921.9,1223.5 1923.5,1223.6 1925.0,1223.6 1926.6,1223.6 1928.2,1223.7 1929.7,1223.7 1931.3,1223.7 1932.8,1223.8 1934.4,1223.8 1935.9,1223.8 1937.5,1223.8 1939.0,1223.9 1940.6,1223.9 1942.2,1223.9 1943.7,1223.9 1945.3,1223.9 1946.8,1223.9 1948.4,1224.0 1949.9,1224.0 1951.5,1224.0 1953.0,1224.0 1954.6,1224.0 1956.2,1224.0 1957.7,1224.0 1959.3,1224.0 1960.8,1224.0 1962.4,1224.0 1963.9,1224.0 1965.5,1224.0 1967.0,1223.9 1968.6,1223.9 1970.1,1223.9 1971.7,1223.9 1973.3,1223.9 1974.8,1223.9 1976.4,1223.8 1977.9,1223.8 1979.5,1223.8 1981.0,1223.8 1982.6,1223.7 1984.1,1223.7 1985.7,1223.7 1987.3,1223.6 1988.8,1223.6 1990.4,1223.6 1991.9,1223.5 1993.5,1223.5 1995.0,1223.4 1996.6,1223.4 1998.1,1223.4 1999.7,1223.3 2001.3,1223.3 2002.8,1223.2 2004.4,1223.1 2005.9,1223.1 2007.5,1223.0 2009.0,1223.0 2010.6,1222.9 2012.1,1222.9 2013.7,1222.8 2015.2,1222.7 2016.8,1222.7 2018.4,1222.6 2019.9,1222.5 2021.5,1222.4 2023.0,1222.4 2024.6,1222.3 2026.1,1222.2 2027.7,1222.1 2029.2,1222.1 2030.8,1222.0 2032.4,1221.9 2033.9,1221.8 2035.5,1221.7 2037.0,1221.6 2038.6,1221.5 2040.1,1221.4 2041.7,1221.4 2043.2,1221.3 2044.8,1221.2 2046.4,1221.1 2047.9,1221.0 2049.5,1220.9 2051.0,1220.8 2052.6,1220.7 2054.1,1220.5 2055.7,1220.4 2057.2,1220.3 2058.8,1220.2 2060.3,1220.1 2061.9,1220.0 2063.5,1219.9 2065.0,1219.8 2066.6,1219.6 2068.1,1219.5 2069.7,1219.4 2071.2,1219.3 2072.8,1219.2 2074.3,1219.0 2075.9,1218.9 2077.5,1218.8 2079.0,1218.7 2080.6,1218.5 2082.1,1218.4 2083.7,1218.3 2085.2,1218.1 2086.8,1218.0 2088.3,1217.9 2089.9,1217.7 2091.5,1217.6 2093.0,1217.4 2094.6,1217.3 2096.1,1217.2 2097.7,1217.0 2099.2,1216.9 2100.8,1216.7 2102.3,1216.6 2103.9,1216.4 2105.5,1216.3 2107.0,1216.1 2108.6,1216.0 2110.1,1215.8 2111.7,1215.7 2113.2,1215.5 2114.8,1215.4 2116.3,1215.2 2117.9,1215.0 2119.4,1214.9 2121.0,1214.7 2122.6,1214.6 2124.1,1214.4 2125.7,1214.2 2127.2,1214.1 2128.8,1213.9 2130.3,1213.7 2131.9,1213.6 2133.4,1213.4 2135.0,1213.2 2136.6,1213.1 2138.1,1212.9 2139.7,1212.7 2141.2,1212.6 2142.8,1212.4 2144.3,1212.2 2145.9,1212.1 2147.4,1211.9 2149.0,1211.7 2150.6,1211.5 2152.1,1211.4 2153.7,1211.2 2155.2,1211.0 2156.8,1210.8 2158.3,1210.6 2159.9,1210.5 2161.4,1210.3 2163.0,1210.1 2164.5,1209.9 2166.1,1209.7 2167.7,1209.6 2169.2,1209.4 2170.8,1209.2 2172.3,1209.0 2173.9,1208.8 2175.4,1208.7 2177.0,1208.5 2178.5,1208.3 2180.1,1208.1 2181.7,1207.9 2183.2,1207.7 2184.8,1207.5 2186.3,1207.4 2187.9,1207.2 2189.4,1207.0 2191.0,1206.8 2192.5,1206.6 2194.1,1206.4 2195.7,1206.2 2197.2,1206.0 2198.8,1205.9 2200.3,1205.7 2201.9,1205.5 2203.4,1205.3 2205.0,1205.1 2206.5,1204.9 2208.1,1204.7 2209.6,1204.5 2211.2,1204.4 2212.8,1204.2 2214.3,1204.0 2215.9,1203.8 2217.4,1203.6 2219.0,1203.4 2220.5,1203.2 2222.1,1203.0 2223.6,1202.9 2225.2,1202.7 2226.8,1202.5 2228.3,1202.3 2229.9,1202.1 2231.4,1201.9 2233.0,1201.7 2234.5,1201.5 2236.1,1201.4 2237.6,1201.2 2239.2,1201.0 2240.8,1200.8 2242.3,1200.6 2243.9,1200.4 2245.4,1200.3 2247.0,1200.1 2248.5,1199.9 2250.1,1199.7 2251.6,1199.5 2253.2,1199.3 2254.7,1199.2 2256.3,1199.0 2257.9,1198.8 2259.4,1198.6 2261.0,1198.4 2262.5,1198.3 2264.1,1198.1 2265.6,1197.9 2267.2,1197.7 2268.7,1197.6 2270.3,1197.4 2271.9,1197.2 2273.4,1197.0 2275.0,1196.9 2276.5,1196.7 2278.1,1196.5 2279.6,1196.3 2281.2,1196.2 2282.7,1196.0 2284.3,1195.8 2285.9,1195.7 2287.4,1195.5 2289.0,1195.3 2290.5,1195.2 2292.1,1195.0 2293.6,1194.8 2295.2,1194.7 2296.7,1194.5 2298.3,1194.4 2299.8,1194.2 2301.4,1194.0 2303.0,1193.9 2304.5,1193.7 2306.1,1193.6 2307.6,1193.4 2309.2,1193.3 2310.7,1193.1 2312.3,1192.9 2313.8,1192.8 2315.4,1192.6 2317.0,1192.5 2318.5,1192.4 2320.1,1192.2 2321.6,1192.1 2323.2,1191.9 2324.7,1191.8 2326.3,1191.6 2327.8,1191.5 2329.4,1191.4 2331.0,1191.2 2332.5,1191.1 2334.1,1190.9 2335.6,1190.8 2337.2,1190.7 2338.7,1190.5 2340.3,1190.4 2341.8,1190.3 2343.4,1190.2 2344.9,1190.0 2346.5,1189.9 2348.1,1189.8 2349.6,1189.7 2351.2,1189.5 2352.7,1189.4 2354.3,1189.3 2355.8,1189.2 2357.4,1189.1 2358.9,1188.9 2360.5,1188.8"/>
<polyline stroke="#000000" points="184.8,1496.6 186.4,1496.6 187.9,1496.6 189.5,1496.5 191.0,1496.4 192.6,1496.2 194.1,1496.0 195.7,1495.7 197.2,1495.4 198.8,1495.0 200.4,1494.5 201.9,1494.0 203.5,1493.4 205.0,1492.7 206.6,1491.9 208.1,1491.1 209.7,1490.1 211.2,1489.1 212.8,1488.0 214.3,1486.7 215.9,1485.4 217.5,1483.9 219.0,1482.4 220.6,1480.7 222.1,1478.9 223.7,1476.8 225.2,1474.6 226.8,1472.3 228.3,1469.7 229.9,1467.0 231.5,1464.1 233.0,1461.0 234.6,1457.9 236.1,1454.6 237.7,1451.2 239.2,1447.7 240.8,1444.2 242.3,1440.5 243.9,1436.8 245.5,1433.1 247.0,1429.2 248.6,1425.3 250.1,1421.3 251.7,1417.3 253.2,1413.3 254.8,1409.3 256.3,1405.4 257.9,1401.5 259.4,1397.7 261.0,1393.8 262.6,1389.9 264.1,1385.8 265.7,1381.5 267.2,1377.1 268.8,1372.6 270.3,1368.0 271.9,1363.5 273.4,1359.0 275.0,1354.5 276.6,1350.0 278.1,1345.6 279.7,1341.1 281.2,1336.7 282.8,1332.4 284.3,1328.1 285.9,1324.0 287.4,1320.0 289.0,1316.1 290.6,1312.3 292.1,1308.6 293.7,1305.0 295.2,1301.4 296.8,1297.8 298.3,1294.3 299.9,1290.9 301.4,1287.6 303.0,1284.3 304.5,1281.2 306.1,1278.3 307.7,1275.5 309.2,1272.9 310.8,1270.6 312.3,1268.4 313.9,1266.4 315.4,1264.6 317.0,1262.9 318.5,1261.3 320.1,1259.8 321.7,1258.4 323.2,1257.1 324.8,1255.9 326.3,1254.8 327.9,1253.7 329.4,1252.8 331.0,1251.8 332.5,1250.9 334.1,1250.1 335.7,1249.3 337.2,1248.6 338.8,1247.9 340.3,1247.2 341.9,1246.6 343.4,1245.9 345.0,1245.3 346.5,1244.7 348.1,1244.1 349.6,1243.5 351.2,1242.9 352.8,1242.3 354.3,1241.7 355.9,1241.0 357.4,1240.4 359.0,1239.7 360.5,1238.9 362.1,1238.1 363.6,1237.3 365.2,1236.4 366.8,1235.5 368.3,1234.5 369.9,1233.4 371.4,1232.3 373.0,1231.2 374.5,1230.1 376.1,1228.9 377.6,1227.6 379.2,1226.4 380.8,1225.1 382.3,1223.8 383.9,1222.5 385.4,1221.1 387.0,1219.7 388.5,1218.4 390.1,1217.0 391.6,1215.6 393.2,1214.1 394.7,1212.7 396.3,1211.3 397.9,1209.8 399.4,1208.4 401.0,1206.9 402.5,1205.4 404.1,1203.9 405.6,1202.3 407.2,1200.8 408.7,1199.3 410.3,1197.8 411.9,1196.4 413.4,1194.9 415.0,1193.5 416.5,1192.1 418.1,1190.8 419.6,1189.5 421.2,1188.2 422.7,1186.9 424.3,1185.7 425.9,1184.6 427.4,1183.5 429.0,1182.5 430.5,1181.5 432.1,1180.6 433.6,1179.7 435.2,1179.0 436.7,1178.3 438.3,1177.6 439.8,1177.1 441.4,1176.6 443.0,1176.2 444.5,1175.8 446.1,1175.5 447.6,1175.3 449.2,1175.1 450.7,1175.0 452.3,1175.0 453.8,1175.0 455.4,1175.2 457.0,1175.4 458.5,1175.7 460.1,1176.0 461.6,1176.4 463.2,1176.9 464.7,1177.3 466.3,1177.8 467.8,1178.4 469.4,1178.9 471.0,1179.4 472.5,1179.9 474.1,1180.5 475.6,1181.0 477.2,1181.5 478.7,1181.9 480.3,1182.4 481.8,1182.9 483.4,1183.3 485.0,1183.7 486.5,1184.1 488.1,1184.4 489.6,1184.8 491.2,1185.1 492.7,1185.3 494.3,1185.5 495.8,1185.7 497.4,1185.9 498.9,1186.0 500.5,1186.1 502.1,1186.1 503.6,1186.2 505.2,1186.2 506.7,1186.2 508.3,1186.2 509.8,1186.1 511.4,1186.1 512.9,1186.0 514.5,1185.9 516.1,1185.8 517.6,1185.7 519.2,1185.6 520.7,1185.4 522.3,1185.3 523.8,1185.2 525.4,1185.0 526.9,1184.9 528.5,1184.7 530.1,1184.6 531.6,1184.4 533.2,1184.3 534.7,1184.2 536.3,1184.0 537.8,1183.9 539.4,1183.8 540.9,1183.7 542.5,1183.6 544.0,1183.6 545.6,1183.5 547.2,1183.5 548.7,1183.5 550.3,1183.5 551.8,1183.5 553.4,1183.5 554.9,1183.6 556.5,1183.7 558.0,1183.8 559.6,1184.0 561.2,1184.1 562.7,1184.3 564.3,1184.5 565.8,1184.8 567.4,1185.0 568.9,1185.3 570.5,1185.6 572.0,1186.0 573.6,1186.3 575.2,1186.7 576.7,1187.1 578.3,1187.5 579.8,1187.9 581.4,1188.4 582.9,1188.8 584.5,1189.3 586.0,1189.8 587.6,1190.3 589.1,1190.8 590.7,1191.3 592.3,1191.8 593.8,1192.3 595.4,1192.8 596.9,1193.4 598.5,1193.9 600.0,1194.4 601.6,1194.8 603.1,1195.3 604.7,1195.8 606.3,1196.2 607.8,1196.6 609.4,1197.1 610.9,1197.5 612.5,1197.9 614.0,1198.3 615.6,1198.7 617.1,1199.0 618.7,1199.4 620.3,1199.7 621.8,1200.1 623.4,1200.4 624.9,1200.7 626.5,1200.9 628.0,1201.2 629.6,1201.5 631.1,1201.7 632.7,1201.9 634.2,1202.1 635.8,1202.3 637.4,1202.5 638.9,1202.7 640.5,1202.8 642.0,1203.0 643.6,1203.1 645.1,1203.3 646.7,1203.4 648.2,1203.5 649.8,1203.7 651.4,1203.8 652.9,1203.9 654.5,1204.0 656.0,1204.1 657.6,1204.3 659.1,1204.4 660.7,1204.5 662.2,1204.7 663.8,1204.9 665.4,1205.0 666.9,1205.2 668.5,1205.4 670.0,1205.6 671.6,1205.8 673.1,1205.9 674.7,1206.1 676.2,1206.2 677.8,1206.4 679.3,1206.5 680.9,1206.6 682.5,1206.7 684.0,1206.8 685.6,1206.9 687.1,1207.0 688.7,1207.0 690.2,1207.1 691.8,1207.1 693.3,1207.2 694.9,1207.2 696.5,1207.2 698.0,1207.3 699.6,1207.3 701.1,1207.3 702.7,1207.4 704.2,1207.4 705.8,1207.5 707.3,1207.5 708.9,1207.6 710.5,1207.6 712.0,1207.7 713.6,1207.8 715.1,1207.9 716.7,1208.0 718.2,1208.1 719.8,1208.2 721.3,1208.4 722.9,1208.5 724.4,1208.6 726.0,1208.8 727.6,1208.9 729.1,1209.1 730.7,1209.3 732.2,1209.4 733.8,1209.6 735.3,1209.8 736.9,1210.0 738.4,1210.1 740.0,1210.3 741.6,1210.5 743.1,1210.7 744.7,1210.9 746.2,1211.0 747.8,1211.2 749.3,1211.4 750.9,1211.6 752.4,1211.7 754.0,1211.9 755.6,1212.1 757.1,1212.3 758.7,1212.4 760.2,1212.6 761.8,1212.8 763.3,1212.9 764.9,1213.1 766.4,1213.3 768.0,1213.4 769.5,1213.6 771.1,1213.8 772.7,1213.9 774.2,1214.1 775.8,1214.3 777.3,1214.4 778.9,1214.6 780.4,1214.8 782.0,1214.9 783.5,1215.1 785.1,1215.2 786.7,1215.4 788.2,1215.5 789.8,1215.7 791.3,1215.9 792.9,1216.0 794.4,1216.2 796.0,1216.3 797.5,1216.5 799.1,1216.6 800.7,1216.7 802.2,1216.9 803.8,1217.0 805.3,1217.2 806.9,1217.3 808.4,1217.5 810.0,1217.6 811.5,1217.7 813.1,1217.9 814.6,1218.0 816.2,1218.2 817.8,1218.3 819.3,1218.4 820.9,1218.5 822.4,1218.7 824.0,1218.8 825.5,1218.9 827.1,1219.1 828.6,1219.2 830.2,1219.3 831.8,1219.4 833.3,1219.5 834.9,1219.7 836.4,1219.8 838.0,1219.9 839.5,1220.0 841.1,1220.1 842.6,1220.2 844.2,1220.3 845.8,1220.5 847.3,1220.6 848.9,1220.7 850.4,1220.8 852.0,1220.9 853.5,1221.0 855.1,1221.1 856.6,1221.2 858.2,1221.3 859.7,1221.4 861.3,1221.5 862.9,1221.6 864.4,1221.6 866.0,1221.7 867.5,1221.8 869.1,1221.9 870.6,1222.0 872.2,1222.1 873.7,1222.2 875.3,1222.2 876.9,1222.3 878.4,1222.4 880.0,1222.5 881.5,1222.5 883.1,1222.6 884.6,1222.7 886.2,1222.7 887.7,1222.8 889.3,1222.9 890.9,1222.9 892.4,1223.0 894.0,1223.0 895.5,1223.1 897.1,1223.2 898.6,1223.2 900.2,1223.3 901.7,1223.3 903.3,1223.4 904.8,1223.4 906.4,1223.5 908.0,1223.5 909.5,1223.5 911.1,1223.6 912.6,1223.6 914.2,1223.6 915.7,1223.7 917.3,1223.7 918.8,1223.7 920.4,1223.8 922.0,1223.8 923.5,1223.8 925.1,1223.8 926.6,1223.9 928.2,1223.9 929.7,1223.9 931.3,1223.9 932.8,1223.9 934.4,1224.0 936.0,1224.0 937.5,1224.0 939.1,1224.0 940.6,1224.0 942.2,1224.0 943.7,1224.0 945.3,1224.0 946.8,1224.0 948.4,1224.0 949.9,1224.0 951.5,1224.0 953.1,1224.0 954.6,1223.9 956.2,1223.9 957.7,1223.9 959.3,1223.9 960.8,1223.9 962.4,1223.9 963.9,1223.8 965.5,1223.8 967.1,1223.8 968.6,1223.8 970.2,1223.7 971.7,1223.7 973.3,1223.7 974.8,1223.6 976.4,1223.6 977.9,1223.6 979.5,1223.5 981.1,1223.5 982.6,1223.4 984.2,1223.4 985.7,1223.3 987.3,1223.3 988.8,1223.2 990.4,1223.2 991.9,1223.1 993.5,1223.1 995.0,1223.0 996.6,1223.0 998.2,1222.9 999.7,1222.8 1001.3,1222.8 1002.8,1222.7 1004.4,1222.6 1005.9,1222.6 1007.5,1222.5 1009.0,1222.4 1010.6,1222.4 1012.2,1222.3 1013.7,1222.2 1015.3,1222.1 1016.8,1222.0 1018.4,1222.0 1019.9,1221.9 1021.5,1221.8 1023.0,1221.7 1024.6,1221.6 1026.2,1221.5 1027.7,1221.4 1029.3,1221.3 1030.8,1221.2 1032.4,1221.1 1033.9,1221.0 1035.5,1220.9 1037.0,1220.8 1038.6,1220.7 1040.2,1220.6 1041.7,1220.5 1043.3,1220.4 1044.8,1220.3 1046.4,1220.2 1047.9,1220.1 1049.5,1220.0 1051.0,1219.9 1052.6,1219.7 1054.1,1219.6 1055.7,1219.5 1057.3,1219.4 1058.8,1219.3 1060.4,1219.1 1061.9,1219.0 1063.5,1218.9 1065.0,1218.8 1066.6,1218.6 1068.1,1218.5 1069.7,1218.4 1071.3,1218.2 1072.8,1218.1 1074.4,1218.0 1075.9,1217.8 1077.5,1217.7 1079.0,1217.6 1080.6,1217.4 1082.1,1217.3 1083.7,1217.1 1085.3,1217.0 1086.8,1216.8 1088.4,1216.7 1089.9,1216.6 1091.5,1216.4 1093.0,1216.3 1094.6,1216.1 1096.1,1216.0 1097.7,1215.8 1099.2,1215.6 1100.8,1215.5 1102.4,1215.3 1103.9,1215.2 1105.5,1215.0 1107.0,1214.9 1108.6,1214.7 1110.1,1214.5 1111.7,1214.4 1113.2,1214.2 1114.8,1214.1 1116.4,1213.9 1117.9,1213.7 1119.5,1213.6 1121.0,1213.4 1122.6,1213.2 1124.1,1213.1 1125.7,1212.9 1127.2,1212.7 1128.8,1212.5 1130.4,1212.4 1131.9,1212.2 1133.5,1212.0 1135.0,1211.9 1136.6,1211.7 1138.1,1211.5 1139.7,1211.3 1141.2,1211.2 1142.8,1211.0 1144.3,1210.8 1145.9,1210.6 1147.5,1210.4 1149.0,1210.3 1150.6,1210.1 1152.1,1209.9 1153.7,1209.7 1155.2,1209.5 1156.8,1209.4 1158.3,1209.2 1159.9,1209.0 1161.5,1208.8 1163.0,1208.6 1164.6,1208.4 1166.1,1208.3 1167.7,1208.1 1169.2,1207.9 1170.8,1207.7 1172.3,1207.5 1173.9,1207.3 1175.5,1207.1 1177.0,1207.0 1178.6,1206.8 1180.1,1206.6 1181.7,1206.4 1183.2,1206.2 1184.8,1206.0 1186.3,1205.8 1187.9,1205.7 1189.4,1205.5 1191.0,1205.3 1192.6,1205.1 1194.1,1204.9 1195.7,1204.7 1197.2,1204.5 1198.8,1204.3 1200.3,1204.1 1201.9,1204.0 1203.4,1203.8 1205.0,1203.6 1206.6,1203.4 1208.1,1203.2 1209.7,1203.0 1211.2,1202.8 1212.8,1202.6 1214.3,1202.5 1215.9,1202.3 1217.4,1202.1 1219.0,1201.9 1220.6,1201.7 1222.1,1201.5 1223.7,1201.3 1225.2,1201.2 1226.8,1201.0 1228.3,1200.8 1229.9,1200.6 1231.4,1200.4 1233.0,1200.2 1234.5,1200.0 1236.1,1199.9 1237.7,1199.7 1239.2,1199.5 1240.8,1199.3 1242.3,1199.1 1243.9,1199.0 1245.4,1198.8 1247.0,1198.6 1248.5,1198.4 1250.1,1198.2 1251.7,1198.1 1253.2,1197.9 1254.8,1197.7 1256.3,1197.5 1257.9,1197.4 1259.4,1197.2 1261.0,1197.0 1262.5,1196.8 1264.1,1196.7 1265.7,1196.5 1267.2,1196.3 1268.8,1196.2 1270.3,1196.0 1271.9,1195.8 1273.4,1195.6 1275.0,1195.5 1276.5,1195.3 1278.1,1195.1 1279.6,1195.0 1281.2,1194.8 1282.8,1194.7 1284.3,1194.5 1285.9,1194.3 1287.4,1194.2 1289.0,1194.0 1290.5,1193.9 1292.1,1193.7 1293.6,1193.5 1295.2,1193.4 1296.8,1193.2 1298.3,1193.1 1299.9,1192.9 1301.4,1192.8 1303.0,1192.6 1304.5,1192.5 1306.1,1192.3 1307.6,1192.2 1309.2,1192.0 1310.8,1191.9 1312.3,1191.8 1313.9,1191.6 1315.4,1191.5 1317.0,1191.3 1318.5,1191.2 1320.1,1191.1 1321.6,1190.9 1323.2,1190.8 1324.7,1190.7 1326.3,1190.5 1327.9,1190.4 1329.4,1190.3 1331.0,1190.1 1332.5,1190.0 1334.1,1189.9 1335.6,1189.8 1337.2,1189.6 1338.7,1189.5 1340.3,1189.4 1341.9,1189.3 1343.4,1189.2 1345.0,1189.0 1346.5,1188.9 1348.1,1188.8 1349.6,1188.7 1351.2,1188.6 1352.7,1188.5 1354.3,1188.4 1355.9,1188.3 1357.4,1188.2 1359.0,1188.1 1360.5,1188.0 1362.1,1187.9 1363.6,1187.8 1365.2,1187.7 1366.7,1187.6 1368.3,1187.5 1369.8,1187.4 1371.4,1187.3 1373.0,1187.2 1374.5,1187.1 1376.1,1187.1 1377.6,1187.0 1379.2,1186.9 1380.7,1186.8 1382.3,1186.7 1383.8,1186.7 1385.4,1186.6 1387.0,1186.5 1388.5,1186.4 1390.1,1186.4 1391.6,1186.3 1393.2,1186.2 1394.7,1186.2 1396.3,1186.1 1397.8,1186.0 1399.4,1186.0 1401.0,1185.9 1402.5,1185.9 1404.1,1185.8 1405.6,1185.8 1407.2,1185.7 1408.7,1185.7 1410.3,1185.6 1411.8,1185.6 1413.4,1185.5 1414.9,1185.5 1416.5,1185.4 1418.1,1185.4 1419.6,1185.4 1421.2,1185.3 1422.7,1185.3 1424.3,1185.3 1425.8,1185.2 1427.4,1185.2 1428.9,1185.2 1430.5,1185.2 1432.1,1185.1 1433.6,1185.1 1435.2,1185.1 1436.7,1185.1 1438.3,1185.1 1439.8,1185.1 1441.4,1185.0 1442.9,1185.0 1444.5,1185.0 1446.1,1185.0 1447.6,1185.0 1449.2,1185.0 1450.7,1185.0 1452.3,1185.0 1453.8,1185.0 1455.4,1185.0 1456.9,1185.0 1458.5,1185.0 1460.0,1185.0 1461.6,1185.1 1463.2,1185.1 1464.7,1185.1 1466.3,1185.1 1467.8,1185.1 1469.4,1185.1 1470.9,1185.2 1472.5,1185.2 1474.0,1185.2 1475.6,1185.2 1477.2,1185.3 1478.7,1185.3 1480.3,1185.3 1481.8,1185.4 1483.4,1185.4 1484.9,1185.5 1486.5,1185.5 1488.0,1185.5 1489.6,1185.6 1491.2,1185.6 1492.7,1185.7 1494.3,1185.7 1495.8,1185.8 1497.4,1185.8 1498.9,1185.9 1500.5,1185.9 1502.0,1186.0 1503.6,1186.1 1505.1,1186.1 1506.7,1186.2 1508.3,1186.2 1509.8,1186.3 1511.4,1186.4 1512.9,1186.5 1514.5,1186.5 1516.0,1186.6 1517.6,1186.7 1519.1,1186.8 1520.7,1186.8 1522.3,1186.9 1523.8,1187.0 1525.4,1187.1 1526.9,1187.2 1528.5,1187.2 1530.0,1187.3 1531.6,1187.4 1533.1,1187.5 1534.7,1187.6 1536.3,1187.7 1537.8,1187.8 1539.4,1187.9 1540.9,1188.0 1542.5,1188.1 1544.0,1188.2 1545.6,1188.3 1547.1,1188.4 1548.7,1188.5 1550.3,1188.6 1551.8,1188.7 1553.4,1188.8 1554.9,1189.0 1556.5,1189.1 1558.0,1189.2 1559.6,1189.3 1561.1,1189.4 1562.7,1189.5 1564.2,1189.7 1565.8,1189.8 1567.4,1189.9 1568.9,1190.0 1570.5,1190.2 1572.0,1190.3 1573.6,1190.4 1575.1,1190.5 1576.7,1190.7 1578.2,1190.8 1579.8,1190.9 1581.4,1191.1 1582.9,1191.2 1584.5,1191.4 1586.0,1191.5 1587.6,1191.6 1589.1,1191.8 1590.7,1191.9 1592.2,1192.1 1593.8,1192.2 1595.4,1192.4 1596.9,1192.5 1598.5,1192.7 1600.0,1192.8 1601.6,1193.0 1603.1,1193.1 1604.7,1193.3 1606.2,1193.4 1607.8,1193.6 1609.3,1193.7 1610.9,1193.9 1612.5,1194.0 1614.0,1194.2 1615.6,1194.4 1617.1,1194.5 1618.7,1194.7 1620.2,1194.8 1621.8,1195.0 1623.3,1195.2 1624.9,1195.3 1626.5,1195.5 1628.0,1195.7 1629.6,1195.8 1631.1,1196.0 1632.7,1196.2 1634.2,1196.3 1635.8,1196.5 1637.3,1196.7 1638.9,1196.9 1640.5,1197.0 1642.0,1197.2 1643.6,1197.4 1645.1,1197.5 1646.7,1197.7 1648.2,1197.9 1649.8,1198.1 1651.3,1198.3 1652.9,1198.4 1654.4,1198.6 1656.0,1198.8 1657.6,1199.0 1659.1,1199.1 1660.7,1199.3 1662.2,1199.5 1663.8,1199.7 1665.3,1199.9 1666.9,1200.0 1668.4,1200.2 1670.0,1200.4 1671.6,1200.6 1673.1,1200.8 1674.7,1201.0 1676.2,1201.1 1677.8,1201.3 1679.3,1201.5 1680.9,1201.7 1682.4,1201.9 1684.0,1202.1 1685.6,1202.3 1687.1,1202.4 1688.7,1202.6 1690.2,1202.8 1691.8,1203.0 1693.3,1203.2 1694.9,1203.4 1696.4,1203.5 1698.0,1203.7 1699.5,1203.9 1701.1,1204.1 1702.7,1204.3 1704.2,1204.5 1705.8,1204.7 1707.3,1204.8 1708.9,1205.0 1710.4,1205.2 1712.0,1205.4 1713.5,1205.6 1715.1,1205.8 1716.7,1206.0 1718.2,1206.1 1719.8,1206.3 1721.3,1206.5 1722.9,1206.7 1724.4,1206.9 1726.0,1207.1 1727.5,1207.2 1729.1,1207.4 1730.7,1207.6 1732.2,1207.8 1733.8,1208.0 1735.3,1208.2 1736.9,1208.3 1738.4,1208.5 1740.0,1208.7 1741.5,1208.9 1743.1,1209.1 1744.6,1209.2 1746.2,1209.4 1747.8,1209.6 1749.3,1209.8 1750.9,1209.9 1752.4,1210.1 1754.0,1210.3 1755.5,1210.5 1757.1,1210.6 1758.6,1210.8 1760.2,1211.0 1761.8,1211.1 1763.3,1211.3 1764.9,1211.5 1766.4,1211.7 1768.0,1211.8 1769.5,1212.0 1771.1,1212.2 1772.6,1212.3 1774.2,1212.5 1775.8,1212.7 1777.3,1212.8 1778.9,1213.0 1780.4,1213.1 1782.0,1213.3 1783.5,1213.5 1785.1,1213.6 1786.6,1213.8 1788.2,1213.9 1789.7,1214.1 1791.3,1214.2 1792.9,1214.4 1794.4,1214.6 1796.0,1214.7 1797.5,1214.9 1799.1,1215.0 1800.6,1215.2 1802.2,1215.3 1803.7,1215.5 1805.3,1215.6 1806.9,1215.7 1808.4,1215.9 1810.0,1216.0 1811.5,1216.2 1813.1,1216.3 1814.6,1216.4 1816.2,1216.6 1817.7,1216.7 1819.3,1216.9 1820.9,1217.0 1822.4,1217.1 1824.0,1217.2 1825.5,1217.4 1827.1,1217.5 1828.6,1217.6 1830.2,1217.8 1831.7,1217.9 1833.3,1218.0 1834.8,1218.1 1836.4,1218.3 1838.0,1218.4 1839.5,1218.5 1841.1,1218.6 1842.6,1218.7 1844.2,1218.8 1845.7,1218.9 1847.3,1219.1 1848.8,1219.2 1850.4,1219.3 1852.0,1219.4 1853.5,1219.5 1855.1,1219.6 1856.6,1219.7 1858.2,1219.8 1859.7,1219.9 1861.3,1220.0 1862.8,1220.1 1864.4,1220.2 1866.0,1220.3 1867.5,1220.4 1869.1,1220.5 1870.6,1220.5 1872.2,1220.6 1873.7,1220.7 1875.3,1220.8 1876.8,1220.9 1878.4,1221.0 1879.9,1221.0 1881.5,1221.1 1883.1,1221.2 1884.6,1221.3 1886.2,1221.4 1887.7,1221.4 1889.3,1221.5 1890.8,1221.6 1892.4,1221.6 1893.9,1221.7 1895.5,1221.8 1897.1,1221.8 1898.6,1221.9 1900.2,1221.9 1901.7,1222.0 1903.3,1222.1 1904.8,1222.1 1906.4,1222.2 1907.9,1222.2 1909.5,1222.3 1911.1,1222.3 1912.6,1222.4 1914.2,1222.4 1915.7,1222.5 1917.3,1222.5 1918.8,1222.5 1920.4,1222.6 1921.9,1222.6 1923.5,1222.6 1925.0,1222.7 1926.6,1222.7 1928.2,1222.7 1929.7,1222.8 1931.3,1222.8 1932.8,1222.8 1934.4,1222.8 1935.9,1222.9 1937.5,1222.9 1939.0,1222.9 1940.6,1222.9 1942.2,1222.9 1943.7,1223.0 1945.3,1223.0 1946.8,1223.0 1948.4,1223.0 1949.9,1223.0 1951.5,1223.0 1953.0,1223.0 1954.6,1223.0 1956.2,1223.0 1957.7,1223.0 1959.3,1223.0 1960.8,1223.0 1962.4,1223.0 1963.9,1223.0 1965.5,1223.0 1967.0,1223.0 1968.6,1223.0 1970.1,1222.9 1971.7,1222.9 1973.3,1222.9 1974.8,1222.9 1976.4,1222.9 1977.9,1222.9 1979.5,1222.8 1981.0,1222.8 1982.6,1222.8 1984.1,1222.8 1985.7,1222.7 1987.3,1222.7 1988.8,1222.7 1990.4,1222.6 1991.9,1222.6 1993.5,1222.5 1995.0,1222.5 1996.6,1222.5 1998.1,1222.4 1999.7,1222.4 2001.3,1222.3 2002.8,1222.3 2004.4,1222.2 2005.9,1222.2 2007.5,1222.1 2009.0,1222.1 2010.6,1222.0 2012.1,1222.0 2013.7,1221.9 2015.2,1221.8 2016.8,1221.8 2018.4,1221.7 2019.9,1221.7 2021.5,1221.6 2023.0,1221.5 2024.6,1221.5 2026.1,1221.4 2027.7,1221.3 2029.2,1221.2 2030.8,1221.2 2032.4,1221.1 2033.9,1221.0 2035.5,1220.9 2037.0,1220.8 2038.6,1220.8 2040.1,1220.7 2041.7,1220.6 2043.2,1220.5 2044.8,1220.4 2046.4,1220.3 2047.9,1220.2 2049.5,1220.1 2051.0,1220.0 2052.6,1219.9 2054.1,1219.8 2055.7,1219.7 2057.2,1219.6 2058.8,1219.5 2060.3,1219.4 2061.9,1219.3 2063.5,1219.2 2065.0,1219.1 2066.6,1219.0 2068.1,1218.9 2069.7,1218.8 2071.2,1218.7 2072.8,1218.5 2074.3,1218.4 2075.9,1218.3 2077.5,1218.2 2079.0,1218.1 2080.6,1218.0 2082.1,1217.8 2083.7,1217.7 2085.2,1217.6 2086.8,1217.5 2088.3,1217.3 2089.9,1217.2 2091.5,1217.1 2093.0,1216.9 2094.6,1216.8 2096.1,1216.7 2097.7,1216.5 2099.2,1216.4 2100.8,1216.3 2102.3,1216.1 2103.9,1216.0 2105.5,1215.8 2107.0,1215.7 2108.6,1215.5 2110.1,1215.4 2111.7,1215.3 2113.2,1215.1 2114.8,1215.0 2116.3,1214.8 2117.9,1214.7 2119.4,1214.5 2121.0,1214.4 2122.6,1214.2 2124.1,1214.0 2125.7,1213.9 2127.2,1213.7 2128.8,1213.6 2130.3,1213.4 2131.9,1213.3 2133.4,1213.1 2135.0,1212.9 2136.6,1212.8 2138.1,1212.6 2139.7,1212.4 2141.2,1212.3 2142.8,1212.1 2144.3,1211.9 2145.9,1211.8 2147.4,1211.6 2149.0,1211.4 2150.6,1211.3 2152.1,1211.1 2153.7,1210.9 2155.2,1210.8 2156.8,1210.6 2158.3,1210.4 2159.9,1210.2 2161.4,1210.1 2163.0,1209.9 2164.5,1209.7 2166.1,1209.5 2167.7,1209.4 2169.2,1209.2 2170.8,1209.0 2172.3,1208.8 2173.9,1208.7 2175.4,1208.5 2177.0,1208.3 2178.5,1208.1 2180.1,1207.9 2181.7,1207.8 2183.2,1207.6 2184.8,1207.4 2186.3,1207.2 2187.9,1207.0 2189.4,1206.8 2191.0,1206.7 2192.5,1206.5 2194.1,1206.3 2195.7,1206.1 2197.2,1205.9 2198.8,1205.7 2200.3,1205.6 2201.9,1205.4 2203.4,1205.2 2205.0,1205.0 2206.5,1204.8 2208.1,1204.6 2209.6,1204.5 2211.2,1204.3 2212.8,1204.1 2214.3,1203.9 2215.9,1203.7 2217.4,1203.5 2219.0,1203.3 2220.5,1203.2 2222.1,1203.0 2223.6,1202.8 2225.2,1202.6 2226.8,1202.4 2228.3,1202.2 2229.9,1202.0 2231.4,1201.9 2233.0,1201.7 2234.5,1201.5 2236.1,1201.3 2237.6,1201.1 2239.2,1200.9 2240.8,1200.8 2242.3,1200.6 2243.9,1200.4 2245.4,1200.2 2247.0,1200.0 2248.5,1199.8 2250.1,1199.7 2251.6,1199.5 2253.2,1199.3 2254.7,1199.1 2256.3,1198.9 2257.9,1198.8 2259.4,1198.6 2261.0,1198.4 2262.5,1198.2 2264.1,1198.1 2265.6,1197.9 2267.2,1197.7 2268.7,1197.5 2270.3,1197.4 2271.9,1197.2 2273.4,1197.0 2275.0,1196.8 2276.5,1196.7 2278.1,1196.5 2279.6,1196.3 2281.2,1196.2 2282.7,1196.0 2284.3,1195.8 2285.9,1195.6 2287.4,1195.5 2289.0,1195.3 2290.5,1195.2 2292.1,1195.0 2293.6,1194.8 2295.2,1194.7 2296.7,1194.5 2298.3,1194.3 2299.8,1194.2 2301.4,1194.0 2303.0,1193.9 2304.5,1193.7 2306.1,1193.6 2307.6,1193.4 2309.2,1193.2 2310.7,1193.1 2312.3,1192.9 2313.8,1192.8 2315.4,1192.6 2317.0,1192.5 2318.5,1192.3 2320.1,1192.2 2321.6,1192.1 2323.2,1191.9 2324.7,1191.8 2326.3,1191.6 2327.8,1191.5 2329.4,1191.3 2331.0,1191.2 2332.5,1191.1 2334.1,1190.9 2335.6,1190.8 2337.2,1190.7 2338.7,1190.5 2340.3,1190.4 2341.8,1190.3 2343.4,1190.1 2344.9,1190.0 2346.5,1189.9 2348.1,1189.8 2349.6,1189.7 2351.2,1189.5 2352.7,1189.4 2354.3,1189.3 2355.8,1189.2 2357.4,1189.1 2358.9,1188.9 2360.5,1188.8"/>
<polyline stroke="#ff0000" points="184.8,1204.5 186.4,1204.5 187.9,1204.5 189.5,1204.5 191.0,1204.5 192.6,1204.4 194.1,1204.4 195.7,1204.3 197.2,1204.3 198.8,1204.2 200.4,1204.1 201.9,1204.0 203.5,1203.8 205.0,1203.7 206.6,1203.5 208.1,1203.4 209.7,1203.2 211.2,1203.0 212.8,1202.8 214.3,1202.6 215.9,1202.4 217.5,1202.2 219.0,1202.0 220.6,1201.8 222.1,1201.6 223.7,1201.4 225.2,1201.1 226.8,1200.9 228.3,1200.7 229.9,1200.5 231.5,1200.3 233.0,1200.1 234.6,1199.9 236.1,1199.7 237.7,1199.5 239.2,1199.3 240.8,1199.1 242.3,1198.9 243.9,1198.7 245.5,1198.5 247.0,1198.2 248.6,1198.0 250.1,1197.8 251.7,1197.6 253.2,1197.4 254.8,1197.2 256.3,1197.0 257.9,1196.8 259.4,1196.6 261.0,1196.4 262.6,1196.2 264.1,1196.0 265.7,1195.8 267.2,1195.7 268.8,1195.5 270.3,1195.3 271.9,1195.1 273.4,1195.0 275.0,1194.8 276.6,1194.6 278.1,1194.4 279.7,1194.3 281.2,1194.1 282.8,1193.9 284.3,1193.8 285.9,1193.6 287.4,1193.4 289.0,1193.3 290.6,1193.1 292.1,1192.9 293.7,1192.8 295.2,1192.6 296.8,1192.4 298.3,1192.3 299.9,1192.1 301.4,1191.9 303.0,1191.8 304.5,1191.6 306.1,1191.5 307.7,1191.3 309.2,1191.2 310.8,1191.0 312.3,1190.9 313.9,1190.8 315.4,1190.6 317.0,1190.5 318.5,1190.3 320.1,1190.2 321.7,1190.1 323.2,1190.0 324.8,1189.8 326.3,1189.7 327.9,1189.6 329.4,1189.4 331.0,1189.3 332.5,1189.2 334.1,1189.1 335.7,1189.0 337.2,1188.9 338.8,1188.7 340.3,1188.6 341.9,1188.5 343.4,1188.4 345.0,1188.3 346.5,1188.2 348.1,1188.1 349.6,1188.0 351.2,1187.9 352.8,1187.8 354.3,1187.7 355.9,1187.6 357.4,1187.5 359.0,1187.4 360.5,1187.3 362.1,1187.2 363.6,1187.1 365.2,1187.0 366.8,1187.0 368.3,1186.9 369.9,1186.8 371.4,1186.7 373.0,1186.6 374.5,1186.6 376.1,1186.5 377.6,1186.4 379.2,1186.3 380.8,1186.3 382.3,1186.2 383.9,1186.1 385.4,1186.1 387.0,1186.0 388.5,1185.9 390.1,1185.9 391.6,1185.8 393.2,1185.8 394.7,1185.7 396.3,1185.7 397.9,1185.6 399.4,1185.6 401.0,1185.5 402.5,1185.5 404.1,1185.4 405.6,1185.4 407.2,1185.4 408.7,1185.3 410.3,1185.3 411.9,1185.3 413.4,1185.2 415.0,1185.2 416.5,1185.2 418.1,1185.2 419.6,1185.1 421.2,1185.1 422.7,1185.1 424.3,1185.1 425.9,1185.1 427.4,1185.1 429.0,1185.0 430.5,1185.0 432.1,1185.0 433.6,1185.0 435.2,1185.0 436.7,1185.0 438.3,1185.0 439.8,1185.0 441.4,1185.0 443.0,1185.0 444.5,1185.0 446.1,1185.0 447.6,1185.0 449.2,1185.1 450.7,1185.1 452.3,1185.1 453.8,1185.1 455.4,1185.1 457.0,1185.1 458.5,1185.2 460.1,1185.2 461.6,1185.2 463.2,1185.3 464.7,1185.3 466.3,1185.3 467.8,1185.3 469.4,1185.4 471.0,1185.4 472.5,1185.5 474.1,1185.5 475.6,1185.5 477.2,1185.6 478.7,1185.6 480.3,1185.7 481.8,1185.7 483.4,1185.8 485.0,1185.8 486.5,1185.9 488.1,1185.9 489.6,1186.0 491.2,1186.1 492.7,1186.1 494.3,1186.2 495.8,1186.3 497.4,1186.3 498.9,1186.4 500.5,1186.5 502.1,1186.5 503.6,1186.6 505.2,1186.7 506.7,1186.8 508.3,1186.8 509.8,1186.9 511.4,1187.0 512.9,1187.1 514.5,1187.2 516.1,1187.3 517.6,1187.3 519.2,1187.4 520.7,1187.5 522.3,1187.6 523.8,1187.7 525.4,1187.8 526.9,1187.9 528.5,1188.0 530.1,1188.1 531.6,1188.2 533.2,1188.3 534.7,1188.4 536.3,1188.5 537.8,1188.6 539.4,1188.7 540.9,1188.9 542.5,1189.0 544.0,1189.1 545.6,1189.2 547.2,1189.3 548.7,1189.4 550.3,1189.6 551.8,1189.7 553.4,1189.8 554.9,1189.9 556.5,1190.1 558.0,1190.2 559.6,1190.3 561.2,1190.4 562.7,1190.6 564.3,1190.7 565.8,1190.8 567.4,1191.0 568.9,1191.1 570.5,1191.2 572.0,1191.4 573.6,1191.5 575.2,1191.7 576.7,1191.8 578.3,1191.9 579.8,1192.1 581.4,1192.2 582.9,1192.4 584.5,1192.5 586.0,1192.7 587.6,1192.8 589.1,1193.0 590.7,1193.1 592.3,1193.3 593.8,1193.4 595.4,1193.6 596.9,1193.7 598.5,1193.9 600.0,1194.1 601.6,1194.2 603.1,1194.4 604.7,1194.5 606.3,1194.7 607.8,1194.9 609.4,1195.0 610.9,1195.2 612.5,1195.4 614.0,1195.5 615.6,1195.7 617.1,1195.9 618.7,1196.0 620.3,1196.2 621.8,1196.4 623.4,1196.5 624.9,1196.7 626.5,1196.9 628.0,1197.1 629.6,1197.2 631.1,1197.4 632.7,1197.6 634.2,1197.8 635.8,1197.9 637.4,1198.1 638.9,1198.3 640.5,1198.5 642.0,1198.7 643.6,1198.8 645.1,1199.0 646.7,1199.2 648.2,1199.4 649.8,1199.6 651.4,1199.7 652.9,1199.9 654.5,1200.1 656.0,1200.3 657.6,1200.5 659.1,1200.7 660.7,1200.8 662.2,1201.0 663.8,1201.2 665.4,1201.4 666.9,1201.6 668.5,1201.8 670.0,1202.0 671.6,1202.1 673.1,1202.3 674.7,1202.5 676.2,1202.7 677.8,1202.9 679.3,1203.1 680.9,1203.3 682.5,1203.5 684.0,1203.6 685.6,1203.8 687.1,1204.0 688.7,1204.2 690.2,1204.4 691.8,1204.6 693.3,1204.8 694.9,1205.0 696.5,1205.1 698.0,1205.3 699.6,1205.5 701.1,1205.7 702.7,1205.9 704.2,1206.1 705.8,1206.3 707.3,1206.5 708.9,1206.6 710.5,1206.8 712.0,1207.0 713.6,1207.2 715.1,1207.4 716.7,1207.6 718.2,1207.8 719.8,1207.9 721.3,1208.1 722.9,1208.3 724.4,1208.5 726.0,1208.7 727.6,1208.9 729.1,1209.1 730.7,1209.2 732.2,1209.4 733.8,1209.6 735.3,1209.8 736.9,1210.0 738.4,1210.1 740.0,1210.3 741.6,1210.5 743.1,1210.7 744.7,1210.9 746.2,1211.0 747.8,1211.2 749.3,1211.4 750.9,1211.6 752.4,1211.7 754.0,1211.9 755.6,1212.1 757.1,1212.3 758.7,1212.4 760.2,1212.6 761.8,1212.8 763.3,1212.9 764.9,1213.1 766.4,1213.3 768.0,1213.4 769.5,1213.6 771.1,1213.8 772.7,1213.9 774.2,1214.1 775.8,1214.3 777.3,1214.4 778.9,1214.6 780.4,1214.8 782.0,1214.9 783.5,1215.1 785.1,1215.2 786.7,1215.4 788.2,1215.5 789.8,1215.7 791.3,1215.9 792.9,1216.0 794.4,1216.2 796.0,1216.3 797.5,1216.5 799.1,1216.6 800.7,1216.7 802.2,1216.9 803.8,1217.0 805.3,1217.2 806.9,1217.3 808.4,1217.5 810.0,1217.6 811.5,1217.7 813.1,1217.9 814.6,1218.0 816.2,1218.2 817.8,1218.3 819.3,1218.4 820.9,1218.5 822.4,1218.7 824.0,1218.8 825.5,1218.9 827.1,1219.1 828.6,1219.2 830.2,1219.3 831.8,1219.4 833.3,1219.5 834.9,1219.7 836.4,1219.8 838.0,1219.9 839.5,1220.0 841.1,1220.1 842.6,1220.2 844.2,1220.3 845.8,1220.5 847.3,1220.6 848.9,1220.7 850.4,1220.8 852.0,1220.9 853.5,1221.0 855.1,1221.1 856.6,1221.2 858.2,1221.3 859.7,1221.4 861.3,1221.5 862.9,1221.6 864.4,1221.6 866.0,1221.7 867.5,1221.8 869.1,1221.9 870.6,1222.0 872.2,1222.1 873.7,1222.2 875.3,1222.2 876.9,1222.3 878.4,1222.4 880.0,1222.5 881.5,1222.5 883.1,1222.6 884.6,1222.7 886.2,1222.7 887.7,1222.8 889.3,1222.9 890.9,1222.9 892.4,1223.0 894.0,1223.0 895.5,1223.1 897.1,1223.2 898.6,1223.2 900.2,1223.3 901.7,1223.3 903.3,1223.4 904.8,1223.4 906.4,1223.5 908.0,1223.5 909.5,1223.5 911.1,1223.6 912.6,1223.6 914.2,1223.6 915.7,1223.7 917.3,1223.7 918.8,1223.7 920.4,1223.8 922.0,1223.8 923.5,1223.8 925.1,1223.8 926.6,1223.9 928.2,1223.9 929.7,1223.9 931.3,1223.9 932.8,1223.9 934.4,1224.0 936.0,1224.0 937.5,1224.0 939.1,1224.0 940.6,1224.0 942.2,1224.0 943.7,1224.0 945.3,1224.0 946.8,1224.0 948.4,1224.0 949.9,1224.0 951.5,1224.0 953.1,1224.0 954.6,1223.9 956.2,1223.9 957.7,1223.9 959.3,1223.9 960.8,1223.9 962.4,1223.9 963.9,1223.8 965.5,1223.8 967.1,1223.8 968.6,1223.8 970.2,1223.7 971.7,1223.7 973.3,1223.7 974.8,1223.6 976.4,1223.6 977.9,1223.6 979.5,1223.5 981.1,1223.5 982.6,1223.4 984.2,1223.4 985.7,1223.3 987.3,1223.3 988.8,1223.2 990.4,1223.2 991.9,1223.1 993.5,1223.1 995.0,1223.0 996.6,1223.0 998.2,1222.9 999.7,1222.8 1001.3,1222.8 1002.8,1222.7 1004.4,1222.6 1005.9,1222.6 1007.5,1222.5 1009.0,1222.4 1010.6,1222.4 1012.2,1222.3 1013.7,1222.2 1015.3,1222.1 1016.8,1222.0 1018.4,1222.0 1019.9,1221.9 1021.5,1221.8 1023.0,1221.7 1024.6,1221.6 1026.2,1221.5 1027.7,1221.4 1029.3,1221.3 1030.8,1221.2 1032.4,1221.1 1033.9,1221.0 1035.5,1220.9 1037.0,1220.8 1038.6,1220.7 1040.2,1220.6 1041.7,1220.5 1043.3,1220.4 1044.8,1220.3 1046.4,1220.2 1047.9,1220.1 1049.5,1220.0 1051.0,1219.9 1052.6,1219.7 1054.1,1219.6 1055.7,1219.5 1057.3,1219.4 1058.8,1219.3 1060.4,1219.1 1061.9,1219.0 1063.5,1218.9 1065.0,1218.8 1066.6,1218.6 1068.1,1218.5 1069.7,1218.4 1071.3,1218.2 1072.8,1218.1 1074.4,1218.0 1075.9,1217.8 1077.5,1217.7 1079.0,1217.6 1080.6,1217.4 1082.1,1217.3 1083.7,1217.1 1085.3,1217.0 1086.8,1216.8 1088.4,1216.7 1089.9,1216.6 1091.5,1216.4 1093.0,1216.3 1094.6,1216.1 1096.1,1216.0 1097.7,1215.8 1099.2,1215.6 1100.8,1215.5 1102.4,1215.3 1103.9,1215.2 1105.5,1215.0 1107.0,1214.9 1108.6,1214.7 1110.1,1214.5 1111.7,1214.4 1113.2,1214.2 1114.8,1214.1 1116.4,1213.9 1117.9,1213.7 1119.5,1213.6 1121.0,1213.4 1122.6,1213.2 1124.1,1213.1 1125.7,1212.9 1127.2,1212.7 1128.8,1212.5 1130.4,1212.4 1131.9,1212.2 1133.5,1212.0 1135.0,1211.9 1136.6,1211.7 1138.1,1211.5 1139.7,1211.3 1141.2,1211.2 1142.8,1211.0 1144.3,1210.8 1145.9,1210.6 1147.5,1210.4 1149.0,1210.3 1150.6,1210.1 1152.1,1209.9 1153.7,1209.7 1155.2,1209.5 1156.8,1209.4 1158.3,1209.2 1159.9,1209.0 1161.5,1208.8 1163.0,1208.6 1164.6,1208.4 1166.1,1208.3 1167.7,1208.1 1169.2,1207.9 1170.8,1207.7 1172.3,1207.5 1173.9,1207.3 1175.5,1207.1 1177.0,1207.0 1178.6,1206.8 1180.1,1206.6 1181.7,1206.4 1183.2,1206.2 1184.8,1206.0 1186.3,1205.8 1187.9,1205.7 1189.4,1205.5 1191.0,1205.3 1192.6,1205.1 1194.1,1204.9 1195.7,1204.7 1197.2,1204.5 1198.8,1204.3 1200.3,1204.1 1201.9,1204.0 1203.4,1203.8 1205.0,1203.6 1206.6,1203.4 1208.1,1203.2 1209.7,1203.0 1211.2,1202.8 1212.8,1202.6 1214.3,1202.5 1215.9,1202.3 1217.4,1202.1 1219.0,1201.9 1220.6,1201.7 1222.1,1201.5 1223.7,1201.3 1225.2,1201.2 1226.8,1201.0 1228.3,1200.8 1229.9,1200.6 1231.4,1200.4 1233.0,1200.2 1234.5,1200.0 1236.1,1199.9 1237.7,1199.7 1239.2,1199.5 1240.8,1199.3 1242.3,1199.1 1243.9,1199.0 1245.4,1198.8 1247.0,1198.6 1248.5,1198.4 1250.1,1198.2 1251.7,1198.1 1253.2,1197.9 1254.8,1197.7 1256.3,1197.5 1257.9,1197.4 1259.4,1197.2 1261.0,1197.0 1262.5,1196.8 1264.1,1196.7 1265.7,1196.5 1267.2,1196.3 1268.8,1196.2 1270.3,1196.0 1271.9,1195.8 1273.4,1195.6 1275.0,1195.5 1276.5,1195.3 1278.1,1195.1 1279.6,1195.0 1281.2,1194.8 1282.8,1194.7 1284.3,1194.5 1285.9,1194.3 1287.4,1194.2 1289.0,1194.0 1290.5,1193.9 1292.1,1193.7 1293.6,1193.5 1295.2,1193.4 1296.8,1193.2 1298.3,1193.1 1299.9,1192.9 1301.4,1192.8 1303.0,1192.6 1304.5,1192.5 1306.1,1192.3 1307.6,1192.2 1309.2,1192.0 1310.8,1191.9 1312.3,1191.8 1313.9,1191.6 1315.4,1191.5 1317.0,1191.3 1318.5,1191.2 1320.1,1191.1 1321.6,1190.9 1323.2,1190.8 1324.7,1190.7 1326.3,1190.5 1327.9,1190.4 1329.4,1190.3 1331.0,1190.1 1332.5,1190.0 1334.1,1189.9 1335.6,1189.8 1337.2,1189.6 1338.7,1189.5 1340.3,1189.4 1341.9,1189.3 1343.4,1189.2 1345.0,1189.0 1346.5,1188.9 1348.1,1188.8 1349.6,1188.7 1351.2,1188.6 1352.7,1188.5 1354.3,1188.4 1355.9,1188.3 1357.4,1188.2 1359.0,1188.1 1360.5,1188.0 1362.1,1187.9 1363.6,1187.8 1365.2,1187.7 1366.7,1187.6 1368.3,1187.5 1369.8,1187.4 1371.4,1187.3 1373.0,1187.2 1374.5,1187.1 1376.1,1187.1 1377.6,1187.0 1379.2,1186.9 1380.7,1186.8 1382.3,1186.7 1383.8,1186.7 1385.4,1186.6 1387.0,1186.5 1388.5,1186.4 1390.1,1186.4 1391.6,1186.3 1393.2,1186.2 1394.7,1186.2 1396.3,1186.1 1397.8,1186.0 1399.4,1186.0 1401.0,1185.9 1402.5,1185.9 1404.1,1185.8 1405.6,1185.8 1407.2,1185.7 1408.7,1185.7 1410.3,1185.6 1411.8,1185.6 1413.4,1185.5 1414.9,1185.5 1416.5,1185.4 1418.1,1185.4 1419.6,1185.4 1421.2,1185.3 1422.7,1185.3 1424.3,1185.3 1425.8,1185.2 1427.4,1185.2 1428.9,1185.2 1430.5,1185.2 1432.1,1185.1 1433.6,1185.1 1435.2,1185.1 1436.7,1185.1 1438.3,1185.1 1439.8,1185.1 1441.4,1185.0 1442.9,1185.0 1444.5,1185.0 1446.1,1185.0 1447.6,1185.0 1449.2,1185.0 1450.7,1185.0 1452.3,1185.0 1453.8,1185.0 1455.4,1185.0 1456.9,1185.0 1458.5,1185.0 1460.0,1185.0 1461.6,1185.1 1463.2,1185.1 1464.7,1185.1 1466.3,1185.1 1467.8,1185.1 1469.4,1185.1 1470.9,1185.2 1472.5,1185.2 1474.0,1185.2 1475.6,1185.2 1477.2,1185.3 1478.7,1185.3 1480.3,1185.3 1481.8,1185.4 1483.4,1185.4 1484.9,1185.5 1486.5,1185.5 1488.0,1185.5 1489.6,1185.6 1491.2,1185.6 1492.7,1185.7 1494.3,1185.7 1495.8,1185.8 1497.4,1185.8 1498.9,1185.9 1500.5,1185.9 1502.0,1186.0 1503.6,1186.1 1505.1,1186.1 1506.7,1186.2 1508.3,1186.2 1509.8,1186.3 1511.4,1186.4 1512.9,1186.5 1514.5,1186.5 1516.0,1186.6 1517.6,1186.7 1519.1,1186.8 1520.7,1186.8 1522.3,1186.9 1523.8,1187.0 1525.4,1187.1 1526.9,1187.2 1528.5,1187.2 1530.0,1187.3 1531.6,1187.4 1533.1,1187.5 1534.7,1187.6 1536.3,1187.7 1537.8,1187.8 1539.4,1187.9 1540.9,1188.0 1542.5,1188.1 1544.0,1188.2 1545.6,1188.3 1547.1,1188.4 1548.7,1188.5 1550.3,1188.6 1551.8,1188.7 1553.4,1188.8 1554.9,1189.0 1556.5,1189.1 1558.0,1189.2 1559.6,1189.3 1561.1,1189.4 1562.7,1189.5 1564.2,1189.7 1565.8,1189.8 1567.4,1189.9 1568.9,1190.0 1570.5,1190.2 1572.0,1190.3 1573.6,1190.4 1575.1,1190.5 1576.7,1190.7 1578.2,1190.8 1579.8,1190.9 1581.4,1191.1 1582.9,1191.2 1584.5,1191.4 1586.0,1191.5 1587.6,1191.6 1589.1,1191.8 1590.7,1191.9 1592.2,1192.1 1593.8,1192.2 1595.4,1192.4 1596.9,1192.5 1598.5,1192.7 1600.0,1192.8 1601.6,1193.0 1603.1,1193.1 1604.7,1193.3 1606.2,1193.4 1607.8,1193.6 1609.3,1193.7 1610.9,1193.9 1612.5,1194.0 1614.0,1194.2 1615.6,1194.4 1617.1,1194.5 1618.7,1194.7 1620.2,1194.9 1621.8,1195.0 1623.3,1195.2 1624.9,1195.3 1626.5,1195.5 1628.0,1195.7 1629.6,1195.8 1631.1,1196.0 1632.7,1196.2 1634.2,1196.4 1635.8,1196.5 1637.3,1196.7 1638.9,1196.9 1640.5,1197.0 1642.0,1197.2 1643.6,1197.4 1645.1,1197.6 1646.7,1197.7 1648.2,1197.9 1649.8,1198.1 1651.3,1198.3 1652.9,1198.5 1654.4,1198.6 1656.0,1198.8 1657.6,1199.0 1659.1,1199.2 1660.7,1199.4 1662.2,1199.5 1663.8,1199.7 1665.3,1199.9 1666.9,1200.1 1668.4,1200.3 1670.0,1200.5 1671.6,1200.6 1673.1,1200.8 1674.7,1201.0 1676.2,1201.2 1677.8,1201.4 1679.3,1201.6 1680.9,1201.7 1682.4,1201.9 1684.0,1202.1 1685.6,1202.3 1687.1,1202.5 1688.7,1202.7 1690.2,1202.9 1691.8,1203.1 1693.3,1203.2 1694.9,1203.4 1696.4,1203.6 1698.0,1203.8 1699.5,1204.0 1701.1,1204.2 1702.7,1204.4 1704.2,1204.6 1705.8,1204.7 1707.3,1204.9 1708.9,1205.1 1710.4,1205.3 1712.0,1205.5 1713.5,1205.7 1715.1,1205.9 1716.7,1206.1 1718.2,1206.2 1719.8,1206.4 1721.3,1206.6 1722.9,1206.8 1724.4,1207.0 1726.0,1207.2 1727.5,1207.4 1729.1,1207.6 1730.7,1207.7 1732.2,1207.9 1733.8,1208.1 1735.3,1208.3 1736.9,1208.5 1738.4,1208.7 1740.0,1208.8 1741.5,1209.0 1743.1,1209.2 1744.6,1209.4 1746.2,1209.6 1747.8,1209.8 1749.3,1209.9 1750.9,1210.1 1752.4,1210.3 1754.0,1210.5 1755.5,1210.7 1757.1,1210.8 1758.6,1211.0 1760.2,1211.2 1761.8,1211.4 1763.3,1211.5 1764.9,1211.7 1766.4,1211.9 1768.0,1212.1 1769.5,1212.2 1771.1,1212.4 1772.6,1212.6 1774.2,1212.8 1775.8,1212.9 1777.3,1213.1 1778.9,1213.3 1780.4,1213.4 1782.0,1213.6 1783.5,1213.8 1785.1,1213.9 1786.6,1214.1 1788.2,1214.3 1789.7,1214.4 1791.3,1214.6 1792.9,1214.7 1794.4,1214.9 1796.0,1215.1 1797.5,1215.2 1799.1,1215.4 1800.6,1215.5 1802.2,1215.7 1803.7,1215.8 1805.3,1216.0 1806.9,1216.1 1808.4,1216.3 1810.0,1216.4 1811.5,1216.6 1813.1,1216.7 1814.6,1216.9 1816.2,1217.0 1817.7,1217.2 1819.3,1217.3 1820.9,1217.4 1822.4,1217.6 1824.0,1217.7 1825.5,1217.9 1827.1,1218.0 1828.6,1218.1 1830.2,1218.3 1831.7,1218.4 1833.3,1218.5 1834.8,1218.7 1836.4,1218.8 1838.0,1218.9 1839.5,1219.0 1841.1,1219.2 1842.6,1219.3 1844.2,1219.4 1845.7,1219.5 1847.3,1219.7 1848.8,1219.8 1850.4,1219.9 1852.0,1220.0 1853.5,1220.1 1855.1,1220.2 1856.6,1220.3 1858.2,1220.4 1859.7,1220.6 1861.3,1220.7 1862.8,1220.8 1864.4,1220.9 1866.0,1221.0 1867.5,1221.1 1869.1,1221.2 1870.6,1221.3 1872.2,1221.4 1873.7,1221.5 1875.3,1221.5 1876.8,1221.6 1878.4,1221.7 1879.9,1221.8 1881.5,1221.9 1883.1,1222.0 1884.6,1222.1 1886.2,1222.1 1887.7,1222.2 1889.3,1222.3 1890.8,1222.4 1892.4,1222.4 1893.9,1222.5 1895.5,1222.6 1897.1,1222.7 1898.6,1222.7 1900.2,1222.8 1901.7,1222.9 1903.3,1222.9 1904.8,1223.0 1906.4,1223.0 1907.9,1223.1 1909.5,1223.2 1911.1,1223.2 1912.6,1223.3 1914.2,1223.3 1915.7,1223.4 1917.3,1223.4 1918.8,1223.4 1920.4,1223.5 1921.9,1223.5 1923.5,1223.6 1925.0,1223.6 1926.6,1223.6 1928.2,1223.7 1929.7,1223.7 1931.3,1223.7 1932.8,1223.8 1934.4,1223.8 1935.9,1223.8 1937.5,1223.8 1939.0,1223.9 1940.6,1223.9 1942.2,1223.9 1943.7,1223.9 1945.3,1223.9 1946.8,1223.9 1948.4,1224.0 1949.9,1224.0 1951.5,1224.0 1953.0,1224.0 1954.6,1224.0 1956.2,1224.0 1957.7,1224.0 1959.3,1224.0 1960.8,1224.0 1962.4,1224.0 1963.9,1224.0 1965.5,1224.0 1967.0,1223.9 1968.6,1223.9 1970.1,1223.9 1971.7,1223.9 1973.3,1223.9 1974.8,1223.9 1976.4,1223.8 1977.9,1223.8 1979.5,1223.8 1981.0,1223.8 1982.6,1223.7 1984.1,1223.7 1985.7,1223.7 1987.3,1223.6 1988.8,1223.6 1990.4,1223.6 1991.9,1223.5 1993.5,1223.5 1995.0,1223.4 1996.6,1223.4 1998.1,1223.4 1999.7,1223.3 2001.3,1223.3 2002.8,1223.2 2004.4,1223.1 2005.9,1223.1 2007.5,1223.0 2009.0,1223.0 2010.6,1222.9 2012.1,1222.9 2013.7,1222.8 2015.2,1222.7 2016.8,1222.7 2018.4,1222.6 2019.9,1222.5 2021.5,1222.4 2023.0,1222.4 2024.6,1222.3 2026.1,1222.2 2027.7,1222.1 2029.2,1222.1 2030.8,1222.0 2032.4,1221.9 2033.9,1221.8 2035.5,1221.7 2037.0,1221.6 2038.6,1221.5 2040.1,1221.4 2041.7,1221.4 2043.2,1221.3 2044.8,1221.2 2046.4,1221.1 2047.9,1221.0 2049.5,1220.9 2051.0,1220.8 2052.6,1220.7 2054.1,1220.5 2055.7,1220.4 2057.2,1220.3 2058.8,1220.2 2060.3,1220.1 2061.9,1220.0 2063.5,1219.9 2065.0,1219.8 2066.6,1219.6 2068.1,1219.5 2069.7,1219.4 2071.2,1219.3 2072.8,1219.2 2074.3,1219.0 2075.9,1218.9 2077.5,1218.8 2079.0,1218.7 2080.6,1218.5 2082.1,1218.4 2083.7,1218.3 2085.2,1218.1 2086.8,1218.0 2088.3,1217.9 2089.9,1217.7 2091.5,1217.6 2093.0,1217.4 2094.6,1217.3 2096.1,1217.2 2097.7,1217.0 2099.2,1216.9 2100.8,1216.7 2102.3,1216.6 2103.9,1216.4 2105.5,1216.3 2107.0,1216.1 2108.6,1216.0 2110.1,1215.8 2111.7,1215.7 2113.2,1215.5 2114.8,1215.4 2116.3,1215.2 2117.9,1215.0 2119.4,1214.9 2121.0,1214.7 2122.6,1214.6 2124.1,1214.4 2125.7,1214.2 2127.2,1214.1 2128.8,1213.9 2130.3,1213.7 2131.9,1213.6 2133.4,1213.4 2135.0,1213.2 2136.6,1213.1 2138.1,1212.9 2139.7,1212.7 2141.2,1212.6 2142.8,1212.4 2144.3,1212.2 2145.9,1212.1 2147.4,1211.9 2149.0,1211.7 2150.6,1211.5 2152.1,1211.4 2153.7,1211.2 2155.2,1211.0 2156.8,1210.8 2158.3,1210.6 2159.9,1210.5 2161.4,1210.3 2163.0,1210.1 2164.5,1209.9 2166.1,1209.7 2167.7,1209.6 2169.2,1209.4 2170.8,1209.2 2172.3,1209.0 2173.9,1208.8 2175.4,1208.7 2177.0,1208.5 2178.5,1208.3 2180.1,1208.1 2181.7,1207.9 2183.2,1207.7 2184.8,1207.5 2186.3,1207.4 2187.9,1207.2 2189.4,1207.0 2191.0,1206.8 2192.5,1206.6 2194.1,1206.4 2195.7,1206.2 2197.2,1206.0 2198.8,1205.9 2200.3,1205.7 2201.9,1205.5 2203.4,1205.3 2205.0,1205.1 2206.5,1204.9 2208.1,1204.7 2209.6,1204.5 2211.2,1204.4 2212.8,1204.2 2214.3,1204.0 2215.9,1203.8 2217.4,1203.6 2219.0,1203.4 2220.5,1203.2 2222.1,1203.0 2223.6,1202.9 2225.2,1202.7 2226.8,1202.5 2228.3,1202.3 2229.9,1202.1 2231.4,1201.9 2233.0,1201.7 2234.5,1201.5 2236.1,1201.4 2237.6,1201.2 2239.2,1201.0 2240.8,1200.8 2242.3,1200.6 2243.9,1200.4 2245.4,1200.3 2247.0,1200.1 2248.5,1199.9 2250.1,1199.7 2251.6,1199.5 2253.2,1199.3 2254.7,1199.2 2256.3,1199.0 2257.9,1198.8 2259.4,1198.6 2261.0,1198.4 2262.5,1198.3 2264.1,1198.1 2265.6,1197.9 2267.2,1197.7 2268.7,1197.6 2270.3,1197.4 2271.9,1197.2 2273.4,1197.0 2275.0,1196.9 2276.5,1196.7 2278.1,1196.5 2279.6,1196.3 2281.2,1196.2 2282.7,1196.0 2284.3,1195.8 2285.9,1195.7 2287.4,1195.5 2289.0,1195.3 2290.5,1195.2 2292.1,1195.0 2293.6,1194.8 2295.2,1194.7 2296.7,1194.5 2298.3,1194.4 2299.8,1194.2 2301.4,1194.0 2303.0,1193.9 2304.5,1193.7 2306.1,1193.6 2307.6,1193.4 2309.2,1193.3 2310.7,1193.1 2312.3,1192.9 2313.8,1192.8 2315.4,1192.6 2317.0,1192.5 2318.5,1192.4 2320.1,1192.2 2321.6,1192.1 2323.2,1191.9 2324.7,1191.8 2326.3,1191.6 2327.8,1191.5 2329.4,1191.4 2331.0,1191.2 2332.5,1191.1 2334.1,1190.9 2335.6,1190.8 2337.2,1190.7 2338.7,1190.5 2340.3,1190.4 2341.8,1190.3 2343.4,1190.2 2344.9,1190.0 2346.5,1189.9 2348.1,1189.8 2349.6,1189.7 2351.2,1189.5 2352.7,1189.4 2354.3,1189.3 2355.8,1189.2 2357.4,1189.1 2358.9,1188.9 2360.5,1188.8"/>
</g>
<text transform="translate(169.8,1507.0) scale(0.960,1.000)" text-anchor="end" font-family="'Liberation Serif','DejaVu Serif',serif" font-size="40.3" fill="#262626" stroke="#262626" stroke-width="1.2" stroke-linejoin="round">30</text>
<text transform="translate(101.3,1510.0) scale(1.239,1.000)" text-anchor="start" font-family="'Liberation Serif','DejaVu Serif',serif" font-size="40.3" fill="#262626" stroke="#262626" stroke-width="0.9" stroke-linejoin="round">−</text>
<text transform="translate(169.8,1409.6) scale(0.960,1.000)" text-anchor="end" font-family="'Liberation Serif','DejaVu Serif',serif" font-size="40.3" fill="#262626" stroke="#262626" stroke-width="1.2" stroke-linejoin="round">20</text>
<text transform="translate(101.3,1412.6) scale(1.239,1.000)" text-anchor="start" font-family="'Liberation Serif','DejaVu Serif',serif" font-size="40.3" fill="#262626" stroke="#262626" stroke-width="0.9" stroke-linejoin="round">−</text>
<text transform="translate(169.8,1312.1) scale(0.960,1.000)" text-anchor="end" font-family="'Liberation Serif','DejaVu Serif',serif" font-size="40.3" fill="#262626" stroke="#262626" stroke-width="1.2" stroke-linejoin="round">10</text>
<text transform="translate(101.3,1315.2) scale(1.239,1.000)" text-anchor="start" font-family="'Liberation Serif','DejaVu Serif',serif" font-size="40.3" fill="#262626" stroke="#262626" stroke-width="0.9" stroke-linejoin="round">−</text>
<text transform="translate(169.8,1214.7) scale(0.960,1.000)" text-anchor="end" font-family="'Liberation Serif','DejaVu Serif',serif" font-size="40.3" fill="#262626" stroke="#262626" stroke-width="1.2" stroke-linejoin="round">0</text>
<text transform="translate(169.8,1117.3) scale(0.960,1.000)" text-anchor="end" font-family="'Liberation Serif','DejaVu Serif',serif" font-size="40.3" fill="#262626" stroke="#262626" stroke-width="1.2" stroke-linejoin="round">10</text>
<text transform="translate(169.8,1019.8) scale(0.960,1.000)" text-anchor="end" font-family="'Liberation Serif','DejaVu Serif',serif" font-size="40.3" fill="#262626" stroke="#262626" stroke-width="1.2" stroke-linejoin="round">20</text>
<text transform="translate(169.8,922.4) scale(0.960,1.000)" text-anchor="end" font-family="'Liberation Serif','DejaVu Serif',serif" font-size="40.3" fill="#262626" stroke="#262626" stroke-width="1.2" stroke-linejoin="round">30</text>
<text transform="translate(184.8,1543.7) scale(0.960,1.000)" text-anchor="middle" font-family="'Liberation Serif','DejaVu Serif',serif" font-size="40.3" fill="#262626" stroke="#262626" stroke-width="1.2" stroke-linejoin="round">0</text>
<text transform="translate(547.4,1543.7) scale(0.960,1.000)" text-anchor="middle" font-family="'Liberation Serif','DejaVu Serif',serif" font-size="40.3" fill="#262626" stroke="#262626" stroke-width="1.2" stroke-linejoin="round">1</text>
<text transform="translate(910.0,1543.7) scale(0.960,1.000)" text-anchor="middle" font-family="'Liberation Serif','DejaVu Serif',serif" font-size="40.3" fill="#262626" stroke="#262626" stroke-width="1.2" stroke-linejoin="round">2</text>
<text transform="translate(1272.6,1543.7) scale(0.960,1.000)" text-anchor="middle" font-family="'Liberation Serif','DejaVu Serif',serif" font-size="40.3" fill="#262626" stroke="#262626" stroke-width="1.2" stroke-linejoin="round">3</text>
<text transform="translate(1635.3,1543.7) scale(0.960,1.000)" text-anchor="middle" font-family="'Liberation Serif','DejaVu Serif',serif" font-size="40.3" fill="#262626" stroke="#262626" stroke-width="1.2" stroke-linejoin="round">4</text>
<text transform="translate(1997.9,1543.7) scale(0.960,1.000)" text-anchor="middle" font-family="'Liberation Serif','DejaVu Serif',serif" font-size="40.3" fill="#262626" stroke="#262626" stroke-width="1.2" stroke-linejoin="round">5</text>
<text transform="translate(2360.5,1543.7) scale(0.960,1.000)" text-anchor="middle" font-family="'Liberation Serif','DejaVu Serif',serif" font-size="40.3" fill="#262626" stroke="#262626" stroke-width="1.2" stroke-linejoin="round">6</text>
<text transform="translate(1271.6,890.7) scale(0.960,1.000)" text-anchor="middle" font-family="'Liberation Sans','DejaVu Sans',sans-serif" font-size="63.6" fill="#000" stroke="#fff" stroke-width="0.6" stroke-linejoin="round">(ii)</text>
<text transform="translate(1283.0,1631.0) scale(0.950,1.000)" text-anchor="middle" font-family="'Liberation Sans','DejaVu Sans',sans-serif" font-size="70.6" fill="#262626" stroke="#fff" stroke-width="0.7" stroke-linejoin="round"><tspan font-style="italic">t</tspan>/s</text>
<text transform="translate(73.2,1190.6) rotate(-90) scale(0.955,1.000)" text-anchor="middle" font-family="'Liberation Sans','DejaVu Sans',sans-serif" font-size="71.6" font-style="italic" fill="#262626" stroke="#fff" stroke-width="0.7" stroke-linejoin="round">Tracking</text>
<g id="inset">
<rect x="709.3" y="924.7" width="588.1" height="229.6" fill="#fff"/>
<g stroke="#dddddd" stroke-width="3.0">
<line x1="722.3" y1="924.7" x2="722.3" y2="1154.3"/>
<line x1="832.1" y1="924.7" x2="832.1" y2="1154.3"/>
<line x1="941.9" y1="924.7" x2="941.9" y2="1154.3"/>
<line x1="1051.7" y1="924.7" x2="1051.7" y2="1154.3"/>
<line x1="1161.5" y1="924.7" x2="1161.5" y2="1154.3"/>
<line x1="1271.3" y1="924.7" x2="1271.3" y2="1154.3"/>
<line x1="709.3" y1="1097.0" x2="1297.4" y2="1097.0"/>
<line x1="709.3" y1="924.7" x2="1297.4" y2="924.7"/>
</g>
<g stroke="#262626" stroke-width="3" fill="none">
<line x1="722.3" y1="1154.3" x2="722.3" y2="1146.3"/>
<line x1="722.3" y1="924.7" x2="722.3" y2="932.7"/>
<line x1="832.1" y1="1154.3" x2="832.1" y2="1146.3"/>
<line x1="832.1" y1="924.7" x2="832.1" y2="932.7"/>
<line x1="941.9" y1="1154.3" x2="941.9" y2="1146.3"/>
<line x1="941.9" y1="924.7" x2="941.9" y2="932.7"/>
<line x1="1051.7" y1="1154.3" x2="1051.7" y2="1146.3"/>
<line x1="1051.7" y1="924.7" x2="1051.7" y2="932.7"/>
<line x1="1161.5" y1="1154.3" x2="1161.5" y2="1146.3"/>
<line x1="1161.5" y1="924.7" x2="1161.5" y2="932.7"/>
<line x1="1271.3" y1="1154.3" x2="1271.3" y2="1146.3"/>
<line x1="1271.3" y1="924.7" x2="1271.3" y2="932.7"/>
<line x1="709.3" y1="1097.0" x2="717.3" y2="1097.0"/>
<line x1="1297.4" y1="1097.0" x2="1289.4" y2="1097.0"/>
<line x1="709.3" y1="924.7" x2="717.3" y2="924.7"/>
<line x1="1297.4" y1="924.7" x2="1289.4" y2="924.7"/>
<rect x="709.3" y="924.7" width="588.1" height="229.6"/>
</g>
<g clip-path="url(#c3)" fill="none" stroke-width="6.0" stroke-linejoin="round" shape-rendering="crispEdges">
<polyline stroke="#00ff00" points="698.3,1058.8 699.5,1059.3 700.8,1059.9 702.0,1060.4 703.2,1061.0 704.4,1061.5 705.7,1062.1 706.9,1062.6 708.1,1063.2 709.3,1063.7 710.5,1064.3 711.8,1064.8 713.0,1065.3 714.2,1065.9 715.4,1066.4 716.7,1067.0 717.9,1067.5 719.1,1068.1 720.3,1068.6 721.5,1069.2 722.8,1069.7 724.0,1070.3 725.2,1070.8 726.4,1071.3 727.7,1071.8 728.9,1072.4 730.1,1072.9 731.3,1073.4 732.6,1073.9 733.8,1074.4 735.0,1074.9 736.2,1075.4 737.4,1075.9 738.7,1076.4 739.9,1076.8 741.1,1077.3 742.3,1077.7 743.6,1078.2 744.8,1078.6 746.0,1079.1 747.2,1079.5 748.4,1079.9 749.7,1080.4 750.9,1080.8 752.1,1081.2 753.3,1081.6 754.6,1082.0 755.8,1082.4 757.0,1082.8 758.2,1083.2 759.4,1083.6 760.7,1083.9 761.9,1084.3 763.1,1084.7 764.3,1085.1 765.6,1085.5 766.8,1085.8 768.0,1086.2 769.2,1086.6 770.5,1087.0 771.7,1087.3 772.9,1087.7 774.1,1088.1 775.3,1088.5 776.6,1088.8 777.8,1089.2 779.0,1089.6 780.2,1090.0 781.5,1090.3 782.7,1090.7 783.9,1091.1 785.1,1091.4 786.3,1091.8 787.6,1092.2 788.8,1092.5 790.0,1092.9 791.2,1093.3 792.5,1093.7 793.7,1094.0 794.9,1094.4 796.1,1094.7 797.3,1095.1 798.6,1095.5 799.8,1095.8 801.0,1096.2 802.2,1096.5 803.5,1096.9 804.7,1097.2 805.9,1097.6 807.1,1097.9 808.4,1098.3 809.6,1098.6 810.8,1098.9 812.0,1099.3 813.2,1099.6 814.5,1099.9 815.7,1100.3 816.9,1100.6 818.1,1100.9 819.4,1101.2 820.6,1101.5 821.8,1101.9 823.0,1102.2 824.2,1102.5 825.5,1102.8 826.7,1103.1 827.9,1103.4 829.1,1103.7 830.4,1104.0 831.6,1104.3 832.8,1104.5 834.0,1104.8 835.2,1105.1 836.5,1105.4 837.7,1105.7 838.9,1105.9 840.1,1106.2 841.4,1106.5 842.6,1106.7 843.8,1107.0 845.0,1107.3 846.3,1107.5 847.5,1107.8 848.7,1108.0 849.9,1108.3 851.1,1108.5 852.4,1108.8 853.6,1109.1 854.8,1109.3 856.0,1109.6 857.3,1109.8 858.5,1110.1 859.7,1110.3 860.9,1110.5 862.1,1110.8 863.4,1111.0 864.6,1111.3 865.8,1111.5 867.0,1111.8 868.3,1112.0 869.5,1112.3 870.7,1112.5 871.9,1112.8 873.1,1113.0 874.4,1113.3 875.6,1113.5 876.8,1113.8 878.0,1114.0 879.3,1114.2 880.5,1114.5 881.7,1114.7 882.9,1115.0 884.1,1115.2 885.4,1115.5 886.6,1115.7 887.8,1115.9 889.0,1116.2 890.3,1116.4 891.5,1116.7 892.7,1116.9 893.9,1117.1 895.2,1117.4 896.4,1117.6 897.6,1117.9 898.8,1118.1 900.0,1118.3 901.3,1118.6 902.5,1118.8 903.7,1119.0 904.9,1119.3 906.2,1119.5 907.4,1119.7 908.6,1119.9 909.8,1120.2 911.0,1120.4 912.3,1120.6 913.5,1120.8 914.7,1121.0 915.9,1121.2 917.2,1121.4 918.4,1121.6 919.6,1121.8 920.8,1122.0 922.0,1122.2 923.3,1122.4 924.5,1122.6 925.7,1122.8 926.9,1123.0 928.2,1123.2 929.4,1123.3 930.6,1123.5 931.8,1123.7 933.1,1123.8 934.3,1124.0 935.5,1124.2 936.7,1124.3 937.9,1124.4 939.2,1124.6 940.4,1124.7 941.6,1124.9 942.8,1125.0 944.1,1125.1 945.3,1125.2 946.5,1125.3 947.7,1125.4 948.9,1125.6 950.2,1125.7 951.4,1125.7 952.6,1125.8 953.8,1125.9 955.1,1126.0 956.3,1126.1 957.5,1126.1 958.7,1126.2 959.9,1126.3 961.2,1126.3 962.4,1126.4 963.6,1126.4 964.8,1126.4 966.1,1126.5 967.3,1126.5 968.5,1126.5 969.7,1126.5 971.0,1126.5 972.2,1126.5 973.4,1126.5 974.6,1126.5 975.8,1126.4 977.1,1126.4 978.3,1126.3 979.5,1126.2 980.7,1126.1 982.0,1126.0 983.2,1125.9 984.4,1125.7 985.6,1125.5 986.8,1125.3 988.1,1125.1 989.3,1124.9 990.5,1124.7 991.7,1124.4 993.0,1124.1 994.2,1123.8 995.4,1123.5 996.6,1123.2 997.8,1122.9 999.1,1122.6 1000.3,1122.2 1001.5,1121.9 1002.7,1121.5 1004.0,1121.1 1005.2,1120.7 1006.4,1120.3 1007.6,1119.9 1008.9,1119.5 1010.1,1119.1 1011.3,1118.7 1012.5,1118.2 1013.7,1117.8 1015.0,1117.3 1016.2,1116.9 1017.4,1116.4 1018.6,1116.0 1019.9,1115.5 1021.1,1115.0 1022.3,1114.5 1023.5,1114.1 1024.7,1113.6 1026.0,1113.1 1027.2,1112.6 1028.4,1112.1 1029.6,1111.6 1030.9,1111.1 1032.1,1110.5 1033.3,1110.0 1034.5,1109.5 1035.7,1109.0 1037.0,1108.5 1038.2,1107.9 1039.4,1107.4 1040.6,1106.8 1041.9,1106.3 1043.1,1105.8 1044.3,1105.2 1045.5,1104.7 1046.8,1104.1 1048.0,1103.6 1049.2,1103.0 1050.4,1102.5 1051.6,1102.0 1052.9,1101.4 1054.1,1100.9 1055.3,1100.4 1056.5,1099.9 1057.8,1099.4 1059.0,1098.9 1060.2,1098.4 1061.4,1097.9 1062.6,1097.4 1063.9,1096.9 1065.1,1096.4 1066.3,1095.9 1067.5,1095.5 1068.8,1095.0 1070.0,1094.6 1071.2,1094.2 1072.4,1093.7 1073.6,1093.3 1074.9,1092.9 1076.1,1092.5 1077.3,1092.1 1078.5,1091.8 1079.8,1091.4 1081.0,1091.0 1082.2,1090.7 1083.4,1090.3 1084.7,1090.0 1085.9,1089.6 1087.1,1089.3 1088.3,1088.9 1089.5,1088.6 1090.8,1088.3 1092.0,1087.9 1093.2,1087.6 1094.4,1087.3 1095.7,1087.0 1096.9,1086.7 1098.1,1086.4 1099.3,1086.1 1100.5,1085.8 1101.8,1085.5 1103.0,1085.2 1104.2,1084.9 1105.4,1084.6 1106.7,1084.3 1107.9,1084.0 1109.1,1083.7 1110.3,1083.4 1111.5,1083.2 1112.8,1082.9 1114.0,1082.6 1115.2,1082.3 1116.4,1082.1 1117.7,1081.8 1118.9,1081.5 1120.1,1081.3 1121.3,1081.0 1122.6,1080.7 1123.8,1080.5 1125.0,1080.2 1126.2,1079.9 1127.4,1079.6 1128.7,1079.4 1129.9,1079.1 1131.1,1078.8 1132.3,1078.5 1133.6,1078.3 1134.8,1078.0 1136.0,1077.7 1137.2,1077.4 1138.4,1077.1 1139.7,1076.8 1140.9,1076.5 1142.1,1076.3 1143.3,1076.0 1144.6,1075.7 1145.8,1075.4 1147.0,1075.1 1148.2,1074.8 1149.4,1074.5 1150.7,1074.2 1151.9,1073.9 1153.1,1073.5 1154.3,1073.2 1155.6,1072.9 1156.8,1072.6 1158.0,1072.3 1159.2,1072.0 1160.4,1071.6 1161.7,1071.3 1162.9,1071.0 1164.1,1070.6 1165.3,1070.3 1166.6,1070.0 1167.8,1069.6 1169.0,1069.3 1170.2,1068.9 1171.5,1068.6 1172.7,1068.2 1173.9,1067.8 1175.1,1067.5 1176.3,1067.1 1177.6,1066.7 1178.8,1066.4 1180.0,1066.0 1181.2,1065.6 1182.5,1065.2 1183.7,1064.8 1184.9,1064.5 1186.1,1064.1 1187.3,1063.7 1188.6,1063.3 1189.8,1062.8 1191.0,1062.4 1192.2,1062.0 1193.5,1061.6 1194.7,1061.2 1195.9,1060.8 1197.1,1060.3 1198.3,1059.9 1199.6,1059.4 1200.8,1059.0 1202.0,1058.5 1203.2,1058.1 1204.5,1057.6 1205.7,1057.2 1206.9,1056.7 1208.1,1056.3 1209.4,1055.8 1210.6,1055.3 1211.8,1054.8 1213.0,1054.3 1214.2,1053.9 1215.5,1053.4 1216.7,1052.9 1217.9,1052.4 1219.1,1051.9 1220.4,1051.4 1221.6,1050.9 1222.8,1050.4 1224.0,1049.9 1225.2,1049.4 1226.5,1048.8 1227.7,1048.3 1228.9,1047.8 1230.1,1047.3 1231.4,1046.8 1232.6,1046.2 1233.8,1045.7 1235.0,1045.2 1236.2,1044.6 1237.5,1044.1 1238.7,1043.5 1239.9,1042.9 1241.1,1042.4 1242.4,1041.8 1243.6,1041.2 1244.8,1040.6 1246.0,1040.1 1247.3,1039.5 1248.5,1038.8 1249.7,1038.2 1250.9,1037.6 1252.1,1037.0 1253.4,1036.3 1254.6,1035.7 1255.8,1035.0 1257.0,1034.3 1258.3,1033.7 1259.5,1033.0 1260.7,1032.3 1261.9,1031.6 1263.1,1030.8 1264.4,1030.1 1265.6,1029.3 1266.8,1028.6 1268.0,1027.8 1269.3,1027.0 1270.5,1026.3 1271.7,1025.5 1272.9,1024.6 1274.1,1023.8 1275.4,1023.0 1276.6,1022.2 1277.8,1021.3 1279.0,1020.5 1280.3,1019.6 1281.5,1018.7 1282.7,1017.9 1283.9,1017.0 1285.2,1016.1 1286.4,1015.2 1287.6,1014.3 1288.8,1013.4 1290.0,1012.5 1291.3,1011.6 1292.5,1010.7 1293.7,1009.8 1294.9,1008.8 1296.2,1007.9 1297.4,1007.0 1298.6,1006.0 1299.8,1005.1 1301.0,1004.2 1302.3,1003.2 1303.5,1002.3 1304.7,1001.3 1305.9,1000.4 1307.2,999.4 1308.4,998.5"/>
<polyline stroke="#0000ff" points="698.3,1014.6 699.5,1015.3 700.8,1015.9 702.0,1016.5 703.2,1017.1 704.4,1017.7 705.7,1018.4 706.9,1019.0 708.1,1019.6 709.3,1020.2 710.5,1020.8 711.8,1021.4 713.0,1022.0 714.2,1022.6 715.4,1023.2 716.7,1023.7 717.9,1024.3 719.1,1024.9 720.3,1025.5 721.5,1026.1 722.8,1026.7 724.0,1027.2 725.2,1027.8 726.4,1028.4 727.7,1028.9 728.9,1029.5 730.1,1030.1 731.3,1030.6 732.6,1031.2 733.8,1031.7 735.0,1032.3 736.2,1032.8 737.4,1033.4 738.7,1033.9 739.9,1034.5 741.1,1035.0 742.3,1035.5 743.6,1036.1 744.8,1036.6 746.0,1037.1 747.2,1037.7 748.4,1038.2 749.7,1038.7 750.9,1039.2 752.1,1039.8 753.3,1040.3 754.6,1040.8 755.8,1041.3 757.0,1041.9 758.2,1042.4 759.4,1042.9 760.7,1043.4 761.9,1043.9 763.1,1044.4 764.3,1045.0 765.6,1045.5 766.8,1046.0 768.0,1046.5 769.2,1047.0 770.5,1047.5 771.7,1048.1 772.9,1048.6 774.1,1049.1 775.3,1049.6 776.6,1050.1 777.8,1050.7 779.0,1051.2 780.2,1051.7 781.5,1052.2 782.7,1052.8 783.9,1053.3 785.1,1053.8 786.3,1054.3 787.6,1054.9 788.8,1055.4 790.0,1055.9 791.2,1056.4 792.5,1057.0 793.7,1057.5 794.9,1058.0 796.1,1058.5 797.3,1059.0 798.6,1059.5 799.8,1060.0 801.0,1060.5 802.2,1061.0 803.5,1061.5 804.7,1062.0 805.9,1062.5 807.1,1063.0 808.4,1063.5 809.6,1064.0 810.8,1064.5 812.0,1064.9 813.2,1065.4 814.5,1065.9 815.7,1066.3 816.9,1066.8 818.1,1067.3 819.4,1067.7 820.6,1068.2 821.8,1068.6 823.0,1069.1 824.2,1069.5 825.5,1070.0 826.7,1070.4 827.9,1070.9 829.1,1071.3 830.4,1071.8 831.6,1072.2 832.8,1072.7 834.0,1073.1 835.2,1073.6 836.5,1074.0 837.7,1074.5 838.9,1074.9 840.1,1075.4 841.4,1075.8 842.6,1076.3 843.8,1076.7 845.0,1077.2 846.3,1077.6 847.5,1078.0 848.7,1078.5 849.9,1078.9 851.1,1079.4 852.4,1079.8 853.6,1080.2 854.8,1080.7 856.0,1081.1 857.3,1081.5 858.5,1082.0 859.7,1082.4 860.9,1082.8 862.1,1083.2 863.4,1083.6 864.6,1084.1 865.8,1084.5 867.0,1084.9 868.3,1085.3 869.5,1085.7 870.7,1086.1 871.9,1086.5 873.1,1086.9 874.4,1087.3 875.6,1087.7 876.8,1088.1 878.0,1088.5 879.3,1088.9 880.5,1089.3 881.7,1089.7 882.9,1090.1 884.1,1090.5 885.4,1090.9 886.6,1091.3 887.8,1091.7 889.0,1092.1 890.3,1092.4 891.5,1092.8 892.7,1093.2 893.9,1093.6 895.2,1094.0 896.4,1094.4 897.6,1094.8 898.8,1095.2 900.0,1095.6 901.3,1096.0 902.5,1096.3 903.7,1096.7 904.9,1097.1 906.2,1097.5 907.4,1097.9 908.6,1098.2 909.8,1098.6 911.0,1099.0 912.3,1099.4 913.5,1099.7 914.7,1100.1 915.9,1100.5 917.2,1100.8 918.4,1101.2 919.6,1101.5 920.8,1101.9 922.0,1102.2 923.3,1102.6 924.5,1102.9 925.7,1103.2 926.9,1103.6 928.2,1103.9 929.4,1104.2 930.6,1104.5 931.8,1104.8 933.1,1105.1 934.3,1105.4 935.5,1105.7 936.7,1106.0 937.9,1106.3 939.2,1106.6 940.4,1106.8 941.6,1107.1 942.8,1107.3 944.1,1107.6 945.3,1107.8 946.5,1108.1 947.7,1108.3 948.9,1108.5 950.2,1108.7 951.4,1108.9 952.6,1109.1 953.8,1109.3 955.1,1109.5 956.3,1109.7 957.5,1109.9 958.7,1110.0 959.9,1110.2 961.2,1110.3 962.4,1110.5 963.6,1110.6 964.8,1110.7 966.1,1110.8 967.3,1110.9 968.5,1111.0 969.7,1111.1 971.0,1111.2 972.2,1111.2 973.4,1111.3 974.6,1111.3 975.8,1111.4 977.1,1111.4 978.3,1111.4 979.5,1111.3 980.7,1111.3 982.0,1111.3 983.2,1111.2 984.4,1111.2 985.6,1111.1 986.8,1111.0 988.1,1110.9 989.3,1110.8 990.5,1110.7 991.7,1110.5 993.0,1110.4 994.2,1110.2 995.4,1110.1 996.6,1109.9 997.8,1109.7 999.1,1109.5 1000.3,1109.3 1001.5,1109.1 1002.7,1108.9 1004.0,1108.6 1005.2,1108.4 1006.4,1108.2 1007.6,1107.9 1008.9,1107.7 1010.1,1107.4 1011.3,1107.1 1012.5,1106.8 1013.7,1106.6 1015.0,1106.3 1016.2,1106.0 1017.4,1105.7 1018.6,1105.4 1019.9,1105.1 1021.1,1104.8 1022.3,1104.5 1023.5,1104.2 1024.7,1103.9 1026.0,1103.6 1027.2,1103.3 1028.4,1103.0 1029.6,1102.7 1030.9,1102.4 1032.1,1102.1 1033.3,1101.8 1034.5,1101.4 1035.7,1101.1 1037.0,1100.8 1038.2,1100.5 1039.4,1100.2 1040.6,1099.9 1041.9,1099.6 1043.1,1099.2 1044.3,1098.9 1045.5,1098.6 1046.8,1098.3 1048.0,1098.0 1049.2,1097.7 1050.4,1097.3 1051.6,1097.0 1052.9,1096.7 1054.1,1096.4 1055.3,1096.1 1056.5,1095.8 1057.8,1095.5 1059.0,1095.2 1060.2,1094.9 1061.4,1094.6 1062.6,1094.3 1063.9,1094.0 1065.1,1093.7 1066.3,1093.4 1067.5,1093.1 1068.8,1092.9 1070.0,1092.6 1071.2,1092.4 1072.4,1092.1 1073.6,1091.9 1074.9,1091.7 1076.1,1091.5 1077.3,1091.2 1078.5,1091.0 1079.8,1090.9 1081.0,1090.7 1082.2,1090.5 1083.4,1090.3 1084.7,1090.2 1085.9,1090.0 1087.1,1089.9 1088.3,1089.7 1089.5,1089.6 1090.8,1089.5 1092.0,1089.4 1093.2,1089.3 1094.4,1089.2 1095.7,1089.1 1096.9,1089.0 1098.1,1088.9 1099.3,1088.8 1100.5,1088.7 1101.8,1088.6 1103.0,1088.5 1104.2,1088.4 1105.4,1088.3 1106.7,1088.2 1107.9,1088.2 1109.1,1088.1 1110.3,1088.0 1111.5,1087.9 1112.8,1087.8 1114.0,1087.7 1115.2,1087.5 1116.4,1087.4 1117.7,1087.3 1118.9,1087.2 1120.1,1087.0 1121.3,1086.9 1122.6,1086.7 1123.8,1086.5 1125.0,1086.4 1126.2,1086.2 1127.4,1086.0 1128.7,1085.8 1129.9,1085.5 1131.1,1085.3 1132.3,1085.0 1133.6,1084.8 1134.8,1084.5 1136.0,1084.2 1137.2,1083.9 1138.4,1083.6 1139.7,1083.3 1140.9,1083.0 1142.1,1082.6 1143.3,1082.3 1144.6,1082.0 1145.8,1081.6 1147.0,1081.2 1148.2,1080.9 1149.4,1080.5 1150.7,1080.1 1151.9,1079.8 1153.1,1079.4 1154.3,1079.0 1155.6,1078.6 1156.8,1078.2 1158.0,1077.8 1159.2,1077.4 1160.4,1077.0 1161.7,1076.6 1162.9,1076.2 1164.1,1075.8 1165.3,1075.3 1166.6,1074.9 1167.8,1074.5 1169.0,1074.0 1170.2,1073.6 1171.5,1073.2 1172.7,1072.7 1173.9,1072.3 1175.1,1071.8 1176.3,1071.4 1177.6,1070.9 1178.8,1070.4 1180.0,1070.0 1181.2,1069.5 1182.5,1069.0 1183.7,1068.5 1184.9,1068.1 1186.1,1067.6 1187.3,1067.1 1188.6,1066.6 1189.8,1066.1 1191.0,1065.6 1192.2,1065.1 1193.5,1064.5 1194.7,1064.0 1195.9,1063.5 1197.1,1063.0 1198.3,1062.5 1199.6,1061.9 1200.8,1061.4 1202.0,1060.8 1203.2,1060.3 1204.5,1059.7 1205.7,1059.2 1206.9,1058.6 1208.1,1058.1 1209.4,1057.5 1210.6,1056.9 1211.8,1056.4 1213.0,1055.8 1214.2,1055.2 1215.5,1054.6 1216.7,1054.0 1217.9,1053.4 1219.1,1052.8 1220.4,1052.2 1221.6,1051.6 1222.8,1051.0 1224.0,1050.4 1225.2,1049.8 1226.5,1049.1 1227.7,1048.5 1228.9,1047.9 1230.1,1047.2 1231.4,1046.6 1232.6,1046.0 1233.8,1045.3 1235.0,1044.7 1236.2,1044.0 1237.5,1043.3 1238.7,1042.7 1239.9,1042.0 1241.1,1041.3 1242.4,1040.7 1243.6,1040.0 1244.8,1039.3 1246.0,1038.6 1247.3,1037.9 1248.5,1037.2 1249.7,1036.5 1250.9,1035.8 1252.1,1035.1 1253.4,1034.4 1254.6,1033.7 1255.8,1033.0 1257.0,1032.3 1258.3,1031.5 1259.5,1030.8 1260.7,1030.1 1261.9,1029.3 1263.1,1028.6 1264.4,1027.8 1265.6,1027.1 1266.8,1026.3 1268.0,1025.6 1269.3,1024.8 1270.5,1024.0 1271.7,1023.3 1272.9,1022.5 1274.1,1021.7 1275.4,1020.9 1276.6,1020.2 1277.8,1019.4 1279.0,1018.6 1280.3,1017.8 1281.5,1017.0 1282.7,1016.2 1283.9,1015.4 1285.2,1014.5 1286.4,1013.7 1287.6,1012.9 1288.8,1012.1 1290.0,1011.3 1291.3,1010.4 1292.5,1009.6 1293.7,1008.8 1294.9,1007.9 1296.2,1007.1 1297.4,1006.2 1298.6,1005.4 1299.8,1004.5 1301.0,1003.6 1302.3,1002.8 1303.5,1001.9 1304.7,1001.0 1305.9,1000.2 1307.2,999.3 1308.4,998.4"/>
<polyline stroke="#00ffff" points="698.3,929.8 699.5,930.9 700.8,932.0 702.0,933.1 703.2,934.3 704.4,935.4 705.7,936.5 706.9,937.6 708.1,938.7 709.3,939.8 710.5,940.9 711.8,942.0 713.0,943.1 714.2,944.2 715.4,945.2 716.7,946.3 717.9,947.4 719.1,948.5 720.3,949.5 721.5,950.6 722.8,951.7 724.0,952.7 725.2,953.8 726.4,954.8 727.7,955.9 728.9,956.9 730.1,958.0 731.3,959.0 732.6,960.0 733.8,961.1 735.0,962.1 736.2,963.1 737.4,964.1 738.7,965.2 739.9,966.2 741.1,967.2 742.3,968.2 743.6,969.2 744.8,970.2 746.0,971.2 747.2,972.2 748.4,973.2 749.7,974.2 750.9,975.1 752.1,976.1 753.3,977.1 754.6,978.1 755.8,979.0 757.0,980.0 758.2,981.0 759.4,981.9 760.7,982.9 761.9,983.8 763.1,984.8 764.3,985.7 765.6,986.6 766.8,987.6 768.0,988.5 769.2,989.4 770.5,990.4 771.7,991.3 772.9,992.2 774.1,993.1 775.3,994.0 776.6,994.9 777.8,995.8 779.0,996.7 780.2,997.6 781.5,998.5 782.7,999.4 783.9,1000.3 785.1,1001.2 786.3,1002.0 787.6,1002.9 788.8,1003.8 790.0,1004.7 791.2,1005.5 792.5,1006.4 793.7,1007.2 794.9,1008.1 796.1,1008.9 797.3,1009.8 798.6,1010.6 799.8,1011.4 801.0,1012.3 802.2,1013.1 803.5,1013.9 804.7,1014.7 805.9,1015.6 807.1,1016.4 808.4,1017.2 809.6,1018.0 810.8,1018.8 812.0,1019.6 813.2,1020.4 814.5,1021.2 815.7,1021.9 816.9,1022.7 818.1,1023.5 819.4,1024.3 820.6,1025.1 821.8,1025.8 823.0,1026.6 824.2,1027.3 825.5,1028.1 826.7,1028.8 827.9,1029.6 829.1,1030.3 830.4,1031.1 831.6,1031.8 832.8,1032.5 834.0,1033.3 835.2,1034.0 836.5,1034.7 837.7,1035.4 838.9,1036.1 840.1,1036.8 841.4,1037.5 842.6,1038.2 843.8,1038.9 845.0,1039.6 846.3,1040.3 847.5,1041.0 848.7,1041.7 849.9,1042.4 851.1,1043.0 852.4,1043.7 853.6,1044.4 854.8,1045.0 856.0,1045.7 857.3,1046.3 858.5,1047.0 859.7,1047.6 860.9,1048.3 862.1,1048.9 863.4,1049.5 864.6,1050.2 865.8,1050.8 867.0,1051.4 868.3,1052.0 869.5,1052.6 870.7,1053.2 871.9,1053.8 873.1,1054.4 874.4,1055.0 875.6,1055.6 876.8,1056.2 878.0,1056.8 879.3,1057.4 880.5,1057.9 881.7,1058.5 882.9,1059.1 884.1,1059.6 885.4,1060.2 886.6,1060.8 887.8,1061.3 889.0,1061.9 890.3,1062.4 891.5,1062.9 892.7,1063.5 893.9,1064.0 895.2,1064.5 896.4,1065.1 897.6,1065.6 898.8,1066.1 900.0,1066.6 901.3,1067.1 902.5,1067.6 903.7,1068.1 904.9,1068.6 906.2,1069.1 907.4,1069.6 908.6,1070.0 909.8,1070.5 911.0,1071.0 912.3,1071.5 913.5,1071.9 914.7,1072.4 915.9,1072.8 917.2,1073.3 918.4,1073.7 919.6,1074.2 920.8,1074.6 922.0,1075.0 923.3,1075.5 924.5,1075.9 925.7,1076.3 926.9,1076.7 928.2,1077.2 929.4,1077.6 930.6,1078.0 931.8,1078.4 933.1,1078.8 934.3,1079.2 935.5,1079.5 936.7,1079.9 937.9,1080.3 939.2,1080.7 940.4,1081.1 941.6,1081.4 942.8,1081.8 944.1,1082.1 945.3,1082.5 946.5,1082.9 947.7,1083.2 948.9,1083.5 950.2,1083.9 951.4,1084.2 952.6,1084.5 953.8,1084.9 955.1,1085.2 956.3,1085.5 957.5,1085.8 958.7,1086.1 959.9,1086.4 961.2,1086.7 962.4,1087.0 963.6,1087.3 964.8,1087.6 966.1,1087.9 967.3,1088.2 968.5,1088.4 969.7,1088.7 971.0,1089.0 972.2,1089.2 973.4,1089.5 974.6,1089.7 975.8,1090.0 977.1,1090.2 978.3,1090.5 979.5,1090.7 980.7,1090.9 982.0,1091.2 983.2,1091.4 984.4,1091.6 985.6,1091.8 986.8,1092.0 988.1,1092.2 989.3,1092.4 990.5,1092.6 991.7,1092.8 993.0,1093.0 994.2,1093.2 995.4,1093.4 996.6,1093.5 997.8,1093.7 999.1,1093.9 1000.3,1094.0 1001.5,1094.2 1002.7,1094.4 1004.0,1094.5 1005.2,1094.6 1006.4,1094.8 1007.6,1094.9 1008.9,1095.1 1010.1,1095.2 1011.3,1095.3 1012.5,1095.4 1013.7,1095.5 1015.0,1095.6 1016.2,1095.8 1017.4,1095.9 1018.6,1096.0 1019.9,1096.0 1021.1,1096.1 1022.3,1096.2 1023.5,1096.3 1024.7,1096.4 1026.0,1096.4 1027.2,1096.5 1028.4,1096.6 1029.6,1096.6 1030.9,1096.7 1032.1,1096.7 1033.3,1096.8 1034.5,1096.8 1035.7,1096.9 1037.0,1096.9 1038.2,1096.9 1039.4,1096.9 1040.6,1097.0 1041.9,1097.0 1043.1,1097.0 1044.3,1097.0 1045.5,1097.0 1046.8,1097.0 1048.0,1097.0 1049.2,1097.0 1050.4,1097.0 1051.6,1096.9 1052.9,1096.9 1054.1,1096.9 1055.3,1096.9 1056.5,1096.8 1057.8,1096.8 1059.0,1096.7 1060.2,1096.7 1061.4,1096.6 1062.6,1096.6 1063.9,1096.5 1065.1,1096.4 1066.3,1096.4 1067.5,1096.3 1068.8,1096.2 1070.0,1096.1 1071.2,1096.0 1072.4,1096.0 1073.6,1095.9 1074.9,1095.8 1076.1,1095.7 1077.3,1095.5 1078.5,1095.4 1079.8,1095.3 1081.0,1095.2 1082.2,1095.1 1083.4,1094.9 1084.7,1094.8 1085.9,1094.6 1087.1,1094.5 1088.3,1094.4 1089.5,1094.2 1090.8,1094.0 1092.0,1093.9 1093.2,1093.7 1094.4,1093.5 1095.7,1093.4 1096.9,1093.2 1098.1,1093.0 1099.3,1092.8 1100.5,1092.6 1101.8,1092.4 1103.0,1092.2 1104.2,1092.0 1105.4,1091.8 1106.7,1091.6 1107.9,1091.4 1109.1,1091.2 1110.3,1090.9 1111.5,1090.7 1112.8,1090.5 1114.0,1090.2 1115.2,1090.0 1116.4,1089.7 1117.7,1089.5 1118.9,1089.2 1120.1,1089.0 1121.3,1088.7 1122.6,1088.4 1123.8,1088.2 1125.0,1087.9 1126.2,1087.6 1127.4,1087.3 1128.7,1087.0 1129.9,1086.7 1131.1,1086.4 1132.3,1086.1 1133.6,1085.8 1134.8,1085.5 1136.0,1085.2 1137.2,1084.9 1138.4,1084.5 1139.7,1084.2 1140.9,1083.9 1142.1,1083.6 1143.3,1083.2 1144.6,1082.9 1145.8,1082.5 1147.0,1082.2 1148.2,1081.8 1149.4,1081.4 1150.7,1081.1 1151.9,1080.7 1153.1,1080.3 1154.3,1079.9 1155.6,1079.6 1156.8,1079.2 1158.0,1078.8 1159.2,1078.4 1160.4,1078.0 1161.7,1077.6 1162.9,1077.2 1164.1,1076.8 1165.3,1076.3 1166.6,1075.9 1167.8,1075.5 1169.0,1075.1 1170.2,1074.6 1171.5,1074.2 1172.7,1073.7 1173.9,1073.3 1175.1,1072.8 1176.3,1072.4 1177.6,1071.9 1178.8,1071.5 1180.0,1071.0 1181.2,1070.5 1182.5,1070.1 1183.7,1069.6 1184.9,1069.1 1186.1,1068.6 1187.3,1068.1 1188.6,1067.6 1189.8,1067.1 1191.0,1066.6 1192.2,1066.1 1193.5,1065.6 1194.7,1065.1 1195.9,1064.5 1197.1,1064.0 1198.3,1063.5 1199.6,1063.0 1200.8,1062.4 1202.0,1061.9 1203.2,1061.3 1204.5,1060.8 1205.7,1060.2 1206.9,1059.7 1208.1,1059.1 1209.4,1058.5 1210.6,1058.0 1211.8,1057.4 1213.0,1056.8 1214.2,1056.2 1215.5,1055.6 1216.7,1055.0 1217.9,1054.5 1219.1,1053.9 1220.4,1053.3 1221.6,1052.6 1222.8,1052.0 1224.0,1051.4 1225.2,1050.8 1226.5,1050.2 1227.7,1049.5 1228.9,1048.9 1230.1,1048.3 1231.4,1047.6 1232.6,1047.0 1233.8,1046.3 1235.0,1045.7 1236.2,1045.0 1237.5,1044.4 1238.7,1043.7 1239.9,1043.1 1241.1,1042.4 1242.4,1041.7 1243.6,1041.0 1244.8,1040.3 1246.0,1039.7 1247.3,1039.0 1248.5,1038.3 1249.7,1037.6 1250.9,1036.9 1252.1,1036.2 1253.4,1035.4 1254.6,1034.7 1255.8,1034.0 1257.0,1033.3 1258.3,1032.6 1259.5,1031.8 1260.7,1031.1 1261.9,1030.4 1263.1,1029.6 1264.4,1028.9 1265.6,1028.1 1266.8,1027.4 1268.0,1026.6 1269.3,1025.8 1270.5,1025.1 1271.7,1024.3 1272.9,1023.5 1274.1,1022.8 1275.4,1022.0 1276.6,1021.2 1277.8,1020.4 1279.0,1019.6 1280.3,1018.8 1281.5,1018.0 1282.7,1017.2 1283.9,1016.4 1285.2,1015.6 1286.4,1014.8 1287.6,1013.9 1288.8,1013.1 1290.0,1012.3 1291.3,1011.5 1292.5,1010.6 1293.7,1009.8 1294.9,1008.9 1296.2,1008.1 1297.4,1007.2 1298.6,1006.4 1299.8,1005.5 1301.0,1004.7 1302.3,1003.8 1303.5,1002.9 1304.7,1002.1 1305.9,1001.2 1307.2,1000.3 1308.4,999.4"/>
<polyline stroke="#ff00ff" points="698.3,932.8 699.5,933.9 700.8,935.0 702.0,936.1 703.2,937.1 704.4,938.2 705.7,939.3 706.9,940.4 708.1,941.5 709.3,942.5 710.5,943.6 711.8,944.7 713.0,945.7 714.2,946.8 715.4,947.9 716.7,948.9 717.9,950.0 719.1,951.0 720.3,952.0 721.5,953.1 722.8,954.1 724.0,955.1 725.2,956.2 726.4,957.2 727.7,958.2 728.9,959.2 730.1,960.2 731.3,961.3 732.6,962.3 733.8,963.3 735.0,964.3 736.2,965.3 737.4,966.3 738.7,967.3 739.9,968.2 741.1,969.2 742.3,970.2 743.6,971.2 744.8,972.1 746.0,973.1 747.2,974.1 748.4,975.0 749.7,976.0 750.9,977.0 752.1,977.9 753.3,978.9 754.6,979.8 755.8,980.7 757.0,981.7 758.2,982.6 759.4,983.5 760.7,984.5 761.9,985.4 763.1,986.3 764.3,987.2 765.6,988.1 766.8,989.0 768.0,989.9 769.2,990.8 770.5,991.7 771.7,992.6 772.9,993.5 774.1,994.4 775.3,995.3 776.6,996.2 777.8,997.1 779.0,997.9 780.2,998.8 781.5,999.7 782.7,1000.5 783.9,1001.4 785.1,1002.2 786.3,1003.1 787.6,1003.9 788.8,1004.8 790.0,1005.6 791.2,1006.4 792.5,1007.3 793.7,1008.1 794.9,1008.9 796.1,1009.7 797.3,1010.5 798.6,1011.4 799.8,1012.2 801.0,1013.0 802.2,1013.8 803.5,1014.6 804.7,1015.4 805.9,1016.1 807.1,1016.9 808.4,1017.7 809.6,1018.5 810.8,1019.3 812.0,1020.0 813.2,1020.8 814.5,1021.6 815.7,1022.3 816.9,1023.1 818.1,1023.8 819.4,1024.6 820.6,1025.3 821.8,1026.0 823.0,1026.8 824.2,1027.5 825.5,1028.2 826.7,1029.0 827.9,1029.7 829.1,1030.4 830.4,1031.1 831.6,1031.8 832.8,1032.5 834.0,1033.3 835.2,1034.0 836.5,1034.7 837.7,1035.4 838.9,1036.1 840.1,1036.8 841.4,1037.5 842.6,1038.2 843.8,1038.9 845.0,1039.6 846.3,1040.3 847.5,1041.0 848.7,1041.7 849.9,1042.4 851.1,1043.0 852.4,1043.7 853.6,1044.4 854.8,1045.0 856.0,1045.7 857.3,1046.3 858.5,1047.0 859.7,1047.6 860.9,1048.3 862.1,1048.9 863.4,1049.5 864.6,1050.2 865.8,1050.8 867.0,1051.4 868.3,1052.0 869.5,1052.6 870.7,1053.2 871.9,1053.8 873.1,1054.4 874.4,1055.0 875.6,1055.6 876.8,1056.2 878.0,1056.8 879.3,1057.4 880.5,1057.9 881.7,1058.5 882.9,1059.1 884.1,1059.6 885.4,1060.2 886.6,1060.8 887.8,1061.3 889.0,1061.9 890.3,1062.4 891.5,1062.9 892.7,1063.5 893.9,1064.0 895.2,1064.5 896.4,1065.1 897.6,1065.6 898.8,1066.1 900.0,1066.6 901.3,1067.1 902.5,1067.6 903.7,1068.1 904.9,1068.6 906.2,1069.1 907.4,1069.6 908.6,1070.0 909.8,1070.5 911.0,1071.0 912.3,1071.5 913.5,1071.9 914.7,1072.4 915.9,1072.8 917.2,1073.3 918.4,1073.7 919.6,1074.2 920.8,1074.6 922.0,1075.0 923.3,1075.5 924.5,1075.9 925.7,1076.3 926.9,1076.7 928.2,1077.2 929.4,1077.6 930.6,1078.0 931.8,1078.4 933.1,1078.8 934.3,1079.2 935.5,1079.5 936.7,1079.9 937.9,1080.3 939.2,1080.7 940.4,1081.1 941.6,1081.4 942.8,1081.8 944.1,1082.1 945.3,1082.5 946.5,1082.9 947.7,1083.2 948.9,1083.5 950.2,1083.9 951.4,1084.2 952.6,1084.5 953.8,1084.9 955.1,1085.2 956.3,1085.5 957.5,1085.8 958.7,1086.1 959.9,1086.4 961.2,1086.7 962.4,1087.0 963.6,1087.3 964.8,1087.6 966.1,1087.9 967.3,1088.2 968.5,1088.4 969.7,1088.7 971.0,1089.0 972.2,1089.2 973.4,1089.5 974.6,1089.7 975.8,1090.0 977.1,1090.2 978.3,1090.5 979.5,1090.7 980.7,1090.9 982.0,1091.2 983.2,1091.4 984.4,1091.6 985.6,1091.8 986.8,1092.0 988.1,1092.2 989.3,1092.4 990.5,1092.6 991.7,1092.8 993.0,1093.0 994.2,1093.2 995.4,1093.4 996.6,1093.5 997.8,1093.7 999.1,1093.9 1000.3,1094.0 1001.5,1094.2 1002.7,1094.4 1004.0,1094.5 1005.2,1094.6 1006.4,1094.8 1007.6,1094.9 1008.9,1095.1 1010.1,1095.2 1011.3,1095.3 1012.5,1095.4 1013.7,1095.5 1015.0,1095.6 1016.2,1095.8 1017.4,1095.9 1018.6,1096.0 1019.9,1096.0 1021.1,1096.1 1022.3,1096.2 1023.5,1096.3 1024.7,1096.4 1026.0,1096.4 1027.2,1096.5 1028.4,1096.6 1029.6,1096.6 1030.9,1096.7 1032.1,1096.7 1033.3,1096.8 1034.5,1096.8 1035.7,1096.9 1037.0,1096.9 1038.2,1096.9 1039.4,1096.9 1040.6,1097.0 1041.9,1097.0 1043.1,1097.0 1044.3,1097.0 1045.5,1097.0 1046.8,1097.0 1048.0,1097.0 1049.2,1097.0 1050.4,1097.0 1051.6,1096.9 1052.9,1096.9 1054.1,1096.9 1055.3,1096.9 1056.5,1096.8 1057.8,1096.8 1059.0,1096.7 1060.2,1096.7 1061.4,1096.6 1062.6,1096.6 1063.9,1096.5 1065.1,1096.4 1066.3,1096.4 1067.5,1096.3 1068.8,1096.2 1070.0,1096.1 1071.2,1096.0 1072.4,1096.0 1073.6,1095.9 1074.9,1095.8 1076.1,1095.7 1077.3,1095.5 1078.5,1095.4 1079.8,1095.3 1081.0,1095.2 1082.2,1095.1 1083.4,1094.9 1084.7,1094.8 1085.9,1094.6 1087.1,1094.5 1088.3,1094.4 1089.5,1094.2 1090.8,1094.0 1092.0,1093.9 1093.2,1093.7 1094.4,1093.5 1095.7,1093.4 1096.9,1093.2 1098.1,1093.0 1099.3,1092.8 1100.5,1092.6 1101.8,1092.4 1103.0,1092.2 1104.2,1092.0 1105.4,1091.8 1106.7,1091.6 1107.9,1091.4 1109.1,1091.2 1110.3,1090.9 1111.5,1090.7 1112.8,1090.5 1114.0,1090.2 1115.2,1090.0 1116.4,1089.7 1117.7,1089.5 1118.9,1089.2 1120.1,1089.0 1121.3,1088.7 1122.6,1088.4 1123.8,1088.2 1125.0,1087.9 1126.2,1087.6 1127.4,1087.3 1128.7,1087.0 1129.9,1086.7 1131.1,1086.4 1132.3,1086.1 1133.6,1085.8 1134.8,1085.5 1136.0,1085.2 1137.2,1084.9 1138.4,1084.5 1139.7,1084.2 1140.9,1083.9 1142.1,1083.6 1143.3,1083.2 1144.6,1082.9 1145.8,1082.5 1147.0,1082.2 1148.2,1081.8 1149.4,1081.4 1150.7,1081.1 1151.9,1080.7 1153.1,1080.3 1154.3,1079.9 1155.6,1079.6 1156.8,1079.2 1158.0,1078.8 1159.2,1078.4 1160.4,1078.0 1161.7,1077.6 1162.9,1077.2 1164.1,1076.8 1165.3,1076.3 1166.6,1075.9 1167.8,1075.5 1169.0,1075.1 1170.2,1074.6 1171.5,1074.2 1172.7,1073.7 1173.9,1073.3 1175.1,1072.8 1176.3,1072.4 1177.6,1071.9 1178.8,1071.5 1180.0,1071.0 1181.2,1070.5 1182.5,1070.1 1183.7,1069.6 1184.9,1069.1 1186.1,1068.6 1187.3,1068.1 1188.6,1067.6 1189.8,1067.1 1191.0,1066.6 1192.2,1066.1 1193.5,1065.6 1194.7,1065.1 1195.9,1064.5 1197.1,1064.0 1198.3,1063.5 1199.6,1063.0 1200.8,1062.4 1202.0,1061.9 1203.2,1061.3 1204.5,1060.8 1205.7,1060.2 1206.9,1059.7 1208.1,1059.1 1209.4,1058.5 1210.6,1058.0 1211.8,1057.4 1213.0,1056.8 1214.2,1056.2 1215.5,1055.6 1216.7,1055.0 1217.9,1054.5 1219.1,1053.9 1220.4,1053.3 1221.6,1052.6 1222.8,1052.0 1224.0,1051.4 1225.2,1050.8 1226.5,1050.2 1227.7,1049.5 1228.9,1048.9 1230.1,1048.3 1231.4,1047.6 1232.6,1047.0 1233.8,1046.3 1235.0,1045.7 1236.2,1045.0 1237.5,1044.4 1238.7,1043.7 1239.9,1043.1 1241.1,1042.4 1242.4,1041.7 1243.6,1041.0 1244.8,1040.3 1246.0,1039.7 1247.3,1039.0 1248.5,1038.3 1249.7,1037.6 1250.9,1036.9 1252.1,1036.2 1253.4,1035.4 1254.6,1034.7 1255.8,1034.0 1257.0,1033.3 1258.3,1032.6 1259.5,1031.8 1260.7,1031.1 1261.9,1030.4 1263.1,1029.6 1264.4,1028.9 1265.6,1028.1 1266.8,1027.4 1268.0,1026.6 1269.3,1025.8 1270.5,1025.1 1271.7,1024.3 1272.9,1023.5 1274.1,1022.8 1275.4,1022.0 1276.6,1021.2 1277.8,1020.4 1279.0,1019.6 1280.3,1018.8 1281.5,1018.0 1282.7,1017.2 1283.9,1016.4 1285.2,1015.6 1286.4,1014.8 1287.6,1013.9 1288.8,1013.1 1290.0,1012.3 1291.3,1011.5 1292.5,1010.6 1293.7,1009.8 1294.9,1008.9 1296.2,1008.1 1297.4,1007.2 1298.6,1006.4 1299.8,1005.5 1301.0,1004.7 1302.3,1003.8 1303.5,1002.9 1304.7,1002.1 1305.9,1001.2 1307.2,1000.3 1308.4,999.4"/>
<polyline stroke="#000000" points="698.3,941.3 699.5,942.3 700.8,943.3 702.0,944.2 703.2,945.2 704.4,946.2 705.7,947.2 706.9,948.2 708.1,949.1 709.3,950.1 710.5,951.1 711.8,952.0 713.0,953.0 714.2,953.9 715.4,954.9 716.7,955.8 717.9,956.8 719.1,957.7 720.3,958.7 721.5,959.6 722.8,960.6 724.0,961.5 725.2,962.4 726.4,963.4 727.7,964.3 728.9,965.2 730.1,966.1 731.3,967.0 732.6,968.0 733.8,968.9 735.0,969.8 736.2,970.7 737.4,971.6 738.7,972.5 739.9,973.4 741.1,974.3 742.3,975.2 743.6,976.1 744.8,976.9 746.0,977.8 747.2,978.7 748.4,979.6 749.7,980.4 750.9,981.3 752.1,982.2 753.3,983.1 754.6,983.9 755.8,984.8 757.0,985.6 758.2,986.5 759.4,987.3 760.7,988.2 761.9,989.0 763.1,989.9 764.3,990.7 765.6,991.5 766.8,992.4 768.0,993.2 769.2,994.0 770.5,994.8 771.7,995.7 772.9,996.5 774.1,997.3 775.3,998.1 776.6,998.9 777.8,999.7 779.0,1000.5 780.2,1001.3 781.5,1002.1 782.7,1002.9 783.9,1003.7 785.1,1004.5 786.3,1005.3 787.6,1006.0 788.8,1006.8 790.0,1007.6 791.2,1008.4 792.5,1009.1 793.7,1009.9 794.9,1010.7 796.1,1011.4 797.3,1012.2 798.6,1012.9 799.8,1013.7 801.0,1014.4 802.2,1015.2 803.5,1015.9 804.7,1016.7 805.9,1017.4 807.1,1018.1 808.4,1018.9 809.6,1019.6 810.8,1020.3 812.0,1021.0 813.2,1021.8 814.5,1022.5 815.7,1023.2 816.9,1023.9 818.1,1024.6 819.4,1025.3 820.6,1026.0 821.8,1026.7 823.0,1027.4 824.2,1028.1 825.5,1028.8 826.7,1029.5 827.9,1030.2 829.1,1030.8 830.4,1031.5 831.6,1032.2 832.8,1032.9 834.0,1033.5 835.2,1034.2 836.5,1034.9 837.7,1035.5 838.9,1036.2 840.1,1036.8 841.4,1037.5 842.6,1038.2 843.8,1038.8 845.0,1039.5 846.3,1040.1 847.5,1040.7 848.7,1041.4 849.9,1042.0 851.1,1042.7 852.4,1043.3 853.6,1044.0 854.8,1044.6 856.0,1045.3 857.3,1045.9 858.5,1046.5 859.7,1047.2 860.9,1047.8 862.1,1048.4 863.4,1049.0 864.6,1049.7 865.8,1050.3 867.0,1050.9 868.3,1051.5 869.5,1052.1 870.7,1052.7 871.9,1053.3 873.1,1053.9 874.4,1054.4 875.6,1055.0 876.8,1055.6 878.0,1056.2 879.3,1056.7 880.5,1057.3 881.7,1057.8 882.9,1058.4 884.1,1058.9 885.4,1059.5 886.6,1060.0 887.8,1060.6 889.0,1061.1 890.3,1061.6 891.5,1062.1 892.7,1062.7 893.9,1063.2 895.2,1063.7 896.4,1064.2 897.6,1064.7 898.8,1065.2 900.0,1065.7 901.3,1066.2 902.5,1066.6 903.7,1067.1 904.9,1067.6 906.2,1068.1 907.4,1068.5 908.6,1069.0 909.8,1069.5 911.0,1069.9 912.3,1070.4 913.5,1070.8 914.7,1071.3 915.9,1071.7 917.2,1072.1 918.4,1072.6 919.6,1073.0 920.8,1073.4 922.0,1073.8 923.3,1074.2 924.5,1074.6 925.7,1075.0 926.9,1075.4 928.2,1075.8 929.4,1076.2 930.6,1076.6 931.8,1077.0 933.1,1077.4 934.3,1077.7 935.5,1078.1 936.7,1078.5 937.9,1078.8 939.2,1079.2 940.4,1079.5 941.6,1079.9 942.8,1080.2 944.1,1080.6 945.3,1080.9 946.5,1081.2 947.7,1081.6 948.9,1081.9 950.2,1082.2 951.4,1082.5 952.6,1082.8 953.8,1083.1 955.1,1083.4 956.3,1083.7 957.5,1084.0 958.7,1084.3 959.9,1084.6 961.2,1084.9 962.4,1085.2 963.6,1085.4 964.8,1085.7 966.1,1086.0 967.3,1086.2 968.5,1086.5 969.7,1086.7 971.0,1087.0 972.2,1087.2 973.4,1087.5 974.6,1087.7 975.8,1087.9 977.1,1088.2 978.3,1088.4 979.5,1088.6 980.7,1088.8 982.0,1089.0 983.2,1089.3 984.4,1089.5 985.6,1089.7 986.8,1089.9 988.1,1090.0 989.3,1090.2 990.5,1090.4 991.7,1090.6 993.0,1090.8 994.2,1090.9 995.4,1091.1 996.6,1091.3 997.8,1091.4 999.1,1091.6 1000.3,1091.7 1001.5,1091.9 1002.7,1092.0 1004.0,1092.2 1005.2,1092.3 1006.4,1092.4 1007.6,1092.6 1008.9,1092.7 1010.1,1092.8 1011.3,1092.9 1012.5,1093.1 1013.7,1093.2 1015.0,1093.3 1016.2,1093.4 1017.4,1093.5 1018.6,1093.6 1019.9,1093.6 1021.1,1093.7 1022.3,1093.8 1023.5,1093.9 1024.7,1094.0 1026.0,1094.0 1027.2,1094.1 1028.4,1094.2 1029.6,1094.2 1030.9,1094.3 1032.1,1094.3 1033.3,1094.4 1034.5,1094.4 1035.7,1094.5 1037.0,1094.5 1038.2,1094.5 1039.4,1094.5 1040.6,1094.6 1041.9,1094.6 1043.1,1094.6 1044.3,1094.6 1045.5,1094.6 1046.8,1094.6 1048.0,1094.6 1049.2,1094.6 1050.4,1094.6 1051.6,1094.6 1052.9,1094.6 1054.1,1094.6 1055.3,1094.5 1056.5,1094.5 1057.8,1094.5 1059.0,1094.4 1060.2,1094.4 1061.4,1094.4 1062.6,1094.3 1063.9,1094.3 1065.1,1094.2 1066.3,1094.1 1067.5,1094.1 1068.8,1094.0 1070.0,1093.9 1071.2,1093.9 1072.4,1093.8 1073.6,1093.7 1074.9,1093.6 1076.1,1093.5 1077.3,1093.4 1078.5,1093.3 1079.8,1093.2 1081.0,1093.1 1082.2,1093.0 1083.4,1092.9 1084.7,1092.8 1085.9,1092.6 1087.1,1092.5 1088.3,1092.4 1089.5,1092.2 1090.8,1092.1 1092.0,1092.0 1093.2,1091.8 1094.4,1091.6 1095.7,1091.5 1096.9,1091.3 1098.1,1091.2 1099.3,1091.0 1100.5,1090.8 1101.8,1090.6 1103.0,1090.5 1104.2,1090.3 1105.4,1090.1 1106.7,1089.9 1107.9,1089.7 1109.1,1089.5 1110.3,1089.3 1111.5,1089.1 1112.8,1088.8 1114.0,1088.6 1115.2,1088.4 1116.4,1088.2 1117.7,1087.9 1118.9,1087.7 1120.1,1087.5 1121.3,1087.2 1122.6,1087.0 1123.8,1086.7 1125.0,1086.5 1126.2,1086.2 1127.4,1085.9 1128.7,1085.7 1129.9,1085.4 1131.1,1085.1 1132.3,1084.8 1133.6,1084.5 1134.8,1084.2 1136.0,1083.9 1137.2,1083.6 1138.4,1083.3 1139.7,1083.0 1140.9,1082.7 1142.1,1082.4 1143.3,1082.1 1144.6,1081.7 1145.8,1081.4 1147.0,1081.1 1148.2,1080.7 1149.4,1080.4 1150.7,1080.0 1151.9,1079.7 1153.1,1079.3 1154.3,1079.0 1155.6,1078.6 1156.8,1078.2 1158.0,1077.8 1159.2,1077.5 1160.4,1077.1 1161.7,1076.7 1162.9,1076.3 1164.1,1075.9 1165.3,1075.5 1166.6,1075.1 1167.8,1074.7 1169.0,1074.3 1170.2,1073.9 1171.5,1073.4 1172.7,1073.0 1173.9,1072.6 1175.1,1072.1 1176.3,1071.7 1177.6,1071.2 1178.8,1070.8 1180.0,1070.3 1181.2,1069.9 1182.5,1069.4 1183.7,1069.0 1184.9,1068.5 1186.1,1068.0 1187.3,1067.5 1188.6,1067.0 1189.8,1066.6 1191.0,1066.1 1192.2,1065.6 1193.5,1065.1 1194.7,1064.6 1195.9,1064.1 1197.1,1063.5 1198.3,1063.0 1199.6,1062.5 1200.8,1062.0 1202.0,1061.4 1203.2,1060.9 1204.5,1060.4 1205.7,1059.8 1206.9,1059.3 1208.1,1058.7 1209.4,1058.2 1210.6,1057.6 1211.8,1057.0 1213.0,1056.5 1214.2,1055.9 1215.5,1055.3 1216.7,1054.7 1217.9,1054.1 1219.1,1053.5 1220.4,1053.0 1221.6,1052.4 1222.8,1051.8 1224.0,1051.1 1225.2,1050.5 1226.5,1049.9 1227.7,1049.3 1228.9,1048.7 1230.1,1048.0 1231.4,1047.4 1232.6,1046.8 1233.8,1046.1 1235.0,1045.5 1236.2,1044.8 1237.5,1044.2 1238.7,1043.5 1239.9,1042.9 1241.1,1042.2 1242.4,1041.5 1243.6,1040.9 1244.8,1040.2 1246.0,1039.5 1247.3,1038.8 1248.5,1038.1 1249.7,1037.4 1250.9,1036.7 1252.1,1036.0 1253.4,1035.3 1254.6,1034.6 1255.8,1033.9 1257.0,1033.2 1258.3,1032.4 1259.5,1031.7 1260.7,1031.0 1261.9,1030.2 1263.1,1029.5 1264.4,1028.8 1265.6,1028.0 1266.8,1027.3 1268.0,1026.5 1269.3,1025.8 1270.5,1025.0 1271.7,1024.2 1272.9,1023.5 1274.1,1022.7 1275.4,1021.9 1276.6,1021.1 1277.8,1020.3 1279.0,1019.5 1280.3,1018.7 1281.5,1017.9 1282.7,1017.1 1283.9,1016.3 1285.2,1015.5 1286.4,1014.7 1287.6,1013.9 1288.8,1013.1 1290.0,1012.2 1291.3,1011.4 1292.5,1010.6 1293.7,1009.7 1294.9,1008.9 1296.2,1008.1 1297.4,1007.2 1298.6,1006.4 1299.8,1005.5 1301.0,1004.6 1302.3,1003.8 1303.5,1002.9 1304.7,1002.0 1305.9,1001.2 1307.2,1000.3 1308.4,999.4"/>
<polyline stroke="#ff0000" points="698.3,929.8 699.5,930.9 700.8,932.0 702.0,933.1 703.2,934.3 704.4,935.4 705.7,936.5 706.9,937.6 708.1,938.7 709.3,939.8 710.5,940.9 711.8,942.0 713.0,943.1 714.2,944.2 715.4,945.2 716.7,946.3 717.9,947.4 719.1,948.5 720.3,949.5 721.5,950.6 722.8,951.7 724.0,952.7 725.2,953.8 726.4,954.8 727.7,955.9 728.9,956.9 730.1,958.0 731.3,959.0 732.6,960.0 733.8,961.1 735.0,962.1 736.2,963.1 737.4,964.1 738.7,965.2 739.9,966.2 741.1,967.2 742.3,968.2 743.6,969.2 744.8,970.2 746.0,971.2 747.2,972.2 748.4,973.2 749.7,974.2 750.9,975.1 752.1,976.1 753.3,977.1 754.6,978.1 755.8,979.0 757.0,980.0 758.2,981.0 759.4,981.9 760.7,982.9 761.9,983.8 763.1,984.8 764.3,985.7 765.6,986.6 766.8,987.6 768.0,988.5 769.2,989.4 770.5,990.4 771.7,991.3 772.9,992.2 774.1,993.1 775.3,994.0 776.6,994.9 777.8,995.8 779.0,996.7 780.2,997.6 781.5,998.5 782.7,999.4 783.9,1000.3 785.1,1001.2 786.3,1002.0 787.6,1002.9 788.8,1003.8 790.0,1004.7 791.2,1005.5 792.5,1006.4 793.7,1007.2 794.9,1008.1 796.1,1008.9 797.3,1009.8 798.6,1010.6 799.8,1011.4 801.0,1012.3 802.2,1013.1 803.5,1013.9 804.7,1014.7 805.9,1015.6 807.1,1016.4 808.4,1017.2 809.6,1018.0 810.8,1018.8 812.0,1019.6 813.2,1020.4 814.5,1021.2 815.7,1021.9 816.9,1022.7 818.1,1023.5 819.4,1024.3 820.6,1025.1 821.8,1025.8 823.0,1026.6 824.2,1027.3 825.5,1028.1 826.7,1028.8 827.9,1029.6 829.1,1030.3 830.4,1031.1 831.6,1031.8 832.8,1032.5 834.0,1033.3 835.2,1034.0 836.5,1034.7 837.7,1035.4 838.9,1036.1 840.1,1036.8 841.4,1037.5 842.6,1038.2 843.8,1038.9 845.0,1039.6 846.3,1040.3 847.5,1041.0 848.7,1041.7 849.9,1042.4 851.1,1043.0 852.4,1043.7 853.6,1044.4 854.8,1045.0 856.0,1045.7 857.3,1046.3 858.5,1047.0 859.7,1047.6 860.9,1048.3 862.1,1048.9 863.4,1049.5 864.6,1050.2 865.8,1050.8 867.0,1051.4 868.3,1052.0 869.5,1052.6 870.7,1053.2 871.9,1053.8 873.1,1054.4 874.4,1055.0 875.6,1055.6 876.8,1056.2 878.0,1056.8 879.3,1057.4 880.5,1057.9 881.7,1058.5 882.9,1059.1 884.1,1059.6 885.4,1060.2 886.6,1060.8 887.8,1061.3 889.0,1061.9 890.3,1062.4 891.5,1062.9 892.7,1063.5 893.9,1064.0 895.2,1064.5 896.4,1065.1 897.6,1065.6 898.8,1066.1 900.0,1066.6 901.3,1067.1 902.5,1067.6 903.7,1068.1 904.9,1068.6 906.2,1069.1 907.4,1069.6 908.6,1070.0 909.8,1070.5 911.0,1071.0 912.3,1071.5 913.5,1071.9 914.7,1072.4 915.9,1072.8 917.2,1073.3 918.4,1073.7 919.6,1074.2 920.8,1074.6 922.0,1075.0 923.3,1075.5 924.5,1075.9 925.7,1076.3 926.9,1076.7 928.2,1077.2 929.4,1077.6 930.6,1078.0 931.8,1078.4 933.1,1078.8 934.3,1079.2 935.5,1079.5 936.7,1079.9 937.9,1080.3 939.2,1080.7 940.4,1081.1 941.6,1081.4 942.8,1081.8 944.1,1082.1 945.3,1082.5 946.5,1082.9 947.7,1083.2 948.9,1083.5 950.2,1083.9 951.4,1084.2 952.6,1084.5 953.8,1084.9 955.1,1085.2 956.3,1085.5 957.5,1085.8 958.7,1086.1 959.9,1086.4 961.2,1086.7 962.4,1087.0 963.6,1087.3 964.8,1087.6 966.1,1087.9 967.3,1088.2 968.5,1088.4 969.7,1088.7 971.0,1089.0 972.2,1089.2 973.4,1089.5 974.6,1089.7 975.8,1090.0 977.1,1090.2 978.3,1090.5 979.5,1090.7 980.7,1090.9 982.0,1091.2 983.2,1091.4 984.4,1091.6 985.6,1091.8 986.8,1092.0 988.1,1092.2 989.3,1092.4 990.5,1092.6 991.7,1092.8 993.0,1093.0 994.2,1093.2 995.4,1093.4 996.6,1093.5 997.8,1093.7 999.1,1093.9 1000.3,1094.0 1001.5,1094.2 1002.7,1094.4 1004.0,1094.5 1005.2,1094.6 1006.4,1094.8 1007.6,1094.9 1008.9,1095.1 1010.1,1095.2 1011.3,1095.3 1012.5,1095.4 1013.7,1095.5 1015.0,1095.6 1016.2,1095.8 1017.4,1095.9 1018.6,1096.0 1019.9,1096.0 1021.1,1096.1 1022.3,1096.2 1023.5,1096.3 1024.7,1096.4 1026.0,1096.4 1027.2,1096.5 1028.4,1096.6 1029.6,1096.6 1030.9,1096.7 1032.1,1096.7 1033.3,1096.8 1034.5,1096.8 1035.7,1096.9 1037.0,1096.9 1038.2,1096.9 1039.4,1096.9 1040.6,1097.0 1041.9,1097.0 1043.1,1097.0 1044.3,1097.0 1045.5,1097.0 1046.8,1097.0 1048.0,1097.0 1049.2,1097.0 1050.4,1097.0 1051.6,1096.9 1052.9,1096.9 1054.1,1096.9 1055.3,1096.9 1056.5,1096.8 1057.8,1096.8 1059.0,1096.7 1060.2,1096.7 1061.4,1096.6 1062.6,1096.6 1063.9,1096.5 1065.1,1096.4 1066.3,1096.4 1067.5,1096.3 1068.8,1096.2 1070.0,1096.1 1071.2,1096.0 1072.4,1096.0 1073.6,1095.9 1074.9,1095.8 1076.1,1095.7 1077.3,1095.5 1078.5,1095.4 1079.8,1095.3 1081.0,1095.2 1082.2,1095.1 1083.4,1094.9 1084.7,1094.8 1085.9,1094.6 1087.1,1094.5 1088.3,1094.4 1089.5,1094.2 1090.8,1094.0 1092.0,1093.9 1093.2,1093.7 1094.4,1093.5 1095.7,1093.4 1096.9,1093.2 1098.1,1093.0 1099.3,1092.8 1100.5,1092.6 1101.8,1092.4 1103.0,1092.2 1104.2,1092.0 1105.4,1091.8 1106.7,1091.6 1107.9,1091.4 1109.1,1091.2 1110.3,1090.9 1111.5,1090.7 1112.8,1090.5 1114.0,1090.2 1115.2,1090.0 1116.4,1089.7 1117.7,1089.5 1118.9,1089.2 1120.1,1089.0 1121.3,1088.7 1122.6,1088.4 1123.8,1088.2 1125.0,1087.9 1126.2,1087.6 1127.4,1087.3 1128.7,1087.0 1129.9,1086.7 1131.1,1086.4 1132.3,1086.1 1133.6,1085.8 1134.8,1085.5 1136.0,1085.2 1137.2,1084.9 1138.4,1084.5 1139.7,1084.2 1140.9,1083.9 1142.1,1083.6 1143.3,1083.2 1144.6,1082.9 1145.8,1082.5 1147.0,1082.2 1148.2,1081.8 1149.4,1081.4 1150.7,1081.1 1151.9,1080.7 1153.1,1080.3 1154.3,1079.9 1155.6,1079.6 1156.8,1079.2 1158.0,1078.8 1159.2,1078.4 1160.4,1078.0 1161.7,1077.6 1162.9,1077.2 1164.1,1076.8 1165.3,1076.3 1166.6,1075.9 1167.8,1075.5 1169.0,1075.1 1170.2,1074.6 1171.5,1074.2 1172.7,1073.7 1173.9,1073.3 1175.1,1072.8 1176.3,1072.4 1177.6,1071.9 1178.8,1071.5 1180.0,1071.0 1181.2,1070.5 1182.5,1070.1 1183.7,1069.6 1184.9,1069.1 1186.1,1068.6 1187.3,1068.1 1188.6,1067.6 1189.8,1067.1 1191.0,1066.6 1192.2,1066.1 1193.5,1065.6 1194.7,1065.1 1195.9,1064.5 1197.1,1064.0 1198.3,1063.5 1199.6,1063.0 1200.8,1062.4 1202.0,1061.9 1203.2,1061.3 1204.5,1060.8 1205.7,1060.2 1206.9,1059.7 1208.1,1059.1 1209.4,1058.5 1210.6,1058.0 1211.8,1057.4 1213.0,1056.8 1214.2,1056.2 1215.5,1055.6 1216.7,1055.0 1217.9,1054.5 1219.1,1053.9 1220.4,1053.3 1221.6,1052.6 1222.8,1052.0 1224.0,1051.4 1225.2,1050.8 1226.5,1050.2 1227.7,1049.5 1228.9,1048.9 1230.1,1048.3 1231.4,1047.6 1232.6,1047.0 1233.8,1046.3 1235.0,1045.7 1236.2,1045.0 1237.5,1044.4 1238.7,1043.7 1239.9,1043.1 1241.1,1042.4 1242.4,1041.7 1243.6,1041.0 1244.8,1040.3 1246.0,1039.7 1247.3,1039.0 1248.5,1038.3 1249.7,1037.6 1250.9,1036.9 1252.1,1036.2 1253.4,1035.4 1254.6,1034.7 1255.8,1034.0 1257.0,1033.3 1258.3,1032.6 1259.5,1031.8 1260.7,1031.1 1261.9,1030.4 1263.1,1029.6 1264.4,1028.9 1265.6,1028.1 1266.8,1027.4 1268.0,1026.6 1269.3,1025.8 1270.5,1025.1 1271.7,1024.3 1272.9,1023.5 1274.1,1022.8 1275.4,1022.0 1276.6,1021.2 1277.8,1020.4 1279.0,1019.6 1280.3,1018.8 1281.5,1018.0 1282.7,1017.2 1283.9,1016.4 1285.2,1015.6 1286.4,1014.8 1287.6,1013.9 1288.8,1013.1 1290.0,1012.3 1291.3,1011.5 1292.5,1010.6 1293.7,1009.8 1294.9,1008.9 1296.2,1008.1 1297.4,1007.2 1298.6,1006.4 1299.8,1005.5 1301.0,1004.7 1302.3,1003.8 1303.5,1002.9 1304.7,1002.1 1305.9,1001.2 1307.2,1000.3 1308.4,999.4"/>
</g>
<text transform="translate(722.3,1189.3) scale(0.960,1.000)" text-anchor="middle" font-family="'Liberation Serif','DejaVu Serif',serif" font-size="33.5" fill="#262626" stroke="#262626" stroke-width="0.9" stroke-linejoin="round">1.8</text>
<text transform="translate(832.1,1189.3) scale(0.960,1.000)" text-anchor="middle" font-family="'Liberation Serif','DejaVu Serif',serif" font-size="33.5" fill="#262626" stroke="#262626" stroke-width="0.9" stroke-linejoin="round">1.9</text>
<text transform="translate(941.9,1189.3) scale(0.960,1.000)" text-anchor="middle" font-family="'Liberation Serif','DejaVu Serif',serif" font-size="33.5" fill="#262626" stroke="#262626" stroke-width="0.9" stroke-linejoin="round">2</text>
<text transform="translate(1051.7,1189.3) scale(0.960,1.000)" text-anchor="middle" font-family="'Liberation Serif','DejaVu Serif',serif" font-size="33.5" fill="#262626" stroke="#262626" stroke-width="0.9" stroke-linejoin="round">2.1</text>
<text transform="translate(1161.5,1189.3) scale(0.960,1.000)" text-anchor="middle" font-family="'Liberation Serif','DejaVu Serif',serif" font-size="33.5" fill="#262626" stroke="#262626" stroke-width="0.9" stroke-linejoin="round">2.2</text>
<text transform="translate(1271.3,1189.3) scale(0.960,1.000)" text-anchor="middle" font-family="'Liberation Serif','DejaVu Serif',serif" font-size="33.5" fill="#262626" stroke="#262626" stroke-width="0.9" stroke-linejoin="round">2.3</text>
<text transform="translate(704.0,934.7) scale(0.960,1.000)" text-anchor="end" font-family="'Liberation Serif','DejaVu Serif',serif" font-size="33.5" fill="#262626" stroke="#262626" stroke-width="0.9" stroke-linejoin="round">1.5</text>
<text transform="translate(638.8,937.2) scale(1.239,1.000)" text-anchor="start" font-family="'Liberation Serif','DejaVu Serif',serif" font-size="33.5" fill="#262626" stroke="#262626" stroke-width="0.9" stroke-linejoin="round">−</text>
<text transform="translate(704.0,1107.0) scale(0.960,1.000)" text-anchor="end" font-family="'Liberation Serif','DejaVu Serif',serif" font-size="33.5" fill="#262626" stroke="#262626" stroke-width="0.9" stroke-linejoin="round">2</text>
<text transform="translate(662.9,1109.5) scale(1.239,1.000)" text-anchor="start" font-family="'Liberation Serif','DejaVu Serif',serif" font-size="33.5" fill="#262626" stroke="#262626" stroke-width="0.9" stroke-linejoin="round">−</text>
</g>
<rect x="1707.7" y="914.6" width="517.6" height="300.1" fill="#fff" stroke="#262626" stroke-width="2.8"/>
<line x1="1719.8" y1="968.0" x2="1846" y2="968.0" stroke="#ff0000" stroke-width="5.9"/>
<text transform="translate(1863.0,987.5) scale(0.930,1.000)" text-anchor="start" font-family="'Liberation Serif','DejaVu Serif',serif" font-size="77" font-style="italic" fill="#000" stroke="#000" stroke-width="1.3" stroke-linejoin="round">y</text>
<text transform="translate(1892.9,1000.1) scale(0.950,1.000)" text-anchor="start" font-family="'Liberation Serif','DejaVu Serif',serif" font-size="57.5" fill="#000" stroke="#000" stroke-width="1.1" stroke-linejoin="round">01</text>
<line x1="1719.8" y1="1064.8" x2="1846" y2="1064.8" stroke="#00ff00" stroke-width="5.9"/>
<text transform="translate(1863.0,1084.3) scale(0.930,1.000)" text-anchor="start" font-family="'Liberation Serif','DejaVu Serif',serif" font-size="77" font-style="italic" fill="#000" stroke="#000" stroke-width="1.3" stroke-linejoin="round">y</text>
<text transform="translate(1892.9,1096.9) scale(0.950,1.000)" text-anchor="start" font-family="'Liberation Serif','DejaVu Serif',serif" font-size="57.5" fill="#000" stroke="#000" stroke-width="1.1" stroke-linejoin="round">11</text>
<line x1="1719.8" y1="1161.5" x2="1846" y2="1161.5" stroke="#0000ff" stroke-width="5.9"/>
<text transform="translate(1863.0,1181.0) scale(0.930,1.000)" text-anchor="start" font-family="'Liberation Serif','DejaVu Serif',serif" font-size="77" font-style="italic" fill="#000" stroke="#000" stroke-width="1.3" stroke-linejoin="round">y</text>
<text transform="translate(1892.9,1193.6) scale(0.950,1.000)" text-anchor="start" font-family="'Liberation Serif','DejaVu Serif',serif" font-size="57.5" fill="#000" stroke="#000" stroke-width="1.1" stroke-linejoin="round">21</text>
<line x1="1978" y1="968.0" x2="2104.9" y2="968.0" stroke="#00ffff" stroke-width="5.9"/>
<text transform="translate(2121.4,987.5) scale(0.930,1.000)" text-anchor="start" font-family="'Liberation Serif','DejaVu Serif',serif" font-size="77" font-style="italic" fill="#000" stroke="#000" stroke-width="1.3" stroke-linejoin="round">y</text>
<text transform="translate(2151.3,1000.1) scale(0.950,1.000)" text-anchor="start" font-family="'Liberation Serif','DejaVu Serif',serif" font-size="57.5" fill="#000" stroke="#000" stroke-width="1.1" stroke-linejoin="round">31</text>
<line x1="1978" y1="1064.8" x2="2104.9" y2="1064.8" stroke="#ff00ff" stroke-width="5.9"/>
<text transform="translate(2121.4,1084.3) scale(0.930,1.000)" text-anchor="start" font-family="'Liberation Serif','DejaVu Serif',serif" font-size="77" font-style="italic" fill="#000" stroke="#000" stroke-width="1.3" stroke-linejoin="round">y</text>
<text transform="translate(2151.3,1096.9) scale(0.950,1.000)" text-anchor="start" font-family="'Liberation Serif','DejaVu Serif',serif" font-size="57.5" fill="#000" stroke="#000" stroke-width="1.1" stroke-linejoin="round">41</text>
<line x1="1978" y1="1161.5" x2="2104.9" y2="1161.5" stroke="#000000" stroke-width="5.9"/>
<text transform="translate(2121.4,1181.0) scale(0.930,1.000)" text-anchor="start" font-family="'Liberation Serif','DejaVu Serif',serif" font-size="77" font-style="italic" fill="#000" stroke="#000" stroke-width="1.3" stroke-linejoin="round">y</text>
<text transform="translate(2151.3,1193.6) scale(0.950,1.000)" text-anchor="start" font-family="'Liberation Serif','DejaVu Serif',serif" font-size="57.5" fill="#000" stroke="#000" stroke-width="1.1" stroke-linejoin="round">51</text>
</svg></body></html>
